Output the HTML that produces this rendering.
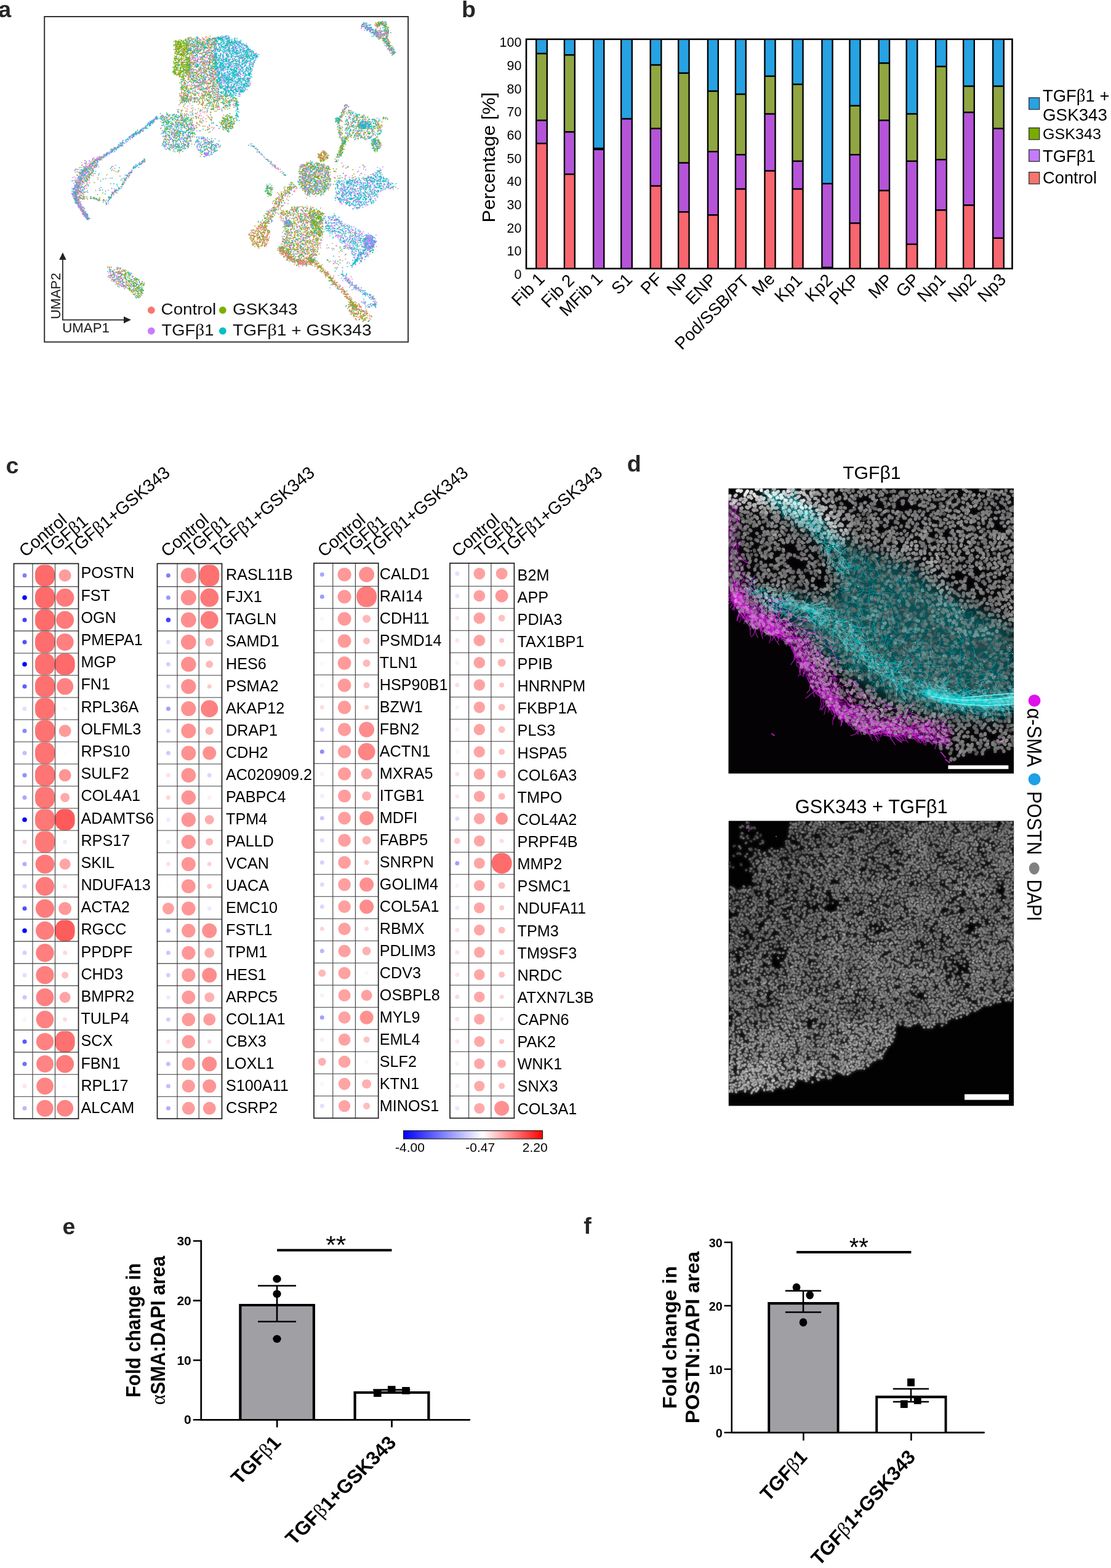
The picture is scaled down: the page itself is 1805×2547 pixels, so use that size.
<!DOCTYPE html>
<html lang="en"><head><meta charset="utf-8"><title>Figure</title>
<style>
html,body{margin:0;padding:0;background:#fff}
body{width:1805px;height:2547px}
svg{display:block;font-family:"Liberation Sans",sans-serif}
</style></head><body>
<svg width="1805" height="2547" viewBox="0 0 1805 2547">
<rect width="1805" height="2547" fill="#fff"/>
<g id="panel-b">
<rect x="871.17" y="63.75" width="17.65" height="23.25" fill="#27a2e2"/>
<rect x="871.17" y="87" width="17.65" height="108.5" fill="#90a642"/>
<rect x="871.17" y="195.5" width="17.65" height="37.5" fill="#b554d8"/>
<rect x="871.17" y="233" width="17.65" height="203.25" fill="#f8666f"/>
<path d="M871.17 63.75V436.25M888.82 63.75V436.25M870 87H890M870 195.5H890M870 233H890" stroke="#000" stroke-width="2.35" fill="none"/>
<rect x="916.92" y="63.75" width="16.9" height="25.5" fill="#27a2e2"/>
<rect x="916.92" y="89.25" width="16.9" height="125" fill="#90a642"/>
<rect x="916.92" y="214.25" width="16.9" height="68.75" fill="#b554d8"/>
<rect x="916.92" y="283" width="16.9" height="153.25" fill="#f8666f"/>
<path d="M916.92 63.75V436.25M933.82 63.75V436.25M915.75 89.25H935M915.75 214.25H935M915.75 283H935" stroke="#000" stroke-width="2.35" fill="none"/>
<rect x="964.17" y="63.75" width="17.15" height="177.15" fill="#27a2e2"/>
<rect x="964.17" y="240.9" width="17.15" height="1.8" fill="#90a642"/>
<rect x="964.17" y="242.7" width="17.15" height="193.55" fill="#b554d8"/>
<path d="M964.17 63.75V436.25M981.32 63.75V436.25M963 240.9H982.5M963 242.7H982.5" stroke="#000" stroke-width="2.35" fill="none"/>
<rect x="1009.17" y="63.75" width="17.65" height="129.25" fill="#27a2e2"/>
<rect x="1009.17" y="193" width="17.65" height="243.25" fill="#b554d8"/>
<path d="M1009.17 63.75V436.25M1026.83 63.75V436.25M1008 193H1028M1008 193H1028" stroke="#000" stroke-width="2.35" fill="none"/>
<rect x="1056.67" y="63.75" width="17.65" height="41.75" fill="#27a2e2"/>
<rect x="1056.67" y="105.5" width="17.65" height="103.25" fill="#90a642"/>
<rect x="1056.67" y="208.75" width="17.65" height="93.25" fill="#b554d8"/>
<rect x="1056.67" y="302" width="17.65" height="134.25" fill="#f8666f"/>
<path d="M1056.67 63.75V436.25M1074.33 63.75V436.25M1055.5 105.5H1075.5M1055.5 208.75H1075.5M1055.5 302H1075.5" stroke="#000" stroke-width="2.35" fill="none"/>
<rect x="1102.17" y="63.75" width="17.4" height="55" fill="#27a2e2"/>
<rect x="1102.17" y="118.75" width="17.4" height="145.75" fill="#90a642"/>
<rect x="1102.17" y="264.5" width="17.4" height="79.75" fill="#b554d8"/>
<rect x="1102.17" y="344.25" width="17.4" height="92" fill="#f8666f"/>
<path d="M1102.17 63.75V436.25M1119.58 63.75V436.25M1101 118.75H1120.75M1101 264.5H1120.75M1101 344.25H1120.75" stroke="#000" stroke-width="2.35" fill="none"/>
<rect x="1149.92" y="63.75" width="16.9" height="84.25" fill="#27a2e2"/>
<rect x="1149.92" y="148" width="16.9" height="98.25" fill="#90a642"/>
<rect x="1149.92" y="246.25" width="16.9" height="103" fill="#b554d8"/>
<rect x="1149.92" y="349.25" width="16.9" height="87" fill="#f8666f"/>
<path d="M1149.92 63.75V436.25M1166.83 63.75V436.25M1148.75 148H1168M1148.75 246.25H1168M1148.75 349.25H1168" stroke="#000" stroke-width="2.35" fill="none"/>
<rect x="1194.92" y="63.75" width="16.9" height="89.25" fill="#27a2e2"/>
<rect x="1194.92" y="153" width="16.9" height="98.25" fill="#90a642"/>
<rect x="1194.92" y="251.25" width="16.9" height="55.75" fill="#b554d8"/>
<rect x="1194.92" y="307" width="16.9" height="129.25" fill="#f8666f"/>
<path d="M1194.92 63.75V436.25M1211.83 63.75V436.25M1193.75 153H1213M1193.75 251.25H1213M1193.75 307H1213" stroke="#000" stroke-width="2.35" fill="none"/>
<rect x="1242.42" y="63.75" width="17.15" height="60" fill="#27a2e2"/>
<rect x="1242.42" y="123.75" width="17.15" height="61.25" fill="#90a642"/>
<rect x="1242.42" y="185" width="17.15" height="92.5" fill="#b554d8"/>
<rect x="1242.42" y="277.5" width="17.15" height="158.75" fill="#f8666f"/>
<path d="M1242.42 63.75V436.25M1259.58 63.75V436.25M1241.25 123.75H1260.75M1241.25 185H1260.75M1241.25 277.5H1260.75" stroke="#000" stroke-width="2.35" fill="none"/>
<rect x="1287.42" y="63.75" width="17.15" height="73.25" fill="#27a2e2"/>
<rect x="1287.42" y="137" width="17.15" height="124.75" fill="#90a642"/>
<rect x="1287.42" y="261.75" width="17.15" height="45.25" fill="#b554d8"/>
<rect x="1287.42" y="307" width="17.15" height="129.25" fill="#f8666f"/>
<path d="M1287.42 63.75V436.25M1304.58 63.75V436.25M1286.25 137H1305.75M1286.25 261.75H1305.75M1286.25 307H1305.75" stroke="#000" stroke-width="2.35" fill="none"/>
<rect x="1335.42" y="63.75" width="17.15" height="234.5" fill="#27a2e2"/>
<rect x="1335.42" y="298.25" width="17.15" height="136.25" fill="#b554d8"/>
<rect x="1335.42" y="434.5" width="17.15" height="1.75" fill="#f8666f"/>
<path d="M1335.42 63.75V436.25M1352.58 63.75V436.25M1334.25 298.25H1353.75M1334.25 298.25H1353.75M1334.25 434.5H1353.75" stroke="#000" stroke-width="2.35" fill="none"/>
<rect x="1380.42" y="63.75" width="17.15" height="108" fill="#27a2e2"/>
<rect x="1380.42" y="171.75" width="17.15" height="79.5" fill="#90a642"/>
<rect x="1380.42" y="251.25" width="17.15" height="111.25" fill="#b554d8"/>
<rect x="1380.42" y="362.5" width="17.15" height="73.75" fill="#f8666f"/>
<path d="M1380.42 63.75V436.25M1397.58 63.75V436.25M1379.25 171.75H1398.75M1379.25 251.25H1398.75M1379.25 362.5H1398.75" stroke="#000" stroke-width="2.35" fill="none"/>
<rect x="1427.67" y="63.75" width="17.4" height="38.75" fill="#27a2e2"/>
<rect x="1427.67" y="102.5" width="17.4" height="93" fill="#90a642"/>
<rect x="1427.67" y="195.5" width="17.4" height="114" fill="#b554d8"/>
<rect x="1427.67" y="309.5" width="17.4" height="126.75" fill="#f8666f"/>
<path d="M1427.67 63.75V436.25M1445.08 63.75V436.25M1426.5 102.5H1446.25M1426.5 195.5H1446.25M1426.5 309.5H1446.25" stroke="#000" stroke-width="2.35" fill="none"/>
<rect x="1472.67" y="63.75" width="17.65" height="121.25" fill="#27a2e2"/>
<rect x="1472.67" y="185" width="17.65" height="76.75" fill="#90a642"/>
<rect x="1472.67" y="261.75" width="17.65" height="135" fill="#b554d8"/>
<rect x="1472.67" y="396.75" width="17.65" height="39.5" fill="#f8666f"/>
<path d="M1472.67 63.75V436.25M1490.33 63.75V436.25M1471.5 185H1491.5M1471.5 261.75H1491.5M1471.5 396.75H1491.5" stroke="#000" stroke-width="2.35" fill="none"/>
<rect x="1520.17" y="63.75" width="17.65" height="44.25" fill="#27a2e2"/>
<rect x="1520.17" y="108" width="17.65" height="151.25" fill="#90a642"/>
<rect x="1520.17" y="259.25" width="17.65" height="82" fill="#b554d8"/>
<rect x="1520.17" y="341.25" width="17.65" height="95" fill="#f8666f"/>
<path d="M1520.17 63.75V436.25M1537.83 63.75V436.25M1519 108H1539M1519 259.25H1539M1519 341.25H1539" stroke="#000" stroke-width="2.35" fill="none"/>
<rect x="1565.17" y="63.75" width="17.65" height="76.25" fill="#27a2e2"/>
<rect x="1565.17" y="140" width="17.65" height="42.5" fill="#90a642"/>
<rect x="1565.17" y="182.5" width="17.65" height="150.75" fill="#b554d8"/>
<rect x="1565.17" y="333.25" width="17.65" height="103" fill="#f8666f"/>
<path d="M1565.17 63.75V436.25M1582.83 63.75V436.25M1564 140H1584M1564 182.5H1584M1564 333.25H1584" stroke="#000" stroke-width="2.35" fill="none"/>
<rect x="1613.17" y="63.75" width="17.65" height="76.25" fill="#27a2e2"/>
<rect x="1613.17" y="140" width="17.65" height="68.75" fill="#90a642"/>
<rect x="1613.17" y="208.75" width="17.65" height="178" fill="#b554d8"/>
<rect x="1613.17" y="386.75" width="17.65" height="49.5" fill="#f8666f"/>
<path d="M1613.17 63.75V436.25M1630.83 63.75V436.25M1612 140H1632M1612 208.75H1632M1612 386.75H1632" stroke="#000" stroke-width="2.35" fill="none"/>
<rect x="855" y="63.75" width="789.5" height="372.5" fill="none" stroke="#000" stroke-width="2.6"/>
<text x="0" y="0" font-size="22.3" text-anchor="end" transform="translate(847.3 76.4) scale(0.96 1)">100</text>
<text x="0" y="0" font-size="22.3" text-anchor="end" transform="translate(847.3 114.08) scale(0.96 1)">90</text>
<text x="0" y="0" font-size="22.3" text-anchor="end" transform="translate(847.3 151.75) scale(0.96 1)">80</text>
<text x="0" y="0" font-size="22.3" text-anchor="end" transform="translate(847.3 189.43) scale(0.96 1)">70</text>
<text x="0" y="0" font-size="22.3" text-anchor="end" transform="translate(847.3 227.1) scale(0.96 1)">60</text>
<text x="0" y="0" font-size="22.3" text-anchor="end" transform="translate(847.3 264.77) scale(0.96 1)">50</text>
<text x="0" y="0" font-size="22.3" text-anchor="end" transform="translate(847.3 302.45) scale(0.96 1)">40</text>
<text x="0" y="0" font-size="22.3" text-anchor="end" transform="translate(847.3 340.12) scale(0.96 1)">30</text>
<text x="0" y="0" font-size="22.3" text-anchor="end" transform="translate(847.3 377.8) scale(0.96 1)">20</text>
<text x="0" y="0" font-size="22.3" text-anchor="end" transform="translate(847.3 415.48) scale(0.96 1)">10</text>
<text x="0" y="0" font-size="22.3" text-anchor="end" transform="translate(847.3 453.15) scale(0.96 1)">0</text>
<text x="0" y="0" font-size="30.4" textLength="211.5" lengthAdjust="spacingAndGlyphs" transform="translate(804.3 361.5) rotate(-90)">Percentage [%]</text>
<text x="0" y="0" font-size="28" text-anchor="end" transform="translate(886.5 454.8) rotate(-45)">Fib 1</text>
<text x="0" y="0" font-size="28" text-anchor="end" transform="translate(934.88 457.3) rotate(-45)">Fib 2</text>
<text x="0" y="0" font-size="28" text-anchor="end" transform="translate(980.75 454.8) rotate(-45)">MFib 1</text>
<text x="0" y="0" font-size="28" text-anchor="end" transform="translate(1029 455.8) rotate(-45)">S1</text>
<text x="0" y="0" font-size="28" text-anchor="end" transform="translate(1077.5 454.8) rotate(-45)">PF</text>
<text x="0" y="0" font-size="28" text-anchor="end" transform="translate(1122.38 454.8) rotate(-45)">NP</text>
<text x="0" y="0" font-size="28" text-anchor="end" transform="translate(1165.88 455.8) rotate(-45)">ENP</text>
<text x="0" y="0" font-size="28" text-anchor="end" transform="translate(1218.88 458.3) rotate(-45)">Pod/SSB/PT</text>
<text x="0" y="0" font-size="28" text-anchor="end" transform="translate(1260.5 454.8) rotate(-45)">Me</text>
<text x="0" y="0" font-size="28" text-anchor="end" transform="translate(1305 457.3) rotate(-45)">Kp1</text>
<text x="0" y="0" font-size="28" text-anchor="end" transform="translate(1354.5 456.8) rotate(-45)">Kp2</text>
<text x="0" y="0" font-size="28" text-anchor="end" transform="translate(1398 456.8) rotate(-45)">PKP</text>
<text x="0" y="0" font-size="28" text-anchor="end" transform="translate(1451.88 456.8) rotate(-45)">MP</text>
<text x="0" y="0" font-size="28" text-anchor="end" transform="translate(1495.5 455.8) rotate(-45)">GP</text>
<text x="0" y="0" font-size="28" text-anchor="end" transform="translate(1538 455.8) rotate(-45)">Np1</text>
<text x="0" y="0" font-size="28" text-anchor="end" transform="translate(1587.5 455.8) rotate(-45)">Np2</text>
<text x="0" y="0" font-size="28" text-anchor="end" transform="translate(1636 455.8) rotate(-45)">Np3</text>
<rect x="1671.7" y="158.7" width="17" height="19" fill="#27a2e2" stroke="#3a3a3a" stroke-width="1.4"/>
<rect x="1671.7" y="207.7" width="17" height="19" fill="#7aab00" stroke="#3a3a3a" stroke-width="1.4"/>
<rect x="1671.7" y="243.2" width="17" height="19" fill="#c67bfd" stroke="#3a3a3a" stroke-width="1.4"/>
<rect x="1671.7" y="279.7" width="17" height="19" fill="#f7756c" stroke="#3a3a3a" stroke-width="1.4"/>
<text x="1694" y="165.3" font-size="27.4">TGF<tspan font-family='"Liberation Serif", serif' font-size="29">β</tspan>1 +</text>
<text x="1694" y="196" font-size="27.4" textLength="105" lengthAdjust="spacingAndGlyphs">GSK343</text>
<text x="1694" y="226" font-size="24.2" textLength="95" lengthAdjust="spacingAndGlyphs">GSK343</text>
<text x="1694" y="262.5" font-size="27.4">TGFβ1</text>
<text x="1694" y="297.5" font-size="27.4" textLength="88" lengthAdjust="spacingAndGlyphs">Control</text>
</g>
<g id="panel-c">
<text x="131.4" y="939.4" font-size="25.2">POSTN</text>
<text x="131.4" y="975.59" font-size="25.2">FST</text>
<text x="131.4" y="1011.78" font-size="25.2">OGN</text>
<text x="131.4" y="1047.97" font-size="25.2">PMEPA1</text>
<text x="131.4" y="1084.17" font-size="25.2">MGP</text>
<text x="131.4" y="1120.36" font-size="25.2">FN1</text>
<text x="131.4" y="1156.55" font-size="25.2">RPL36A</text>
<text x="131.4" y="1192.74" font-size="25.2">OLFML3</text>
<text x="131.4" y="1228.93" font-size="25.2">RPS10</text>
<text x="131.4" y="1265.12" font-size="25.2">SULF2</text>
<text x="131.4" y="1301.32" font-size="25.2">COL4A1</text>
<text x="131.4" y="1337.51" font-size="25.2">ADAMTS6</text>
<text x="131.4" y="1373.7" font-size="25.2">RPS17</text>
<text x="131.4" y="1409.89" font-size="25.2">SKIL</text>
<text x="131.4" y="1446.08" font-size="25.2">NDUFA13</text>
<text x="131.4" y="1482.28" font-size="25.2">ACTA2</text>
<text x="131.4" y="1518.47" font-size="25.2">RGCC</text>
<text x="131.4" y="1554.66" font-size="25.2">PPDPF</text>
<text x="131.4" y="1590.85" font-size="25.2">CHD3</text>
<text x="131.4" y="1627.04" font-size="25.2">BMPR2</text>
<text x="131.4" y="1663.23" font-size="25.2">TULP4</text>
<text x="131.4" y="1699.42" font-size="25.2">SCX</text>
<text x="131.4" y="1735.62" font-size="25.2">FBN1</text>
<text x="131.4" y="1771.81" font-size="25.2">RPL17</text>
<text x="131.4" y="1808" font-size="25.2">ALCAM</text>
<g style="filter:blur(0.5px)"><circle cx="40" cy="934.8" r="3.5" fill="#8080ff"/><rect x="57" y="917.55" width="32" height="34.5" rx="13" ry="14.5" fill="#ff6a6a"/><circle cx="105.6" cy="934.8" r="10" fill="#ff9c9c"/><circle cx="40" cy="970.86" r="3.75" fill="#0000ff"/><rect x="57" y="953.61" width="32" height="34.5" rx="13" ry="14.5" fill="#ff6b6b"/><circle cx="105.6" cy="970.86" r="14.75" fill="#ff7a7a"/><circle cx="40" cy="1006.92" r="3.5" fill="#4040ff"/><rect x="57" y="989.67" width="32" height="34.5" rx="13" ry="14.5" fill="#ff6c6c"/><circle cx="105.6" cy="1006.92" r="14.5" fill="#ff7a7a"/><circle cx="40" cy="1042.99" r="3.5" fill="#5050ff"/><rect x="57" y="1025.74" width="32" height="34.5" rx="13" ry="14.5" fill="#ff6e6e"/><circle cx="105.6" cy="1042.99" r="14" fill="#ff8080"/><circle cx="40" cy="1079.05" r="3.75" fill="#0000ff"/><rect x="57" y="1061.8" width="32" height="34.5" rx="13" ry="14.5" fill="#ff6f6f"/><rect x="89.6" y="1061.8" width="32" height="34.5" rx="13" ry="14.5" fill="#ff6a6a"/><circle cx="40" cy="1115.11" r="3.5" fill="#6060ff"/><rect x="57" y="1097.86" width="32" height="34.5" rx="13" ry="14.5" fill="#ff7070"/><circle cx="105.6" cy="1115.11" r="13.5" fill="#ff8282"/><circle cx="40" cy="1151.17" r="3.5" fill="#e0e0ff"/><rect x="57" y="1133.92" width="32" height="34.5" rx="13" ry="14.5" fill="#ff7171"/><circle cx="105.6" cy="1151.17" r="3.5" fill="#f6f6ff"/><circle cx="40" cy="1187.24" r="3.5" fill="#8888ff"/><rect x="57" y="1169.99" width="32" height="34.5" rx="13" ry="14.5" fill="#ff7272"/><circle cx="105.6" cy="1187.24" r="10" fill="#ff9a9a"/><circle cx="40" cy="1223.3" r="3.5" fill="#c0c0ff"/><rect x="57" y="1206.05" width="32" height="34.5" rx="13" ry="14.5" fill="#ff7373"/><circle cx="105.6" cy="1223.3" r="3" fill="#fafaff"/><circle cx="40" cy="1259.36" r="3.5" fill="#9090ff"/><rect x="57" y="1242.11" width="32" height="34.5" rx="13" ry="14.5" fill="#ff7474"/><circle cx="105.6" cy="1259.36" r="10" fill="#ff9494"/><circle cx="40" cy="1295.42" r="3.5" fill="#a8a8ff"/><rect x="57" y="1278.17" width="32" height="34.5" rx="13" ry="14.5" fill="#ff7676"/><circle cx="105.6" cy="1295.42" r="7.5" fill="#ffaaaa"/><circle cx="40" cy="1331.49" r="3.75" fill="#0000ff"/><rect x="57" y="1314.24" width="32" height="34.5" rx="13" ry="14.5" fill="#ff7777"/><rect x="89.6" y="1314.24" width="32" height="34.5" rx="13" ry="14.5" fill="#ff5a5a"/><circle cx="40" cy="1367.55" r="3.5" fill="#ffd8d8"/><rect x="57" y="1350.3" width="32" height="34.5" rx="13" ry="14.5" fill="#ff7878"/><circle cx="105.6" cy="1367.55" r="3.5" fill="#ececff"/><circle cx="40" cy="1403.61" r="3.5" fill="#b0b0ff"/><circle cx="73" cy="1403.61" r="15.4" fill="#ff7979"/><circle cx="105.6" cy="1403.61" r="9" fill="#ffa4a4"/><circle cx="40" cy="1439.67" r="3.5" fill="#d8d8ff"/><circle cx="73" cy="1439.67" r="15.24" fill="#ff7a7a"/><circle cx="105.6" cy="1439.67" r="3.5" fill="#ffe0e0"/><circle cx="40" cy="1475.74" r="3.5" fill="#5050ff"/><circle cx="73" cy="1475.74" r="15.08" fill="#ff7c7c"/><circle cx="105.6" cy="1475.74" r="10.5" fill="#ff9898"/><circle cx="40" cy="1511.8" r="3.75" fill="#0000ff"/><circle cx="73" cy="1511.8" r="14.93" fill="#ff7d7d"/><rect x="89.6" y="1494.55" width="32" height="34.5" rx="13" ry="14.5" fill="#ff5c5c"/><circle cx="40" cy="1547.86" r="3.5" fill="#d0d0ff"/><circle cx="73" cy="1547.86" r="14.77" fill="#ff7e7e"/><circle cx="105.6" cy="1547.86" r="3.5" fill="#ffd8d8"/><circle cx="40" cy="1583.92" r="3.5" fill="#e0e0ff"/><circle cx="73" cy="1583.92" r="14.61" fill="#ff7f7f"/><circle cx="105.6" cy="1583.92" r="5.5" fill="#ffc0c0"/><circle cx="40" cy="1619.99" r="3.5" fill="#c8c8ff"/><circle cx="73" cy="1619.99" r="14.45" fill="#ff8080"/><circle cx="105.6" cy="1619.99" r="9" fill="#ffa4a4"/><circle cx="40" cy="1656.05" r="3.5" fill="#f6f6ff"/><circle cx="73" cy="1656.05" r="14.29" fill="#ff8181"/><circle cx="105.6" cy="1656.05" r="3.5" fill="#ffdcdc"/><circle cx="40" cy="1692.11" r="3.5" fill="#5858ff"/><circle cx="73" cy="1692.11" r="14.13" fill="#ff8282"/><rect x="89.6" y="1674.86" width="32" height="34.5" rx="13" ry="14.5" fill="#ff7070"/><circle cx="40" cy="1728.17" r="3.5" fill="#7070ff"/><circle cx="73" cy="1728.17" r="13.98" fill="#ff8484"/><circle cx="105.6" cy="1728.17" r="14.5" fill="#ff7c7c"/><circle cx="40" cy="1764.24" r="3.5" fill="#ffe4e4"/><circle cx="73" cy="1764.24" r="13.82" fill="#ff8585"/><circle cx="105.6" cy="1764.24" r="3.5" fill="#f8f8ff"/><circle cx="40" cy="1800.3" r="3.5" fill="#b8b8ff"/><circle cx="73" cy="1800.3" r="13.66" fill="#ff8686"/><circle cx="105.6" cy="1800.3" r="13.5" fill="#ff8484"/></g>
<path d="M22.5 952.9H127.5M22.5 988.91H127.5M22.5 1024.92H127.5M22.5 1060.94H127.5M22.5 1096.95H127.5M22.5 1132.96H127.5M22.5 1168.97H127.5M22.5 1204.99H127.5M22.5 1241H127.5M22.5 1277.01H127.5M22.5 1313.03H127.5M22.5 1349.04H127.5M22.5 1385.05H127.5M22.5 1421.06H127.5M22.5 1457.08H127.5M22.5 1493.09H127.5M22.5 1529.1H127.5M22.5 1565.11H127.5M22.5 1601.12H127.5M22.5 1637.14H127.5M22.5 1673.15H127.5M22.5 1709.16H127.5M22.5 1745.18H127.5M22.5 1781.19H127.5M53 915.5V1817.2M89.5 915.5V1817.2" stroke="#3c3c3c" stroke-width="1.1" fill="none"/>
<rect x="22.5" y="915.5" width="105" height="901.7" fill="none" stroke="#1e1e1e" stroke-width="1.7"/>
<text font-size="28.2" transform="translate(41 906) rotate(-40)">Control</text>
<text font-size="28.2" transform="translate(78 906) rotate(-40)">TGF<tspan font-family='"Liberation Serif", serif' font-size="30">β</tspan>1</text>
<text font-size="28.2" transform="translate(117 906) rotate(-40)">TGF<tspan font-family='"Liberation Serif", serif' font-size="30">β</tspan>1+GSK343</text>
<text x="367" y="942.2" font-size="25.2">RASL11B</text>
<text x="367" y="978.28" font-size="25.2">FJX1</text>
<text x="367" y="1014.35" font-size="25.2">TAGLN</text>
<text x="367" y="1050.42" font-size="25.2">SAMD1</text>
<text x="367" y="1086.5" font-size="25.2">HES6</text>
<text x="367" y="1122.58" font-size="25.2">PSMA2</text>
<text x="367" y="1158.65" font-size="25.2">AKAP12</text>
<text x="367" y="1194.73" font-size="25.2">DRAP1</text>
<text x="367" y="1230.8" font-size="25.2">CDH2</text>
<text x="367" y="1266.88" font-size="25.2">AC020909.2</text>
<text x="367" y="1302.95" font-size="25.2">PABPC4</text>
<text x="367" y="1339.03" font-size="25.2">TPM4</text>
<text x="367" y="1375.1" font-size="25.2">PALLD</text>
<text x="367" y="1411.17" font-size="25.2">VCAN</text>
<text x="367" y="1447.25" font-size="25.2">UACA</text>
<text x="367" y="1483.33" font-size="25.2">EMC10</text>
<text x="367" y="1519.4" font-size="25.2">FSTL1</text>
<text x="367" y="1555.47" font-size="25.2">TPM1</text>
<text x="367" y="1591.55" font-size="25.2">HES1</text>
<text x="367" y="1627.62" font-size="25.2">ARPC5</text>
<text x="367" y="1663.7" font-size="25.2">COL1A1</text>
<text x="367" y="1699.78" font-size="25.2">CBX3</text>
<text x="367" y="1735.85" font-size="25.2">LOXL1</text>
<text x="367" y="1771.93" font-size="25.2">S100A11</text>
<text x="367" y="1808" font-size="25.2">CSRP2</text>
<g style="filter:blur(0.5px)"><circle cx="273.4" cy="934.8" r="3.5" fill="#8080ff"/><circle cx="306.3" cy="934.8" r="12.6" fill="#ff8c8c"/><rect x="324.2" y="917.55" width="32" height="34.5" rx="13" ry="14.5" fill="#ff7070"/><circle cx="273.4" cy="970.86" r="3.5" fill="#9898ff"/><circle cx="306.3" cy="970.86" r="12.51" fill="#ff8d8d"/><circle cx="340.2" cy="970.86" r="15" fill="#ff7878"/><circle cx="273.4" cy="1006.92" r="3.75" fill="#4040ff"/><circle cx="306.3" cy="1006.92" r="12.42" fill="#ff8d8d"/><circle cx="340.2" cy="1006.92" r="14.5" fill="#ff7c7c"/><circle cx="273.4" cy="1042.99" r="3.5" fill="#e0e0ff"/><circle cx="306.3" cy="1042.99" r="12.34" fill="#ff8e8e"/><circle cx="340.2" cy="1042.99" r="7" fill="#ffb4b4"/><circle cx="273.4" cy="1079.05" r="3.5" fill="#d0d0ff"/><circle cx="306.3" cy="1079.05" r="12.25" fill="#ff8f8f"/><circle cx="340.2" cy="1079.05" r="6" fill="#ffb8b8"/><circle cx="273.4" cy="1115.11" r="3.5" fill="#dcdcff"/><circle cx="306.3" cy="1115.11" r="12.16" fill="#ff8f8f"/><circle cx="340.2" cy="1115.11" r="3.5" fill="#ffc8c8"/><circle cx="273.4" cy="1151.17" r="3.5" fill="#a0a0ff"/><circle cx="306.3" cy="1151.17" r="12.07" fill="#ff9090"/><circle cx="340.2" cy="1151.17" r="14" fill="#ff8080"/><circle cx="273.4" cy="1187.24" r="3.5" fill="#d8d8ff"/><circle cx="306.3" cy="1187.24" r="11.99" fill="#ff9191"/><circle cx="340.2" cy="1187.24" r="6.5" fill="#ffb0b0"/><circle cx="273.4" cy="1223.3" r="3.5" fill="#ccccff"/><circle cx="306.3" cy="1223.3" r="11.9" fill="#ff9191"/><circle cx="340.2" cy="1223.3" r="11" fill="#ff9090"/><circle cx="273.4" cy="1259.36" r="3.5" fill="#ffe0e0"/><circle cx="306.3" cy="1259.36" r="11.81" fill="#ff9292"/><circle cx="340.2" cy="1259.36" r="3.5" fill="#d8d8ff"/><circle cx="273.4" cy="1295.42" r="3.5" fill="#ffd4d4"/><circle cx="306.3" cy="1295.42" r="11.72" fill="#ff9393"/><circle cx="340.2" cy="1295.42" r="3.5" fill="#fff0f0"/><circle cx="273.4" cy="1331.49" r="3.5" fill="#ececff"/><circle cx="306.3" cy="1331.49" r="11.64" fill="#ff9393"/><circle cx="340.2" cy="1331.49" r="7.5" fill="#ffacac"/><circle cx="273.4" cy="1367.55" r="3.5" fill="#f0f0ff"/><circle cx="306.3" cy="1367.55" r="11.55" fill="#ff9494"/><circle cx="340.2" cy="1367.55" r="6" fill="#ffb4b4"/><circle cx="273.4" cy="1403.61" r="3.5" fill="#ffe0e0"/><circle cx="306.3" cy="1403.61" r="11.46" fill="#ff9595"/><circle cx="340.2" cy="1403.61" r="3.5" fill="#ffd0d0"/><circle cx="273.4" cy="1439.67" r="3.5" fill="#fffcfc"/><circle cx="306.3" cy="1439.67" r="11.38" fill="#ff9595"/><circle cx="340.2" cy="1439.67" r="4" fill="#ffc8c8"/><circle cx="273.4" cy="1475.74" r="9.5" fill="#ffa0a0"/><circle cx="306.3" cy="1475.74" r="11.29" fill="#ff9696"/><circle cx="340.2" cy="1475.74" r="3.5" fill="#ececff"/><circle cx="273.4" cy="1511.8" r="3.5" fill="#c0c0ff"/><circle cx="306.3" cy="1511.8" r="11.2" fill="#ff9797"/><circle cx="340.2" cy="1511.8" r="12" fill="#ff9090"/><circle cx="273.4" cy="1547.86" r="3.5" fill="#c8c8ff"/><circle cx="306.3" cy="1547.86" r="11.11" fill="#ff9797"/><circle cx="340.2" cy="1547.86" r="8" fill="#ffacac"/><circle cx="273.4" cy="1583.92" r="3.5" fill="#d0d0ff"/><circle cx="306.3" cy="1583.92" r="11.03" fill="#ff9898"/><circle cx="340.2" cy="1583.92" r="12" fill="#ff8c8c"/><circle cx="273.4" cy="1619.99" r="3.5" fill="#ececff"/><circle cx="306.3" cy="1619.99" r="10.94" fill="#ff9999"/><circle cx="340.2" cy="1619.99" r="8" fill="#ffb0b0"/><circle cx="273.4" cy="1656.05" r="3.5" fill="#d0d0ff"/><circle cx="306.3" cy="1656.05" r="10.85" fill="#ff9999"/><circle cx="340.2" cy="1656.05" r="10" fill="#ff9c9c"/><circle cx="273.4" cy="1692.11" r="3.5" fill="#ffe4e4"/><circle cx="306.3" cy="1692.11" r="10.76" fill="#ff9a9a"/><circle cx="340.2" cy="1692.11" r="3.5" fill="#ffdcdc"/><circle cx="273.4" cy="1728.17" r="3.5" fill="#c0c0ff"/><circle cx="306.3" cy="1728.17" r="10.68" fill="#ff9b9b"/><circle cx="340.2" cy="1728.17" r="12" fill="#ff8c8c"/><circle cx="273.4" cy="1764.24" r="3.5" fill="#c0c0ff"/><circle cx="306.3" cy="1764.24" r="10.59" fill="#ff9b9b"/><circle cx="340.2" cy="1764.24" r="11" fill="#ff9494"/><circle cx="273.4" cy="1800.3" r="3.5" fill="#b0b0ff"/><circle cx="306.3" cy="1800.3" r="10.5" fill="#ff9c9c"/><circle cx="340.2" cy="1800.3" r="10.5" fill="#ff9898"/></g>
<path d="M255.5 952.9H360.5M255.5 988.91H360.5M255.5 1024.92H360.5M255.5 1060.94H360.5M255.5 1096.95H360.5M255.5 1132.96H360.5M255.5 1168.97H360.5M255.5 1204.99H360.5M255.5 1241H360.5M255.5 1277.01H360.5M255.5 1313.03H360.5M255.5 1349.04H360.5M255.5 1385.05H360.5M255.5 1421.06H360.5M255.5 1457.08H360.5M255.5 1493.09H360.5M255.5 1529.1H360.5M255.5 1565.11H360.5M255.5 1601.12H360.5M255.5 1637.14H360.5M255.5 1673.15H360.5M255.5 1709.16H360.5M255.5 1745.18H360.5M255.5 1781.19H360.5M288 915.5V1817.2M323.2 915.5V1817.2" stroke="#3c3c3c" stroke-width="1.1" fill="none"/>
<rect x="255.5" y="915.5" width="105" height="901.7" fill="none" stroke="#1e1e1e" stroke-width="1.7"/>
<text font-size="28.2" transform="translate(271.5 906) rotate(-40)">Control</text>
<text font-size="28.2" transform="translate(309 906) rotate(-40)">TGF<tspan font-family='"Liberation Serif", serif' font-size="30">β</tspan>1</text>
<text font-size="28.2" transform="translate(352 906) rotate(-40)">TGF<tspan font-family='"Liberation Serif", serif' font-size="30">β</tspan>1+GSK343</text>
<text x="616.8" y="941" font-size="25.2">CALD1</text>
<text x="616.8" y="977" font-size="25.2">RAI14</text>
<text x="616.8" y="1013" font-size="25.2">CDH11</text>
<text x="616.8" y="1049" font-size="25.2">PSMD14</text>
<text x="616.8" y="1085" font-size="25.2">TLN1</text>
<text x="616.8" y="1121" font-size="25.2">HSP90B1</text>
<text x="616.8" y="1157" font-size="25.2">BZW1</text>
<text x="616.8" y="1193" font-size="25.2">FBN2</text>
<text x="616.8" y="1229" font-size="25.2">ACTN1</text>
<text x="616.8" y="1265" font-size="25.2">MXRA5</text>
<text x="616.8" y="1301" font-size="25.2">ITGB1</text>
<text x="616.8" y="1337" font-size="25.2">MDFI</text>
<text x="616.8" y="1373" font-size="25.2">FABP5</text>
<text x="616.8" y="1409" font-size="25.2">SNRPN</text>
<text x="616.8" y="1445" font-size="25.2">GOLIM4</text>
<text x="616.8" y="1481" font-size="25.2">COL5A1</text>
<text x="616.8" y="1517" font-size="25.2">RBMX</text>
<text x="616.8" y="1553" font-size="25.2">PDLIM3</text>
<text x="616.8" y="1589" font-size="25.2">CDV3</text>
<text x="616.8" y="1625" font-size="25.2">OSBPL8</text>
<text x="616.8" y="1661" font-size="25.2">MYL9</text>
<text x="616.8" y="1697" font-size="25.2">EML4</text>
<text x="616.8" y="1733" font-size="25.2">SLF2</text>
<text x="616.8" y="1769" font-size="25.2">KTN1</text>
<text x="616.8" y="1805" font-size="25.2">MINOS1</text>
<g style="filter:blur(0.5px)"><circle cx="523.25" cy="933.25" r="3.5" fill="#a8a8ff"/><circle cx="559.6" cy="933.25" r="11.1" fill="#ff9898"/><circle cx="595.6" cy="933.25" r="12.5" fill="#ff9090"/><circle cx="523.25" cy="969.22" r="3.5" fill="#9c9cff"/><circle cx="559.6" cy="969.22" r="11.04" fill="#ff9898"/><rect x="579.1" y="952.47" width="33" height="33.5" rx="15" ry="16.5" fill="#ff7c7c"/><circle cx="523.25" cy="1005.2" r="3.5" fill="#f8f8ff"/><circle cx="559.6" cy="1005.2" r="10.98" fill="#ff9999"/><circle cx="595.6" cy="1005.2" r="6.5" fill="#ffb8b8"/><circle cx="523.25" cy="1041.17" r="3.5" fill="#f8f8ff"/><circle cx="559.6" cy="1041.17" r="10.92" fill="#ff9a9a"/><circle cx="595.6" cy="1041.17" r="5.5" fill="#ffbcbc"/><circle cx="523.25" cy="1077.14" r="3.5" fill="#fff8f8"/><circle cx="559.6" cy="1077.14" r="10.87" fill="#ff9a9a"/><circle cx="595.6" cy="1077.14" r="6" fill="#ffb8b8"/><circle cx="523.25" cy="1113.11" r="3.5" fill="#fff4f4"/><circle cx="559.6" cy="1113.11" r="10.81" fill="#ff9a9a"/><circle cx="595.6" cy="1113.11" r="5" fill="#ffc0c0"/><circle cx="523.25" cy="1149.09" r="3.5" fill="#ffdcdc"/><circle cx="559.6" cy="1149.09" r="10.75" fill="#ff9b9b"/><circle cx="595.6" cy="1149.09" r="3.5" fill="#ffc8c8"/><circle cx="523.25" cy="1185.06" r="3.5" fill="#d0d0ff"/><circle cx="559.6" cy="1185.06" r="10.69" fill="#ff9c9c"/><circle cx="595.6" cy="1185.06" r="12.5" fill="#ff8c8c"/><circle cx="523.25" cy="1221.03" r="3.5" fill="#8c8cff"/><circle cx="559.6" cy="1221.03" r="10.63" fill="#ff9c9c"/><circle cx="595.6" cy="1221.03" r="14" fill="#ff8484"/><circle cx="523.25" cy="1257.01" r="3.5" fill="#fff0f0"/><circle cx="559.6" cy="1257.01" r="10.57" fill="#ff9c9c"/><circle cx="595.6" cy="1257.01" r="9" fill="#ffa4a4"/><circle cx="523.25" cy="1292.98" r="3.5" fill="#f0f0ff"/><circle cx="559.6" cy="1292.98" r="10.52" fill="#ff9d9d"/><circle cx="595.6" cy="1292.98" r="7.5" fill="#ffb0b0"/><circle cx="523.25" cy="1328.95" r="3.5" fill="#c8c8ff"/><circle cx="559.6" cy="1328.95" r="10.46" fill="#ff9e9e"/><circle cx="595.6" cy="1328.95" r="11.5" fill="#ff9090"/><circle cx="523.25" cy="1364.92" r="3.5" fill="#e0e0ff"/><circle cx="559.6" cy="1364.92" r="10.4" fill="#ff9e9e"/><circle cx="595.6" cy="1364.92" r="7" fill="#ffb0b0"/><circle cx="523.25" cy="1400.9" r="3.5" fill="#d4d4ff"/><circle cx="559.6" cy="1400.9" r="10.34" fill="#ff9e9e"/><circle cx="595.6" cy="1400.9" r="4" fill="#ffc8c8"/><circle cx="523.25" cy="1436.87" r="3.5" fill="#dcdcff"/><circle cx="559.6" cy="1436.87" r="10.28" fill="#ff9f9f"/><circle cx="595.6" cy="1436.87" r="11.5" fill="#ff9090"/><circle cx="523.25" cy="1472.84" r="3.5" fill="#d8d8ff"/><circle cx="559.6" cy="1472.84" r="10.22" fill="#ffa0a0"/><circle cx="595.6" cy="1472.84" r="11.5" fill="#ff8c8c"/><circle cx="523.25" cy="1508.82" r="3.5" fill="#ffd4d4"/><circle cx="559.6" cy="1508.82" r="10.17" fill="#ffa0a0"/><circle cx="595.6" cy="1508.82" r="3.5" fill="#ffd8d8"/><circle cx="523.25" cy="1544.79" r="3.5" fill="#b8b8ff"/><circle cx="559.6" cy="1544.79" r="10.11" fill="#ffa0a0"/><circle cx="595.6" cy="1544.79" r="7" fill="#ffb0b0"/><circle cx="523.25" cy="1580.76" r="6" fill="#ffb8b8"/><circle cx="559.6" cy="1580.76" r="10.05" fill="#ffa1a1"/><circle cx="595.6" cy="1580.76" r="3.5" fill="#fff4f4"/><circle cx="523.25" cy="1616.74" r="3.5" fill="#f4f4ff"/><circle cx="559.6" cy="1616.74" r="9.99" fill="#ffa2a2"/><circle cx="595.6" cy="1616.74" r="9" fill="#ffa0a0"/><circle cx="523.25" cy="1652.71" r="3.5" fill="#a0a0ff"/><circle cx="559.6" cy="1652.71" r="9.93" fill="#ffa2a2"/><circle cx="595.6" cy="1652.71" r="11" fill="#ff9090"/><circle cx="523.25" cy="1688.68" r="3.5" fill="#ffecec"/><circle cx="559.6" cy="1688.68" r="9.88" fill="#ffa2a2"/><circle cx="595.6" cy="1688.68" r="5" fill="#ffc0c0"/><circle cx="523.25" cy="1724.65" r="6.5" fill="#ffb0b0"/><circle cx="559.6" cy="1724.65" r="9.82" fill="#ffa3a3"/><circle cx="595.6" cy="1724.65" r="3.5" fill="#f8f8ff"/><circle cx="523.25" cy="1760.63" r="3.5" fill="#f8f8ff"/><circle cx="559.6" cy="1760.63" r="9.76" fill="#ffa4a4"/><circle cx="595.6" cy="1760.63" r="7.5" fill="#ffb0b0"/><circle cx="523.25" cy="1796.6" r="3.5" fill="#e0e0ff"/><circle cx="559.6" cy="1796.6" r="9.7" fill="#ffa4a4"/><circle cx="595.6" cy="1796.6" r="5.5" fill="#ffbcbc"/></g>
<path d="M510 952.2H614.7M510 988.2H614.7M510 1024.21H614.7M510 1060.21H614.7M510 1096.22H614.7M510 1132.22H614.7M510 1168.22H614.7M510 1204.23H614.7M510 1240.23H614.7M510 1276.24H614.7M510 1312.24H614.7M510 1348.25H614.7M510 1384.25H614.7M510 1420.25H614.7M510 1456.26H614.7M510 1492.26H614.7M510 1528.27H614.7M510 1564.27H614.7M510 1600.28H614.7M510 1636.28H614.7M510 1672.28H614.7M510 1708.29H614.7M510 1744.29H614.7M510 1780.3H614.7M540.8 914.8V1816.3M577.4 914.8V1816.3" stroke="#3c3c3c" stroke-width="1.1" fill="none"/>
<rect x="510" y="914.8" width="104.7" height="901.5" fill="none" stroke="#1e1e1e" stroke-width="1.7"/>
<text font-size="28.2" transform="translate(526 906) rotate(-40)">Control</text>
<text font-size="28.2" transform="translate(563 906) rotate(-40)">TGF<tspan font-family='"Liberation Serif", serif' font-size="30">β</tspan>1</text>
<text font-size="28.2" transform="translate(601.5 906) rotate(-40)">TGF<tspan font-family='"Liberation Serif", serif' font-size="30">β</tspan>1+GSK343</text>
<text x="840.6" y="942.5" font-size="25.2">B2M</text>
<text x="840.6" y="978.62" font-size="25.2">APP</text>
<text x="840.6" y="1014.75" font-size="25.2">PDIA3</text>
<text x="840.6" y="1050.88" font-size="25.2">TAX1BP1</text>
<text x="840.6" y="1087" font-size="25.2">PPIB</text>
<text x="840.6" y="1123.12" font-size="25.2">HNRNPM</text>
<text x="840.6" y="1159.25" font-size="25.2">FKBP1A</text>
<text x="840.6" y="1195.38" font-size="25.2">PLS3</text>
<text x="840.6" y="1231.5" font-size="25.2">HSPA5</text>
<text x="840.6" y="1267.62" font-size="25.2">COL6A3</text>
<text x="840.6" y="1303.75" font-size="25.2">TMPO</text>
<text x="840.6" y="1339.88" font-size="25.2">COL4A2</text>
<text x="840.6" y="1376" font-size="25.2">PRPF4B</text>
<text x="840.6" y="1412.12" font-size="25.2">MMP2</text>
<text x="840.6" y="1448.25" font-size="25.2">PSMC1</text>
<text x="840.6" y="1484.38" font-size="25.2">NDUFA11</text>
<text x="840.6" y="1520.5" font-size="25.2">TPM3</text>
<text x="840.6" y="1556.62" font-size="25.2">TM9SF3</text>
<text x="840.6" y="1592.75" font-size="25.2">NRDC</text>
<text x="840.6" y="1628.88" font-size="25.2">ATXN7L3B</text>
<text x="840.6" y="1665" font-size="25.2">CAPN6</text>
<text x="840.6" y="1701.12" font-size="25.2">PAK2</text>
<text x="840.6" y="1737.25" font-size="25.2">WNK1</text>
<text x="840.6" y="1773.38" font-size="25.2">SNX3</text>
<text x="840.6" y="1809.5" font-size="25.2">COL3A1</text>
<g style="filter:blur(0.5px)"><circle cx="742.8" cy="931.7" r="3.5" fill="#e0e0ff"/><circle cx="778.8" cy="931.7" r="9.5" fill="#ffa0a0"/><circle cx="815.1" cy="931.7" r="9.5" fill="#ffa0a0"/><circle cx="742.8" cy="967.89" r="3.5" fill="#e4e4ff"/><circle cx="778.8" cy="967.89" r="9.46" fill="#ffa0a0"/><circle cx="815.1" cy="967.89" r="10.5" fill="#ff9898"/><circle cx="742.8" cy="1004.08" r="3.5" fill="#ffe8e8"/><circle cx="778.8" cy="1004.08" r="9.43" fill="#ffa1a1"/><circle cx="815.1" cy="1004.08" r="5.5" fill="#ffc0c0"/><circle cx="742.8" cy="1040.28" r="3.5" fill="#ffe4e4"/><circle cx="778.8" cy="1040.28" r="9.39" fill="#ffa1a1"/><circle cx="815.1" cy="1040.28" r="4" fill="#ffc8c8"/><circle cx="742.8" cy="1076.47" r="3.5" fill="#f4f4ff"/><circle cx="778.8" cy="1076.47" r="9.35" fill="#ffa1a1"/><circle cx="815.1" cy="1076.47" r="6.5" fill="#ffb4b4"/><circle cx="742.8" cy="1112.66" r="3.5" fill="#ffdcdc"/><circle cx="778.8" cy="1112.66" r="9.31" fill="#ffa2a2"/><circle cx="815.1" cy="1112.66" r="4" fill="#ffc4c4"/><circle cx="742.8" cy="1148.85" r="3.5" fill="#f4f4ff"/><circle cx="778.8" cy="1148.85" r="9.28" fill="#ffa2a2"/><circle cx="815.1" cy="1148.85" r="5.5" fill="#ffbcbc"/><circle cx="742.8" cy="1185.04" r="3.5" fill="#fff0f0"/><circle cx="778.8" cy="1185.04" r="9.24" fill="#ffa2a2"/><circle cx="815.1" cy="1185.04" r="5.5" fill="#ffc0c0"/><circle cx="742.8" cy="1221.23" r="3.5" fill="#fff4f4"/><circle cx="778.8" cy="1221.23" r="9.2" fill="#ffa3a3"/><circle cx="815.1" cy="1221.23" r="5" fill="#ffc0c0"/><circle cx="742.8" cy="1257.42" r="3.5" fill="#ffe0e0"/><circle cx="778.8" cy="1257.42" r="9.16" fill="#ffa3a3"/><circle cx="815.1" cy="1257.42" r="7" fill="#ffb0b0"/><circle cx="742.8" cy="1293.62" r="3.5" fill="#ffe8e8"/><circle cx="778.8" cy="1293.62" r="9.12" fill="#ffa3a3"/><circle cx="815.1" cy="1293.62" r="5.5" fill="#ffb8b8"/><circle cx="742.8" cy="1329.81" r="3.5" fill="#dcdcff"/><circle cx="778.8" cy="1329.81" r="9.09" fill="#ffa4a4"/><circle cx="815.1" cy="1329.81" r="10" fill="#ff9494"/><circle cx="742.8" cy="1366" r="5" fill="#ffc4c4"/><circle cx="778.8" cy="1366" r="9.05" fill="#ffa4a4"/><circle cx="815.1" cy="1366" r="3.5" fill="#ffdcdc"/><circle cx="742.8" cy="1402.19" r="3.5" fill="#a0a0ff"/><circle cx="778.8" cy="1402.19" r="9.01" fill="#ffa4a4"/><rect x="798.6" y="1385.44" width="33" height="33.5" rx="15" ry="16.5" fill="#ff6c6c"/><circle cx="742.8" cy="1438.38" r="3.5" fill="#fff0f0"/><circle cx="778.8" cy="1438.38" r="8.97" fill="#ffa5a5"/><circle cx="815.1" cy="1438.38" r="5.5" fill="#ffc0c0"/><circle cx="742.8" cy="1474.58" r="3.5" fill="#ececff"/><circle cx="778.8" cy="1474.58" r="8.94" fill="#ffa5a5"/><circle cx="815.1" cy="1474.58" r="4" fill="#ffc8c8"/><circle cx="742.8" cy="1510.77" r="3.5" fill="#ffe0e0"/><circle cx="778.8" cy="1510.77" r="8.9" fill="#ffa5a5"/><circle cx="815.1" cy="1510.77" r="5.5" fill="#ffbcbc"/><circle cx="742.8" cy="1546.96" r="3.5" fill="#ffe0e0"/><circle cx="778.8" cy="1546.96" r="8.86" fill="#ffa6a6"/><circle cx="815.1" cy="1546.96" r="4.5" fill="#ffc4c4"/><circle cx="742.8" cy="1583.15" r="3.5" fill="#ffe4e4"/><circle cx="778.8" cy="1583.15" r="8.82" fill="#ffa6a6"/><circle cx="815.1" cy="1583.15" r="5" fill="#ffc0c0"/><circle cx="742.8" cy="1619.34" r="3.5" fill="#ffd8d8"/><circle cx="778.8" cy="1619.34" r="8.79" fill="#ffa6a6"/><circle cx="815.1" cy="1619.34" r="3.5" fill="#ffd4d4"/><circle cx="742.8" cy="1655.53" r="3.5" fill="#ffe0e0"/><circle cx="778.8" cy="1655.53" r="8.75" fill="#ffa7a7"/><circle cx="815.1" cy="1655.53" r="3.5" fill="#ffecec"/><circle cx="742.8" cy="1691.72" r="3.5" fill="#ffe4e4"/><circle cx="778.8" cy="1691.72" r="8.71" fill="#ffa7a7"/><circle cx="815.1" cy="1691.72" r="4" fill="#ffc4c4"/><circle cx="742.8" cy="1727.92" r="3.5" fill="#fff0f0"/><circle cx="778.8" cy="1727.92" r="8.67" fill="#ffa7a7"/><circle cx="815.1" cy="1727.92" r="7" fill="#ffb0b0"/><circle cx="742.8" cy="1764.11" r="3.5" fill="#fff0f0"/><circle cx="778.8" cy="1764.11" r="8.64" fill="#ffa8a8"/><circle cx="815.1" cy="1764.11" r="5" fill="#ffbcbc"/><circle cx="742.8" cy="1800.3" r="3.5" fill="#e8e8ff"/><circle cx="778.8" cy="1800.3" r="8.6" fill="#ffa8a8"/><circle cx="815.1" cy="1800.3" r="12" fill="#ff9090"/></g>
<path d="M731 952.2H835.4M731 988.2H835.4M731 1024.21H835.4M731 1060.21H835.4M731 1096.22H835.4M731 1132.22H835.4M731 1168.22H835.4M731 1204.23H835.4M731 1240.23H835.4M731 1276.24H835.4M731 1312.24H835.4M731 1348.25H835.4M731 1384.25H835.4M731 1420.25H835.4M731 1456.26H835.4M731 1492.26H835.4M731 1528.27H835.4M731 1564.27H835.4M731 1600.28H835.4M731 1636.28H835.4M731 1672.28H835.4M731 1708.29H835.4M731 1744.29H835.4M731 1780.3H835.4M761.6 914.8V1816.3M797.9 914.8V1816.3" stroke="#3c3c3c" stroke-width="1.1" fill="none"/>
<rect x="731" y="914.8" width="104.4" height="901.5" fill="none" stroke="#1e1e1e" stroke-width="1.7"/>
<text font-size="28.2" transform="translate(744 906) rotate(-40)">Control</text>
<text font-size="28.2" transform="translate(781 906) rotate(-40)">TGF<tspan font-family='"Liberation Serif", serif' font-size="30">β</tspan>1</text>
<text font-size="28.2" transform="translate(819.5 906) rotate(-40)">TGF<tspan font-family='"Liberation Serif", serif' font-size="30">β</tspan>1+GSK343</text>
<defs><linearGradient id="cbg"><stop offset="0" stop-color="#00f"/><stop offset="0.57" stop-color="#fff"/><stop offset="1" stop-color="#f00"/></linearGradient></defs>
<rect x="655.5" y="1836.6" width="226" height="13.4" fill="url(#cbg)" stroke="#222" stroke-width="1.2"/>
<text x="642" y="1870.8" font-size="21">-4.00</text>
<text x="756.3" y="1870.8" font-size="21">-0.47</text>
<text x="848.8" y="1870.8" font-size="21">2.20</text>
</g>
<g id="panel-ef">
<g transform="translate(326.75 2306.25) scale(1 0.94)">
<path d="M0 -309V0H436" stroke="#000" stroke-width="2.7" fill="none" stroke-linecap="square"/>
<path d="M-13 0H0M-13 -103H0M-13 -206H0M-13 -309H0M123.38 0V13M309.75 0V13" stroke="#000" stroke-width="2.7" fill="none"/>
<text x="-16" y="7.7" font-size="21" text-anchor="end" font-weight="bold">0</text>
<text x="-16" y="-95.3" font-size="21" text-anchor="end" font-weight="bold">10</text>
<text x="-16" y="-198.3" font-size="21" text-anchor="end" font-weight="bold">20</text>
<text x="-16" y="-301.3" font-size="21" text-anchor="end" font-weight="bold">30</text>
<path d="M63.6 0V-198.14H183.15V0" fill="#a09fa4" stroke="#000" stroke-width="4.2"/>
<path d="M249.85 0V-46.97H369.65V0" fill="#fff" stroke="#000" stroke-width="4.2"/>
<path d="M0 0H436" stroke="#000" stroke-width="2.7" fill="none"/>
<path d="M92.25 -231.54H154.25M92.25 -169.74H154.25M123.25 -231.54V-169.74" stroke="#000" stroke-width="2.7" fill="none"/>
<path d="M279.5 -51.72H339.5M279.5 -46.94H339.5M309.5 -51.72V-46.94" stroke="#000" stroke-width="2.7" fill="none"/>
<circle cx="123.25" cy="-243.48" r="6.7"/>
<circle cx="123.25" cy="-217.48" r="6.7"/>
<circle cx="123.25" cy="-139.77" r="6.7"/>
<rect x="280.2" y="-52.18" width="12.6" height="12.6"/>
<rect x="303.2" y="-58.55" width="12.6" height="12.6"/>
<rect x="326.45" y="-56.69" width="12.6" height="12.6"/>
<path d="M123.38 -293H309.75" stroke="#000" stroke-width="4.2"/>
<text x="219.06" y="-287" font-size="42.5" text-anchor="middle">**</text>
<text font-size="32.9" font-weight="bold" text-anchor="middle" transform="translate(-98.5 -154.5) rotate(-90)">Fold change in</text>
<text font-size="32.9" font-weight="bold" text-anchor="middle" transform="translate(-58.5 -154.5) rotate(-90)"><tspan font-family='"Liberation Serif", serif' font-weight="normal" font-size="34">α</tspan>SMA:DAPI area</text>
<text font-size="32.6" font-weight="bold" text-anchor="end" transform="translate(131.38 41) rotate(-46.5)">TGF<tspan font-family='"Liberation Serif", serif' font-weight="normal" font-size="33">β</tspan>1</text>
<text font-size="32.6" font-weight="bold" text-anchor="end" transform="translate(318.75 41) rotate(-46.5)">TGF<tspan font-family='"Liberation Serif", serif' font-weight="normal" font-size="33">β</tspan>1+GSK343</text>
</g>
<g transform="translate(1188.75 2327) scale(0.94 1)">
<path d="M0 -309V0H436" stroke="#000" stroke-width="2.7" fill="none" stroke-linecap="square"/>
<path d="M-13 0H0M-13 -103H0M-13 -206H0M-13 -309H0M124.07 0V13M310.25 0V13" stroke="#000" stroke-width="2.7" fill="none"/>
<text x="-16" y="7.7" font-size="21" text-anchor="end" font-weight="bold">0</text>
<text x="-16" y="-95.3" font-size="21" text-anchor="end" font-weight="bold">10</text>
<text x="-16" y="-198.3" font-size="21" text-anchor="end" font-weight="bold">20</text>
<text x="-16" y="-301.3" font-size="21" text-anchor="end" font-weight="bold">30</text>
<path d="M64.34 0V-209.9H183.81V0" fill="#a09fa4" stroke="#000" stroke-width="4.2"/>
<path d="M250.51 0V-57.9H369.99V0" fill="#fff" stroke="#000" stroke-width="4.2"/>
<path d="M0 0H436" stroke="#000" stroke-width="2.7" fill="none"/>
<path d="M92.68 -230.25H154.68M92.68 -195.5H154.68M123.68 -230.25V-195.5" stroke="#000" stroke-width="2.7" fill="none"/>
<path d="M278.85 -71H340.85M278.85 -50H340.85M309.85 -71V-50" stroke="#000" stroke-width="2.7" fill="none"/>
<circle cx="112.02" cy="-235.75" r="6.7"/>
<circle cx="135.06" cy="-223.25" r="6.7"/>
<circle cx="123.68" cy="-179" r="6.7"/>
<rect x="303.55" y="-87.8" width="12.6" height="12.6"/>
<rect x="291.63" y="-52.55" width="12.6" height="12.6"/>
<rect x="314.94" y="-58.8" width="12.6" height="12.6"/>
<path d="M112.02 -293H310.25" stroke="#000" stroke-width="4.2"/>
<text x="219.66" y="-287" font-size="42.5" text-anchor="middle">**</text>
<text font-size="32.9" font-weight="bold" text-anchor="middle" transform="translate(-96 -154.5) rotate(-90)">Fold change in</text>
<text font-size="32.9" font-weight="bold" text-anchor="middle" transform="translate(-56 -154.5) rotate(-90)">POSTN:DAPI area</text>
<text font-size="32.6" font-weight="bold" text-anchor="end" transform="translate(132.07 41) rotate(-46.5)">TGF<tspan font-family='"Liberation Serif", serif' font-weight="normal" font-size="33">β</tspan>1</text>
<text font-size="32.6" font-weight="bold" text-anchor="end" transform="translate(319.25 41) rotate(-46.5)">TGF<tspan font-family='"Liberation Serif", serif' font-weight="normal" font-size="33">β</tspan>1+GSK343</text>
</g>
</g>
<g id="panel-a">
<g transform="scale(.5)" fill="none" stroke-width="3.3" stroke-linecap="square" style="filter:blur(.25px)">
<path stroke="#F8766D" d="M1244 69zm-8 3zm19 1zm-25 2zm4 0zm8 0zm8 1zm-66 1zm38 1zm9 0zm-52 1zm61 0zm1 1zm-52 1zm29 0zm4 1zm-37 1zm35 1zm-38 1zm71 0zm-28 1zm31 0zm-71 1zm66 0zm-62 2zm36 2zm-51 2zm78 0zm-44 5zm54 0zm1 1zm-34 1zm-28 1zm38 0zm-6 2zm23 0zm2 0zm3 0zm-34 1zm11 2zm-13 1zm5 1zm33 0zm-50 1zm33 0zm15 1zm-17 1zm-15 1zm8 1zm11 2zm-18 2zm7 1zm9 0zm10 2zm-30 1zm8 1zm-593 1zm56 1zm8 0zm537 0zm-601 1zm19 0zm33 0zm-81 1zm29 2zm61 0zm551 0zm-641 1zm87 0zm-83 1zm25 2zm603 0zm-554 1zm-51 1zm620 1zm-644 2zm23 0zm21 1zm19 0zm-29 1zm-33 1zm14 0zm36 0zm584 0zm5 0zm-497 1zm502 0zm-590 1zm594 0zm-642 1zm31 0zm36 0zm568 0zm6 0zm-691 1zm85 0zm23 0zm-54 1zm15 0zm14 0zm3 0zm16 0zm-44 1zm31 0zm37 0zm-45 1zm8 0zm-27 1zm623 0zm-649 2zm32 0zm164 0zm-185 1zm59 0zm-95 1zm83 0zm590 0zm-671 1zm693 0zm-609 2zm13 0zm592 0zm-656 1zm39 0zm-44 2zm54 0zm-85 1zm67 0zm49 0zm-55 1zm-1 1zm626 0zm12 0zm-667 1zm36 0zm12 0zm607 0zm-606 1zm17 0zm3 0zm11 0zm-79 1zm64 0zm589 0zm-662 1zm212 0zm-192 1zm15 1zm-45 2zm68 0zm615 0zm-660 1zm14 0zm48 0zm-85 1zm3 0zm25 0zm54 0zm6 0zm-41 1zm-53 2zm101 0zm-32 3zm27 0zm-97 1zm35 0zm40 2zm-89 1zm119 0zm-3 3zm64 0zm12 0zm-117 1zm45 0zm3 1zm-24 1zm-17 3zm38 0zm-83 1zm67 0zm12 0zm-75 1zm51 2zm16 0zm-46 1zm62 0zm-69 1zm72 2zm59 0zm-79 1zm-71 1zm64 0zm-50 1zm5 0zm75 0zm-21 1zm2 0zm-35 1zm6 0zm18 0zm8 0zm-59 1zm2 0zm90 0zm-119 1zm14 0zm48 0zm5 1zm-35 1zm31 0zm-31 1zm-16 1zm13 0zm55 0zm-80 1zm19 0zm60 0zm-67 1zm63 0zm3 1zm-76 1zm20 1zm81 0zm-90 1zm5 0zm152 0zm-133 1zm-3 1zm33 1zm50 0zm-79 1zm29 1zm-54 1zm42 0zm121 0zm-84 1zm-77 1zm2 0zm7 0zm64 0zm-112 2zm45 0zm41 0zm19 0zm12 1zm-78 1zm22 0zm43 0zm-79 1zm46 0zm53 0zm-72 1zm13 1zm56 0zm-73 2zm23 0zm-25 2zm21 0zm56 0zm-61 1zm-12 1zm13 1zm-35 1zm12 0zm39 0zm37 0zm67 0zm-152 1zm74 2zm25 0zm-130 1zm78 0zm37 0zm3 0zm25 0zm-91 1zm12 0zm47 1zm-65 1zm29 0zm-24 1zm66 0zm-78 1zm158 0zm-154 1zm1 1zm47 0zm-37 1zm65 0zm-84 1zm34 0zm58 0zm-26 1zm-49 1zm51 0zm16 0zm-37 1zm-35 1zm69 1zm4 0zm-100 1zm154 0zm-128 1zm17 0zm57 0zm-109 1zm23 0zm15 0zm73 0zm-38 1zm18 0zm10 0zm7 0zm20 0zm-82 1zm12 0zm161 0zm-175 1zm52 0zm-22 3zm38 1zm-101 1zm14 0zm71 0zm12 0zm-59 1zm20 0zm37 0zm77 0zm-131 1zm5 0zm19 0zm42 0zm108 1zm-129 1zm-53 3zm-36 2zm51 1zm-23 1zm13 0zm57 0zm-96 1zm3 1zm36 0zm6 0zm5 0zm28 0zm18 0zm-75 1zm29 0zm-38 1zm73 0zm15 0zm-26 2zm-41 1zm23 0zm40 1zm-64 1zm149 0zm-108 1zm-58 1zm9 0zm27 0zm-43 1zm37 0zm2 0zm55 0zm5 0zm-70 1zm55 0zm-35 1zm5 3zm36 0zm-85 2zm54 0zm1 0zm17 1zm-63 2zm-29 1zm11 0zm42 0zm59 0zm-22 2zm11 0zm-33 1zm43 2zm8 0zm-124 2zm18 0zm84 0zm-42 1zm-41 1zm27 0zm14 0zm-47 1zm4 0zm7 0zm-22 1zm20 0zm79 0zm-88 4zm93 0zm-97 1zm90 0zm23 0zm-112 1zm46 0zm72 0zm-123 1zm44 0zm-12 1zm93 0zm-85 1zm93 0zm1 0zm-126 3zm21 0zm4 0zm12 0zm113 0zm-135 2zm87 0zm37 1zm32 0zm-149 1zm14 0zm10 0zm118 0zm2 0zm-158 1zm74 2zm-74 1zm142 0zm-26 1zm-13 1zm-122 1zm93 0zm80 1zm-100 1zm108 1zm-111 2zm100 0zm368 0zm-456 2zm33 0zm58 0zm-95 1zm-55 2zm93 0zm417 0zm-427 1zm72 0zm367 1zm-423 1zm4 0zm-68 5zm-37 1zm112 0zm-12 1zm-50 2zm-70 1zm525 0zm22 0zm-527 3zm52 3zm475 0zm-508 5zm498 0zm-485 2zm44 2zm453 0zm-524 1zm114 0zm455 0zm-634 1zm100 0zm25 0zm-81 1zm516 0zm-523 2zm523 0zm-473 1zm519 1zm-493 1zm450 0zm-384 1zm25 0zm356 0zm66 0zm-633 1zm48 0zm161 0zm408 0zm-521 1zm90 0zm-58 2zm465 0zm-8 1zm75 0zm-614 1zm626 0zm3 0zm-67 1zm-499 2zm8 0zm444 0zm57 0zm62 0zm-112 2zm46 0zm12 0zm-497 2zm460 0zm99 1zm-64 1zm17 0zm-528 1zm508 0zm-438 1zm465 0zm-445 1zm483 0zm1 1zm-95 1zm7 1zm51 0zm-19 1zm-41 1zm-400 1zm-82 2zm516 1zm2 0zm12 0zm63 0zm-630 1zm144 0zm400 0zm53 0zm-632 1zm149 0zm8 0zm377 0zm82 0zm-518 1zm60 1zm499 0zm6 0zm-600 1zm49 0zm43 0zm435 0zm-437 2zm407 0zm40 0zm-483 1zm16 0zm492 0zm6 0zm-602 1zm-65 1zm634 0zm-498 1zm448 2zm-666 2zm642 0zm2 1zm-569 1zm649 0zm-727 1zm752 0zm-525 1zm425 1zm-554 1zm657 1zm-28 1zm-745 2zm729 0zm-580 1zm580 0zm32 0zm0 1zm-766 3zm676 0zm20 2zm-508 3zm586 0zm-21 1zm-45 1zm9 0zm-584 2zm565 0zm96 0zm-540 3zm505 0zm-83 1zm14 0zm-10 1zm-444 3zm452 1zm-507 1zm614 1zm-17 1zm-660 1zm569 1zm1 0zm109 0zm-119 3zm2 1zm8 1zm92 0zm-97 1zm-533 3zm17 2zm221 0zm290 1zm-537 2zm543 0zm111 0zm-565 2zm-101 2zm664 1zm-540 3zm534 1zm-105 1zm-5 2zm-59 1zm-2 1zm57 1zm-55 3zm-704 2zm236 0zm467 1zm5 0zm1 2zm2 0zm-6 1zm1 0zm6 0zm-22 1zm8 0zm14 0zm-383 1zm362 1zm70 0zm-72 1zm18 1zm49 0zm-63 2zm5 1zm18 1zm-23 1zm57 0zm-35 1zm1 0zm-18 2zm6 0zm13 0zm-3 1zm-748 1zm5 1zm6 0zm4 0zm722 0zm-582 1zm395 0zm-561 2zm751 0zm-741 1zm13 0zm775 0zm-59 1zm-766 1zm775 0zm-6 1zm-573 1zm404 0zm-558 1zm726 0zm-727 3zm566 0zm-575 1zm-10 2zm8 1zm148 0zm548 0zm19 0zm-564 1zm552 0zm44 0zm-169 1zm130 0zm-127 1zm154 0zm-149 2zm-598 1zm702 0zm40 0zm-54 1zm6 1zm64 0zm-753 1zm70 0zm626 1zm-708 1zm8 0zm12 0zm733 0zm22 0zm-783 1zm743 0zm-735 1zm718 0zm23 0zm-131 1zm171 1zm-12 1zm-773 1zm83 1zm672 0zm5 0zm-763 1zm794 0zm-78 1zm-727 2zm746 0zm24 0zm-753 1zm143 0zm614 0zm15 0zm-755 1zm686 0zm2 0zm16 2zm42 0zm-137 1zm87 0zm-699 2zm723 0zm-16 2zm-720 1zm690 1zm-700 1zm749 1zm39 0zm3 1zm-783 1zm699 0zm1 0zm80 1zm60 0zm-860 1zm792 0zm-773 1zm708 0zm39 1zm4 0zm3 0zm-57 1zm174 0zm-183 2zm115 0zm-103 1zm27 1zm61 0zm-818 1zm781 0zm30 0zm-45 1zm-761 1zm758 0zm-31 1zm2 0zm19 0zm-23 1zm-731 1zm811 0zm-774 2zm714 0zm11 0zm-18 1zm44 1zm21 1zm3 1zm-773 4zm685 0zm6 1zm87 2zm-785 1zm-27 1zm683 0zm59 1zm21 0zm10 0zm-157 3zm150 0zm36 0zm-49 1zm2 0zm191 0zm-956 1zm768 0zm-769 1zm29 0zm666 0zm118 0zm-803 1zm698 1zm52 0zm10 1zm-760 1zm-4 1zm18 0zm797 0zm-823 1zm38 0zm591 0zm75 0zm34 0zm-20 1zm37 0zm-115 1zm101 0zm12 1zm42 0zm-2 2zm-781 1zm772 0zm-70 1zm34 0zm11 1zm-13 2zm-616 1zm540 0zm43 0zm-700 1zm4 0zm114 0zm-125 1zm678 0zm-26 1zm-648 1zm15 0zm765 0zm-120 1zm297 0zm-271 1zm-680 1zm744 3zm-84 1zm6 2zm116 0zm-773 1zm-32 2zm697 0zm-687 2zm658 0zm-662 2zm-3 1zm3 0zm659 0zm-656 1zm29 0zm30 0zm-58 2zm4 0zm4 0zm17 0zm639 1zm-594 2zm592 0zm220 0zm-884 1zm11 0zm653 0zm-589 2zm585 0zm8 0zm-665 1zm12 1zm627 0zm16 0zm-649 1zm660 0zm210 1zm-200 1zm-670 1zm642 1zm-639 2zm-4 1zm641 1zm4 0zm-641 1zm652 0zm-2 2zm91 2zm-18 2zm-712 1zm2 1zm633 0zm64 0zm3 0zm-81 1zm59 0zm-50 1zm-9 1zm153 0zm-776 1zm624 0zm-628 1zm649 1zm42 0zm33 0zm-88 2zm66 0zm13 0zm21 0zm-53 1zm65 0zm-740 1zm3 0zm733 0zm-735 1zm1 0zm616 0zm121 0zm-124 2zm100 0zm36 0zm-147 1zm45 0zm43 0zm7 1zm-15 1zm71 0zm10 1zm-758 1zm729 0zm-130 1zm148 1zm7 1zm23 0zm-165 1zm82 0zm8 0zm21 0zm8 0zm13 0zm-741 1zm728 0zm33 0zm-759 1zm597 0zm41 0zm8 0zm-10 1zm110 0zm-38 1zm-712 2zm598 0zm93 0zm-34 1zm18 0zm54 0zm12 0zm19 0zm49 0zm-111 1zm28 0zm-119 1zm43 0zm52 0zm-9 1zm44 0zm-733 1zm598 0zm3 0zm134 0zm4 0zm22 0zm-39 1zm-723 2zm598 1zm0 1zm-4 1zm99 0zm-35 1zm29 0zm49 1zm-41 1zm67 0zm4 0zm-134 1zm53 1zm28 0zm-63 1zm46 0zm8 0zm-66 1zm12 1zm17 0zm73 0zm-25 1zm-137 1zm1 0zm108 0zm26 0zm46 0zm-18 1zm1 0zm-54 1zm40 0zm85 0zm-242 2zm161 0zm16 0zm3 1zm3 0zm8 0zm5 0zm62 0zm-174 1zm56 0zm-42 1zm65 0zm-7 1zm-161 1zm91 0zm2 2zm89 0zm-103 1zm69 1zm29 0zm22 0zm-204 2zm19 0zm77 0zm-91 1zm1 0zm187 0zm-202 1zm27 0zm92 0zm73 0zm-176 1zm163 0zm-171 1zm12 0zm140 0zm40 0zm-195 2zm7 0zm2 0zm146 2zm-170 1zm40 0zm127 0zm10 0zm-168 2zm2 0zm15 0zm189 0zm-222 1zm24 0zm22 0zm74 1zm59 1zm-125 1zm64 0zm-4 1zm30 0zm77 0zm1 0zm-185 1zm3 0zm153 0zm27 0zm-161 1zm135 0zm-196 1zm38 0zm5 0zm76 0zm32 0zm-143 1zm38 0zm274 0zm-305 1zm99 0zm-102 1zm154 1zm-127 1zm20 0zm122 0zm21 0zm-147 1zm117 0zm-171 1zm119 0zm13 0zm8 0zm-137 1zm6 0zm15 0zm12 0zm15 1zm124 0zm47 0zm5 0zm-3 1zm-221 1zm25 0zm153 0zm-64 1zm-104 1zm140 0zm10 0zm20 0zm1 0zm-154 1zm12 0zm120 0zm8 1zm34 0zm-175 1zm10 0zm13 0zm88 0zm-138 1zm-5 1zm181 1zm-137 1zm8 1zm5 0zm117 0zm48 0zm-70 1zm-109 1zm68 0zm1 0zm60 0zm-141 1zm30 0zm-53 1zm109 0zm233 0zm-303 1zm12 0zm-12 1zm68 0zm5 0zm66 0zm-172 1zm19 0zm13 0zm-14 1zm133 0zm29 0zm8 0zm-178 1zm7 0zm77 0zm100 0zm-176 1zm77 0zm44 0zm-134 1zm8 0zm88 0zm24 0zm-93 1zm11 0zm83 0zm19 0zm72 0zm-39 1zm-176 1zm156 0zm96 0zm-253 1zm39 0zm79 2zm-109 1zm128 0zm64 0zm-194 1zm180 0zm146 0zm-308 1zm8 0zm-22 2zm138 0zm48 0zm-84 1zm31 0zm-37 1zm21 0zm13 0zm11 0zm37 0zm-178 1zm178 0zm-101 1zm103 0zm-94 1zm16 0zm3 0zm21 0zm41 0zm-94 1zm67 0zm-60 1zm-3 1zm3 0zm2 0zm-7 1zm45 0zm9 0zm48 0zm-45 1zm64 0zm-123 1zm1 0zm58 0zm52 1zm1 0zm-102 2zm69 0zm-74 1zm12 1zm47 0zm-59 1zm5 0zm78 0zm25 1zm-113 1zm27 0zm-14 1zm14 0zm7 0zm45 0zm29 0zm-88 1zm-4 1zm9 1zm-27 1zm2 0zm8 0zm7 0zm-11 1zm108 0zm-105 1zm14 0zm47 0zm-50 1zm7 0zm27 0zm11 0zm8 0zm142 0zm-197 2zm2 0zm8 0zm74 0zm19 0zm-94 1zm84 0zm-83 1zm69 0zm-75 1zm39 1zm-25 1zm6 0zm2 0zm-27 1zm17 0zm8 0zm35 0zm116 0zm-160 1zm7 0zm56 0zm-73 1zm11 1zm2 0zm67 0zm-77 1zm6 0zm31 0zm32 0zm-70 1zm1 0zm2 0zm51 0zm15 0zm-62 1zm51 0zm4 0zm-47 1zm10 0zm164 0zm37 0zm-225 1zm32 0zm50 0zm159 0zm-154 1zm-56 1zm17 0zm20 0zm19 0zm1 0zm-92 1zm16 0zm6 0zm19 0zm41 0zm6 0zm-14 2zm4 0zm9 0zm1 0zm-48 1zm15 0zm5 0zm13 0zm7 0zm-31 1zm3 0zm33 0zm-62 1zm56 0zm4 0zm-44 1zm17 0zm2 0zm1 0zm-32 1zm11 0zm24 0zm5 0zm10 0zm-36 1zm4 0zm5 0zm13 0zm-35 1zm15 0zm8 0zm2 0zm12 0zm-21 1zm8 0zm5 0zm19 0zm-38 2zm23 0zm-19 1zm12 0zm5 0zm-5 1zm26 0zm-34 1zm5 0zm2 0zm21 0zm6 0zm-15 1zm34 1zm8 0zm-54 2zm38 1zm17 0zm-8 1zm9 0zm-689 1zm680 0zm11 0zm-686 1zm676 1zm12 0zm-688 1zm678 1zm-655 4zm11 0zm9 1zm-28 2zm-7 5zm13 0zm8 0zm6 0zm653 0zm9 0zm2 0zm10 0zm-5 2zm4 0zm-2 1zm-672 1zm-22 1zm696 1zm-681 2zm13 1zm9 0zm12 1zm640 0zm1 0zm1 1zm1 0zm14 2zm-682 4zm682 0zm-691 1zm-24 1zm36 0zm680 1zm-697 2zm17 0zm685 0zm-681 3zm-29 2zm4 1zm25 0zm681 1zm-713 1zm2 0zm700 0zm9 0zm-688 1zm71 0zm-49 1zm727 0zm-747 1zm-1 2zm46 0zm656 1zm-5 2zm-690 2zm683 0zm20 2zm-702 2zm6 1zm45 0zm-54 1zm45 1zm664 0zm-672 1zm657 0zm11 2zm2 0zm-696 1zm707 0zm-693 1zm32 0zm658 1zm-693 2zm693 3zm4 1zm-692 1zm18 0zm677 2zm-6 2zm4 1zm3 2zm-4 4zm1 0zm12 1zm2 1zm2 0zm-6 2zm-5 5zm13 2zm-8 3zm3 0zm13 0zm-12 1zm5 3zm-4 1zm4 0zm5 5zm-1 1zm47 4zm38 0zm-78 4zm9 0zm-14 2zm13 0zm-17 1zm6 0zm3 0zm1 0zm1 0zm-7 1zm5 0zm15 0zm-6 1zm-5 1zm4 0zm-14 1zm11 0zm-18 2zm2 1zm17 0zm22 0zm-15 1zm10 0zm4 0zm-15 1zm-10 1zm11 0zm-13 3zm5 0zm16 0zm-20 1zm3 0zm2 0zm11 2zm27 1zm-14 1zm-39 1zm21 0zm22 0zm-45 2zm6 1zm-1 2zm45 0zm-46 1zm52 0zm-32 2zm26 1zm-25 1zm30 2zm-28 2zm33 2zm-40 3zm15 0zm32 1zm6 0zm-58 1zm14 1zm23 3zm-32 1zm2 1zm-1 2zm3 2zm22 2zm16 2z"/>
<path stroke="#7CAE00" d="M1231 71zm16 2zm-26 1zm16 0zm9 1zm-23 2zm14 0zm-6 1zm12 1zm13 0zm-24 1zm-8 1zm30 0zm-1 2zm-5 1zm2 0zm1 2zm9 2zm-5 4zm5 0zm0 4zm-28 3zm15 1zm14 1zm-6 1zm6 3zm-6 4zm5 0zm-43 2zm-501 8zm514 0zm8 2zm19 0zm-646 2zm624 0zm12 0zm10 0zm-577 1zm81 1zm476 0zm6 0zm12 0zm-650 1zm94 0zm560 0zm-578 1zm-21 1zm591 0zm-668 1zm91 0zm587 0zm-636 1zm64 0zm557 0zm13 0zm-656 1zm73 0zm45 0zm541 0zm-690 1zm43 0zm-46 1zm11 0zm665 0zm5 0zm-677 1zm7 0zm9 0zm27 0zm640 0zm-691 1zm13 0zm28 0zm77 0zm-112 1zm24 0zm-15 1zm16 0zm-21 1zm1 0zm18 0zm97 0zm-112 1zm10 0zm24 0zm645 0zm2 0zm-690 1zm8 0zm16 0zm10 0zm2 0zm-20 1zm8 0zm48 0zm6 0zm12 0zm600 0zm-682 1zm7 0zm16 0zm115 0zm-143 1zm4 0zm11 0zm2 0zm7 0zm22 0zm71 0zm-101 1zm20 0zm2 0zm51 0zm-82 1zm3 0zm2 0zm1 0zm2 0zm95 0zm-107 1zm38 0zm70 0zm-114 1zm2 0zm27 0zm667 0zm-678 1zm17 0zm24 0zm-64 1zm30 0zm8 0zm31 0zm111 0zm522 0zm-683 1zm6 0zm15 0zm7 0zm91 1zm565 0zm-681 1zm3 0zm2 0zm99 0zm-110 1zm91 0zm-100 1zm19 0zm7 0zm5 0zm3 0zm7 0zm48 0zm16 0zm67 0zm520 0zm-681 1zm30 0zm57 0zm15 0zm-78 1zm35 0zm45 0zm-116 1zm7 0zm19 0zm20 0zm50 0zm-85 1zm22 0zm15 0zm-39 1zm17 0zm-20 1zm20 0zm5 0zm-31 1zm27 0zm1 0zm9 0zm-29 1zm9 0zm5 0zm8 0zm21 0zm8 0zm22 0zm44 0zm-124 1zm1 0zm36 0zm43 0zm622 0zm-700 1zm22 0zm3 0zm62 0zm27 0zm54 0zm-162 1zm4 0zm26 0zm62 0zm16 0zm-68 1zm23 0zm623 0zm-693 1zm20 0zm7 0zm4 0zm22 0zm6 0zm58 0zm-118 1zm38 0zm30 0zm6 0zm21 1zm-72 1zm11 0zm679 0zm-708 1zm31 0zm-28 1zm63 0zm636 0zm-683 1zm14 0zm8 0zm-47 1zm30 0zm48 0zm-60 1zm13 0zm6 0zm4 0zm9 0zm34 0zm13 0zm-95 1zm3 0zm17 0zm16 0zm-24 1zm12 0zm1 0zm677 0zm-690 1zm5 0zm78 0zm-30 1zm39 1zm114 0zm-195 1zm8 0zm17 0zm63 0zm-116 1zm35 0zm12 0zm13 0zm-12 1zm-46 1zm28 0zm-27 1zm11 0zm8 0zm15 0zm94 0zm-91 1zm22 0zm27 0zm32 0zm91 0zm-207 2zm33 0zm5 0zm44 0zm-81 1zm13 0zm10 0zm11 0zm4 0zm22 0zm23 0zm-87 1zm1 0zm18 0zm3 0zm59 0zm-78 1zm8 0zm35 0zm-10 1zm-19 1zm7 0zm10 0zm4 0zm91 0zm-116 1zm7 0zm12 0zm7 0zm-40 1zm51 0zm-40 1zm4 0zm18 0zm99 0zm-118 1zm15 0zm16 0zm-31 1zm50 0zm-16 1zm39 0zm43 0zm-119 1zm10 0zm22 0zm-31 1zm9 0zm18 0zm-37 1zm3 0zm1 0zm21 0zm3 0zm3 0zm3 0zm96 0zm-109 1zm17 0zm54 0zm-74 1zm5 0zm35 0zm-59 1zm79 0zm-58 1zm19 0zm6 0zm-27 1zm104 0zm-127 1zm48 0zm4 0zm-24 1zm10 0zm-33 1zm10 0zm17 0zm14 0zm5 0zm11 0zm-53 1zm14 0zm2 0zm17 0zm-38 1zm19 0zm26 0zm1 1zm-48 1zm9 0zm31 0zm5 0zm50 0zm31 0zm-122 1zm69 0zm-44 1zm20 0zm-49 1zm21 0zm12 0zm4 0zm-34 1zm1 0zm68 0zm-38 1zm8 0zm5 0zm36 0zm-77 1zm18 0zm6 0zm-25 1zm4 0zm7 0zm3 0zm9 0zm1 0zm95 1zm-126 1zm6 0zm1 0zm127 0zm-21 1zm-112 1zm28 0zm5 0zm-32 1zm31 0zm50 0zm-79 1zm9 0zm30 0zm1 0zm3 0zm73 0zm13 0zm-132 1zm5 0zm46 0zm3 0zm27 0zm13 1zm28 0zm-110 1zm5 0zm7 0zm16 0zm1 0zm3 0zm-42 1zm38 0zm58 0zm15 0zm10 0zm-99 1zm3 0zm-30 1zm1 0zm50 0zm1 0zm-52 1zm6 0zm19 0zm24 0zm-51 1zm25 0zm16 0zm8 0zm87 0zm-126 1zm31 0zm62 0zm-98 1zm20 0zm10 0zm2 0zm7 1zm9 0zm22 0zm-56 1zm27 0zm6 0zm32 0zm-76 1zm13 0zm27 0zm-34 1zm22 0zm76 0zm-105 1zm13 0zm90 0zm-91 1zm12 0zm22 0zm66 0zm-99 1zm-7 1zm75 0zm2 0zm-24 1zm45 0zm-89 2zm103 0zm-91 1zm8 0zm14 0zm9 0zm-44 1zm10 0zm54 0zm-57 2zm72 0zm-27 1zm-1 1zm-35 1zm40 0zm48 0zm-90 1zm-5 1zm5 0zm17 0zm52 0zm32 0zm-56 1zm6 0zm109 1zm-137 1zm48 0zm28 0zm-62 1zm-6 1zm33 0zm43 0zm-73 1zm1 0zm27 0zm43 0zm-87 1zm36 0zm-30 1zm49 0zm-29 1zm44 0zm-56 1zm66 0zm-95 1zm22 0zm24 0zm60 0zm-122 1zm67 0zm24 0zm28 0zm-102 1zm26 0zm22 0zm94 0zm-62 1zm-80 1zm61 0zm30 0zm103 2zm-149 2zm64 1zm-78 1zm-40 1zm12 0zm85 0zm17 1zm-107 2zm6 0zm107 0zm-30 1zm-22 1zm21 0zm105 1zm-198 1zm16 0zm4 0zm66 0zm32 0zm27 0zm-139 1zm112 0zm-115 1zm15 1zm44 0zm-33 1zm5 0zm69 0zm19 0zm-122 1zm66 0zm9 0zm-66 1zm15 0zm115 0zm-38 3zm78 0zm-160 1zm26 0zm26 0zm-69 2zm192 0zm-169 1zm58 0zm-74 3zm4 0zm93 0zm-69 1zm6 0zm6 0zm61 0zm-71 1zm40 0zm23 0zm-82 2zm131 0zm-103 1zm42 0zm-67 1zm-9 1zm19 0zm36 0zm10 0zm28 0zm5 0zm39 0zm-128 1zm49 0zm-1 2zm81 0zm-19 1zm-129 1zm110 0zm16 0zm-23 1zm38 0zm3 0zm-129 1zm13 0zm57 0zm-42 1zm17 0zm35 0zm-90 1zm10 1zm105 0zm-104 1zm7 1zm1 0zm55 0zm94 0zm-175 1zm42 0zm27 0zm6 0zm6 0zm-67 1zm9 0zm-19 2zm14 0zm12 0zm25 0zm85 0zm22 0zm3 0zm-170 1zm88 0zm23 0zm39 0zm-132 1zm15 0zm84 0zm45 0zm-115 1zm113 0zm1 0zm17 0zm-172 1zm68 0zm-61 1zm2 0zm93 0zm-14 1zm8 0zm56 0zm-156 1zm4 0zm15 0zm54 0zm68 0zm-10 1zm53 0zm-75 1zm40 0zm6 0zm-64 1zm-4 1zm54 0zm3 0zm-130 1zm103 1zm6 0zm-52 1zm-76 2zm110 0zm3 0zm39 2zm-67 6zm26 0zm7 0zm425 0zm-436 4zm5 0zm427 1zm-435 1zm-60 3zm-36 2zm524 1zm2 1zm5 0zm-437 2zm429 1zm-428 1zm-85 4zm-33 1zm-17 3zm14 0zm23 0zm596 0zm-635 1zm562 0zm3 0zm-524 2zm153 0zm4 0zm25 0zm-17 1zm352 0zm74 0zm-447 1zm17 0zm-228 1zm118 0zm46 0zm-120 1zm47 0zm110 0zm17 0zm431 0zm-616 1zm5 0zm18 0zm111 0zm498 0zm60 0zm8 0zm-646 1zm19 0zm523 0zm16 0zm-562 1zm133 0zm-129 1zm116 0zm15 0zm-203 1zm195 0zm415 0zm106 0zm-703 1zm3 0zm24 0zm26 0zm135 0zm409 0zm13 0zm30 0zm7 0zm-604 1zm500 0zm-497 1zm12 0zm127 0zm411 0zm-416 1zm19 0zm348 0zm5 0zm7 0zm-570 1zm42 0zm15 0zm143 0zm358 0zm6 0zm-528 1zm516 0zm73 0zm58 0zm-619 1zm128 0zm-131 1zm153 0zm7 0zm338 0zm48 0zm-574 1zm28 0zm129 0zm3 0zm-198 1zm90 0zm126 0zm414 0zm77 0zm-495 1zm-215 1zm39 0zm2 0zm52 0zm96 0zm-172 1zm657 0zm-664 1zm14 0zm19 0zm14 0zm100 0zm30 0zm40 0zm1 0zm338 0zm72 0zm-609 1zm57 0zm116 0zm15 0zm-154 1zm9 0zm143 0zm7 0zm6 0zm413 0zm-555 1zm26 0zm76 0zm7 0zm477 0zm18 0zm6 0zm-616 1zm12 0zm505 0zm41 0zm1 0zm2 0zm-600 1zm54 0zm130 0zm425 0zm50 0zm-637 1zm29 0zm108 0zm3 0zm1 0zm395 0zm42 0zm6 0zm62 0zm-707 1zm75 0zm-57 1zm39 0zm2 0zm18 0zm627 0zm-73 1zm66 0zm-624 1zm54 0zm82 0zm2 0zm11 0zm-282 1zm68 0zm60 0zm132 0zm14 0zm6 0zm411 0zm-622 1zm78 0zm577 0zm38 0zm-479 1zm446 0zm-97 1zm43 0zm-510 1zm94 0zm381 0zm14 0zm31 0zm10 0zm58 0zm8 0zm-633 1zm128 0zm27 0zm351 0zm121 0zm-692 1zm97 0zm115 0zm1 0zm384 0zm59 0zm24 0zm-694 1zm217 0zm367 0zm100 0zm-590 1zm108 0zm407 0zm97 0zm-552 1zm-55 1zm113 0zm-102 1zm42 0zm-227 1zm106 0zm54 0zm20 0zm41 0zm439 0zm-496 1zm127 0zm410 0zm63 0zm-37 1zm37 1zm-679 1zm667 0zm28 0zm-124 1zm61 1zm-627 1zm565 0zm21 0zm-563 1zm14 0zm529 0zm56 0zm-574 1zm17 0zm561 1zm-728 1zm192 0zm5 0zm499 0zm6 0zm58 1zm-637 1zm8 0zm601 0zm14 2zm-635 1zm66 0zm15 0zm534 0zm8 0zm4 0zm47 0zm-671 1zm27 2zm40 0zm536 0zm-612 1zm29 0zm11 0zm36 0zm-79 1zm79 0zm523 0zm84 1zm-655 1zm549 0zm8 0zm-575 1zm59 0zm55 0zm439 0zm46 0zm28 0zm1 0zm-586 1zm531 1zm76 0zm-589 1zm512 0zm-578 2zm582 0zm-580 1zm564 0zm-570 1zm43 0zm605 0zm-649 1zm8 0zm22 0zm97 1zm-91 1zm-14 1zm45 0zm9 0zm499 0zm-473 1zm482 0zm1 0zm97 0zm-689 1zm145 0zm536 1zm-93 1zm-533 1zm535 0zm94 0zm0 1zm-96 1zm118 0zm-122 1zm118 0zm-693 1zm30 0zm106 0zm556 0zm-691 1zm30 0zm25 0zm26 0zm40 0zm13 0zm440 0zm92 0zm6 0zm11 0zm7 0zm-678 1zm18 0zm138 0zm402 0zm11 1zm90 0zm-656 1zm554 0zm118 0zm-530 1zm-85 1zm38 0zm557 0zm-630 1zm535 0zm-8 1zm4 0zm1 0zm1 0zm115 0zm-841 1zm191 0zm644 0zm-657 1zm5 0zm125 0zm538 0zm-640 2zm7 0zm115 0zm392 1zm7 1zm111 0zm3 0zm-12 1zm-541 2zm547 0zm-672 1zm119 0zm446 0zm-525 1zm524 0zm112 0zm-661 1zm13 0zm536 0zm-2 1zm115 0zm-117 1zm-8 1zm116 1zm-641 1zm18 0zm102 0zm407 2zm-59 1zm11 0zm56 1zm-460 1zm402 2zm9 0zm39 0zm8 0zm-442 1zm429 0zm-757 1zm702 0zm69 0zm-763 1zm756 0zm3 0zm-63 2zm2 0zm-3 1zm26 0zm-32 1zm12 0zm-397 2zm11 1zm-332 1zm-5 1zm770 0zm-61 1zm6 0zm6 0zm19 0zm-4 1zm-20 1zm-722 1zm746 0zm-18 1zm8 0zm-737 1zm2 0zm729 0zm-734 1zm732 0zm5 0zm7 0zm-18 1zm53 1zm-43 1zm-585 1zm576 3zm-33 1zm-548 2zm-182 1zm724 0zm-543 1zm574 0zm-27 1zm19 1zm-16 1zm36 0zm-736 2zm679 0zm2 0zm40 0zm20 0zm128 1zm-913 1zm41 1zm731 0zm11 0zm-758 1zm18 0zm695 0zm-14 1zm24 0zm-722 2zm703 0zm52 0zm67 0zm-98 1zm34 0zm-787 1zm738 0zm42 0zm10 0zm-44 1zm14 0zm-26 1zm25 0zm19 0zm16 0zm-64 1zm-705 1zm611 0zm122 0zm22 0zm-70 1zm12 0zm6 0zm3 0zm-710 1zm15 0zm684 0zm1 0zm47 0zm16 0zm-795 1zm50 0zm696 0zm149 0zm-874 1zm761 0zm-40 1zm-691 1zm67 0zm614 0zm43 0zm21 0zm-66 1zm45 0zm39 0zm-80 1zm1 0zm5 0zm52 0zm-51 1zm-18 1zm48 0zm12 0zm1 0zm5 0zm50 0zm-801 1zm690 0zm57 0zm36 0zm-64 1zm11 0zm16 0zm-15 1zm218 0zm-249 2zm50 0zm-744 1zm697 0zm27 0zm37 0zm3 0zm-768 1zm756 0zm18 0zm84 0zm-174 1zm27 0zm4 0zm-10 1zm18 0zm9 0zm181 0zm-955 1zm44 0zm53 0zm659 1zm12 0zm34 0zm-637 1zm572 0zm16 0zm37 0zm-788 1zm161 0zm6 0zm614 0zm112 0zm71 0zm-826 1zm632 0zm3 0zm7 0zm65 0zm-101 1zm50 0zm10 0zm13 0zm-807 1zm781 0zm-757 1zm690 0zm49 0zm8 0zm35 0zm-789 1zm12 0zm-16 1zm43 0zm704 0zm7 0zm6 0zm15 0zm-784 1zm879 0zm21 0zm-882 1zm128 0zm603 0zm19 0zm20 0zm35 0zm-823 1zm771 0zm35 0zm31 0zm18 0zm-137 1zm23 0zm29 0zm2 0zm22 0zm-62 2zm-734 1zm21 0zm738 0zm17 0zm-38 1zm8 0zm62 0zm-818 1zm736 0zm22 0zm59 0zm29 0zm-68 1zm-768 1zm730 0zm4 0zm-729 1zm729 0zm66 0zm24 0zm164 0zm-984 1zm793 0zm9 0zm-814 1zm737 0zm8 0zm7 0zm15 0zm28 1zm-795 1zm718 0zm55 0zm25 0zm-650 1zm600 0zm21 0zm5 0zm11 0zm-778 1zm682 0zm36 0zm25 0zm49 0zm10 0zm-817 1zm763 0zm29 0zm13 0zm-12 1zm17 0zm70 0zm-847 1zm120 0zm576 0zm18 0zm27 0zm173 0zm-944 1zm722 0zm21 0zm-746 1zm740 0zm16 0zm17 0zm35 0zm-807 1zm733 0zm76 0zm-800 1zm768 0zm20 0zm-59 1zm79 0zm-72 1zm27 0zm-151 1zm122 0zm35 0zm-37 1zm-121 1zm122 0zm28 0zm-763 1zm625 0zm60 0zm15 0zm224 0zm106 0zm-349 1zm131 0zm-199 1zm17 0zm59 0zm62 0zm43 0zm-790 1zm608 0zm55 0zm11 0zm8 0zm43 0zm-121 1zm1 0zm4 0zm195 0zm-678 1zm480 0zm82 0zm64 0zm1 0zm9 0zm37 0zm-798 1zm789 0zm-169 1zm132 0zm16 0zm23 0zm-784 1zm601 0zm66 0zm70 0zm-767 1zm16 1zm966 0zm-963 1zm54 0zm729 0zm2 0zm12 0zm-123 1zm2 0zm7 1zm97 0zm11 0zm-806 1zm2 0zm13 0zm3 0zm676 0zm68 0zm38 0zm-29 1zm2 0zm12 0zm27 0zm-789 1zm109 0zm630 0zm14 0zm-147 1zm68 0zm105 0zm145 0zm-943 2zm88 0zm536 0zm62 0zm-681 1zm115 0zm548 0zm13 0zm99 0zm2 0zm-782 1zm627 0zm5 0zm123 0zm5 0zm-769 1zm8 0zm778 0zm-25 1zm-756 1zm672 1zm-39 1zm-634 1zm6 0zm673 0zm233 0zm47 0zm-939 1zm-15 1zm24 0zm646 0zm275 0zm-320 1zm136 0zm-759 1zm9 1zm50 1zm51 0zm-88 1zm1 1zm629 0zm-595 1zm52 0zm-115 1zm9 0zm46 0zm6 0zm17 1zm-6 1zm585 0zm-562 1zm568 0zm-660 1zm653 0zm-644 1zm3 1zm66 0zm597 0zm-666 2zm641 0zm1 3zm10 0zm3 0zm-1 2zm-652 1zm642 0zm-4 1zm4 0zm1 2zm9 0zm-561 2zm556 1zm2 0zm1 3zm14 0zm-5 3zm59 1zm9 0zm-34 1zm-686 1zm627 0zm2 0zm69 0zm-687 2zm675 0zm38 0zm-723 2zm700 0zm-4 1zm7 0zm-19 3zm-57 1zm100 0zm29 0zm-139 1zm52 0zm21 0zm82 0zm-75 1zm-694 1zm725 0zm25 0zm16 0zm-101 1zm1 0zm72 0zm-114 1zm42 0zm8 0zm69 0zm7 0zm14 0zm2 0zm7 0zm-767 1zm1 0zm758 0zm-99 1zm84 0zm-747 1zm672 0zm64 0zm4 0zm-98 1zm14 0zm62 0zm27 1zm17 0zm11 0zm-171 1zm15 0zm133 0zm11 0zm-53 1zm17 0zm24 0zm-104 1zm53 0zm11 0zm29 0zm36 0zm-38 1zm9 0zm14 0zm5 0zm3 0zm3 0zm1 0zm-120 1zm105 0zm-83 1zm35 0zm29 0zm10 0zm1 0zm28 0zm-762 1zm586 0zm125 0zm21 0zm10 0zm-95 1zm7 0zm14 0zm52 0zm6 0zm-130 1zm1 0zm87 0zm45 0zm-126 1zm91 0zm61 0zm3 0zm-760 1zm711 0zm27 0zm17 0zm-168 1zm41 0zm100 0zm1 0zm32 0zm-60 1zm47 0zm6 0zm4 0zm-177 1zm12 0zm133 0zm18 0zm19 0zm-172 1zm58 0zm32 0zm79 0zm-88 1zm77 0zm11 0zm-751 1zm569 0zm68 0zm52 0zm9 0zm-109 1zm153 0zm3 0zm9 0zm-12 1zm8 0zm-36 1zm-51 1zm23 0zm35 0zm31 0zm3 0zm-193 1zm142 0zm21 0zm29 0zm-86 1zm21 0zm67 0zm-174 1zm147 0zm8 0zm-90 1zm3 0zm39 0zm27 0zm-137 1zm12 0zm144 0zm14 0zm-53 1zm25 0zm4 0zm2 0zm7 0zm12 0zm-189 1zm23 0zm59 0zm66 0zm17 0zm6 0zm10 0zm-50 1zm28 0zm22 0zm3 0zm-169 1zm3 0zm143 0zm22 0zm-173 1zm12 0zm75 0zm13 0zm28 0zm31 0zm-88 1zm86 0zm-57 1zm4 0zm61 0zm38 0zm-34 1zm22 0zm-186 1zm63 0zm94 0zm20 0zm-26 1zm11 0zm3 0zm-182 1zm78 0zm40 0zm51 0zm-163 1zm9 0zm79 0zm88 0zm1 0zm-170 1zm120 0zm42 0zm5 0zm-175 1zm11 0zm162 0zm-196 1zm13 0zm92 0zm19 0zm65 0zm14 0zm6 0zm39 0zm-209 1zm63 0zm34 0zm-110 1zm158 0zm-157 1zm6 0zm164 0zm2 0zm1 1zm9 0zm-192 1zm13 0zm4 0zm180 0zm1 0zm-29 1zm23 0zm5 0zm-202 1zm147 0zm14 0zm17 0zm19 0zm-105 1zm25 0zm23 0zm39 0zm27 0zm-211 1zm142 0zm22 0zm24 0zm24 0zm19 0zm-118 1zm78 0zm2 0zm13 0zm-183 1zm89 0zm45 0zm43 0zm2 0zm-184 1zm132 0zm-49 1zm34 0zm10 0zm60 0zm-13 1zm16 0zm-81 1zm13 0zm-113 1zm1 0zm59 0zm44 0zm68 0zm2 0zm51 0zm-65 1zm-186 1zm6 0zm3 0zm168 0zm-137 1zm169 0zm7 0zm-213 1zm118 0zm79 0zm-165 1zm160 0zm13 0zm-220 1zm109 0zm110 0zm103 0zm-322 1zm118 0zm38 0zm15 0zm3 0zm43 0zm-13 1zm17 0zm64 0zm-172 1zm37 0zm58 1zm8 0zm-71 1zm43 2zm23 0zm-200 1zm122 0zm9 0zm55 0zm14 0zm-95 1zm71 0zm25 0zm-102 1zm60 0zm9 0zm-175 1zm2 0zm26 0zm145 0zm26 0zm-20 1zm12 0zm3 0zm-197 1zm19 0zm153 0zm22 0zm-167 1zm2 0zm14 0zm-27 1zm118 0zm-29 1zm6 0zm57 0zm-156 1zm122 0zm70 0zm6 0zm-197 1zm6 0zm10 1zm66 0zm23 0zm-120 1zm202 0zm7 0zm-100 1zm105 0zm-189 1zm16 0zm56 0zm-96 1zm21 0zm12 0zm104 0zm-95 1zm67 0zm91 0zm8 0zm-65 1zm16 0zm4 0zm3 0zm55 0zm-227 1zm120 0zm48 0zm11 0zm12 0zm-91 1zm51 0zm31 0zm-180 1zm15 0zm32 0zm73 0zm77 1zm-90 1zm-104 1zm102 0zm14 0zm39 0zm28 0zm-161 1zm86 0zm79 0zm-157 1zm3 0zm92 0zm82 0zm-195 1zm148 0zm52 0zm100 0zm-302 1zm328 0zm-308 1zm128 0zm-155 1zm7 0zm92 0zm30 0zm30 0zm5 0zm40 0zm146 0zm-344 1zm-11 1zm126 0zm39 0zm35 0zm-168 1zm89 0zm24 0zm56 0zm-200 1zm192 1zm108 0zm-167 1zm1 0zm11 0zm-130 1zm5 0zm84 0zm66 0zm18 2zm95 0zm-137 2zm30 0zm2 0zm20 0zm7 0zm-119 1zm16 0zm117 0zm-114 1zm26 0zm30 1zm-67 1zm84 0zm18 0zm-111 1zm6 0zm1 0zm22 0zm4 0zm14 0zm69 0zm165 0zm-269 1zm32 0zm12 0zm1 0zm146 0zm-178 1zm3 0zm63 0zm-59 1zm226 0zm-263 1zm33 0zm12 0zm-29 1zm41 0zm-22 1zm-24 1zm21 0zm34 0zm3 0zm-49 1zm43 0zm38 0zm-85 1zm20 0zm5 1zm-27 1zm11 0zm1 0zm62 0zm-19 1zm180 0zm44 1zm-254 1zm-14 1zm9 1zm43 0zm17 0zm17 0zm-13 1zm11 0zm-61 1zm33 0zm-8 1zm3 0zm1 1zm32 0zm7 0zm10 0zm-74 2zm1 0zm18 0zm-25 3zm5 0zm-5 1zm11 0zm-37 1zm16 0zm9 0zm66 1zm-65 1zm63 0zm11 0zm-19 1zm-49 1zm46 0zm9 0zm-8 2zm1 0zm12 0zm-82 1zm33 1zm39 0zm8 0zm51 0zm-88 1zm11 0zm30 0zm6 0zm-20 1zm15 0zm2 0zm3 0zm-9 1zm5 0zm-53 1zm30 0zm19 0zm12 0zm-44 1zm29 0zm20 0zm42 0zm-122 1zm63 0zm3 0zm2 1zm-66 1zm61 0zm3 0zm2 0zm4 0zm107 0zm-118 2zm-19 1zm3 0zm37 1zm-9 1zm-19 1zm19 0zm-14 1zm15 0zm75 1zm-136 1zm79 1zm-18 2zm19 1zm-10 1zm9 4zm46 0zm-40 1zm-3 3zm-688 2zm44 4zm-4 2zm8 0zm-40 1zm699 0zm-8 1zm-1 1zm-647 1zm7 0zm-26 1zm18 0zm645 0zm-669 1zm9 0zm-24 1zm38 0zm12 0zm9 0zm-32 2zm673 1zm-666 1zm20 1zm-28 2zm12 0zm656 0zm-659 1zm3 0zm660 2zm-679 1zm18 0zm-40 1zm704 0zm-714 1zm719 0zm-4 1zm-649 1zm-42 1zm693 0zm-637 1zm643 0zm-716 1zm11 0zm37 1zm30 0zm10 0zm-25 1zm15 0zm637 0zm-661 2zm-7 1zm667 0zm1 0zm2 0zm-661 1zm15 0zm648 0zm-657 1zm18 0zm-14 1zm658 0zm-688 1zm47 0zm7 0zm-34 1zm660 0zm-638 2zm28 0zm618 0zm-655 1zm5 0zm23 0zm622 0zm5 0zm-702 1zm78 0zm-44 1zm14 0zm-56 1zm69 0zm644 0zm-642 1zm8 0zm1 0zm8 1zm629 0zm-681 1zm44 0zm-14 1zm-36 1zm29 0zm-3 1zm-15 1zm5 0zm29 0zm8 0zm-35 1zm731 0zm-769 1zm62 0zm-30 3zm2 2zm19 1zm-21 1zm19 0zm669 1zm5 1zm-654 1zm6 0zm-21 1zm-2 1zm23 0zm2 0zm-39 1zm7 0zm27 1zm666 0zm-671 2zm663 0zm-661 1zm2 1zm649 0zm-658 2zm13 1zm-24 1zm8 0zm680 0zm-692 1zm-3 1zm25 0zm661 0zm4 1zm-685 1zm15 2zm669 3zm15 0zm-682 1zm671 0zm-677 1zm-5 2zm683 2zm1 0zm8 1zm6 10zm3 0zm-4 3zm7 1zm1 0zm17 3zm-30 1zm80 0zm-66 1zm-8 2zm12 0zm-8 1zm9 1zm-17 1zm5 0zm18 0zm1 0zm-6 1zm11 0zm35 0zm-48 2zm-21 1zm13 3zm-16 1zm26 0zm-4 2zm5 0zm17 0zm-13 1zm-8 1zm14 2zm2 0zm-34 1zm8 2zm28 0zm-31 1zm24 0zm18 0zm10 0zm-47 4zm20 0zm-12 1zm19 0zm-19 1zm0 1zm11 0zm29 0zm-30 1zm-8 1zm27 2zm-32 1zm51 0zm-52 2zm10 2zm17 0zm-6 1zm7 0zm-6 2zm6 2zm1 1zm7 1zm-9 1zm-7 1zm17 2zm-1 1zm14 2zm-2 2z"/>
<path stroke="#C77CFF" d="M1182 73zm10 2zm-13 5zm-1 1zm3 5zm12 0zm-12 1zm6 1zm13 1zm-4 1zm10 1zm-21 1zm9 0zm-6 1zm11 0zm9 2zm11 0zm17 0zm-44 1zm63 1zm-34 1zm-37 1zm39 0zm-3 2zm29 0zm-45 1zm17 0zm-20 1zm35 2zm-17 1zm17 1zm15 0zm-34 1zm1 1zm4 0zm25 0zm-17 1zm-7 2zm2 0zm21 0zm15 3zm-31 1zm-489 1zm498 0zm-495 1zm512 0zm-530 1zm531 1zm1 0zm-539 1zm3 2zm-108 1zm120 0zm-104 1zm106 0zm513 0zm-568 1zm14 0zm550 0zm-491 4zm-80 1zm48 0zm-13 2zm-106 1zm139 1zm31 0zm-163 2zm156 1zm4 1zm477 0zm-572 1zm30 0zm-11 1zm41 0zm-62 1zm85 0zm23 0zm480 1zm-622 1zm618 0zm-647 1zm77 0zm30 0zm29 0zm519 0zm-571 1zm43 0zm7 0zm-16 1zm536 0zm-471 1zm-59 1zm6 0zm56 0zm4 1zm-40 1zm-129 1zm13 0zm76 1zm7 0zm16 2zm14 1zm-56 1zm56 0zm-166 1zm189 0zm9 0zm479 0zm-523 3zm527 0zm5 0zm-659 1zm26 0zm103 0zm33 0zm486 0zm-525 1zm51 1zm9 0zm-30 1zm-137 1zm73 0zm-80 1zm65 0zm6 1zm92 0zm-151 1zm27 0zm15 0zm604 0zm-643 1zm97 4zm4 4zm-65 1zm31 0zm114 0zm-222 1zm72 0zm29 0zm22 0zm13 0zm-41 1zm119 0zm-99 1zm99 0zm-19 1zm-94 1zm133 0zm-187 1zm97 0zm-78 1zm20 0zm-15 1zm31 0zm83 0zm-117 1zm36 0zm88 0zm-108 1zm18 0zm31 0zm-53 1zm38 1zm37 0zm-112 1zm58 0zm8 0zm78 0zm-105 1zm-98 1zm36 0zm27 0zm107 0zm38 0zm-159 1zm75 0zm50 0zm-38 1zm14 0zm2 0zm41 0zm22 1zm26 0zm-105 1zm3 0zm12 0zm8 1zm25 0zm8 0zm23 0zm-180 1zm-26 1zm43 0zm16 0zm73 0zm3 0zm69 0zm-120 1zm-61 1zm34 0zm11 0zm86 0zm-85 1zm-48 1zm149 1zm31 0zm-215 1zm11 0zm106 0zm74 0zm-89 1zm-104 1zm181 0zm-147 1zm176 1zm-119 1zm54 0zm10 0zm46 0zm21 0zm-26 1zm-87 1zm-51 1zm143 0zm-21 2zm-37 1zm81 0zm10 2zm-88 1zm-73 1zm12 0zm44 0zm8 0zm73 0zm-17 1zm-47 1zm-13 1zm92 1zm-95 1zm73 0zm-166 1zm2 0zm135 1zm48 1zm12 0zm-183 1zm156 0zm-106 1zm116 0zm-171 1zm36 0zm31 0zm14 0zm15 0zm49 0zm-154 1zm67 0zm24 0zm36 0zm73 0zm-109 1zm1 0zm4 0zm-74 1zm103 1zm17 0zm17 0zm-113 1zm108 0zm40 0zm2 0zm3 0zm-231 1zm129 0zm66 0zm15 0zm18 0zm-67 1zm45 0zm-162 1zm-19 2zm133 0zm-129 1zm85 0zm-24 1zm52 0zm-83 1zm-16 1zm38 0zm25 0zm1 0zm18 0zm-14 1zm-74 2zm85 0zm22 0zm56 0zm-138 1zm94 0zm35 1zm-58 1zm36 0zm23 2zm34 0zm-158 1zm65 1zm36 0zm60 0zm-148 1zm33 0zm-47 3zm160 0zm-126 1zm31 0zm-65 2zm72 0zm18 0zm-75 1zm-37 1zm101 0zm-59 1zm-5 1zm121 0zm-117 2zm97 0zm20 0zm-93 1zm107 0zm14 0zm-117 1zm15 1zm26 0zm-60 1zm34 0zm51 0zm29 0zm-40 1zm61 0zm-180 1zm-24 1zm41 0zm81 0zm37 0zm5 0zm38 0zm-203 1zm2 0zm182 0zm-116 1zm50 0zm79 0zm-161 2zm8 0zm105 0zm-82 1zm57 0zm41 1zm-131 1zm154 0zm-63 1zm48 0zm-33 1zm40 0zm-21 1zm-102 1zm94 1zm12 0zm-82 1zm72 0zm35 0zm-33 1zm-128 4zm54 1zm2 0zm103 0zm-111 1zm89 0zm-53 1zm55 0zm7 0zm-137 6zm118 2zm-50 1zm-54 1zm47 0zm-26 1zm65 1zm2 1zm28 1zm-53 3zm-115 3zm25 0zm-43 1zm105 3zm-64 1zm46 2zm-57 2zm13 3zm66 1zm-39 2zm-72 4zm180 2zm5 1zm353 0zm-2 1zm3 0zm-360 1zm363 0zm-362 1zm361 1zm-413 10zm-1 2zm400 2zm27 1zm-474 3zm447 0zm30 1zm-564 2zm105 7zm426 0zm-568 1zm83 0zm535 3zm-591 1zm-30 1zm-8 1zm-24 1zm23 0zm115 0zm129 0zm-203 1zm-62 1zm18 0zm8 0zm6 1zm-33 3zm144 0zm-110 1zm644 0zm-685 1zm5 0zm41 0zm27 1zm17 0zm569 0zm-664 1zm91 0zm19 0zm118 1zm-179 2zm38 0zm606 1zm-666 1zm72 1zm591 0zm-699 1zm4 1zm57 0zm145 0zm477 0zm-15 1zm-669 1zm10 2zm690 0zm18 0zm-714 1zm68 0zm58 0zm135 0zm445 0zm-5 2zm11 0zm-715 1zm700 0zm-700 1zm129 0zm9 0zm597 0zm-696 1zm31 0zm644 0zm-460 1zm389 0zm37 0zm-621 1zm84 1zm529 0zm-582 1zm33 0zm11 0zm522 0zm39 0zm-560 2zm101 0zm451 0zm47 0zm-753 1zm6 0zm50 0zm32 0zm546 0zm78 0zm-717 1zm157 0zm547 0zm-606 1zm152 0zm22 0zm502 0zm-772 2zm101 0zm53 1zm7 0zm-170 1zm5 0zm127 0zm-128 1zm116 0zm-110 1zm647 0zm-547 1zm574 0zm-611 1zm40 0zm-3 1zm-111 1zm-5 1zm168 0zm542 0zm14 0zm-723 1zm116 0zm37 1zm541 0zm-705 1zm6 1zm126 1zm554 0zm-673 1zm132 0zm-24 1zm60 0zm610 0zm-67 1zm-6 1zm-601 1zm1 0zm-126 1zm119 0zm601 0zm-600 1zm16 0zm-140 1zm141 0zm572 0zm-595 1zm-111 2zm94 0zm103 0zm562 0zm-18 1zm-560 2zm22 0zm-217 1zm8 0zm2 0zm187 0zm-12 1zm54 0zm-70 1zm9 0zm55 0zm507 0zm-503 1zm-63 1zm59 0zm-48 1zm3 0zm31 1zm27 1zm-104 1zm12 0zm10 0zm528 0zm110 0zm-824 1zm1 0zm201 0zm-38 1zm655 0zm-804 1zm120 0zm60 0zm628 0zm-636 1zm102 1zm546 0zm-835 1zm239 0zm53 0zm-145 1zm-15 1zm147 0zm7 0zm-33 1zm-74 1zm643 2zm-624 1zm2 0zm4 1zm41 0zm567 0zm-819 1zm140 0zm5 0zm74 0zm58 0zm571 0zm-849 1zm7 0zm-6 1zm211 0zm-48 1zm10 0zm17 0zm10 0zm-42 1zm11 0zm260 0zm-179 1zm22 0zm37 1zm9 0zm-147 1zm86 0zm-275 1zm182 0zm2 0zm-184 2zm198 0zm39 0zm-236 1zm161 0zm36 1zm1 0zm23 0zm87 0zm-84 1zm-227 1zm272 0zm-278 1zm303 0zm-2 1zm-300 1zm297 1zm27 0zm7 0zm-325 1zm209 0zm105 0zm-327 2zm6 0zm314 0zm18 0zm-334 2zm292 0zm9 2zm7 0zm171 0zm217 0zm-392 2zm5 0zm2 0zm2 0zm-322 1zm315 0zm2 0zm4 0zm-11 1zm4 0zm6 0zm-320 1zm299 0zm20 0zm10 0zm-336 1zm325 0zm-336 1zm2 0zm317 0zm11 0zm1 0zm1 0zm5 0zm-7 1zm3 0zm3 0zm2 0zm-334 1zm328 0zm5 0zm-337 3zm520 0zm-541 2zm21 1zm-32 1zm736 1zm-717 2zm-22 1zm12 0zm6 0zm-11 2zm10 0zm6 0zm545 0zm-562 1zm9 0zm-17 1zm18 0zm7 0zm-48 2zm35 0zm2 0zm150 0zm407 0zm138 0zm-717 2zm13 0zm157 0zm-145 1zm-52 3zm765 0zm-730 1zm-11 1zm170 1zm-160 1zm158 0zm563 0zm-742 2zm15 0zm162 0zm1 0zm528 0zm-693 1zm3 0zm693 0zm24 0zm-722 1zm152 0zm574 0zm-639 1zm519 0zm91 0zm22 0zm-708 1zm881 0zm-883 1zm11 0zm698 0zm-723 1zm4 0zm76 0zm74 0zm588 0zm-133 1zm82 0zm91 0zm-760 1zm15 0zm690 0zm233 0zm-971 1zm25 0zm702 0zm-717 1zm1 0zm710 0zm37 0zm196 0zm-932 1zm683 0zm56 0zm9 0zm-57 1zm-704 1zm765 0zm11 0zm177 0zm-960 2zm715 0zm-79 1zm122 0zm-128 1zm92 0zm26 0zm6 0zm1 1zm25 0zm180 0zm-971 1zm24 0zm141 0zm619 0zm16 0zm-70 1zm243 0zm-194 1zm-765 1zm758 0zm51 0zm77 0zm-888 1zm640 0zm74 0zm54 0zm16 0zm24 0zm-18 1zm-798 1zm16 0zm757 0zm-795 1zm21 0zm3 0zm949 0zm-799 1zm3 0zm581 0zm-724 1zm145 0zm553 0zm78 0zm59 1zm60 0zm50 0zm-807 1zm559 0zm56 0zm-764 1zm152 0zm793 0zm-954 1zm751 0zm29 0zm-776 1zm4 0zm7 0zm910 0zm26 0zm1 0zm-290 1zm72 0zm65 0zm184 0zm-315 1zm144 0zm147 0zm-960 1zm148 0zm807 0zm-948 1zm855 0zm98 0zm-174 2zm-788 1zm158 0zm579 0zm36 0zm36 0zm133 0zm-222 1zm259 0zm-38 1zm6 0zm34 0zm2 0zm-241 1zm10 0zm43 0zm2 0zm178 0zm-821 1zm575 0zm45 0zm58 0zm119 0zm-64 1zm42 0zm54 0zm-980 1zm1 0zm810 0zm111 0zm31 0zm2 0zm-948 1zm-9 1zm813 0zm186 0zm-992 1zm745 0zm41 0zm158 0zm23 0zm-828 1zm814 0zm-961 1zm731 0zm151 0zm16 0zm44 0zm-937 1zm782 0zm51 0zm-857 1zm8 0zm730 0zm66 0zm93 0zm56 0zm5 0zm12 0zm-946 1zm20 0zm690 0zm13 0zm21 0zm183 0zm56 0zm-995 1zm960 0zm-960 1zm776 0zm183 0zm-140 1zm-813 1zm724 0zm10 0zm46 0zm91 0zm-722 1zm747 0zm11 0zm-895 1zm899 0zm17 0zm12 0zm41 0zm34 0zm-1031 1zm15 0zm1 0zm5 0zm763 0zm15 0zm65 0zm107 0zm-217 1zm31 0zm5 0zm101 0zm117 0zm-230 1zm23 0zm191 0zm-966 1zm756 0zm-16 1zm56 0zm101 0zm10 0zm-225 1zm124 0zm25 0zm52 0zm-96 1zm153 0zm42 0zm13 0zm-127 1zm85 0zm39 0zm-1015 1zm4 0zm5 0zm7 0zm23 0zm765 0zm101 0zm67 0zm-937 1zm817 0zm97 0zm71 0zm-1020 1zm31 0zm13 0zm956 0zm1 0zm21 0zm-1017 1zm7 0zm800 0zm78 0zm145 1zm-1036 1zm753 0zm60 0zm216 0zm-278 1zm37 0zm117 0zm72 0zm-221 1zm25 0zm46 0zm47 0zm78 0zm-931 1zm131 0zm655 0zm141 0zm62 0zm10 0zm-939 1zm712 0zm235 0zm-1029 1zm913 0zm8 0zm18 0zm113 0zm-1054 1zm4 0zm790 0zm139 0zm95 0zm-1025 1zm144 0zm606 0zm154 0zm44 0zm-948 1zm133 0zm4 0zm611 0zm19 0zm97 0zm82 0zm-163 1zm99 0zm-772 1zm24 0zm746 0zm1 0zm21 0zm-128 1zm37 0zm55 0zm130 0zm-992 1zm23 0zm725 0zm26 0zm15 0zm184 0zm18 0zm-984 1zm119 0zm786 0zm-901 1zm7 0zm735 0zm7 0zm231 0zm-994 1zm30 0zm104 1zm714 0zm-844 1zm880 0zm14 0zm27 0zm18 0zm23 0zm18 0zm-285 1zm160 0zm-99 1zm133 0zm-903 1zm2 0zm6 0zm4 0zm23 0zm100 0zm668 0zm102 0zm27 0zm2 0zm-934 1zm19 0zm17 0zm825 0zm59 0zm-911 1zm12 0zm-19 1zm978 0zm-977 1zm714 0zm164 0zm23 0zm-873 1zm98 0zm793 0zm43 0zm30 0zm-860 1zm-131 1zm11 0zm866 0zm4 0zm-755 1zm837 0zm-957 1zm887 0zm13 0zm-891 1zm44 0zm920 0zm-103 1zm-854 1zm905 0zm32 0zm31 0zm-978 1zm5 0zm106 0zm545 0zm191 0zm-851 1zm1 0zm16 0zm41 0zm-58 1zm1 0zm670 0zm179 0zm92 0zm-939 1zm17 0zm654 0zm181 0zm105 1zm-954 2zm59 0zm807 0zm26 0zm20 0zm42 0zm-961 1zm4 0zm853 0zm5 0zm23 0zm-9 1zm-875 1zm916 0zm-908 1zm99 0zm750 0zm17 0zm-780 1zm809 1zm-896 1zm910 1zm23 0zm-936 1zm2 0zm11 0zm853 0zm23 0zm18 0zm52 0zm-959 1zm-1 1zm668 1zm258 0zm-930 1zm8 0zm100 0zm-98 2zm8 1zm849 0zm25 0zm55 0zm-286 1zm279 0zm2 0zm-62 1zm52 0zm16 0zm-52 1zm29 0zm-905 1zm651 1zm-24 1zm297 0zm-930 1zm896 0zm-889 1zm2 0zm-11 1zm4 0zm3 0zm-4 1zm1 0zm2 0zm-6 2zm630 0zm266 0zm-887 1zm10 2zm608 0zm-620 1zm899 0zm-277 1zm-615 2zm709 1zm-96 2zm6 0zm-621 1zm1 0zm1 2zm767 1zm-762 1zm601 2zm56 1zm26 1zm33 0zm-717 1zm4 0zm-10 1zm11 0zm5 0zm635 2zm-645 1zm8 0zm708 0zm27 1zm-737 1zm579 0zm197 1zm27 0zm8 0zm-819 1zm701 0zm25 0zm45 0zm-766 3zm724 0zm67 0zm36 0zm-825 1zm600 0zm63 0zm21 0zm127 0zm-804 1zm797 0zm-797 2zm729 1zm78 0zm-221 4zm207 0zm17 0zm6 0zm-112 1zm19 1zm33 0zm-61 1zm31 0zm47 0zm-184 1zm55 0zm3 0zm171 0zm-101 1zm-147 2zm247 0zm-222 1zm48 0zm42 0zm7 0zm41 0zm27 0zm31 0zm-150 1zm67 0zm44 0zm-112 1zm17 0zm99 0zm40 0zm31 0zm-264 1zm77 1zm16 0zm11 1zm-27 1zm5 0zm9 0zm153 0zm-152 2zm8 0zm181 0zm-193 1zm181 0zm-177 1zm74 0zm52 0zm-214 1zm83 0zm145 0zm-66 1zm99 0zm-82 1zm42 0zm4 0zm-85 1zm140 0zm17 0zm-67 2zm-226 1zm223 0zm-115 1zm53 0zm65 0zm50 0zm-296 1zm247 0zm5 0zm-73 1zm47 0zm-73 2zm111 0zm2 0zm-235 1zm170 0zm70 0zm-153 1zm15 0zm168 0zm29 0zm-203 1zm150 0zm-118 1zm152 0zm-25 1zm12 0zm-35 2zm35 0zm-165 1zm129 0zm-26 1zm44 0zm-199 1zm29 0zm15 0zm-113 1zm89 0zm76 0zm15 0zm140 1zm7 0zm-337 1zm177 0zm74 0zm-78 1zm5 0zm158 0zm-56 1zm47 0zm-190 1zm202 0zm-242 1zm78 0zm34 0zm123 0zm-25 1zm27 0zm-81 1zm-70 1zm170 0zm-120 1zm33 0zm3 0zm56 0zm26 0zm-49 1zm14 0zm-10 1zm-106 1zm85 0zm19 0zm-35 1zm51 0zm35 1zm3 0zm-263 1zm176 0zm28 0zm13 0zm61 0zm-106 1zm103 0zm-63 1zm44 0zm4 0zm2 0zm11 1zm-343 1zm276 0zm58 0zm10 0zm11 0zm-211 1zm120 0zm28 0zm-230 1zm261 0zm9 0zm7 0zm4 0zm-10 1zm7 0zm-161 1zm128 0zm14 0zm1 0zm10 0zm3 0zm-242 1zm228 0zm-237 1zm185 0zm39 1zm30 0zm10 0zm3 0zm8 0zm-302 1zm193 0zm9 0zm21 0zm40 0zm8 0zm16 0zm10 0zm2 0zm-100 1zm65 0zm27 0zm-75 1zm17 0zm40 0zm3 0zm9 0zm-215 1zm34 0zm105 0zm71 0zm6 1zm3 0zm6 0zm3 0zm-277 1zm198 0zm51 0zm15 0zm6 0zm-268 1zm238 0zm11 0zm4 0zm18 0zm-263 1zm88 0zm145 0zm2 0zm17 0zm-238 1zm223 0zm9 0zm12 0zm3 0zm-295 1zm210 0zm81 0zm-274 1zm254 0zm4 0zm17 0zm-373 1zm95 0zm15 1zm42 0zm74 0zm67 0zm15 0zm63 0zm7 0zm-290 1zm262 0zm20 0zm-262 1zm246 0zm1 0zm15 0zm2 0zm-24 1zm13 0zm-285 1zm215 0zm33 0zm18 0zm9 0zm10 0zm-290 1zm69 0zm144 0zm64 0zm20 0zm2 0zm-59 1zm41 0zm10 0zm11 0zm4 0zm-91 1zm41 0zm29 0zm2 0zm7 0zm1 0zm-199 1zm-30 1zm159 0zm49 0zm9 0zm4 0zm-133 1zm60 0zm21 0zm63 0zm-89 1zm20 0zm61 0zm-58 1zm54 0zm-215 1zm36 0zm137 0zm15 0zm29 0zm-63 1zm67 0zm-256 1zm83 0zm54 1zm96 0zm6 0zm-254 1zm19 0zm239 0zm-199 2zm183 1zm9 0zm21 2zm-249 1zm16 0zm29 0zm-68 1zm88 2zm155 0zm16 0zm-252 1zm255 1zm-10 1zm13 0zm8 0zm-37 1zm-145 1zm152 0zm21 1zm-253 3zm214 0zm10 2zm28 0zm-204 1zm198 0zm-33 2zm-214 2zm86 0zm152 0zm0 1zm-23 2zm-200 1zm42 0zm-26 1zm-20 1zm55 0zm15 1zm-47 1zm8 0zm177 0zm-170 1zm125 0zm-166 1zm80 0zm56 0zm-102 5zm109 1zm-81 1zm127 0zm-8 1zm-89 12zm-683 2zm690 5zm-690 1zm15 0zm-13 2zm38 4zm20 0zm631 1zm-689 2zm68 2zm-66 1zm28 0zm-19 1zm24 1zm719 2zm-749 2zm47 0zm-49 2zm762 0zm-744 1zm736 1zm-737 1zm51 2zm699 1zm-763 1zm41 1zm670 0zm34 0zm11 1zm2 0zm-733 1zm740 1zm-741 1zm-9 1zm49 0zm701 1zm-694 1zm686 0zm-760 1zm28 0zm7 0zm732 0zm-738 1zm747 0zm-5 1zm-759 2zm36 0zm53 0zm669 0zm13 0zm-11 2zm4 1zm-729 1zm-10 2zm48 1zm691 0zm-745 1zm33 1zm666 0zm51 0zm1 0zm-751 2zm31 0zm42 0zm639 0zm42 0zm-742 2zm4 1zm-11 1zm703 0zm-699 1zm10 1zm25 0zm729 0zm-13 1zm-81 1zm88 0zm-4 1zm8 0zm-8 5zm-703 1zm711 2zm-736 1zm750 0zm6 4zm-63 2zm62 5zm2 0zm15 0zm2 2zm1 0zm-742 1zm726 0zm24 4zm-9 4zm7 0zm6 3zm-82 2zm4 3zm82 0zm-2 4zm-40 4zm40 0zm-31 2zm33 1zm1 1zm-22 2zm5 1zm-35 1zm45 0zm8 3zm-56 11zm3 2zm27 11zm-14 24z"/>
<path stroke="#00BFC4" d="M1251 70zm-10 1zm11 0zm-70 3zm6 1zm45 0zm-5 2zm-46 1zm9 0zm63 0zm-5 1zm-71 1zm3 0zm66 1zm-53 2zm40 0zm-42 1zm40 0zm-55 1zm4 1zm46 1zm28 0zm-65 1zm1 1zm1 0zm3 0zm2 0zm8 0zm43 0zm-54 1zm12 0zm54 1zm-53 1zm-18 2zm6 0zm-1 1zm4 0zm15 0zm35 0zm-54 1zm6 0zm5 0zm54 0zm-51 1zm12 0zm-27 2zm59 1zm-48 3zm16 0zm6 0zm-3 1zm-6 1zm-6 1zm18 0zm41 0zm-55 1zm3 1zm35 0zm-25 1zm-1 2zm7 0zm7 0zm-16 1zm14 0zm-23 1zm29 0zm5 0zm-26 3zm-491 1zm3 0zm485 0zm3 0zm-15 1zm22 0zm26 0zm-527 1zm493 0zm34 0zm-20 1zm1 0zm-530 1zm1 0zm-71 1zm65 0zm5 0zm5 0zm-72 1zm73 0zm6 0zm18 0zm4 0zm4 0zm509 0zm-612 1zm70 0zm3 0zm1 0zm-24 1zm17 0zm12 0zm528 0zm-550 1zm6 0zm29 0zm2 0zm7 0zm501 0zm4 0zm-607 1zm72 0zm7 0zm8 0zm522 0zm-627 1zm86 0zm2 0zm22 0zm19 0zm-72 1zm7 0zm35 0zm40 0zm-153 1zm128 0zm6 0zm-21 1zm41 0zm18 0zm466 0zm-627 1zm121 0zm-124 1zm25 0zm6 0zm26 0zm46 0zm7 0zm13 0zm508 0zm8 0zm-660 1zm97 0zm8 0zm5 0zm72 0zm-105 1zm27 0zm39 0zm1 0zm-91 1zm88 0zm5 0zm22 0zm4 0zm7 0zm2 0zm472 0zm-616 1zm5 0zm2 0zm81 0zm4 0zm23 0zm2 0zm-54 1zm32 0zm9 0zm14 0zm12 0zm-122 1zm53 0zm-81 1zm9 0zm120 0zm13 0zm20 0zm4 0zm481 0zm-605 1zm21 0zm22 0zm6 0zm24 0zm11 0zm14 0zm-127 1zm23 0zm23 0zm37 0zm60 0zm21 0zm-167 1zm17 0zm117 0zm11 0zm2 0zm-77 1zm5 0zm4 0zm59 0zm10 0zm1 0zm3 0zm483 0zm-642 1zm39 0zm42 0zm40 0zm-70 1zm20 0zm45 0zm7 0zm520 0zm-605 1zm9 0zm85 0zm15 0zm9 0zm-118 1zm123 0zm-99 1zm56 0zm52 0zm476 0zm-691 1zm53 0zm13 0zm94 0zm44 0zm-130 1zm41 0zm39 0zm-74 1zm46 0zm25 0zm77 0zm-225 1zm53 0zm42 0zm51 0zm4 0zm80 0zm461 0zm-599 1zm37 0zm22 0zm2 0zm7 0zm21 0zm45 0zm471 0zm-555 1zm69 0zm15 0zm-144 1zm46 0zm43 0zm-123 1zm62 0zm12 0zm20 0zm547 0zm10 0zm-599 1zm27 0zm572 0zm-572 1zm3 0zm4 0zm33 0zm3 0zm35 0zm26 0zm-231 1zm36 0zm26 0zm66 0zm24 0zm81 0zm5 0zm-97 1zm22 0zm44 0zm479 0zm18 0zm-637 1zm13 0zm88 0zm41 0zm24 0zm-114 1zm14 0zm63 0zm23 0zm-178 1zm77 0zm23 0zm17 0zm2 0zm13 0zm22 0zm-79 1zm10 0zm57 0zm3 0zm30 0zm-102 1zm17 0zm38 0zm1 0zm8 0zm40 0zm-166 1zm5 0zm67 0zm12 0zm21 0zm56 0zm-89 1zm44 0zm2 0zm11 0zm5 0zm5 0zm-105 1zm106 0zm48 0zm6 0zm2 0zm-161 1zm119 0zm11 0zm5 0zm1 0zm24 0zm454 0zm-631 1zm17 0zm85 0zm17 0zm8 0zm7 0zm24 0zm-115 1zm14 0zm24 0zm44 0zm6 0zm9 0zm12 0zm7 0zm13 0zm461 0zm-604 1zm31 0zm21 0zm43 0zm5 0zm-76 1zm6 0zm53 0zm60 0zm-196 1zm76 0zm4 0zm50 0zm4 0zm18 0zm28 0zm29 0zm-93 1zm1 0zm33 0zm30 0zm476 0zm-669 1zm95 0zm81 0zm16 0zm-117 1zm13 0zm20 0zm78 0zm16 0zm6 0zm12 0zm-191 1zm80 0zm19 0zm52 0zm18 0zm21 0zm9 0zm-200 1zm5 0zm75 0zm39 0zm23 0zm10 0zm11 0zm17 0zm11 0zm-145 1zm8 0zm21 0zm4 0zm8 0zm47 0zm53 0zm13 0zm-172 1zm77 0zm13 0zm5 0zm15 0zm1 0zm7 0zm26 0zm1 0zm-149 1zm110 0zm24 0zm15 0zm-235 1zm150 0zm2 0zm13 0zm24 0zm22 0zm14 0zm21 0zm-179 1zm20 0zm3 0zm51 0zm35 0zm15 0zm25 0zm44 0zm4 0zm-207 1zm67 0zm8 0zm8 0zm72 0zm18 0zm19 0zm-170 1zm85 0zm39 0zm7 0zm1 0zm26 0zm1 0zm-29 1zm26 0zm13 0zm-196 1zm52 0zm57 0zm41 0zm18 0zm37 0zm-129 1zm14 0zm46 0zm34 0zm8 0zm12 0zm-135 1zm143 0zm-197 1zm121 0zm29 0zm36 0zm6 0zm1 0zm2 0zm-102 1zm7 0zm1 0zm92 0zm11 0zm-118 1zm18 0zm11 0zm25 0zm28 0zm6 0zm-168 1zm3 0zm6 0zm84 0zm9 0zm29 0zm13 0zm15 0zm-224 1zm139 0zm16 0zm11 0zm55 0zm38 0zm-117 1zm1 0zm76 0zm-146 1zm96 0zm22 0zm18 0zm27 0zm6 0zm-167 1zm19 0zm75 0zm17 0zm12 0zm22 0zm4 0zm10 0zm6 0zm-151 1zm44 0zm12 0zm15 0zm5 0zm41 0zm3 0zm-88 1zm38 0zm11 0zm-57 2zm69 0zm27 0zm21 0zm-106 1zm99 0zm32 0zm-185 1zm60 0zm4 0zm18 0zm4 0zm33 0zm-127 1zm1 0zm93 0zm14 0zm28 0zm2 0zm26 0zm-113 1zm26 0zm71 0zm11 0zm27 0zm5 0zm-126 1zm4 0zm3 0zm35 0zm86 0zm-187 1zm13 0zm55 0zm2 0zm19 0zm2 0zm22 0zm24 0zm-153 1zm10 0zm15 0zm71 0zm2 0zm25 0zm33 0zm20 0zm16 0zm6 0zm-204 1zm68 0zm63 0zm39 0zm-169 1zm39 0zm45 0zm18 0zm7 0zm22 0zm8 0zm57 0zm-227 1zm33 0zm85 0zm2 0zm92 0zm2 0zm-154 1zm55 0zm15 0zm3 0zm-33 1zm16 0zm69 0zm-132 1zm14 0zm56 0zm16 0zm59 0zm11 0zm-89 1zm9 0zm71 0zm37 0zm-259 1zm136 0zm6 0zm2 0zm39 0zm56 0zm-74 1zm3 0zm4 0zm28 0zm14 0zm35 0zm-245 1zm47 0zm50 0zm41 0zm1 0zm4 0zm32 0zm28 0zm21 0zm16 0zm-230 1zm135 0zm33 0zm43 0zm-128 1zm33 0zm9 0zm3 0zm15 0zm43 0zm39 0zm4 0zm-155 1zm35 0zm42 0zm22 0zm20 0zm44 0zm-186 1zm23 0zm55 0zm19 0zm35 0zm23 0zm35 0zm-94 1zm24 0zm4 0zm10 0zm20 0zm27 0zm-194 1zm84 0zm40 0zm2 0zm50 0zm1 0zm17 0zm-91 1zm96 0zm-205 1zm148 0zm3 0zm21 0zm-20 1zm40 0zm19 0zm-149 1zm56 0zm36 0zm23 0zm-46 1zm7 0zm18 0zm4 0zm28 0zm6 0zm3 0zm-66 1zm7 0zm70 0zm-254 1zm32 0zm1 0zm23 0zm46 0zm30 0zm20 0zm41 0zm22 0zm-19 1zm11 0zm-145 1zm45 0zm68 0zm26 0zm34 0zm-140 1zm53 0zm1 0zm81 0zm21 0zm-216 1zm117 0zm77 0zm-165 1zm88 0zm78 0zm-175 1zm95 0zm44 0zm3 0zm8 0zm6 0zm8 0zm-159 1zm33 0zm30 0zm21 0zm7 0zm33 0zm2 0zm25 0zm-73 1zm22 0zm38 0zm1 0zm6 0zm-149 1zm26 0zm68 0zm60 0zm27 0zm9 0zm-70 1zm27 0zm4 0zm-182 1zm75 0zm65 0zm47 0zm29 0zm8 0zm-182 1zm3 0zm73 0zm25 0zm1 0zm25 0zm2 0zm50 0zm-154 1zm51 0zm16 0zm2 0zm21 0zm23 0zm28 0zm-63 1zm28 0zm5 0zm3 0zm43 0zm-72 1zm7 0zm50 0zm-158 1zm47 0zm37 0zm17 0zm19 0zm15 0zm7 0zm-25 1zm7 0zm-145 1zm55 0zm40 0zm11 0zm24 0zm16 0zm31 0zm-84 1zm7 0zm5 0zm7 0zm38 0zm-4 1zm26 0zm-194 1zm120 0zm17 0zm25 0zm33 0zm7 0zm10 0zm-153 1zm73 0zm27 0zm8 0zm19 0zm12 0zm-41 1zm24 0zm2 0zm4 0zm24 0zm-100 1zm21 0zm7 0zm13 0zm27 0zm-125 1zm63 0zm7 0zm85 0zm1 0zm-147 1zm70 0zm65 0zm2 0zm11 0zm-209 1zm38 0zm97 0zm11 0zm63 0zm-180 1zm20 0zm72 0zm18 0zm-141 1zm39 0zm57 0zm105 0zm3 0zm-197 1zm29 0zm4 0zm4 0zm76 0zm12 0zm18 0zm11 0zm32 0zm20 0zm-102 1zm37 0zm15 0zm7 0zm7 0zm12 0zm28 0zm-171 1zm91 0zm32 0zm-157 1zm102 0zm39 0zm20 0zm16 0zm16 0zm5 0zm-99 1zm35 0zm33 0zm-55 1zm15 0zm37 0zm9 0zm-139 1zm72 0zm4 0zm3 0zm22 0zm7 0zm48 0zm-151 1zm61 0zm102 0zm-151 1zm77 0zm-72 1zm20 0zm25 0zm6 0zm30 0zm16 0zm19 0zm-189 1zm149 0zm40 0zm-19 1zm30 0zm3 0zm-142 1zm66 0zm3 0zm42 0zm22 0zm-136 1zm145 0zm11 0zm-90 1zm58 0zm-31 1zm2 0zm66 0zm-94 1zm-25 1zm34 0zm19 0zm17 0zm38 0zm4 0zm-107 1zm23 0zm7 0zm15 0zm68 0zm-108 1zm56 0zm-159 1zm119 0zm24 0zm8 0zm11 0zm2 0zm4 0zm37 0zm-167 1zm116 0zm3 0zm36 0zm-203 1zm91 0zm40 0zm28 0zm1 0zm9 0zm22 0zm-144 1zm104 0zm3 0zm-73 1zm3 0zm45 0zm9 0zm5 0zm8 0zm58 0zm-170 1zm100 0zm13 0zm-84 1zm7 0zm6 0zm65 0zm17 0zm16 0zm11 0zm13 0zm-61 1zm2 0zm50 1zm-52 1zm9 0zm44 0zm-49 1zm8 0zm18 0zm7 0zm-67 1zm49 0zm35 0zm4 0zm8 0zm-182 1zm140 0zm4 0zm9 0zm29 0zm-195 1zm2 0zm90 0zm53 0zm25 0zm4 0zm6 0zm10 0zm-165 1zm11 0zm32 0zm42 0zm47 0zm-88 1zm14 0zm73 0zm13 0zm12 0zm7 0zm-77 1zm16 0zm7 0zm-37 1zm19 0zm29 0zm16 0zm-144 1zm66 0zm36 0zm15 0zm16 0zm11 0zm-156 1zm131 1zm12 0zm-69 2zm72 0zm26 0zm-144 1zm73 0zm22 0zm4 0zm15 0zm30 0zm-104 1zm10 0zm68 0zm5 0zm23 0zm-46 2zm18 0zm7 1zm-23 1zm9 0zm2 0zm10 1zm23 1zm-65 1zm-18 2zm62 0zm-118 1zm-15 1zm5 0zm33 0zm20 0zm72 0zm-36 1zm40 0zm-157 1zm139 0zm-142 1zm21 0zm12 0zm80 1zm-70 2zm61 1zm56 0zm-147 1zm114 0zm-131 1zm2 0zm110 0zm62 1zm-170 1zm6 0zm6 0zm87 0zm43 0zm-17 1zm-86 2zm130 0zm7 0zm-182 2zm111 0zm42 0zm22 0zm-3 2zm-82 1zm43 0zm40 0zm4 0zm-25 1zm3 1zm25 0zm-29 1zm-146 1zm178 0zm-95 1zm54 0zm3 1zm29 0zm7 0zm354 0zm-417 1zm-3 1zm425 2zm-373 1zm365 2zm-432 3zm79 0zm-86 1zm432 0zm-348 1zm-48 5zm412 0zm-556 3zm570 1zm-14 2zm-365 1zm-248 2zm66 0zm48 0zm112 0zm391 0zm8 0zm-603 2zm226 0zm398 0zm-602 2zm552 0zm44 0zm2 0zm-590 1zm47 0zm152 0zm396 0zm-577 1zm178 0zm341 1zm67 0zm-645 1zm37 0zm2 0zm577 0zm11 0zm-552 1zm166 0zm330 0zm31 0zm25 0zm-590 1zm68 0zm137 0zm384 0zm20 1zm17 0zm-620 1zm2 0zm528 0zm82 0zm59 0zm-741 1zm108 0zm524 0zm44 0zm-638 1zm12 0zm191 0zm11 0zm10 0zm-259 1zm584 0zm4 0zm-577 1zm3 0zm3 0zm7 0zm34 0zm39 0zm4 0zm488 0zm49 0zm-387 1zm331 0zm-531 1zm3 0zm38 0zm500 0zm40 0zm-629 1zm230 0zm360 0zm2 0zm115 0zm41 0zm-758 1zm33 0zm207 0zm388 0zm80 0zm-666 1zm18 0zm209 0zm327 0zm-569 1zm86 0zm6 0zm1 0zm100 0zm-228 1zm95 0zm99 0zm415 0zm-499 1zm613 0zm18 0zm-737 1zm600 0zm1 0zm4 0zm47 0zm39 0zm30 0zm-728 1zm3 0zm55 0zm2 0zm551 0zm51 0zm35 0zm16 0zm-702 1zm254 0zm336 0zm6 0zm43 0zm41 0zm-683 1zm46 0zm37 0zm590 0zm6 0zm-686 1zm2 0zm4 0zm34 0zm8 0zm39 0zm150 0zm20 0zm424 0zm4 0zm24 0zm-629 1zm178 0zm383 0zm1 0zm60 0zm1 0zm1 0zm-648 1zm59 0zm494 0zm91 0zm-47 1zm44 0zm25 0zm3 0zm-728 1zm1 0zm66 0zm25 0zm606 0zm2 0zm3 0zm-712 1zm5 0zm685 0zm3 0zm8 0zm6 0zm6 0zm8 0zm1 0zm-626 1zm46 0zm500 0zm3 0zm42 0zm12 0zm2 0zm22 0zm4 0zm-611 1zm52 0zm77 0zm440 0zm6 0zm4 0zm2 0zm24 0zm-714 1zm60 0zm31 0zm7 0zm96 0zm56 0zm433 0zm4 0zm4 0zm13 0zm6 0zm31 0zm-61 1zm23 0zm-714 1zm1 0zm79 0zm25 0zm18 0zm108 0zm44 0zm397 0zm20 0zm9 0zm2 0zm-699 1zm7 0zm659 0zm16 0zm28 0zm12 0zm-31 1zm4 0zm2 0zm12 0zm8 0zm-724 1zm244 0zm430 0zm35 0zm7 0zm13 0zm-666 1zm17 0zm19 0zm26 0zm3 0zm576 0zm1 0zm24 0zm3 0zm4 0zm-609 1zm576 0zm11 0zm-605 1zm147 0zm450 0zm7 0zm1 0zm10 0zm-584 1zm125 0zm439 0zm7 0zm14 0zm18 0zm-744 1zm71 0zm46 0zm545 0zm67 0zm-733 1zm7 0zm139 0zm10 0zm129 0zm432 0zm1 0zm-643 1zm10 0zm29 0zm162 0zm8 0zm425 0zm-441 1zm390 0zm58 0zm26 0zm-549 1zm-125 1zm54 0zm24 0zm526 0zm56 0zm-46 1zm60 0zm-749 1zm117 0zm2 0zm568 0zm92 0zm-782 1zm154 0zm565 0zm-641 1zm31 0zm16 0zm66 0zm488 0zm34 0zm58 0zm7 0zm-643 1zm147 0zm428 0zm25 0zm-747 1zm9 0zm2 0zm130 0zm3 0zm-52 1zm6 0zm57 0zm-146 1zm129 0zm159 0zm496 0zm-782 1zm126 0zm30 0zm-171 1zm90 0zm28 0zm37 0zm5 0zm14 0zm534 0zm53 0zm-675 1zm45 0zm12 0zm48 0zm568 0zm11 0zm23 0zm-794 1zm91 0zm6 0zm4 0zm36 0zm35 0zm489 0zm-658 1zm727 0zm29 0zm-759 1zm5 0zm113 0zm19 0zm3 0zm652 0zm4 0zm-133 1zm53 0zm-723 1zm172 0zm-177 1zm15 0zm136 1zm-144 1zm131 0zm30 0zm545 0zm1 0zm-707 1zm176 0zm519 0zm-516 1zm514 0zm30 0zm-723 1zm693 0zm35 0zm10 0zm-753 1zm2 0zm10 0zm101 0zm80 0zm588 0zm-648 1zm72 0zm15 0zm6 0zm8 0zm552 0zm-786 1zm9 0zm179 0zm595 0zm-611 1zm7 0zm61 0zm472 0zm-567 1zm7 0zm102 0zm434 0zm65 0zm27 0zm-778 1zm235 0zm524 0zm18 0zm4 0zm-631 1zm31 0zm5 0zm-53 1zm559 0zm41 0zm59 0zm5 0zm-640 1zm1 0zm605 0zm-601 1zm-167 1zm135 0zm601 0zm60 0zm3 0zm1 0zm-652 1zm77 0zm476 0zm104 0zm-624 1zm615 0zm-650 2zm56 0zm21 0zm6 0zm47 0zm-151 1zm35 0zm59 0zm583 0zm10 0zm-10 1zm9 0zm-829 1zm12 0zm192 0zm52 0zm11 0zm566 0zm-589 1zm-93 1zm13 0zm72 0zm35 0zm445 0zm6 0zm97 0zm-828 1zm277 0zm13 0zm-289 1zm9 0zm818 0zm5 0zm-632 1zm76 0zm444 0zm4 0zm-721 1zm189 0zm28 0zm507 0zm94 0zm12 0zm-2 1zm-824 1zm132 0zm48 0zm12 0zm-205 1zm164 0zm63 0zm76 0zm530 0zm1 0zm-619 1zm59 0zm32 0zm-301 1zm4 0zm169 0zm127 0zm7 0zm2 0zm109 0zm413 0zm-832 1zm180 1zm39 0zm31 0zm65 0zm11 0zm508 0zm-828 1zm186 0zm84 0zm37 0zm120 0zm390 0zm-677 1zm36 0zm41 0zm57 0zm3 0zm155 0zm397 0zm-568 1zm-92 1zm17 0zm83 0zm13 0zm-103 1zm110 1zm545 0zm-558 1zm15 0zm-83 1zm229 0zm276 0zm-540 1zm95 0zm32 0zm520 0zm-839 1zm2 0zm171 0zm35 0zm104 0zm-328 1zm11 0zm169 0zm153 0zm-114 1zm2 0zm87 0zm-304 1zm226 0zm60 0zm456 0zm110 0zm2 1zm-633 1zm631 0zm-852 1zm287 0zm7 1zm42 0zm408 0zm-448 1zm-298 1zm2 0zm1 0zm291 1zm188 1zm260 0zm2 0zm6 0zm-752 1zm305 0zm23 0zm-10 1zm-327 1zm-3 1zm7 0zm311 0zm-319 1zm316 0zm-319 1zm1 1zm762 1zm-763 1zm324 0zm184 0zm-513 2zm-8 3zm-1 1zm8 0zm761 0zm3 0zm-243 2zm-524 1zm-19 4zm153 0zm-157 3zm158 0zm-155 2zm778 0zm-787 1zm160 0zm-150 1zm147 0zm-159 1zm787 0zm3 0zm-214 2zm-569 1zm-5 1zm-6 1zm1 0zm153 0zm557 0zm-709 1zm706 0zm-694 1zm565 0zm118 0zm33 0zm-580 1zm-136 1zm731 0zm-603 1zm570 0zm-123 1zm-443 1zm1 1zm572 1zm-34 1zm-694 1zm144 0zm7 0zm584 0zm34 0zm5 0zm65 0zm-121 1zm6 0zm-581 1zm5 0zm592 0zm-597 1zm1 0zm633 0zm-680 1zm52 0zm611 0zm-44 2zm20 0zm40 0zm-795 1zm87 0zm636 0zm-748 1zm32 0zm11 0zm686 0zm90 0zm-772 1zm723 0zm5 0zm-4 1zm-753 1zm2 0zm7 0zm-4 1zm718 0zm50 0zm200 0zm-939 1zm710 0zm-766 1zm768 0zm25 0zm195 0zm-957 1zm708 0zm8 0zm242 0zm-928 1zm7 0zm724 0zm-768 1zm161 0zm584 0zm16 0zm206 0zm-971 1zm163 0zm635 0zm-637 1zm558 0zm76 0zm10 0zm-799 1zm653 0zm101 0zm-722 1zm922 0zm8 0zm4 0zm-974 1zm19 0zm138 0zm500 0zm-651 1zm42 0zm750 0zm8 0zm-794 1zm792 0zm147 0zm8 1zm6 1zm-931 1zm631 0zm-653 2zm653 0zm66 0zm-728 1zm150 0zm576 0zm115 0zm-817 1zm696 0zm1 0zm35 0zm49 0zm-813 1zm802 0zm162 0zm-962 1zm745 0zm217 0zm11 0zm-970 1zm733 0zm11 0zm25 0zm175 0zm32 0zm-244 1zm35 0zm167 0zm26 0zm1 0zm23 0zm-258 1zm68 0zm94 0zm-167 1zm230 0zm2 0zm-954 1zm14 0zm6 0zm765 0zm162 0zm31 0zm-948 1zm899 0zm22 0zm-804 1zm785 0zm45 0zm-975 1zm5 0zm936 0zm19 0zm23 0zm-986 1zm714 0zm44 0zm56 0zm49 0zm15 0zm99 0zm1 0zm-225 1zm137 0zm5 0zm76 0zm-987 1zm41 0zm109 0zm14 0zm649 0zm112 0zm32 0zm19 0zm-245 1zm171 0zm-148 1zm55 0zm5 0zm54 0zm31 0zm20 0zm10 0zm53 0zm2 0zm8 0zm15 0zm4 0zm-1020 1zm93 0zm775 0zm28 0zm32 0zm43 0zm5 0zm16 0zm18 0zm-977 1zm753 0zm54 0zm54 0zm35 0zm31 0zm15 0zm5 0zm28 0zm8 0zm-33 1zm18 0zm-982 1zm28 0zm722 0zm55 0zm41 0zm5 0zm29 0zm14 0zm47 0zm-248 1zm58 0zm47 0zm109 0zm34 0zm69 0zm-991 1zm128 0zm569 0zm39 0zm47 0zm87 0zm30 0zm-39 1zm6 0zm13 0zm-161 1zm34 0zm3 0zm74 0zm54 0zm17 0zm21 0zm69 0zm-1002 1zm771 0zm94 0zm-756 1zm27 0zm644 0zm182 0zm14 0zm23 0zm5 0zm10 0zm12 0zm-1029 1zm140 0zm479 0zm190 0zm44 0zm7 0zm93 0zm15 0zm35 0zm8 0zm-889 1zm20 0zm630 0zm-632 1zm669 0zm94 0zm33 0zm76 0zm-315 1zm78 0zm117 0zm66 0zm-968 1zm850 0zm91 0zm-174 1zm95 0zm7 0zm36 0zm82 0zm-981 1zm614 0zm113 0zm38 0zm12 0zm164 0zm2 0zm43 0zm1 0zm-984 1zm841 0zm17 0zm42 0zm16 0zm8 0zm-915 1zm882 0zm11 0zm36 0zm38 0zm24 0zm-988 1zm953 0zm33 0zm7 0zm-1014 1zm688 0zm115 0zm71 0zm52 0zm-926 1zm17 0zm615 0zm111 0zm142 0zm46 0zm26 0zm21 0zm-953 1zm818 0zm101 0zm32 0zm33 0zm7 0zm-396 1zm173 0zm77 0zm120 0zm-995 1zm998 0zm-182 1zm-70 1zm48 0zm53 0zm14 0zm9 0zm32 0zm30 0zm13 0zm14 0zm-956 1zm803 0zm78 0zm23 0zm4 0zm57 0zm28 0zm13 0zm-1014 1zm701 0zm3 0zm73 0zm22 0zm17 0zm74 0zm-802 1zm7 0zm665 0zm17 0zm99 0zm6 0zm79 0zm-173 1zm108 0zm19 0zm90 0zm-864 1zm486 0zm3 0zm249 0zm-849 1zm16 0zm944 0zm-367 1zm11 0zm291 0zm68 0zm-239 1zm14 0zm115 0zm25 0zm56 0zm-964 1zm626 0zm275 0zm48 0zm17 0zm12 0zm-974 1zm32 0zm647 0zm173 0zm29 0zm50 0zm22 0zm-826 1zm631 0zm25 0zm116 0zm32 0zm35 0zm-962 1zm2 0zm760 0zm37 0zm96 0zm-899 1zm124 0zm506 0zm131 0zm139 0zm40 0zm-57 1zm2 0zm9 0zm79 0zm-972 1zm757 0zm115 0zm27 0zm40 0zm-840 1zm28 0zm505 0zm154 0zm72 0zm85 0zm38 0zm-343 1zm124 0zm37 0zm93 0zm28 0zm-52 1zm8 0zm3 0zm85 0zm-970 1zm644 0zm259 0zm-778 1zm804 0zm7 0zm1 0zm49 0zm-36 1zm-939 1zm17 0zm846 0zm14 0zm15 0zm13 0zm12 0zm-925 1zm7 0zm115 0zm748 0zm21 0zm25 0zm-883 1zm839 0zm63 0zm-917 1zm924 0zm16 0zm13 0zm-7 1zm-956 1zm106 0zm742 0zm17 0zm2 0zm22 0zm-865 1zm80 0zm7 0zm730 0zm62 0zm10 0zm-911 1zm110 0zm738 0zm-859 1zm4 0zm54 0zm806 0zm4 0zm12 0zm24 0zm7 0zm14 0zm-902 1zm1 0zm51 0zm41 0zm735 0zm15 0zm25 0zm10 0zm5 0zm1 0zm18 0zm6 0zm21 0zm-940 1zm856 0zm30 0zm42 0zm8 0zm-85 1zm36 0zm1 0zm30 0zm35 0zm2 0zm-958 1zm2 0zm2 0zm63 0zm41 0zm746 0zm7 1zm15 0zm43 0zm22 0zm-941 1zm1 1zm864 0zm108 0zm-331 1zm218 0zm104 0zm-86 1zm-783 1zm872 0zm-971 1zm107 0zm810 0zm-27 1zm15 0zm9 0zm39 0zm-65 1zm15 0zm23 1zm3 0zm35 0zm-293 1zm207 0zm5 0zm61 0zm-938 1zm923 0zm-917 1zm888 0zm-16 1zm14 1zm23 0zm-6 3zm-26 1zm3 0zm-880 1zm895 0zm25 0zm-40 1zm-875 1zm644 1zm-648 1zm-1 1zm14 1zm687 0zm222 0zm-211 2zm190 0zm-150 1zm-742 1zm762 1zm118 0zm-880 1zm747 1zm-747 1zm714 0zm-92 2zm-20 2zm-601 1zm3 0zm714 2zm-20 1zm40 0zm-730 1zm2 0zm730 1zm-735 1zm751 0zm-109 1zm-641 1zm778 0zm36 0zm-141 1zm-673 2zm10 0zm738 0zm-98 2zm103 0zm63 0zm-809 1zm691 0zm6 0zm-700 1zm742 0zm18 0zm46 0zm-197 1zm147 0zm-71 1zm71 0zm11 0zm14 0zm10 0zm-787 1zm787 0zm-782 1zm643 0zm84 0zm-730 1zm577 0zm133 0zm82 0zm9 0zm-108 1zm27 0zm67 1zm-778 1zm571 0zm59 0zm10 0zm-649 1zm2 0zm596 0zm169 0zm3 0zm18 0zm25 0zm-5 2zm8 0zm-9 1zm10 0zm-161 1zm48 0zm9 0zm83 0zm10 0zm6 1zm-159 1zm-12 1zm-55 1zm6 0zm58 0zm170 0zm8 0zm-184 1zm94 1zm27 0zm-119 1zm14 0zm-8 1zm75 0zm78 0zm7 0zm-171 1zm17 0zm133 0zm-131 1zm-78 1zm78 0zm6 0zm130 0zm-146 2zm-1 2zm8 1zm78 0zm15 0zm32 0zm-130 1zm152 1zm41 0zm-193 1zm96 0zm31 0zm10 0zm-140 1zm127 0zm-123 1zm22 0zm53 0zm119 0zm-156 1zm147 0zm-16 1zm1 0zm13 0zm-136 1zm122 0zm-86 1zm51 0zm3 0zm-121 1zm110 0zm-32 1zm57 0zm-57 1zm57 0zm11 0zm17 0zm-74 1zm16 0zm12 0zm11 0zm16 0zm-21 1zm-36 1zm117 0zm-89 2zm22 0zm19 0zm5 0zm20 0zm31 0zm-232 1zm36 0zm105 0zm-62 1zm70 0zm7 0zm-62 1zm18 0zm50 0zm78 0zm-243 1zm155 0zm8 0zm11 0zm-283 1zm205 0zm133 0zm-58 1zm-20 1zm26 0zm51 2zm-84 1zm45 0zm7 0zm-1 1zm34 0zm-17 1zm-164 1zm177 1zm-184 1zm29 0zm195 0zm-97 1zm16 0zm43 0zm13 0zm-30 1zm47 0zm12 0zm7 0zm-164 2zm105 0zm22 0zm32 0zm10 0zm-10 1zm-75 1zm70 0zm6 0zm9 0zm-365 1zm162 0zm-12 2zm122 0zm41 0zm34 0zm2 0zm-1 1zm-194 1zm84 0zm88 0zm3 0zm-199 1zm171 0zm18 0zm23 0zm3 0zm-226 1zm144 0zm76 0zm15 0zm5 0zm6 0zm-63 1zm34 0zm7 0zm-80 1zm77 0zm-39 1zm8 0zm13 0zm36 0zm3 0zm7 0zm-94 2zm7 0zm54 0zm8 0zm15 0zm6 0zm2 0zm-41 1zm0 1zm15 0zm22 0zm-246 1zm48 0zm170 0zm17 0zm19 0zm3 0zm-266 1zm26 0zm139 0zm1 1zm55 1zm14 0zm23 0zm-272 1zm183 0zm36 0zm18 0zm42 0zm-63 1zm36 0zm4 0zm16 0zm-275 1zm-8 1zm276 0zm-15 1zm2 0zm-195 1zm156 0zm4 0zm32 0zm6 0zm2 0zm-210 1zm229 0zm-53 1zm2 0zm25 0zm7 0zm21 0zm-262 1zm233 0zm3 1zm-41 1zm38 0zm14 0zm-39 1zm27 0zm3 0zm15 0zm4 0zm-231 1zm140 0zm80 0zm-279 1zm256 0zm17 0zm9 0zm9 0zm-234 2zm182 0zm40 0zm16 0zm-294 1zm54 0zm169 0zm41 0zm20 0zm-221 1zm146 0zm71 0zm-285 1zm189 0zm35 0zm11 1zm53 0zm-273 1zm154 0zm-76 1zm137 0zm8 0zm38 0zm-224 1zm181 0zm23 0zm-161 1zm-80 1zm254 0zm-277 1zm4 0zm272 0zm1 1zm-31 1zm50 0zm-180 2zm120 0zm22 0zm35 0zm-255 1zm9 0zm58 0zm191 0zm-283 1zm1 1zm96 0zm156 0zm-3 1zm40 0zm-244 1zm202 0zm13 0zm-14 1zm-226 1zm83 1zm149 1zm2 0zm-195 1zm165 0zm19 0zm-138 1zm169 0zm-46 1zm-212 2zm234 0zm18 0zm-268 2zm265 2zm-25 1zm1 2zm13 1zm-199 1zm185 0zm-1 1zm2 0zm-6 2zm28 0zm-171 1zm147 0zm-227 1zm224 0zm-12 1zm11 0zm-140 1zm73 1zm68 0zm14 0zm-14 1zm17 0zm-20 1zm1 0zm-198 1zm14 1zm181 1zm-48 1zm50 0zm-7 1zm-154 3zm-26 1zm180 0zm1 0zm-155 1zm3 2zm143 0zm4 1zm-15 3zm15 2zm-31 2zm-732 3zm-22 7zm730 1zm-709 5zm39 0zm-50 2zm53 0zm-26 2zm14 0zm699 0zm5 0zm12 0zm-702 2zm687 0zm15 0zm-767 1zm5 0zm1 0zm56 0zm694 1zm-761 1zm38 2zm-20 3zm29 2zm721 0zm-706 1zm-31 1zm24 0zm26 2zm683 0zm-750 2zm43 0zm34 0zm-21 1zm-38 1zm65 1zm624 1zm55 0zm-760 1zm31 4zm-10 2zm48 1zm-43 1zm748 0zm-748 1zm46 0zm-32 2zm18 2zm6 0zm-20 1zm29 1zm-60 2zm20 2zm750 1zm5 0zm-714 1zm2 0zm5 0zm7 0zm692 0zm-687 1zm-13 4zm9 0zm699 0zm-701 3zm-36 1zm30 1zm15 0zm715 0zm5 0zm-6 1zm-736 1zm678 1zm-661 2zm720 4zm8 0zm4 1zm-9 2zm-6 1zm22 0zm5 1zm4 6zm-769 1zm764 1zm8 1zm-769 1zm695 1zm44 3zm32 0zm-1 7zm-27 1zm35 1zm-16 5zm12 1zm-3 2zm5 0zm3 0zm-10 1zm4 2zm-8 1zm-19 2zm7 3zm5 1zm-57 8zm6 3zm33 2zm-34 7zm34 6zm-16 14z"/>
<path stroke="#F8766D" d="M1241 72zm-2 2zm7 1zm-7 1zm-10 1zm17 0zm-17 1zm3 0zm5 0zm-60 1zm53 0zm2 1zm12 0zm-18 1zm-33 1zm41 0zm7 0zm-14 2zm-35 1zm37 1zm1 0zm-29 2zm-26 1zm88 0zm-27 2zm17 0zm1 1zm-32 4zm-16 1zm-1 1zm14 2zm3 0zm18 0zm-18 2zm34 2zm-30 1zm8 0zm25 1zm-28 1zm-12 1zm36 0zm-17 1zm8 1zm7 0zm-35 1zm-3 1zm1 0zm41 0zm-33 1zm19 2zm16 2zm-25 1zm1 0zm19 0zm-584 1zm39 1zm522 0zm-573 2zm11 0zm564 0zm20 0zm-609 1zm32 0zm14 2zm570 0zm-612 1zm15 0zm59 0zm524 0zm-567 1zm5 0zm571 0zm-633 1zm75 0zm-47 2zm4 0zm31 0zm-40 1zm24 0zm11 1zm18 0zm-63 1zm48 0zm-66 2zm40 0zm9 0zm35 0zm552 0zm12 0zm-637 1zm69 0zm-31 1zm30 0zm-81 1zm38 0zm615 0zm-582 1zm13 0zm1 1zm553 0zm-586 2zm589 0zm9 0zm-632 1zm19 0zm605 1zm2 0zm-639 2zm40 0zm14 0zm4 0zm583 0zm-652 1zm9 0zm70 0zm-115 1zm11 1zm40 0zm8 0zm3 0zm-58 1zm46 0zm39 0zm16 0zm18 0zm-70 1zm7 0zm5 1zm24 0zm-87 1zm77 0zm-82 1zm94 0zm-9 1zm-53 1zm36 0zm6 0zm50 0zm-13 1zm580 0zm-668 1zm44 0zm4 0zm618 0zm-680 1zm77 1zm55 0zm-12 1zm-2 1zm-76 1zm66 0zm13 0zm-91 2zm64 0zm-44 1zm645 0zm-595 2zm6 0zm-57 1zm40 0zm612 0zm-543 1zm544 0zm-623 1zm5 0zm605 1zm4 0zm6 0zm-649 1zm6 0zm82 0zm562 0zm-686 1zm60 0zm35 2zm-71 2zm48 1zm31 0zm-66 1zm110 0zm-58 2zm8 0zm-31 1zm14 0zm-83 2zm69 0zm39 1zm4 0zm-77 1zm67 0zm108 0zm-173 1zm16 0zm-23 1zm11 0zm23 0zm25 0zm18 1zm27 0zm-43 1zm-4 1zm-76 1zm41 0zm19 0zm29 0zm-67 1zm-51 1zm43 0zm18 1zm-16 1zm21 1zm1 0zm2 2zm42 0zm18 0zm-39 1zm4 0zm4 0zm6 0zm5 0zm16 0zm80 0zm23 0zm-137 1zm16 0zm-61 1zm70 0zm-18 1zm-38 1zm29 1zm18 0zm-37 1zm31 0zm104 1zm-187 1zm77 0zm-13 2zm-43 2zm23 0zm24 0zm-34 1zm36 1zm30 1zm-51 3zm10 0zm123 0zm-87 1zm4 0zm38 2zm-55 1zm19 0zm-73 1zm10 0zm28 0zm19 0zm-47 1zm-5 1zm30 0zm22 0zm11 0zm16 0zm-115 1zm63 0zm164 0zm-125 2zm13 0zm-118 1zm12 0zm43 0zm50 0zm-36 2zm13 0zm-64 1zm62 0zm8 0zm-4 1zm-14 1zm-35 1zm70 0zm-73 1zm68 0zm2 0zm14 0zm-130 2zm44 0zm86 0zm-91 1zm58 0zm25 0zm-107 1zm33 0zm28 0zm52 0zm-23 1zm-41 1zm167 0zm-159 1zm128 0zm-93 1zm-3 1zm-33 1zm50 1zm27 0zm-135 1zm109 2zm-78 1zm25 1zm44 1zm-24 1zm-59 1zm25 0zm34 0zm36 0zm113 0zm-109 1zm-72 1zm51 0zm10 1zm105 0zm-99 1zm-95 2zm75 1zm13 0zm-29 1zm-25 1zm20 0zm7 2zm1 0zm-60 1zm40 1zm8 1zm6 0zm18 0zm19 1zm-21 1zm7 0zm7 0zm17 2zm10 0zm-20 1zm-19 1zm-60 1zm41 0zm-15 2zm45 1zm-61 2zm47 1zm10 1zm-91 1zm16 0zm-3 1zm62 1zm44 0zm-63 1zm35 0zm14 0zm2 0zm-47 2zm49 0zm13 0zm-117 1zm170 1zm-85 1zm-9 3zm-39 1zm53 0zm4 1zm-12 1zm1 0zm29 0zm-23 1zm27 1zm-99 1zm13 0zm47 0zm-70 1zm-2 3zm135 0zm-74 2zm8 0zm-61 1zm48 0zm-65 1zm84 0zm-66 1zm2 0zm97 0zm14 0zm17 0zm-151 1zm19 0zm65 0zm38 0zm-98 1zm52 0zm20 0zm-73 1zm98 0zm-112 1zm22 0zm44 0zm-39 1zm60 0zm39 2zm-130 1zm2 0zm44 0zm61 0zm-103 1zm11 0zm4 0zm32 0zm61 0zm6 0zm11 0zm-84 1zm-30 1zm10 0zm108 0zm-129 1zm112 0zm-11 1zm-96 1zm-8 1zm65 0zm21 0zm2 0zm-85 2zm144 1zm12 0zm-45 1zm-93 1zm121 0zm-137 1zm34 0zm15 0zm14 1zm110 0zm-31 1zm-49 1zm-42 1zm11 0zm29 3zm18 3zm414 0zm-375 1zm382 0zm-441 2zm44 0zm-29 2zm6 1zm25 0zm3 1zm-135 1zm59 0zm-38 2zm67 3zm-113 1zm5 0zm54 0zm52 1zm433 0zm13 4zm-509 1zm50 0zm23 0zm420 0zm-4 1zm-524 1zm29 0zm24 1zm23 2zm445 0zm6 0zm-479 1zm509 1zm-553 1zm548 1zm-539 1zm548 2zm-546 1zm50 1zm457 0zm42 1zm-561 2zm156 3zm446 0zm-514 1zm454 0zm2 0zm-513 1zm101 0zm434 0zm22 0zm66 1zm-589 1zm-123 1zm150 1zm530 0zm-687 1zm202 0zm-132 1zm162 0zm347 1zm116 0zm-496 1zm378 2zm72 0zm18 0zm-592 1zm51 1zm445 0zm48 0zm2 0zm73 0zm-622 1zm624 0zm-583 1zm553 0zm14 0zm-659 1zm212 0zm382 0zm4 0zm-508 1zm2 0zm90 0zm372 0zm24 1zm-364 1zm469 0zm-48 1zm-606 1zm141 0zm448 0zm58 0zm-128 1zm72 0zm-67 1zm41 0zm41 0zm1 0zm-81 1zm-467 1zm101 0zm446 1zm50 0zm-567 1zm16 0zm460 0zm19 0zm-689 1zm272 2zm-12 1zm442 0zm-498 1zm20 0zm33 2zm397 0zm-581 1zm656 0zm4 1zm27 1zm-130 4zm-543 1zm93 0zm563 1zm-470 1zm449 1zm-599 1zm554 0zm-523 1zm592 0zm-656 1zm549 1zm60 0zm11 0zm23 0zm-758 1zm714 0zm51 2zm-71 4zm49 0zm23 0zm-628 2zm545 0zm30 1zm35 1zm-20 1zm-636 1zm633 0zm-569 1zm523 0zm71 1zm26 0zm-801 1zm798 1zm-532 1zm502 0zm-71 2zm-1 4zm109 0zm3 1zm-108 1zm-550 3zm36 3zm514 0zm109 1zm-117 1zm-407 2zm520 1zm-633 4zm-195 1zm181 2zm526 0zm5 1zm104 0zm22 0zm-129 1zm-420 2zm423 0zm-281 3zm5 4zm-140 1zm-19 1zm378 3zm-1 1zm53 0zm8 0zm-279 1zm216 0zm60 2zm-67 2zm67 0zm-59 1zm57 0zm-75 1zm9 0zm1 0zm11 1zm3 2zm-719 1zm726 0zm31 0zm6 0zm-763 1zm698 3zm15 0zm1 1zm10 0zm-29 1zm7 0zm17 0zm35 0zm-51 1zm1 0zm8 0zm7 1zm-732 1zm724 0zm-6 1zm8 0zm9 0zm-23 1zm14 0zm-729 1zm720 0zm7 0zm-184 1zm-551 1zm3 0zm724 1zm10 0zm-731 1zm-15 3zm575 1zm-582 1zm161 0zm629 0zm-92 2zm1 3zm-719 1zm29 1zm730 0zm-755 1zm751 0zm-738 2zm699 0zm-704 1zm-11 3zm1 0zm24 1zm580 0zm93 0zm89 0zm-61 1zm-736 1zm709 0zm2 0zm-674 1zm727 0zm-55 1zm-700 1zm711 1zm22 0zm111 0zm-220 1zm-627 1zm752 0zm-123 1zm145 1zm-806 2zm811 0zm133 0zm-914 1zm30 0zm-29 1zm2 0zm19 2zm686 0zm48 0zm-760 1zm7 0zm100 1zm638 0zm-737 1zm105 0zm670 0zm9 0zm-807 1zm10 1zm728 0zm1 0zm-695 1zm691 0zm-5 1zm-690 1zm686 0zm12 0zm-11 3zm10 0zm44 1zm-746 1zm692 0zm8 0zm36 0zm-728 1zm718 0zm-713 1zm-22 1zm773 0zm12 0zm-89 1zm18 0zm17 0zm16 2zm-740 1zm696 0zm217 0zm-936 1zm24 0zm717 0zm63 0zm-799 1zm21 0zm698 0zm32 1zm-741 1zm1 0zm708 0zm167 0zm-172 1zm25 0zm-729 1zm786 0zm-48 1zm-760 2zm736 0zm-732 1zm14 0zm-19 1zm13 0zm784 0zm-648 1zm574 0zm33 0zm-30 1zm59 0zm7 0zm-786 1zm764 0zm4 0zm-35 1zm-749 1zm25 1zm732 0zm-750 1zm779 0zm-773 1zm1 0zm721 1zm31 0zm31 1zm4 0zm-800 1zm752 0zm-46 2zm-701 2zm11 0zm732 0zm27 0zm-745 1zm774 1zm-47 1zm-47 1zm30 0zm24 0zm-766 1zm808 0zm-104 1zm45 0zm-119 1zm89 0zm82 0zm-109 1zm11 0zm-692 1zm17 0zm667 0zm61 0zm54 0zm-814 1zm825 0zm-71 2zm-71 1zm20 0zm53 0zm4 3zm25 0zm129 0zm-101 1zm-805 1zm740 0zm-618 1zm553 0zm10 0zm100 1zm-165 1zm-618 1zm682 0zm85 1zm-764 1zm617 0zm-609 1zm103 0zm559 0zm91 0zm19 1zm125 0zm-792 1zm-2 1zm626 0zm29 0zm-771 1zm22 1zm656 0zm90 0zm-776 1zm4 0zm663 1zm27 0zm62 0zm-738 1zm648 0zm-663 1zm680 1zm-569 2zm562 0zm-642 1zm633 1zm8 1zm-658 2zm646 1zm-635 1zm5 0zm-31 1zm69 0zm619 0zm-681 4zm899 0zm-816 1zm575 2zm-656 4zm6 0zm627 3zm50 1zm-674 1zm642 4zm-3 3zm3 2zm-10 1zm121 1zm-104 1zm107 0zm-20 1zm1 1zm-733 1zm691 0zm52 0zm-52 1zm54 1zm-134 1zm81 0zm38 1zm-733 1zm687 0zm-68 1zm81 0zm-74 1zm92 0zm-716 2zm674 2zm-22 1zm-41 2zm26 0zm19 0zm120 0zm-774 1zm604 0zm47 0zm128 0zm-176 1zm174 0zm-55 1zm5 0zm-127 1zm39 0zm93 0zm37 0zm-767 1zm600 0zm84 0zm39 0zm22 0zm-740 1zm718 0zm-47 1zm-33 1zm34 0zm83 0zm-60 1zm27 0zm19 0zm19 0zm-98 1zm36 0zm17 0zm15 0zm7 1zm-77 1zm65 0zm-87 1zm51 1zm-679 1zm687 1zm-14 1zm-666 1zm629 0zm27 0zm32 0zm39 1zm10 0zm-61 1zm-102 1zm7 0zm6 0zm111 0zm-59 1zm148 0zm-195 1zm156 0zm1 0zm45 0zm-166 1zm121 0zm-176 2zm78 1zm74 1zm29 0zm-105 1zm57 0zm32 0zm-89 1zm31 0zm42 0zm24 0zm-190 1zm9 0zm70 0zm72 1zm21 0zm-151 1zm6 0zm59 0zm65 0zm-133 1zm-12 2zm135 0zm-23 2zm17 0zm29 0zm-52 1zm-29 1zm80 0zm-148 1zm186 0zm-199 1zm164 0zm-174 1zm132 0zm-131 1zm84 0zm-61 1zm75 0zm104 0zm-192 1zm8 0zm118 0zm28 0zm-39 1zm-100 1zm133 0zm-137 1zm140 0zm25 0zm-39 1zm9 0zm-161 1zm11 1zm20 1zm-28 1zm-19 2zm41 0zm13 0zm-47 1zm1 0zm30 0zm74 0zm29 0zm79 0zm-167 2zm-43 2zm15 0zm13 0zm133 0zm55 0zm96 0zm-150 1zm-53 1zm30 0zm31 0zm22 0zm12 0zm-177 1zm20 0zm132 0zm8 0zm4 0zm-191 1zm183 0zm16 0zm-199 1zm39 0zm2 0zm-23 1zm-13 1zm153 0zm44 0zm-71 1zm80 0zm-205 1zm5 0zm11 0zm79 0zm13 0zm-134 1zm60 0zm167 0zm8 0zm-233 1zm225 0zm-91 1zm50 0zm-160 1zm145 0zm-166 1zm10 0zm43 0zm55 1zm46 0zm39 0zm-154 1zm3 0zm93 0zm30 0zm28 0zm-192 1zm12 0zm49 0zm171 0zm-188 1zm5 0zm123 0zm33 0zm-197 1zm12 0zm5 0zm23 0zm3 0zm65 0zm99 0zm-187 2zm30 0zm79 0zm27 1zm48 0zm-188 1zm180 0zm118 0zm-164 1zm-121 1zm-27 1zm24 0zm129 0zm27 0zm27 0zm-182 1zm10 0zm130 0zm28 0zm-198 1zm37 0zm1 0zm156 0zm-196 1zm11 1zm15 2zm17 2zm77 0zm55 0zm30 0zm-183 1zm110 0zm9 0zm229 0zm-354 1zm159 1zm45 0zm-216 1zm142 0zm5 0zm-5 1zm-144 1zm32 0zm152 0zm-142 1zm4 0zm104 0zm-131 1zm13 0zm83 0zm14 0zm83 0zm-172 2zm63 0zm10 0zm62 0zm24 0zm-169 1zm150 0zm92 0zm-244 1zm2 0zm14 0zm83 0zm28 0zm-115 1zm78 0zm-79 1zm364 0zm-304 1zm82 0zm-88 1zm50 0zm49 0zm-92 1zm114 0zm-90 1zm19 0zm20 1zm23 0zm-165 1zm77 0zm1 0zm67 0zm-74 2zm9 0zm21 0zm7 0zm-38 1zm32 0zm42 0zm-47 1zm80 0zm-63 1zm8 0zm1 0zm20 0zm-77 1zm1 0zm8 0zm6 0zm74 0zm4 0zm-74 1zm33 0zm48 0zm15 0zm-113 1zm1 0zm12 0zm108 0zm1 0zm-119 1zm106 0zm84 2zm-171 1zm51 0zm16 2zm-71 1zm17 0zm42 0zm-53 1zm-18 1zm15 0zm73 0zm21 0zm-97 1zm38 0zm35 0zm14 0zm-94 1zm20 0zm1 1zm36 0zm15 0zm-78 1zm6 0zm10 0zm84 0zm7 0zm-90 1zm15 0zm60 0zm17 0zm-92 1zm56 0zm39 0zm-100 1zm2 0zm7 0zm239 0zm-190 1zm2 0zm-54 1zm9 0zm6 0zm-12 1zm13 0zm19 0zm46 0zm-34 1zm21 0zm-64 1zm60 0zm-58 1zm65 0zm-64 1zm3 0zm1 0zm64 0zm1 0zm-60 1zm2 1zm-9 1zm1 0zm13 0zm16 0zm-24 1zm3 0zm5 0zm43 0zm-53 1zm19 0zm45 0zm-45 1zm7 0zm40 0zm6 0zm-61 1zm2 0zm4 0zm57 0zm4 0zm-74 1zm9 0zm7 0zm4 0zm8 0zm10 0zm22 0zm1 0zm2 0zm2 0zm-35 1zm37 0zm-77 1zm24 0zm13 0zm21 0zm15 0zm-24 1zm26 0zm-10 1zm-38 1zm2 0zm8 0zm41 0zm52 0zm-98 1zm3 0zm8 0zm17 0zm17 0zm7 0zm-49 1zm30 0zm4 0zm13 0zm-48 1zm12 0zm2 0zm21 0zm3 0zm23 0zm-53 1zm-10 1zm2 0zm6 0zm51 0zm55 0zm-109 1zm1 0zm3 0zm16 0zm5 0zm-4 1zm26 0zm-66 1zm11 0zm43 0zm19 0zm18 0zm-59 1zm24 0zm143 0zm-186 1zm45 2zm-20 2zm43 0zm-67 1zm67 0zm3 1zm-684 1zm678 1zm0 1zm8 2zm1 0zm-653 1zm640 1zm-670 1zm20 0zm669 3zm7 0zm-8 2zm-683 2zm680 0zm9 0zm-9 1zm-669 1zm5 0zm-6 1zm3 0zm4 0zm675 0zm-667 2zm666 0zm11 1zm-681 2zm11 0zm663 1zm5 0zm-705 4zm11 1zm-9 2zm20 0zm37 1zm721 0zm-790 1zm40 0zm667 0zm23 2zm-11 1zm13 1zm-691 1zm677 0zm65 0zm-759 2zm-9 1zm22 0zm53 2zm-66 1zm713 0zm-690 1zm682 1zm-700 1zm61 1zm643 0zm4 1zm-701 1zm709 0zm-694 1zm731 2zm-674 1zm630 0zm-661 1zm659 0zm1 0zm-705 1zm704 1zm3 2zm-688 1zm9 0zm682 0zm-677 1zm734 0zm-54 1zm42 0zm-730 4zm44 1zm-38 3zm30 1zm666 0zm5 1zm-3 4zm-679 5zm17 2zm670 2zm-4 2zm9 2zm4 0zm-694 1zm10 2zm682 1zm-7 4zm6 1zm-672 1zm674 0zm5 6zm0 1zm1 0zm9 0zm-5 1zm1 0zm1 0zm-1 3zm-1 4zm5 0zm6 0zm-9 1zm4 2zm9 6zm14 0zm-15 2zm1 0zm-28 1zm21 1zm24 0zm-34 1zm22 1zm-9 1zm22 0zm-19 1zm7 0zm-5 1zm4 0zm0 2zm-10 1zm12 0zm-16 1zm19 1zm-4 1zm-23 1zm22 0zm9 0zm-26 3zm35 0zm7 1zm0 1zm5 0zm-9 1zm-3 1zm-26 3zm5 2zm2 0zm7 0zm30 0zm-49 1zm11 0zm9 0zm-23 1zm20 0zm18 0zm-30 2zm29 1zm-8 1zm5 2zm30 0zm-23 1zm-14 2zm5 1zm1 1zm25 4zm-32 1zm36 1zm-20 1zm4 1zm-9 6z"/>
<path stroke="#7CAE00" d="M1227 73zm3 0zm10 0zm-4 1zm2 1zm4 1zm-13 1zm11 0zm-5 1zm18 1zm-19 2zm-5 1zm5 1zm13 0zm3 0zm-26 1zm29 1zm-1 1zm-25 1zm26 3zm7 1zm-9 5zm3 1zm-5 5zm-27 2zm40 0zm-37 1zm30 0zm2 0zm-7 3zm-25 2zm30 2zm-27 3zm22 0zm-567 3zm-63 3zm-5 1zm77 2zm537 0zm3 0zm-620 1zm85 0zm-85 1zm13 0zm10 0zm55 0zm557 0zm1 0zm-575 1zm-71 1zm28 0zm601 0zm-629 2zm6 0zm-20 1zm2 0zm13 0zm1 0zm32 0zm-45 1zm6 0zm658 0zm-674 1zm23 0zm57 0zm40 0zm2 0zm-121 1zm22 0zm70 0zm4 0zm586 0zm-670 1zm49 0zm610 0zm-679 1zm11 0zm74 0zm-88 1zm9 0zm63 0zm619 0zm-678 1zm4 0zm11 0zm7 0zm56 0zm-81 1zm64 0zm35 1zm63 0zm522 0zm-687 1zm18 0zm4 0zm58 0zm52 0zm-133 1zm28 0zm36 0zm17 0zm-82 1zm4 0zm27 0zm2 0zm39 0zm43 0zm573 0zm-694 1zm20 0zm20 0zm130 0zm-172 1zm14 0zm24 0zm26 0zm-53 1zm23 0zm9 0zm79 0zm10 0zm-92 1zm38 0zm-61 1zm11 0zm2 0zm8 0zm68 0zm592 0zm2 0zm-693 1zm8 0zm2 0zm4 0zm5 0zm15 0zm654 0zm-689 1zm47 0zm66 0zm-116 1zm2 0zm11 0zm15 0zm34 0zm66 0zm15 0zm550 0zm-684 1zm3 0zm4 0zm3 0zm9 0zm33 0zm22 0zm-68 1zm4 0zm18 0zm-18 1zm1 0zm14 0zm24 0zm22 0zm31 0zm2 0zm-107 1zm87 0zm-81 1zm-2 1zm6 0zm31 0zm652 0zm-697 1zm3 0zm8 0zm12 0zm1 0zm8 0zm7 0zm23 0zm643 0zm-707 1zm29 0zm10 0zm-4 1zm-41 1zm4 0zm13 0zm62 0zm35 0zm591 0zm-680 1zm1 0zm18 0zm53 0zm603 0zm-655 2zm9 0zm652 0zm-660 1zm2 0zm21 0zm-47 1zm17 0zm1 0zm1 0zm-34 1zm17 0zm5 0zm-18 1zm6 0zm10 0zm6 0zm74 0zm-104 1zm11 0zm45 0zm-52 1zm8 0zm27 0zm671 0zm-696 1zm47 0zm40 0zm18 0zm-105 1zm28 0zm2 0zm662 0zm-683 1zm6 0zm1 0zm3 0zm51 0zm628 0zm-712 1zm10 0zm9 0zm35 0zm32 0zm16 0zm19 0zm-111 1zm701 0zm-703 1zm10 0zm3 0zm51 0zm-63 1zm3 0zm3 0zm5 0zm8 0zm77 0zm-81 1zm14 0zm1 0zm-22 1zm15 0zm65 0zm142 0zm-220 1zm5 0zm3 0zm209 0zm-211 1zm40 0zm54 0zm-96 1zm34 2zm56 0zm13 0zm-97 1zm7 0zm12 1zm187 0zm-192 1zm3 0zm-48 1zm7 0zm30 0zm9 0zm-44 1zm2 0zm9 0zm12 0zm25 0zm80 0zm-85 1zm1 0zm46 0zm124 0zm-105 1zm-110 1zm9 0zm-9 1zm17 0zm68 0zm42 0zm-86 1zm8 0zm37 0zm30 0zm13 0zm-126 1zm88 0zm-88 1zm20 0zm8 0zm10 0zm73 0zm5 0zm-106 1zm1 0zm34 0zm75 0zm53 0zm70 1zm-172 1zm-77 1zm48 0zm68 0zm-107 1zm1 1zm23 0zm1 0zm13 0zm1 0zm39 0zm105 0zm-189 1zm9 0zm4 0zm37 0zm-40 1zm14 0zm15 0zm12 0zm4 0zm12 0zm71 0zm-140 1zm10 0zm107 0zm-112 1zm53 0zm70 0zm6 0zm-96 2zm4 0zm56 0zm-90 1zm16 0zm7 0zm62 0zm-81 1zm14 0zm20 0zm3 0zm28 0zm24 0zm25 0zm7 0zm-91 1zm-15 1zm43 0zm-54 1zm26 0zm-12 1zm4 0zm10 0zm-16 1zm31 0zm52 0zm12 0zm-94 1zm12 0zm2 0zm5 0zm5 0zm27 0zm-77 1zm21 0zm6 0zm6 0zm12 1zm17 0zm49 0zm61 0zm-176 1zm6 0zm16 0zm1 0zm26 0zm1 0zm2 0zm196 0zm-235 1zm30 0zm11 0zm58 0zm2 0zm-101 1zm2 0zm98 0zm15 0zm4 0zm-91 1zm4 0zm62 0zm-85 1zm1 0zm8 0zm1 0zm8 0zm13 0zm-30 1zm78 1zm-92 1zm24 0zm11 0zm-7 1zm22 0zm11 0zm36 0zm-95 1zm9 0zm22 0zm9 0zm46 0zm6 0zm-103 1zm23 0zm27 0zm40 0zm-62 1zm7 0zm5 0zm-17 1zm2 0zm174 0zm-199 1zm31 0zm1 0zm10 0zm-41 1zm4 0zm199 0zm-200 1zm14 0zm0 1zm2 0zm1 0zm19 0zm4 0zm25 0zm2 0zm-56 1zm11 0zm34 0zm13 0zm25 0zm-91 2zm34 0zm26 0zm-64 1zm1 0zm3 0zm14 0zm2 0zm53 0zm30 0zm20 0zm-124 1zm12 0zm1 0zm119 0zm4 0zm-122 1zm2 0zm12 0zm51 1zm-71 1zm32 0zm96 0zm-119 2zm28 0zm71 0zm25 0zm-123 1zm12 0zm5 0zm-8 1zm11 0zm32 0zm20 0zm-59 1zm16 0zm41 0zm-66 1zm56 0zm-53 1zm3 0zm66 0zm-30 1zm24 0zm35 0zm-27 1zm52 0zm-117 1zm103 0zm-1 1zm-87 1zm18 2zm62 0zm-100 1zm22 0zm50 0zm16 1zm27 2zm-104 1zm36 1zm-47 1zm117 1zm19 0zm-139 1zm98 0zm-96 1zm47 1zm15 1zm11 0zm4 1zm9 0zm19 1zm-92 1zm72 0zm5 0zm-92 1zm9 0zm103 2zm-38 1zm28 1zm-100 1zm1 0zm45 0zm77 1zm-123 1zm16 2zm25 0zm23 0zm45 0zm-111 1zm6 0zm44 0zm51 0zm-43 1zm-47 2zm5 0zm16 0zm56 0zm18 1zm-100 1zm24 0zm53 3zm79 0zm-154 2zm5 0zm48 1zm58 0zm-108 1zm9 0zm69 1zm-12 1zm-2 2zm-2 1zm31 0zm13 0zm-27 1zm-83 1zm71 0zm53 0zm-101 1zm24 0zm-59 1zm6 0zm84 0zm-76 2zm32 1zm36 0zm10 0zm-40 1zm59 0zm-92 1zm75 0zm-44 1zm84 0zm-116 1zm128 0zm-146 1zm80 0zm20 0zm2 0zm25 0zm-90 1zm35 0zm27 0zm4 0zm36 0zm3 0zm11 0zm-140 1zm139 0zm-144 1zm17 0zm49 2zm-56 1zm57 0zm100 0zm6 1zm-168 1zm52 0zm5 0zm38 0zm50 0zm16 0zm-151 1zm47 0zm17 0zm44 0zm52 0zm2 0zm-173 1zm9 0zm129 0zm-117 1zm109 0zm41 0zm-91 1zm26 1zm4 0zm8 0zm-122 1zm9 1zm65 0zm44 0zm-34 1zm23 0zm61 0zm10 0zm-138 1zm8 1zm-28 1zm20 0zm52 0zm63 1zm-98 1zm48 1zm-20 2zm-21 1zm-12 2zm83 0zm-73 1zm117 0zm-78 1zm8 0zm33 0zm31 1zm-141 1zm34 0zm12 0zm76 0zm-59 1zm432 0zm-371 1zm-152 1zm96 0zm13 3zm20 1zm3 0zm-62 1zm10 0zm70 1zm373 1zm-424 1zm36 0zm9 0zm-33 1zm63 0zm-76 1zm-42 1zm-59 1zm57 1zm465 1zm24 0zm-535 1zm98 0zm-30 3zm-91 1zm537 0zm15 1zm6 0zm-21 3zm-574 1zm63 0zm-19 1zm19 0zm505 0zm18 0zm-557 1zm166 1zm-152 1zm-59 1zm208 0zm-147 1zm10 0zm144 0zm414 1zm5 0zm-636 1zm109 0zm-112 1zm26 0zm24 0zm11 0zm93 0zm60 0zm-198 1zm138 0zm70 0zm428 0zm-575 1zm153 0zm385 0zm24 0zm-633 1zm222 1zm494 0zm-624 1zm25 0zm103 0zm14 0zm338 0zm-512 1zm6 0zm44 0zm464 0zm156 0zm-689 1zm112 0zm410 0zm153 0zm-513 1zm3 0zm477 0zm-650 1zm56 0zm4 0zm117 0zm20 0zm345 0zm76 0zm5 0zm-498 1zm415 0zm57 0zm18 0zm-574 1zm-57 1zm31 0zm15 0zm33 0zm101 0zm14 0zm6 0zm-179 1zm23 0zm28 0zm104 0zm19 0zm1 1zm370 1zm84 0zm-656 1zm68 0zm5 0zm36 0zm77 0zm25 0zm12 0zm334 0zm2 0zm102 0zm-670 1zm119 0zm451 0zm23 0zm59 0zm-643 1zm9 0zm165 0zm38 0zm476 0zm-732 1zm34 0zm29 0zm26 0zm135 0zm28 0zm432 0zm6 0zm-596 1zm67 0zm84 0zm-158 1zm518 0zm63 0zm56 0zm-688 1zm11 0zm51 0zm132 0zm6 0zm-144 1zm16 0zm18 0zm119 0zm3 0zm-199 1zm42 0zm134 0zm15 0zm18 0zm-196 1zm4 0zm599 0zm44 0zm-641 1zm185 0zm8 0zm429 0zm44 0zm-642 1zm12 0zm122 1zm14 0zm11 0zm435 1zm-589 1zm45 0zm498 0zm78 0zm-469 1zm3 0zm6 0zm382 0zm1 0zm24 0zm54 0zm4 0zm-495 1zm11 0zm406 0zm51 0zm36 0zm-669 1zm179 0zm413 0zm13 0zm-419 2zm359 0zm72 0zm56 0zm-659 1zm19 0zm1 0zm575 0zm-434 1zm393 0zm-582 1zm608 0zm-45 1zm63 0zm17 0zm31 0zm-663 1zm64 0zm-82 1zm12 0zm63 0zm484 0zm99 0zm-652 1zm25 0zm42 0zm555 0zm-15 1zm86 0zm-494 1zm-175 1zm41 0zm552 0zm74 0zm-614 1zm119 0zm1 0zm437 0zm50 0zm-691 1zm40 0zm-113 1zm120 0zm627 0zm-663 1zm32 0zm-6 1zm3 0zm49 0zm474 0zm7 0zm56 0zm24 0zm-602 1zm38 0zm56 0zm468 0zm-530 1zm579 0zm-645 1zm18 0zm61 0zm481 0zm25 0zm49 0zm2 0zm-599 1zm569 0zm-706 1zm175 0zm520 0zm51 0zm-624 1zm533 0zm6 0zm57 0zm63 0zm-674 1zm-13 1zm20 0zm5 1zm536 0zm-532 1zm18 0zm551 0zm-604 1zm602 0zm-603 1zm616 0zm54 1zm-625 1zm43 0zm495 0zm13 0zm26 0zm37 0zm-12 1zm-635 1zm26 0zm527 0zm10 0zm-522 1zm22 0zm562 0zm-52 1zm4 0zm37 1zm-566 1zm-63 1zm38 0zm46 0zm506 0zm93 0zm-611 1zm519 1zm2 0zm36 0zm-627 1zm-4 1zm27 0zm667 0zm-586 1zm1 0zm576 0zm5 0zm-658 1zm56 0zm490 0zm10 0zm95 0zm-85 1zm-524 1zm55 0zm25 0zm544 0zm-658 1zm547 1zm96 0zm-606 1zm69 0zm-141 1zm575 0zm6 0zm91 0zm9 0zm1 0zm12 0zm-550 1zm434 0zm7 0zm-6 1zm98 0zm-619 1zm-68 1zm35 0zm556 0zm-572 1zm662 0zm26 0zm-22 1zm-655 1zm43 0zm31 0zm61 0zm-122 1zm104 0zm437 0zm1 0zm-723 1zm290 0zm533 0zm23 0zm-654 1zm18 1zm71 0zm437 0zm-499 1zm92 0zm522 0zm-691 2zm51 0zm651 0zm-573 1zm450 0zm-499 1zm-58 1zm125 0zm-309 1zm219 0zm515 0zm6 0zm102 1zm-653 1zm555 0zm102 0zm-107 1zm111 0zm-856 1zm747 0zm1 0zm-460 1zm454 0zm13 0zm-533 1zm88 0zm24 1zm523 0zm-668 1zm111 1zm-85 1zm8 0zm518 0zm-424 1zm428 0zm117 0zm-384 2zm214 0zm49 0zm116 0zm-174 1zm9 0zm-4 1zm48 0zm-443 1zm-310 2zm759 0zm-51 1zm-21 2zm10 1zm11 0zm42 0zm-57 2zm17 0zm7 1zm40 1zm5 0zm-56 1zm-728 3zm7 0zm704 0zm20 0zm7 0zm-27 1zm26 0zm3 0zm-738 2zm720 0zm-5 1zm5 0zm-731 3zm773 0zm-780 1zm16 1zm6 0zm720 0zm-10 2zm5 0zm8 0zm-745 1zm734 0zm8 2zm-748 1zm5 0zm788 0zm-789 1zm1 0zm161 0zm0 1zm534 2zm-708 1zm731 0zm-24 1zm29 0zm-33 1zm-1 2zm16 0zm21 0zm-734 1zm711 1zm44 0zm-753 1zm682 0zm7 0zm41 0zm-33 1zm34 0zm-718 1zm751 0zm-775 1zm698 0zm27 0zm35 0zm14 0zm-768 1zm722 0zm2 0zm-9 1zm-38 1zm9 0zm27 0zm15 0zm25 0zm81 0zm-873 2zm32 0zm143 0zm569 0zm49 0zm-772 1zm733 0zm7 0zm15 0zm29 0zm-776 1zm8 0zm719 0zm23 0zm11 0zm11 0zm3 0zm7 0zm-793 1zm25 0zm686 0zm22 0zm54 0zm20 0zm-40 1zm50 0zm-30 1zm8 0zm-55 1zm26 0zm27 0zm-83 1zm-708 1zm-4 1zm89 0zm23 0zm617 0zm59 0zm-89 1zm15 0zm243 0zm-143 1zm-89 1zm28 0zm27 0zm-83 1zm6 0zm33 0zm17 0zm7 0zm-775 1zm14 0zm16 1zm734 0zm45 0zm-810 1zm38 0zm770 0zm-77 1zm39 0zm-55 1zm16 0zm35 0zm92 0zm-851 1zm908 0zm-189 1zm12 0zm45 0zm5 0zm3 0zm-789 1zm762 0zm10 0zm-745 1zm4 0zm698 0zm6 0zm19 1zm2 0zm50 0zm-800 1zm662 0zm127 0zm-641 1zm7 0zm575 1zm29 0zm-752 1zm735 0zm37 0zm-773 1zm701 0zm29 1zm5 0zm7 0zm8 0zm2 0zm20 0zm-9 1zm-33 1zm29 0zm20 0zm-789 1zm11 0zm754 0zm20 0zm15 0zm50 0zm-856 1zm147 0zm580 0zm80 0zm42 0zm-844 1zm740 0zm9 0zm22 0zm11 0zm-54 1zm5 0zm75 0zm114 0zm5 0zm-904 2zm51 0zm638 0zm27 0zm74 0zm-790 1zm693 0zm83 0zm-73 1zm205 0zm-201 1zm155 0zm1 0zm-738 1zm624 1zm-6 1zm15 0zm189 0zm-952 1zm745 0zm34 0zm-813 1zm754 0zm-730 1zm707 0zm49 0zm-768 1zm11 0zm740 0zm28 0zm6 0zm-736 1zm674 0zm12 0zm-743 1zm699 0zm45 0zm7 0zm46 0zm-95 1zm31 1zm-622 1zm40 0zm572 1zm102 0zm1 0zm65 0zm-888 1zm615 0zm114 0zm102 0zm12 0zm-834 1zm686 0zm7 0zm76 0zm1 0zm16 0zm-651 1zm590 0zm68 0zm-64 1zm6 0zm11 0zm38 0zm-60 1zm25 0zm14 0zm8 0zm30 0zm-808 1zm613 0zm116 0zm77 0zm1 0zm-117 1zm34 0zm82 0zm-667 1zm569 0zm75 0zm1 0zm24 0zm-136 1zm15 0zm6 0zm77 0zm21 0zm202 0zm-290 1zm99 0zm-179 1zm57 0zm47 0zm75 0zm217 0zm-273 1zm3 0zm24 0zm-151 1zm67 0zm-2 1zm1 0zm46 0zm23 0zm171 0zm-927 1zm625 0zm147 0zm1 0zm20 0zm8 0zm2 0zm-110 1zm60 0zm102 0zm-859 1zm633 0zm51 0zm7 0zm60 0zm29 0zm14 0zm7 0zm-172 1zm-631 1zm736 0zm27 0zm55 0zm-687 1zm484 0zm62 0zm58 0zm34 0zm3 0zm-150 1zm10 0zm112 0zm-748 1zm626 0zm55 0zm68 0zm10 0zm39 0zm-700 1zm714 0zm-808 1zm743 0zm8 0zm9 0zm9 0zm-13 1zm-122 1zm172 0zm-779 1zm651 0zm188 0zm-872 1zm695 0zm101 0zm12 0zm-804 1zm23 0zm110 0zm496 0zm1 0zm60 0zm99 0zm14 0zm-809 1zm637 0zm65 0zm57 0zm-132 1zm8 0zm41 0zm-671 1zm624 0zm36 0zm125 0zm-116 1zm105 0zm75 0zm-778 1zm560 1zm43 0zm-6 1zm85 0zm-119 2zm38 1zm-674 2zm109 0zm560 0zm28 0zm-682 1zm658 0zm-667 2zm74 0zm33 0zm3 0zm-97 1zm19 0zm-18 1zm31 0zm16 0zm609 0zm-673 1zm47 0zm-36 1zm638 0zm-612 1zm40 0zm590 0zm-646 1zm641 0zm-667 1zm81 0zm13 1zm577 0zm6 0zm-665 2zm877 0zm-210 1zm-24 1zm-649 1zm88 2zm-80 2zm636 2zm-631 1zm655 7zm-15 2zm55 1zm53 0zm-121 2zm278 0zm-905 1zm724 1zm11 0zm4 0zm12 1zm-746 2zm630 0zm52 1zm-59 1zm3 0zm12 0zm46 0zm70 0zm-125 1zm128 0zm-141 1zm149 0zm-762 1zm645 0zm6 0zm42 0zm1 0zm59 0zm-132 1zm110 0zm-727 1zm656 0zm24 0zm62 0zm1 0zm21 0zm-105 1zm30 0zm49 0zm27 0zm-116 1zm34 0zm-85 1zm151 0zm-149 1zm42 0zm92 0zm-729 1zm664 0zm98 0zm7 0zm-151 1zm41 0zm4 0zm27 0zm39 0zm19 0zm8 0zm-755 1zm636 0zm88 0zm43 0zm3 0zm-185 1zm62 0zm10 0zm40 0zm28 0zm14 0zm-91 1zm26 0zm2 0zm67 0zm-157 1zm119 0zm34 0zm10 0zm22 0zm-774 1zm608 0zm41 0zm59 0zm57 0zm-170 1zm62 0zm29 0zm-677 1zm607 0zm61 1zm73 0zm-168 1zm24 0zm133 0zm18 0zm5 0zm1 0zm-47 1zm14 0zm17 0zm14 0zm-159 1zm121 1zm42 0zm-759 1zm586 0zm19 0zm29 0zm64 0zm32 0zm2 0zm18 0zm-10 1zm17 0zm-17 1zm8 0zm-72 1zm15 0zm17 0zm9 0zm38 0zm-86 1zm14 0zm38 0zm7 0zm17 0zm8 0zm3 0zm-174 1zm50 0zm63 0zm33 1zm-142 1zm160 0zm8 1zm-45 1zm33 0zm20 0zm-47 1zm17 1zm-151 1zm137 0zm17 0zm3 0zm3 0zm27 0zm-39 1zm2 0zm4 0zm23 0zm-168 1zm63 0zm6 0zm31 0zm13 0zm38 0zm17 0zm-113 1zm27 0zm90 0zm-86 1zm19 0zm2 0zm45 0zm5 0zm12 0zm-201 1zm179 0zm3 0zm2 0zm7 0zm1 0zm8 0zm-94 1zm54 0zm19 0zm20 0zm-182 1zm87 0zm56 0zm22 0zm-71 1zm69 0zm16 0zm-175 1zm13 0zm82 0zm27 0zm47 0zm17 0zm-30 1zm17 0zm-87 1zm64 0zm11 0zm4 0zm-180 1zm97 0zm2 0zm76 0zm6 0zm14 0zm-16 1zm2 0zm-180 1zm93 0zm88 0zm3 0zm6 0zm-89 1zm41 0zm10 0zm117 0zm-249 1zm65 0zm4 0zm14 0zm74 0zm3 0zm-184 1zm10 0zm7 0zm73 0zm55 0zm-49 1zm10 0zm74 0zm-158 1zm63 0zm108 0zm-116 1zm30 0zm16 0zm71 0zm13 0zm-55 1zm38 0zm68 0zm-124 1zm-50 1zm72 0zm-12 1zm18 0zm28 0zm-176 1zm8 0zm61 0zm49 1zm41 0zm3 0zm-75 1zm11 0zm25 0zm35 0zm19 0zm15 0zm-13 1zm-183 1zm174 0zm-167 1zm85 0zm75 0zm-198 1zm19 0zm157 0zm32 0zm12 0zm-171 1zm138 0zm16 0zm56 0zm-212 1zm7 0zm122 0zm22 0zm-88 1zm4 0zm56 0zm22 0zm-183 1zm39 0zm-13 1zm99 0zm13 0zm41 0zm20 0zm1 0zm11 0zm5 0zm-107 1zm8 0zm37 0zm16 0zm3 0zm8 0zm5 0zm5 0zm7 1zm-183 1zm14 0zm1 0zm89 0zm66 0zm-197 1zm54 0zm69 0zm78 0zm16 0zm11 0zm-209 1zm12 0zm98 0zm10 0zm79 0zm-112 1zm73 0zm2 0zm-190 1zm39 0zm118 0zm37 1zm24 0zm5 0zm2 0zm-226 1zm198 0zm30 0zm3 0zm8 0zm-210 1zm202 0zm-217 1zm33 0zm85 0zm43 0zm9 0zm45 0zm-217 1zm34 0zm110 0zm52 0zm2 0zm24 0zm68 0zm38 0zm-300 1zm20 0zm89 0zm14 0zm-137 1zm17 1zm126 0zm59 0zm-175 1zm55 0zm85 0zm-160 1zm115 0zm-3 1zm51 1zm-192 1zm26 0zm151 0zm-165 1zm112 0zm-91 1zm13 0zm70 0zm7 0zm11 0zm168 0zm69 0zm-365 1zm40 0zm111 0zm-147 1zm47 0zm71 0zm12 0zm76 0zm14 0zm-228 1zm21 0zm127 0zm54 0zm-147 1zm160 1zm-2 1zm-80 1zm53 0zm7 0zm25 0zm-178 2zm103 0zm43 0zm27 0zm-110 1zm1 0zm-73 1zm6 0zm78 0zm66 0zm-168 1zm16 0zm131 0zm-29 1zm5 0zm48 0zm-53 2zm65 0zm14 0zm-19 1zm-145 1zm134 0zm20 0zm-190 1zm89 0zm81 0zm-155 1zm99 0zm15 0zm-89 1zm-26 1zm130 0zm-37 1zm24 0zm19 0zm238 0zm-354 1zm82 0zm16 0zm75 0zm-184 1zm160 0zm-81 1zm-99 1zm89 0zm13 1zm47 0zm54 0zm179 0zm-369 1zm66 0zm6 1zm28 0zm10 0zm117 1zm70 0zm-222 1zm212 0zm-225 1zm6 0zm4 0zm19 0zm147 0zm-156 1zm53 0zm16 0zm40 1zm171 0zm-207 1zm5 0zm2 0zm-60 1zm15 0zm7 0zm1 0zm18 0zm3 0zm-27 1zm20 0zm-62 1zm60 0zm1 0zm31 0zm9 0zm-84 3zm83 0zm14 0zm80 0zm-203 1zm22 0zm51 0zm15 0zm-86 1zm13 0zm62 0zm25 0zm12 0zm-103 1zm18 0zm92 0zm180 0zm-279 1zm46 0zm-42 1zm68 0zm-72 1zm74 0zm-84 1zm19 0zm52 1zm-37 1zm60 0zm10 0zm12 0zm-118 1zm10 0zm16 0zm0 2zm75 0zm-11 1zm-34 1zm32 2zm-69 1zm68 0zm-66 1zm5 0zm16 0zm47 0zm5 0zm-78 2zm45 0zm-35 1zm48 0zm-20 1zm39 0zm161 0zm-167 1zm-67 1zm19 0zm38 0zm2 1zm-43 1zm22 0zm-35 1zm13 0zm20 0zm13 0zm25 0zm-43 1zm13 1zm122 0zm-131 1zm42 0zm2 0zm3 0zm-78 1zm19 0zm54 0zm2 0zm-70 1zm63 0zm-54 1zm10 0zm3 0zm9 0zm19 0zm11 0zm89 0zm-87 1zm4 0zm-9 1zm14 0zm-4 1zm12 2zm-12 1zm20 0zm-61 1zm120 0zm-85 1zm13 1zm6 1zm-65 4zm71 1zm3 1zm5 2zm-693 1zm12 0zm675 0zm4 0zm1 0zm-662 1zm656 0zm7 4zm-661 1zm669 0zm-645 3zm636 1zm8 0zm1 0zm-650 1zm9 0zm640 0zm-655 1zm9 0zm-40 1zm21 0zm3 0zm652 0zm7 0zm-642 1zm8 4zm-23 2zm670 0zm-671 1zm17 0zm656 0zm2 0zm-695 2zm37 0zm1 1zm651 0zm-698 1zm6 0zm32 0zm4 0zm14 0zm1 0zm639 0zm9 0zm-694 2zm688 1zm-640 1zm665 0zm-697 2zm27 0zm18 0zm640 0zm-5 1zm-659 1zm663 1zm-631 1zm634 0zm-669 1zm1 0zm32 0zm-17 1zm22 0zm3 0zm628 0zm-666 1zm-24 1zm44 1zm14 0zm634 0zm49 0zm-687 1zm4 0zm-14 1zm650 0zm-680 1zm675 0zm-2 1zm-649 1zm-5 1zm-31 1zm67 0zm-33 1zm10 0zm654 0zm-679 1zm6 0zm675 1zm8 0zm-659 1zm-55 1zm34 0zm43 1zm5 0zm619 0zm-656 1zm19 0zm640 2zm-615 1zm624 0zm-673 1zm-19 1zm14 0zm17 1zm4 0zm29 0zm-63 1zm38 0zm-3 2zm668 0zm-9 1zm-650 1zm7 0zm-4 1zm648 0zm-674 3zm23 0zm650 0zm-655 1zm13 0zm6 0zm640 0zm4 1zm-681 1zm40 0zm-17 1zm-25 1zm9 0zm26 0zm662 1zm50 0zm-730 1zm18 0zm662 0zm-683 1zm15 0zm9 0zm-23 1zm683 0zm-672 1zm-21 1zm5 0zm17 0zm-17 2zm29 1zm-14 2zm11 1zm664 1zm0 1zm-668 3zm-8 2zm12 0zm757 1zm-764 1zm673 0zm6 2zm-679 2zm765 2zm-76 6zm2 1zm-8 5zm21 0zm-17 1zm4 1zm1 0zm7 0zm-2 2zm-9 1zm7 0zm0 1zm3 1zm-8 1zm16 0zm-14 1zm7 2zm12 0zm-16 2zm12 0zm4 0zm-6 1zm-7 2zm11 0zm-13 2zm5 0zm2 0zm-9 1zm15 5zm-11 1zm21 0zm-13 2zm-20 1zm44 1zm-9 1zm1 1zm-25 1zm16 0zm-21 1zm30 3zm-7 1zm25 0zm-6 1zm-26 1zm13 0zm21 0zm-52 1zm16 1zm-7 1zm0 1zm37 0zm-12 1zm10 0zm-33 1zm30 1zm-22 1zm21 0zm27 0zm-16 3zm-4 2zm6 0zm-19 1zm6 3zm7 2zm-6 3z"/>
<path stroke="#00BFC4" d="M1243 70zm-6 2zm1 0zm16 2zm-15 3zm-59 1zm6 0zm57 0zm-63 1zm52 0zm-53 1zm25 0zm21 0zm5 1zm-31 1zm3 0zm45 0zm-57 1zm59 0zm-73 1zm76 2zm-76 1zm10 0zm3 0zm15 2zm2 0zm38 1zm-45 1zm3 0zm-14 1zm14 2zm-7 2zm3 0zm12 0zm-7 1zm8 1zm37 1zm7 0zm6 0zm-58 1zm12 0zm20 0zm21 0zm-35 1zm22 0zm11 0zm-32 1zm19 0zm-30 1zm8 0zm-7 1zm50 0zm-40 1zm-13 1zm4 0zm10 0zm-17 1zm10 0zm7 0zm15 0zm-18 1zm2 0zm2 0zm4 1zm31 1zm-40 3zm16 1zm22 1zm-32 1zm-504 1zm15 0zm1 0zm477 0zm28 0zm-16 1zm-585 1zm68 2zm1 0zm15 0zm8 0zm10 1zm-46 1zm27 0zm5 0zm-28 1zm9 0zm29 0zm2 0zm2 0zm21 0zm-147 1zm63 0zm41 0zm49 0zm-61 1zm9 0zm2 0zm530 0zm-557 1zm550 0zm-564 1zm36 0zm3 0zm6 0zm-88 1zm14 0zm15 0zm51 0zm31 0zm16 0zm-85 1zm26 0zm58 0zm487 0zm-524 1zm45 0zm-137 1zm38 0zm28 0zm2 0zm45 0zm17 0zm-58 1zm12 0zm36 0zm11 0zm-139 1zm109 0zm5 0zm13 0zm503 0zm-644 1zm85 0zm49 0zm7 0zm-144 1zm19 0zm99 0zm18 0zm10 0zm3 0zm5 0zm1 0zm5 0zm5 0zm10 0zm471 0zm-674 1zm50 0zm42 0zm33 0zm53 0zm2 0zm18 0zm-132 1zm30 0zm16 0zm27 0zm26 0zm36 0zm-123 1zm30 0zm30 0zm28 0zm5 0zm506 0zm-656 1zm147 0zm14 0zm498 0zm2 0zm-652 1zm62 0zm63 0zm2 0zm2 0zm8 0zm8 0zm12 0zm1 0zm-131 1zm74 0zm4 0zm12 0zm41 0zm2 0zm14 0zm-132 1zm34 0zm25 0zm1 0zm10 0zm2 0zm11 0zm13 0zm39 0zm-130 1zm10 0zm29 0zm4 0zm11 0zm39 0zm36 0zm475 0zm-617 1zm96 0zm-175 1zm153 0zm19 0zm1 0zm17 0zm32 0zm7 0zm-184 1zm90 0zm11 0zm86 0zm4 0zm-81 1zm1 0zm11 0zm1 0zm19 0zm499 0zm5 0zm5 0zm12 0zm-648 1zm15 0zm19 0zm120 0zm-134 1zm13 0zm80 0zm18 0zm26 0zm18 0zm461 0zm-634 1zm16 0zm24 0zm31 0zm22 0zm27 0zm19 0zm3 0zm34 0zm-161 1zm89 0zm-98 1zm32 0zm32 0zm15 0zm30 0zm16 0zm7 0zm19 0zm-57 1zm29 0zm7 0zm3 0zm11 0zm1 0zm13 0zm-171 1zm146 0zm-103 1zm3 0zm6 0zm41 0zm18 0zm13 0zm10 0zm19 0zm33 0zm467 0zm-540 1zm62 0zm12 0zm-49 1zm10 0zm24 0zm-176 1zm13 0zm34 0zm37 0zm23 0zm31 0zm-137 1zm17 0zm16 0zm58 0zm20 0zm33 0zm43 0zm466 0zm-565 1zm2 0zm8 0zm44 0zm28 0zm25 0zm-196 1zm2 0zm149 0zm35 0zm6 0zm2 0zm-189 1zm18 0zm57 0zm43 0zm15 0zm1 0zm48 0zm4 0zm465 0zm-659 1zm19 0zm1 0zm18 0zm69 0zm9 0zm29 0zm10 0zm14 0zm17 0zm-185 1zm25 0zm7 0zm4 0zm25 0zm1 0zm38 0zm28 0zm59 0zm19 0zm460 0zm-556 1zm4 0zm20 0zm26 0zm16 0zm5 0zm17 0zm463 0zm-625 1zm119 0zm7 0zm24 0zm17 0zm464 0zm-672 1zm104 0zm11 0zm13 0zm24 0zm21 0zm21 0zm7 0zm13 0zm-240 1zm215 0zm6 0zm1 0zm9 0zm467 0zm-677 1zm22 0zm69 0zm61 0zm6 0zm4 0zm-136 1zm46 0zm52 0zm20 0zm2 0zm-124 1zm10 0zm44 0zm7 0zm81 0zm-71 1zm36 0zm26 0zm51 0zm13 0zm459 0zm-581 1zm1 0zm2 0zm42 0zm51 0zm6 0zm477 0zm-665 1zm122 0zm28 0zm27 0zm-124 1zm50 0zm52 0zm-131 1zm62 0zm22 0zm14 0zm15 0zm9 0zm43 0zm12 0zm3 0zm12 0zm10 0zm-145 1zm39 0zm15 0zm36 0zm42 0zm-129 1zm4 0zm23 0zm57 0zm41 0zm450 0zm-639 1zm66 0zm122 0zm-164 1zm51 0zm27 0zm63 0zm32 0zm-171 1zm42 0zm40 0zm8 0zm62 0zm3 0zm1 0zm10 0zm-127 1zm39 0zm64 0zm32 0zm-171 1zm18 0zm15 0zm30 0zm44 0zm3 0zm31 0zm2 0zm24 0zm-127 1zm49 0zm47 0zm33 0zm-167 1zm77 0zm22 0zm45 0zm11 0zm12 0zm-139 1zm7 0zm10 0zm79 0zm1 0zm11 0zm24 0zm-124 1zm1 0zm50 0zm27 0zm-97 1zm13 0zm30 0zm6 0zm5 0zm52 0zm22 0zm-132 1zm33 0zm73 0zm-28 1zm40 0zm-186 1zm48 0zm49 0zm29 0zm25 0zm44 0zm-117 1zm43 0zm16 0zm22 0zm-158 1zm114 0zm9 0zm-157 1zm116 0zm3 0zm2 0zm7 0zm84 0zm26 0zm-99 1zm16 0zm9 0zm4 0zm18 0zm-158 1zm68 0zm21 0zm7 0zm21 0zm49 0zm42 0zm-145 1zm23 0zm67 0zm38 0zm5 0zm-81 1zm13 0zm22 0zm49 0zm-190 1zm113 0zm38 0zm59 0zm-123 1zm25 0zm15 0zm10 0zm17 0zm18 0zm-155 1zm50 0zm132 0zm-115 1zm4 0zm7 0zm5 0zm2 0zm28 0zm5 0zm29 0zm16 0zm9 0zm23 0zm-105 1zm25 0zm4 0zm50 0zm-135 1zm51 0zm7 0zm-16 1zm35 0zm18 0zm25 0zm14 0zm-103 1zm22 0zm1 0zm10 0zm12 0zm24 0zm4 0zm-161 1zm52 0zm55 0zm36 0zm23 0zm37 0zm-228 1zm30 0zm27 0zm31 0zm34 0zm41 0zm40 0zm-53 1zm33 0zm-163 1zm36 0zm79 0zm29 0zm-167 1zm97 0zm44 0zm39 0zm5 0zm15 0zm31 0zm-168 1zm81 0zm42 0zm-127 1zm73 0zm10 0zm3 0zm4 0zm16 0zm15 0zm-182 1zm65 0zm45 0zm4 0zm47 0zm4 0zm6 0zm24 0zm33 0zm15 0zm-126 1zm7 0zm23 0zm2 0zm27 0zm57 0zm-171 1zm21 0zm31 0zm21 0zm19 0zm54 0zm-148 1zm60 0zm15 0zm2 0zm27 0zm22 0zm-143 1zm87 0zm30 0zm26 0zm23 0zm27 0zm-128 1zm1 0zm18 0zm15 0zm9 0zm54 0zm-131 1zm32 0zm33 0zm1 0zm21 0zm1 0zm60 0zm-101 1zm67 0zm-89 1zm25 0zm68 0zm44 0zm-202 1zm90 0zm30 0zm-88 1zm36 0zm45 0zm1 0zm22 0zm5 0zm44 0zm-195 1zm27 0zm68 0zm7 0zm14 0zm22 0zm10 0zm3 0zm1 0zm46 0zm13 0zm-97 1zm7 0zm45 0zm39 0zm-85 1zm41 0zm2 0zm-169 1zm88 0zm25 0zm10 0zm31 0zm38 0zm-142 1zm113 0zm4 0zm-93 1zm1 0zm34 0zm9 0zm54 1zm8 0zm1 0zm29 0zm-196 1zm30 0zm53 0zm14 0zm2 0zm55 0zm22 0zm-108 1zm67 0zm11 0zm2 0zm17 0zm15 0zm-224 1zm62 0zm74 0zm10 0zm-2 1zm40 0zm5 0zm23 0zm27 0zm-124 1zm39 0zm10 0zm9 0zm23 0zm48 0zm-92 1zm10 0zm28 0zm16 0zm-85 1zm39 0zm5 0zm12 0zm7 0zm46 0zm10 0zm-116 1zm119 0zm3 0zm-148 1zm107 0zm1 0zm25 0zm19 0zm-182 1zm66 0zm9 0zm12 0zm34 0zm18 0zm9 0zm-62 1zm9 0zm17 0zm16 0zm43 0zm5 0zm-102 1zm25 0zm28 0zm38 0zm-118 1zm71 0zm8 0zm-141 1zm65 0zm27 0zm61 0zm5 0zm21 0zm-172 1zm33 0zm41 0zm26 1zm-101 1zm189 0zm-107 1zm23 0zm5 0zm82 0zm-75 1zm-75 1zm33 0zm9 0zm8 0zm17 0zm12 0zm56 0zm-139 1zm59 0zm12 0zm3 0zm4 0zm71 0zm-192 1zm159 0zm28 0zm3 0zm-172 1zm71 0zm4 0zm22 0zm43 0zm25 0zm-136 1zm15 0zm61 0zm32 0zm6 0zm4 0zm4 0zm-166 1zm40 0zm46 0zm29 0zm2 0zm11 0zm51 0zm-136 1zm12 0zm25 0zm11 0zm20 0zm11 0zm24 0zm17 0zm21 0zm-219 1zm149 0zm2 0zm6 0zm3 0zm5 0zm26 0zm11 0zm-67 1zm30 0zm22 0zm-116 1zm36 0zm10 0zm7 0zm30 0zm9 0zm4 0zm7 0zm29 0zm-89 1zm16 0zm11 0zm13 0zm8 0zm4 0zm20 0zm6 0zm-68 1zm64 0zm3 0zm-92 1zm40 0zm76 0zm-187 1zm91 0zm6 0zm17 0zm10 0zm66 0zm-148 1zm116 0zm23 0zm-209 1zm103 0zm45 0zm13 0zm2 0zm54 0zm-162 1zm74 0zm19 0zm3 0zm-111 1zm126 0zm10 0zm-155 1zm107 0zm49 0zm19 0zm17 0zm-74 1zm1 0zm39 0zm4 0zm24 1zm5 0zm2 0zm-146 1zm129 0zm7 0zm7 0zm-177 1zm33 0zm65 0zm41 0zm-161 1zm95 0zm44 0zm1 0zm28 0zm-116 1zm49 0zm81 0zm-51 1zm29 0zm34 0zm-168 1zm124 0zm26 0zm10 0zm5 0zm5 0zm4 0zm-104 1zm24 0zm31 0zm6 0zm34 0zm6 0zm9 0zm-163 1zm95 0zm-54 1zm48 0zm34 0zm15 0zm9 0zm-76 1zm21 0zm3 0zm54 0zm-202 1zm69 0zm58 0zm5 0zm55 0zm-64 1zm23 0zm6 0zm10 0zm29 0zm2 0zm11 0zm-202 1zm122 0zm6 0zm54 0zm3 0zm-2 1zm11 0zm-98 1zm31 0zm34 0zm11 0zm-107 1zm30 0zm8 0zm57 0zm-131 1zm108 0zm41 0zm-164 1zm103 0zm40 0zm-99 1zm124 0zm11 0zm17 0zm-213 1zm67 0zm110 0zm-34 1zm10 0zm11 0zm38 0zm-41 1zm18 0zm14 0zm-52 1zm2 0zm20 0zm18 0zm16 0zm-171 1zm121 0zm5 0zm26 0zm1 0zm17 0zm-178 1zm95 0zm64 0zm16 0zm-64 1zm6 0zm9 0zm3 0zm7 0zm14 0zm1 1zm32 0zm-179 1zm28 0zm101 0zm44 0zm-66 1zm2 0zm13 0zm45 0zm-165 1zm144 0zm7 0zm-45 1zm4 0zm8 0zm2 0zm15 0zm-40 1zm59 0zm-34 3zm-18 1zm30 0zm-82 1zm18 0zm13 0zm33 0zm18 0zm18 0zm3 1zm-20 1zm5 0zm-144 1zm62 0zm69 0zm-24 1zm18 0zm19 1zm-144 1zm8 0zm-27 1zm90 0zm20 0zm63 0zm-159 1zm146 0zm-42 2zm-25 1zm32 0zm19 0zm-125 1zm-14 1zm54 1zm105 0zm-66 1zm8 0zm-104 1zm2 0zm159 1zm-154 1zm6 0zm69 0zm21 1zm50 0zm-95 1zm83 0zm34 0zm-60 1zm-80 1zm121 0zm24 0zm-85 3zm38 0zm43 0zm-85 1zm41 0zm45 1zm3 3zm-90 2zm-7 1zm96 0zm351 0zm-390 1zm3 0zm6 0zm-1 1zm-60 2zm91 0zm-76 1zm47 0zm-15 1zm46 1zm-145 2zm496 0zm-431 3zm81 0zm346 1zm-346 1zm-99 2zm458 1zm-479 1zm114 0zm-189 1zm194 1zm4 2zm351 1zm-18 1zm30 0zm-598 1zm83 0zm520 0zm1 0zm9 1zm-385 1zm377 0zm12 2zm-596 1zm207 0zm-216 1zm74 0zm535 0zm-617 1zm596 0zm16 0zm-578 1zm12 0zm174 0zm-166 1zm136 0zm-174 1zm206 0zm-257 1zm74 1zm539 0zm-615 1zm74 0zm581 0zm-657 1zm29 0zm10 0zm48 0zm513 0zm72 0zm-672 1zm71 0zm574 0zm-638 1zm14 0zm29 0zm1 0zm50 0zm121 0zm19 0zm22 0zm326 0zm1 0zm3 0zm152 0zm-741 1zm82 0zm-87 1zm645 0zm11 0zm-653 1zm1 0zm219 0zm371 1zm6 0zm127 0zm-708 1zm45 0zm9 0zm33 0zm141 0zm341 0zm107 0zm9 0zm-708 1zm601 0zm68 0zm44 0zm-714 1zm30 0zm1 0zm70 0zm18 0zm509 0zm-630 1zm2 0zm100 0zm131 0zm38 0zm335 0zm48 0zm6 0zm9 0zm-670 1zm97 0zm139 0zm44 0zm317 0zm29 0zm4 0zm53 0zm16 0zm22 0zm12 0zm-685 1zm116 0zm92 0zm340 0zm84 0zm1 0zm-640 1zm17 0zm620 0zm35 0zm-662 1zm49 0zm125 0zm30 0zm339 0zm97 0zm35 0zm-688 1zm63 0zm140 0zm440 0zm22 0zm-596 1zm131 0zm395 0zm23 0zm18 0zm7 0zm9 0zm1 0zm-639 1zm69 0zm7 0zm530 0zm37 0zm-703 1zm5 0zm33 0zm571 0zm2 0zm79 0zm12 0zm5 0zm17 0zm-666 1zm33 0zm109 0zm5 0zm479 0zm4 0zm-424 1zm8 0zm412 0zm15 0zm4 0zm3 0zm25 0zm-736 1zm4 0zm75 0zm32 0zm577 0zm-566 1zm580 0zm2 0zm15 0zm-662 1zm591 0zm41 0zm6 0zm18 0zm-712 1zm102 0zm21 0zm557 0zm11 0zm14 0zm8 0zm24 0zm-742 1zm51 0zm8 0zm37 0zm15 0zm557 0zm23 0zm11 0zm14 0zm1 0zm4 0zm-674 1zm63 0zm113 0zm446 0zm38 0zm-698 1zm67 0zm67 0zm553 0zm3 0zm2 0zm2 0zm-626 1zm12 0zm164 0zm371 0zm77 0zm17 0zm9 0zm17 0zm-649 1zm171 0zm423 0zm2 0zm11 0zm8 0zm7 0zm-638 1zm48 0zm492 0zm66 0zm11 0zm6 0zm2 0zm18 0zm1 0zm-654 1zm3 0zm36 0zm628 0zm-671 1zm9 0zm21 0zm175 0zm347 0zm79 0zm3 0zm3 0zm3 0zm28 0zm1 0zm-739 1zm124 0zm127 0zm408 0zm36 0zm19 0zm7 0zm-39 1zm13 0zm18 0zm-716 1zm5 0zm144 0zm560 0zm27 0zm-741 1zm5 0zm7 0zm136 0zm14 0zm494 0zm60 0zm13 0zm-656 1zm92 0zm49 0zm61 0zm438 0zm-719 1zm103 0zm9 0zm169 0zm360 0zm55 0zm-696 1zm714 0zm38 0zm-651 1zm57 0zm519 0zm-525 1zm114 0zm403 0zm64 0zm-654 1zm581 0zm20 0zm-684 1zm171 0zm542 0zm-711 1zm2 0zm145 0zm134 0zm469 0zm-753 1zm129 0zm542 0zm11 0zm26 0zm65 0zm-775 1zm94 0zm47 0zm-155 1zm110 0zm8 0zm47 0zm634 0zm-706 1zm602 0zm-693 2zm5 0zm2 0zm656 0zm-652 1zm111 0zm30 1zm3 0zm24 0zm4 0zm1 0zm599 0zm-782 1zm135 0zm45 0zm501 0zm76 0zm1 0zm-767 1zm6 0zm155 0zm606 0zm12 0zm17 0zm-798 1zm125 0zm37 0zm24 0zm518 0zm81 0zm-583 1zm496 0zm7 0zm90 0zm-791 1zm2 0zm146 0zm600 0zm-752 2zm108 0zm612 0zm15 0zm-617 1zm22 0zm10 0zm13 0zm16 0zm494 1zm61 0zm9 0zm-562 1zm614 0zm-803 1zm193 1zm-34 1zm601 0zm-29 1zm-604 1zm33 0zm529 0zm72 0zm-530 1zm7 0zm458 0zm-549 1zm626 0zm-781 1zm230 0zm22 0zm31 0zm423 0zm-709 1zm10 0zm796 0zm-803 1zm138 0zm43 0zm83 0zm-270 1zm800 0zm20 0zm-820 1zm169 0zm39 0zm589 0zm24 0zm-823 1zm811 0zm-532 1zm-124 1zm7 0zm34 0zm108 0zm399 0zm4 0zm1 0zm3 0zm4 0zm-537 1zm13 0zm-67 1zm29 0zm84 0zm40 0zm435 0zm89 0zm7 0zm3 0zm-810 1zm129 0zm142 0zm-283 1zm135 0zm159 0zm-154 1zm-139 1zm174 0zm40 0zm61 0zm442 0zm5 0zm106 0zm8 0zm-26 2zm-813 1zm143 0zm110 0zm38 0zm17 0zm504 0zm9 0zm1 0zm4 0zm-608 1zm-37 1zm21 0zm13 0zm40 0zm7 0zm53 0zm-162 1zm140 0zm4 0zm-125 1zm11 0zm65 0zm54 0zm-170 1zm7 0zm117 0zm466 0zm93 0zm-823 1zm301 0zm-295 1zm161 0zm5 0zm35 0zm61 0zm61 0zm100 0zm295 0zm-572 1zm59 0zm89 0zm139 0zm285 0zm-726 1zm190 0zm34 0zm213 0zm407 0zm-845 1zm205 0zm96 0zm4 0zm11 0zm-313 1zm190 0zm-196 1zm201 0zm4 0zm12 0zm43 0zm14 0zm560 0zm11 0zm-852 1zm205 0zm1 0zm117 0zm7 0zm410 0zm101 0zm-835 1zm4 0zm166 0zm1 0zm121 0zm11 0zm531 0zm20 0zm-689 1zm57 0zm230 0zm378 0zm21 0zm-637 1zm103 0zm2 0zm-329 1zm2 0zm854 0zm2 0zm-856 1zm180 0zm115 0zm-298 1zm318 0zm151 0zm266 0zm-726 1zm458 0zm-473 1zm4 0zm221 0zm58 0zm-279 1zm288 0zm51 0zm-3 1zm-120 1zm116 0zm-48 1zm-83 1zm110 1zm165 0zm-488 1zm757 0zm-425 1zm7 0zm419 0zm-765 1zm3 0zm323 0zm176 3zm253 0zm-416 1zm2 1zm-346 1zm5 0zm324 0zm425 0zm-752 1zm335 1zm417 1zm10 0zm-442 3zm-335 5zm139 3zm-146 1zm3 0zm542 1zm3 1zm-405 4zm4 0zm-189 1zm187 0zm406 0zm-556 1zm696 0zm-703 2zm153 0zm-161 1zm711 0zm-715 1zm580 1zm159 1zm-584 1zm-160 1zm165 0zm520 1zm-526 1zm545 0zm24 0zm22 0zm-743 1zm12 0zm717 0zm-720 1zm706 0zm27 0zm6 0zm-156 1zm-615 1zm165 1zm559 0zm-689 1zm-1 1zm871 0zm-908 1zm32 0zm55 0zm89 0zm582 0zm-594 1zm587 0zm7 0zm1 0zm15 0zm-616 1zm627 0zm-764 1zm77 0zm60 1zm1 0zm566 0zm20 1zm-741 1zm13 0zm691 0zm20 0zm-723 1zm728 0zm-732 1zm7 0zm-12 1zm761 0zm17 0zm-21 1zm17 0zm181 0zm-958 1zm3 0zm12 1zm102 0zm613 0zm234 0zm-946 1zm754 0zm189 0zm-940 1zm772 0zm-776 1zm15 0zm710 0zm216 0zm-963 1zm17 0zm145 0zm569 0zm-566 1zm-6 1zm567 0zm-699 1zm727 0zm29 0zm-785 1zm61 0zm651 0zm264 2zm-961 1zm647 0zm61 0zm-711 1zm18 0zm766 0zm-789 1zm9 0zm43 0zm93 0zm581 0zm13 0zm4 0zm214 0zm3 0zm-227 1zm36 1zm-770 1zm15 0zm130 0zm784 0zm39 0zm3 0zm-236 1zm55 0zm-767 1zm712 0zm205 0zm18 0zm7 0zm-814 1zm641 0zm161 0zm17 0zm-262 1zm205 0zm-192 1zm3 0zm-725 1zm143 0zm610 0zm176 0zm3 0zm6 0zm-840 1zm46 0zm580 0zm109 0zm91 0zm56 0zm-988 1zm3 0zm83 0zm637 0zm195 0zm72 0zm7 0zm-990 1zm132 0zm616 0zm145 0zm101 0zm-985 1zm132 0zm810 0zm18 0zm17 0zm-847 1zm592 0zm25 0zm29 0zm85 0zm32 0zm15 0zm-124 1zm9 0zm101 0zm22 0zm11 0zm-937 1zm761 0zm203 0zm-948 1zm732 0zm173 0zm60 0zm10 0zm-246 1zm12 0zm123 0zm50 0zm9 0zm-164 1zm99 0zm2 0zm97 0zm9 0zm-970 1zm718 0zm113 0zm28 0zm23 0zm50 0zm9 0zm-209 1zm138 0zm-176 1zm10 0zm9 0zm37 0zm73 0zm31 0zm40 0zm55 0zm22 0zm10 0zm-1012 1zm771 0zm79 0zm3 0zm21 0zm10 0zm24 0zm55 0zm7 0zm-955 1zm865 0zm9 0zm-150 1zm-731 1zm733 0zm144 0zm82 0zm15 0zm-977 1zm879 0zm15 0zm93 0zm2 0zm37 0zm-233 1zm67 0zm2 0zm63 0zm14 0zm11 0zm26 0zm2 0zm4 0zm-196 1zm28 0zm29 0zm43 0zm5 0zm40 0zm-912 1zm131 0zm697 0zm19 0zm135 0zm-307 1zm28 0zm52 0zm83 0zm61 0zm79 0zm-1004 1zm44 0zm841 0zm14 0zm5 0zm32 0zm25 0zm29 0zm-42 1zm-308 1zm275 0zm70 0zm6 0zm-978 1zm125 0zm578 0zm46 0zm43 0zm25 0zm61 0zm51 0zm3 0zm46 0zm-982 1zm619 0zm138 0zm28 0zm137 0zm13 0zm14 0zm1 0zm31 0zm3 0zm44 0zm-286 1zm48 0zm127 0zm49 0zm-964 1zm143 0zm582 0zm12 0zm62 0zm120 0zm32 0zm28 0zm42 0zm-1031 1zm7 0zm617 0zm2 0zm158 0zm3 0zm32 0zm34 0zm31 0zm50 0zm-850 1zm58 0zm603 0zm15 0zm50 0zm77 0zm54 0zm2 0zm6 0zm29 0zm9 0zm-350 1zm146 0zm70 0zm32 0zm52 0zm7 0zm42 0zm46 0zm-1025 1zm134 0zm487 0zm82 0zm59 0zm115 0zm14 0zm27 0zm66 0zm-997 1zm5 0zm9 0zm111 0zm24 0zm670 0zm2 0zm51 0zm37 0zm91 0zm31 0zm-879 1zm486 0zm114 0zm32 0zm41 0zm35 0zm-823 1zm750 0zm137 0zm11 0zm30 0zm-82 1zm17 0zm53 0zm-306 1zm301 0zm-934 1zm19 0zm788 0zm-682 1zm627 0zm6 0zm161 0zm33 0zm12 0zm11 0zm-980 1zm126 0zm11 0zm611 0zm235 0zm-856 1zm660 0zm74 0zm13 0zm44 0zm6 0zm15 0zm-952 1zm25 0zm794 0zm47 0zm33 0zm-871 1zm616 0zm147 0zm89 0zm20 0zm72 0zm17 0zm7 0zm-984 1zm904 0zm65 0zm9 0zm-961 1zm839 0zm2 0zm25 0zm-888 1zm44 0zm84 0zm501 0zm-631 1zm14 0zm687 0zm70 0zm170 0zm11 0zm27 0zm-106 1zm97 0zm-967 1zm4 0zm119 0zm505 0zm255 0zm38 0zm36 0zm18 0zm-285 1zm181 0zm41 0zm-120 1zm63 0zm5 0zm103 0zm-842 1zm510 0zm51 0zm120 0zm2 0zm79 0zm36 0zm12 0zm47 0zm-338 1zm161 0zm157 0zm-952 1zm934 0zm4 0zm25 0zm-966 1zm927 0zm-924 1zm969 0zm2 0zm-973 1zm846 0zm17 0zm43 0zm-35 1zm49 0zm22 1zm2 0zm35 0zm-981 1zm13 0zm900 0zm16 0zm25 0zm-904 1zm831 0zm59 0zm-29 1zm14 0zm4 0zm-869 1zm58 0zm736 0zm85 0zm2 0zm-825 1zm782 0zm18 0zm11 0zm-929 1zm908 0zm-902 1zm669 0zm217 0zm1 0zm11 0zm43 0zm-882 1zm829 0zm-23 1zm44 0zm8 0zm4 0zm22 0zm-937 1zm845 0zm4 0zm40 0zm18 0zm19 0zm20 0zm1 0zm-957 1zm895 0zm15 0zm27 0zm-935 1zm72 0zm19 0zm780 0zm70 0zm17 0zm-880 1zm28 0zm585 0zm215 1zm52 0zm8 1zm-965 1zm857 0zm69 0zm26 0zm-93 1zm62 0zm11 0zm7 0zm-79 1zm-858 1zm2 0zm922 0zm-927 1zm890 0zm56 0zm-847 1zm561 0zm219 0zm5 0zm27 0zm24 0zm27 0zm5 0zm1 0zm-966 2zm1 0zm934 0zm-838 1zm562 0zm219 0zm10 0zm7 0zm64 0zm-59 1zm19 0zm-12 1zm-902 1zm10 0zm884 0zm31 0zm-2 1zm19 0zm-28 1zm-907 1zm877 0zm17 0zm-900 1zm3 2zm913 0zm-178 2zm166 1zm3 0zm-197 2zm198 0zm5 0zm-274 1zm-633 2zm7 2zm632 0zm109 0zm-746 2zm703 0zm-693 1zm-2 1zm610 0zm15 0zm74 0zm26 1zm-716 1zm713 0zm-720 4zm614 0zm63 1zm-676 1zm7 1zm661 0zm83 0zm21 0zm-761 1zm693 0zm-703 3zm737 0zm18 1zm-752 2zm772 0zm-767 1zm-2 1zm698 0zm101 3zm21 0zm-67 1zm49 0zm-798 1zm2 0zm746 0zm-743 1zm-3 1zm769 0zm-13 1zm-759 1zm695 0zm6 0zm36 0zm59 0zm19 0zm-83 1zm78 0zm-807 1zm645 0zm-49 1zm83 0zm52 0zm-34 1zm59 0zm45 0zm-148 1zm4 0zm77 0zm47 0zm-182 1zm-46 1zm20 0zm84 1zm35 0zm24 0zm34 0zm-108 1zm2 0zm1 1zm91 0zm36 0zm-124 1zm5 0zm5 0zm84 0zm32 0zm8 0zm20 0zm-158 1zm127 0zm27 0zm17 0zm7 0zm-179 1zm8 0zm96 0zm25 0zm-122 1zm170 0zm-176 2zm175 0zm-166 2zm51 0zm21 0zm85 0zm-153 2zm176 0zm-137 1zm127 0zm26 0zm-196 1zm125 0zm4 0zm20 0zm23 0zm-40 1zm-147 1zm142 0zm-48 1zm30 0zm94 0zm1 0zm-153 1zm69 0zm-57 2zm133 0zm-116 1zm42 1zm38 0zm23 0zm2 0zm5 0zm27 0zm-119 1zm33 0zm26 0zm46 1zm-205 1zm-10 1zm180 0zm26 0zm-21 2zm-89 1zm63 0zm-24 1zm5 0zm-22 1zm24 0zm56 0zm-45 1zm34 0zm52 0zm-190 1zm121 0zm19 0zm-153 1zm174 0zm-32 1zm26 0zm8 1zm13 0zm-218 1zm91 0zm78 0zm-76 1zm-26 1zm21 0zm136 0zm-129 1zm50 0zm34 0zm40 0zm-173 1zm-53 1zm262 1zm-69 1zm83 0zm-110 1zm111 0zm-259 1zm97 0zm95 1zm20 0zm18 0zm-318 1zm323 0zm-249 1zm271 0zm-119 1zm54 1zm51 0zm23 0zm-7 1zm5 0zm2 0zm6 0zm-275 1zm43 0zm212 0zm14 0zm-81 1zm63 0zm3 0zm6 0zm8 0zm-94 1zm36 0zm18 0zm24 0zm-209 1zm203 0zm-223 1zm3 0zm204 0zm20 0zm-267 1zm202 0zm7 0zm53 0zm3 0zm18 0zm-6 1zm6 1zm-60 1zm21 0zm-217 1zm156 0zm34 0zm53 0zm20 0zm3 0zm-284 1zm47 0zm136 0zm2 0zm63 0zm7 0zm12 0zm-88 1zm18 0zm9 0zm13 0zm49 0zm-54 1zm1 0zm-44 1zm12 0zm94 0zm-211 1zm140 0zm8 0zm33 0zm8 0zm29 0zm-108 1zm56 0zm40 0zm15 0zm-296 1zm15 0zm9 0zm238 0zm4 0zm26 0zm-286 1zm213 0zm12 0zm-8 1zm58 0zm-192 1zm173 0zm-226 1zm230 0zm4 0zm-8 1zm4 0zm-206 1zm39 0zm12 0zm135 0zm-196 1zm221 0zm13 0zm-53 1zm58 0zm-80 1zm73 0zm3 0zm-267 1zm224 0zm9 0zm38 0zm-24 1zm12 0zm-222 1zm137 0zm20 0zm44 0zm6 0zm-270 1zm281 0zm1 0zm1 0zm13 0zm-271 1zm12 0zm199 0zm45 0zm2 0zm4 0zm-2 1zm-13 1zm21 0zm-24 1zm20 0zm-229 1zm142 0zm80 0zm-254 1zm197 0zm-1 1zm16 0zm4 0zm-1 1zm52 0zm-221 1zm197 0zm-44 1zm37 0zm16 1zm12 0zm3 0zm-105 1zm58 0zm16 0zm12 0zm14 0zm7 0zm-292 1zm263 0zm-242 1zm202 0zm13 0zm-173 2zm195 0zm0 1zm10 0zm-18 1zm-6 1zm9 0zm-185 1zm190 0zm-4 1zm-216 1zm32 0zm152 0zm13 0zm13 0zm8 0zm-238 1zm232 1zm3 0zm9 0zm0 1zm-228 1zm166 0zm28 0zm13 0zm6 0zm1 0zm-190 1zm183 2zm3 0zm-181 1zm99 0zm-111 1zm198 0zm-200 2zm217 0zm-179 2zm141 0zm15 0zm-229 1zm20 1zm49 0zm164 0zm0 1zm-158 1zm8 0zm141 2zm6 0zm-202 1zm58 0zm42 0zm90 0zm-146 1zm150 0zm-202 1zm110 0zm90 0zm15 0zm-162 1zm153 0zm-145 1zm135 0zm1 0zm9 1zm-162 1zm-34 1zm186 1zm-4 2zm3 1zm2 1zm-125 1zm119 0zm7 1zm-169 1zm161 2zm-3 2zm-759 6zm8 2zm-37 3zm738 0zm-727 6zm-10 1zm-6 1zm8 0zm10 1zm745 1zm-743 1zm47 2zm-32 2zm-12 2zm49 1zm691 1zm-718 1zm723 2zm-689 1zm-44 2zm-15 1zm18 1zm20 0zm717 3zm-744 2zm-7 2zm759 0zm-735 1zm47 0zm4 0zm683 0zm-761 1zm45 1zm5 1zm649 0zm57 0zm-732 1zm33 2zm5 1zm-33 1zm734 1zm2 0zm-683 1zm690 0zm-8 1zm-691 3zm23 0zm-31 1zm23 0zm631 0zm-701 1zm55 0zm632 0zm68 0zm-742 1zm33 0zm17 0zm689 1zm14 0zm3 0zm-730 5zm7 0zm719 3zm20 0zm-77 2zm67 0zm-759 1zm28 0zm17 0zm699 1zm-716 1zm29 1zm-29 1zm-6 1zm748 0zm-4 3zm-726 1zm726 1zm14 4zm-723 1zm-10 1zm733 1zm9 1zm-6 1zm-738 1zm743 0zm8 0zm-755 5zm3 2zm760 1zm-9 2zm8 3zm-20 12zm-7 1zm30 4zm10 0zm-17 1zm-72 1zm86 0zm-23 2zm24 0zm-11 2zm-84 1zm23 1zm72 0zm-72 1zm5 1zm69 1zm-22 43z"/>
<path stroke="#C77CFF" d="M1182 80zm-6 1zm22 0zm-24 4zm4 1zm9 1zm13 3zm-12 2zm8 0zm7 0zm-3 2zm0 1zm2 0zm-1 1zm2 0zm9 3zm-20 1zm13 3zm32 0zm12 0zm6 0zm-35 1zm33 1zm-29 1zm6 0zm-8 1zm1 0zm-7 1zm39 0zm2 0zm-39 1zm4 0zm2 0zm2 0zm29 0zm-33 2zm11 0zm16 0zm-7 1zm-15 1zm7 0zm5 3zm21 2zm-526 1zm498 0zm22 1zm-531 2zm521 1zm-622 1zm62 1zm55 1zm494 0zm26 0zm-575 1zm55 2zm1 0zm24 1zm-150 1zm115 0zm48 5zm-10 4zm-74 1zm43 0zm13 0zm507 0zm-606 1zm19 0zm131 0zm-23 1zm-90 1zm54 0zm-102 1zm111 0zm10 0zm33 0zm-142 1zm50 0zm91 0zm-108 1zm25 0zm53 0zm17 1zm-16 1zm-149 1zm101 0zm55 1zm1 0zm-5 1zm15 0zm10 1zm473 0zm-655 2zm89 0zm40 0zm23 0zm-86 1zm125 0zm-180 1zm135 0zm514 0zm-697 1zm41 0zm36 0zm81 0zm4 0zm17 0zm14 0zm5 0zm494 0zm4 0zm1 0zm4 0zm-703 1zm133 0zm60 0zm-111 1zm139 0zm18 0zm-171 1zm45 0zm0 1zm30 0zm561 0zm-609 1zm32 0zm94 0zm-115 1zm86 0zm17 0zm36 0zm-204 1zm89 0zm57 0zm50 1zm467 2zm-543 1zm-134 1zm43 0zm26 0zm5 0zm114 1zm-152 2zm100 0zm74 0zm19 0zm8 0zm439 0zm-616 1zm59 0zm51 0zm11 0zm45 0zm6 0zm-231 1zm29 0zm21 0zm24 0zm46 0zm113 0zm-133 1zm98 0zm-213 1zm108 1zm5 0zm46 0zm25 0zm67 0zm-208 1zm88 1zm68 0zm32 1zm-239 1zm67 0zm127 1zm8 0zm15 0zm-167 1zm28 0zm122 0zm-138 1zm18 0zm98 0zm-145 1zm56 0zm60 0zm14 0zm52 0zm40 0zm-209 2zm15 2zm68 0zm58 0zm21 0zm11 0zm25 0zm-193 1zm19 0zm33 0zm64 1zm4 0zm-104 1zm1 1zm120 0zm14 0zm-112 1zm56 0zm56 0zm-145 1zm3 0zm7 0zm80 0zm-58 1zm148 0zm17 1zm-176 2zm-68 1zm88 0zm17 0zm-46 1zm104 0zm47 0zm-13 1zm30 0zm6 0zm-185 1zm190 0zm-173 1zm160 0zm-77 1zm11 0zm66 0zm-66 2zm5 0zm41 0zm-78 2zm30 0zm82 0zm-3 1zm-187 1zm137 0zm-150 1zm47 1zm60 1zm9 0zm13 0zm68 0zm-23 1zm-77 1zm33 0zm-46 1zm49 0zm-85 3zm82 0zm-105 2zm162 0zm-188 1zm53 0zm61 0zm52 0zm34 0zm-42 1zm3 0zm-79 1zm-81 1zm154 0zm-44 1zm-86 1zm65 0zm-16 2zm33 0zm54 0zm-129 3zm58 0zm21 2zm29 0zm-102 1zm82 0zm37 0zm3 0zm1 0zm-131 1zm58 2zm-24 2zm42 1zm18 0zm49 0zm-195 1zm141 0zm31 0zm10 1zm9 0zm-146 1zm97 0zm35 0zm-101 1zm16 2zm-21 1zm49 0zm4 0zm-111 1zm16 1zm21 1zm80 0zm-45 1zm68 0zm39 0zm-68 1zm87 0zm-117 1zm70 0zm-27 2zm55 0zm10 0zm-42 1zm45 0zm-85 1zm-34 1zm42 0zm-62 1zm-48 1zm51 0zm106 0zm2 0zm-46 1zm5 0zm-2 1zm-81 1zm109 0zm-38 1zm-124 1zm38 0zm3 0zm6 0zm24 0zm41 0zm40 0zm-5 1zm-19 1zm-9 1zm-119 1zm110 0zm67 0zm17 0zm-56 1zm16 1zm52 0zm3 0zm-190 2zm25 0zm70 2zm-74 2zm18 0zm36 1zm13 0zm26 0zm16 0zm1 2zm3 0zm22 1zm9 0zm-80 3zm52 0zm29 1zm-109 2zm54 0zm35 0zm36 0zm-126 1zm116 0zm-54 1zm-26 1zm-82 1zm75 0zm75 0zm-42 2zm-74 1zm-69 3zm151 1zm-51 1zm-44 1zm7 0zm13 0zm92 1zm16 0zm-165 2zm-15 1zm185 0zm-76 1zm-109 2zm38 1zm110 0zm3 0zm-158 1zm61 2zm54 0zm45 3zm-22 1zm-108 4zm88 4zm47 3zm-137 8zm54 1zm77 2zm12 1zm367 5zm-6 2zm-350 3zm352 2zm-451 1zm449 0zm-7 3zm-393 1zm395 1zm-466 4zm1 7zm-39 3zm-85 1zm1 0zm32 1zm-36 1zm124 0zm535 1zm-633 1zm29 0zm532 1zm-583 1zm606 0zm-545 1zm-9 1zm17 0zm-87 1zm715 1zm-719 1zm7 0zm-10 1zm59 0zm-61 1zm61 0zm126 0zm81 1zm378 2zm39 0zm-442 1zm-209 1zm39 0zm164 0zm-237 1zm-14 1zm614 0zm82 0zm-685 1zm121 2zm560 0zm7 0zm-704 1zm113 1zm-13 1zm586 0zm-686 1zm99 0zm612 0zm-622 1zm167 0zm440 0zm1 0zm-698 1zm10 0zm103 0zm23 0zm556 0zm-560 1zm568 0zm8 0zm-628 1zm180 0zm-173 1zm61 0zm513 0zm-611 1zm669 0zm-623 1zm5 0zm44 0zm528 1zm-555 1zm-1 1zm30 0zm566 0zm-627 2zm561 0zm-589 1zm75 0zm143 0zm422 0zm-547 1zm-6 1zm539 1zm8 0zm61 0zm-630 1zm-57 1zm42 2zm34 1zm68 0zm539 1zm-775 1zm11 0zm105 0zm585 0zm9 0zm-702 1zm64 0zm113 1zm514 0zm38 0zm18 0zm-636 1zm42 1zm-34 1zm2 0zm-134 1zm656 1zm23 0zm-683 1zm112 1zm10 1zm-123 1zm79 0zm629 0zm28 0zm-741 1zm105 0zm67 0zm496 0zm57 0zm-619 1zm25 0zm-32 1zm68 0zm497 0zm-507 1zm537 0zm-575 1zm51 0zm599 0zm-785 1zm6 0zm102 0zm86 0zm-52 1zm31 0zm11 0zm554 0zm-601 2zm99 0zm-239 1zm6 0zm1 0zm3 0zm133 0zm632 0zm-774 1zm225 0zm-229 1zm121 0zm1 0zm569 0zm-553 1zm19 0zm597 0zm-524 2zm-112 1zm22 0zm29 0zm-49 1zm128 0zm-105 1zm30 0zm-39 1zm110 0zm11 0zm-273 2zm149 0zm71 0zm54 1zm538 0zm-650 2zm36 0zm616 0zm-650 1zm57 0zm-222 1zm152 0zm123 0zm-26 1zm-51 1zm8 0zm617 0zm-559 1zm25 0zm-292 1zm8 0zm211 0zm-219 1zm9 0zm209 0zm67 0zm-289 1zm145 0zm35 0zm72 0zm27 0zm147 0zm-139 1zm135 0zm-250 1zm40 0zm60 0zm-279 1zm158 0zm147 0zm11 0zm-162 1zm30 0zm126 0zm538 0zm-845 1zm262 0zm2 0zm57 0zm-154 1zm27 0zm119 0zm535 0zm-22 1zm-654 1zm-179 1zm226 0zm41 0zm-111 1zm53 0zm236 1zm401 0zm-844 1zm162 0zm138 0zm-300 1zm257 0zm-263 1zm276 0zm26 0zm7 1zm-314 1zm-2 2zm294 0zm-77 1zm56 0zm24 0zm-304 2zm282 0zm-286 1zm318 1zm-114 1zm-191 2zm466 0zm-484 1zm332 0zm-327 1zm2 0zm0 1zm311 1zm-4 1zm5 0zm2 0zm-325 1zm320 0zm3 0zm-5 1zm1 0zm1 0zm3 0zm3 0zm170 0zm-171 1zm10 0zm165 0zm-184 1zm1 0zm2 0zm8 0zm-10 1zm-325 1zm328 0zm1 0zm2 0zm2 0zm-338 1zm723 0zm-722 2zm9 0zm323 0zm-347 1zm11 0zm-11 1zm19 0zm714 0zm-734 1zm9 1zm-13 2zm14 0zm-10 1zm-19 1zm14 0zm-16 1zm13 1zm11 0zm-23 1zm12 1zm157 1zm-181 2zm20 1zm158 2zm-175 1zm160 1zm-146 2zm-32 1zm4 0zm832 0zm-649 1zm-146 1zm140 0zm-164 1zm10 1zm-34 1zm41 1zm9 0zm732 0zm-757 1zm685 0zm44 1zm95 0zm-137 1zm66 0zm-765 1zm774 0zm-782 1zm31 0zm9 0zm132 0zm741 0zm-895 1zm5 0zm595 0zm5 0zm-610 1zm152 0zm538 0zm-667 1zm585 0zm1 0zm153 0zm22 0zm99 0zm-266 1zm224 0zm-844 1zm-8 1zm25 0zm3 0zm695 0zm183 2zm-933 1zm740 0zm-734 1zm774 0zm-768 1zm14 0zm726 0zm6 0zm52 0zm-41 1zm219 0zm-955 1zm12 0zm134 2zm1 0zm562 0zm39 0zm-29 1zm43 0zm-792 1zm14 0zm21 0zm774 0zm-795 1zm159 0zm583 0zm155 0zm-889 1zm748 0zm42 0zm-780 1zm753 0zm26 0zm-804 1zm13 0zm2 0zm5 0zm141 0zm-123 1zm730 1zm-747 1zm25 0zm113 0zm587 0zm21 0zm-752 1zm733 0zm36 0zm5 0zm17 0zm-655 1zm611 0zm-599 1zm-157 1zm6 0zm780 0zm75 0zm44 0zm-185 1zm20 0zm23 0zm-761 1zm14 0zm9 0zm728 0zm19 0zm179 0zm-943 1zm5 0zm721 0zm-728 1zm706 0zm17 0zm-752 2zm41 0zm699 0zm141 0zm124 0zm-991 1zm163 0zm590 0zm127 0zm-899 1zm27 0zm3 0zm723 0zm65 0zm-808 1zm6 0zm4 0zm154 0zm634 0zm-686 1zm629 0zm15 0zm165 0zm59 0zm-972 1zm14 0zm734 0zm8 0zm59 0zm126 0zm44 0zm-254 1zm198 0zm-1 1zm-923 1zm59 0zm91 0zm-161 1zm25 0zm4 0zm-21 1zm778 0zm15 0zm156 0zm10 0zm48 0zm-267 1zm32 0zm5 0zm18 0zm66 0zm81 0zm-936 1zm891 0zm62 0zm8 0zm-964 1zm6 0zm134 0zm568 0zm20 0zm3 0zm49 0zm86 0zm26 0zm110 0zm-1011 1zm762 0zm25 0zm96 0zm28 0zm68 0zm-969 1zm143 0zm641 0zm161 0zm-958 1zm851 0zm16 0zm38 0zm53 0zm-222 1zm176 0zm42 0zm-917 1zm752 0zm2 0zm137 0zm86 0zm-1009 1zm904 0zm24 0zm3 0zm5 0zm-914 1zm714 0zm148 0zm26 0zm73 0zm-84 1zm49 0zm-177 1zm72 0zm-848 1zm12 0zm732 0zm17 0zm37 0zm70 0zm125 0zm18 0zm-1010 1zm842 0zm-834 1zm747 0zm57 0zm165 0zm-977 1zm150 0zm590 0zm11 0zm268 0zm-1022 1zm8 0zm884 0zm-105 1zm16 0zm25 0zm107 0zm18 0zm29 0zm36 0zm-226 1zm82 0zm55 0zm-929 1zm696 0zm115 0zm59 0zm6 0zm37 0zm-205 1zm187 0zm-882 1zm5 0zm1016 0zm-1019 1zm763 0zm96 0zm60 0zm20 0zm-951 1zm759 0zm25 0zm78 0zm76 0zm14 0zm1 0zm58 0zm-260 1zm69 0zm54 0zm17 0zm31 0zm29 0zm15 0zm4 0zm-965 1zm722 0zm18 0zm136 0zm116 0zm2 0zm-1013 1zm729 0zm31 0zm6 0zm14 0zm92 0zm24 0zm8 0zm29 0zm-917 1zm629 0zm105 0zm128 0zm-741 1zm740 0zm57 0zm-927 1zm10 0zm781 0zm11 0zm98 0zm40 0zm34 0zm63 0zm-1023 1zm7 0zm735 0zm122 0zm31 0zm97 0zm-1000 1zm4 0zm17 0zm677 0zm58 0zm28 0zm22 0zm70 0zm86 0zm-946 1zm118 0zm737 0zm-795 1zm603 0zm21 0zm82 0zm80 0zm1 1zm100 0zm-834 1zm578 0zm46 0zm24 0zm20 0zm160 0zm-964 1zm6 0zm4 0zm1 0zm757 0zm24 0zm124 0zm69 0zm-972 1zm9 0zm18 0zm849 0zm-764 1zm7 0zm742 0zm39 0zm77 0zm-988 1zm122 0zm771 0zm10 0zm-153 1zm-725 1zm736 0zm93 0zm21 0zm14 0zm18 0zm-134 1zm83 0zm71 0zm9 0zm15 0zm-956 1zm691 0zm13 0zm173 0zm56 0zm-156 1zm105 0zm19 0zm23 0zm45 0zm-967 1zm17 0zm866 0zm73 0zm-943 1zm800 0zm116 0zm-18 1zm-908 1zm2 0zm889 0zm-891 1zm120 0zm566 0zm72 0zm150 0zm29 0zm-934 1zm1 0zm953 0zm4 0zm-960 2zm13 0zm26 0zm744 0zm-784 1zm663 0zm-551 1zm873 0zm-983 1zm851 0zm101 0zm-953 1zm853 0zm101 0zm9 0zm-961 1zm11 0zm848 0zm-108 1zm150 0zm-880 1zm854 0zm98 0zm-310 1zm199 0zm19 0zm93 0zm-971 1zm3 0zm893 0zm15 0zm-845 1zm-63 1zm906 0zm-905 1zm94 0zm8 0zm749 0zm52 0zm-65 1zm-836 1zm870 0zm-871 1zm1 0zm901 0zm9 0zm3 0zm-915 1zm877 0zm69 0zm-950 1zm943 0zm-935 1zm860 0zm89 0zm-956 1zm859 0zm21 0zm36 0zm-265 1zm204 0zm-758 1zm580 1zm183 0zm56 0zm16 0zm-927 1zm8 0zm-10 3zm910 0zm-816 1zm822 0zm15 0zm-929 1zm9 1zm884 0zm24 0zm-252 1zm-661 1zm-3 1zm915 0zm-915 2zm2 0zm6 0zm703 0zm-707 1zm1 0zm727 1zm177 0zm5 0zm-903 1zm639 2zm243 0zm-876 2zm-4 2zm684 0zm-8 1zm16 0zm21 0zm-718 1zm1 0zm3 1zm6 0zm710 0zm-110 1zm86 0zm-19 1zm-670 1zm609 1zm-611 1zm627 0zm-625 1zm3 0zm5 0zm749 0zm-7 1zm-747 1zm1 0zm4 0zm710 1zm-99 1zm100 0zm-33 1zm-68 1zm128 0zm-737 1zm642 0zm114 0zm-758 1zm-1 1zm3 0zm594 0zm60 1zm-650 1zm2 0zm711 0zm2 1zm15 0zm-728 1zm699 0zm88 0zm-791 1zm5 1zm726 0zm-729 1zm735 0zm34 0zm-769 1zm719 1zm-131 1zm104 0zm39 0zm-20 1zm27 0zm29 0zm20 0zm-782 1zm626 0zm25 1zm137 1zm11 0zm-75 1zm77 0zm-157 1zm117 0zm24 0zm-137 1zm121 0zm31 0zm-158 1zm161 0zm10 0zm-169 1zm48 0zm-107 1zm234 1zm-181 1zm3 0zm4 0zm112 0zm17 0zm37 0zm-144 1zm-11 2zm142 0zm9 0zm-63 1zm27 0zm-203 1zm129 0zm14 0zm69 0zm-138 1zm103 0zm33 0zm-135 1zm158 0zm1 0zm21 0zm11 0zm-179 1zm84 0zm66 0zm-157 1zm141 1zm33 0zm-169 1zm124 0zm-137 1zm62 0zm-46 1zm30 0zm114 0zm13 0zm-158 1zm22 0zm6 0zm152 0zm-179 1zm115 1zm77 0zm1 0zm-153 1zm-129 1zm233 3zm1 0zm-232 1zm262 1zm-113 1zm124 0zm16 0zm-16 1zm-186 1zm98 0zm105 1zm-3 1zm-21 1zm-178 1zm131 0zm1 0zm77 0zm17 0zm-35 1zm-164 1zm67 0zm48 0zm93 0zm-233 1zm101 0zm53 0zm21 0zm48 0zm-181 1zm165 0zm-213 1zm148 1zm62 0zm3 1zm43 0zm-191 1zm-147 1zm304 0zm-179 2zm49 0zm67 1zm99 0zm-215 1zm8 0zm230 0zm-131 1zm4 0zm6 0zm106 0zm-180 1zm166 0zm-31 1zm28 0zm-88 1zm18 0zm33 0zm41 0zm17 0zm-287 1zm52 0zm114 0zm8 0zm65 0zm32 0zm5 0zm6 0zm-229 1zm26 0zm93 0zm16 0zm91 0zm-366 1zm164 0zm135 0zm31 0zm25 0zm23 0zm-27 1zm-244 1zm83 0zm73 0zm29 0zm38 0zm32 0zm-23 1zm12 0zm4 0zm1 0zm8 0zm4 0zm-5 1zm7 0zm-289 1zm253 0zm27 0zm10 0zm-285 1zm280 0zm-263 1zm47 1zm115 0zm20 0zm14 0zm69 0zm-242 1zm32 0zm109 0zm54 0zm35 0zm7 0zm-274 1zm116 0zm123 0zm18 0zm9 0zm5 0zm1 0zm1 0zm1 0zm4 0zm-355 1zm328 0zm8 0zm19 0zm-284 1zm55 0zm180 0zm40 0zm-204 1zm155 0zm53 0zm-178 1zm185 0zm7 0zm9 0zm-189 1zm128 0zm26 0zm22 0zm2 0zm5 0zm-99 1zm2 0zm82 0zm-226 1zm178 0zm33 0zm10 0zm20 0zm-355 1zm356 0zm-30 1zm13 0zm8 0zm3 0zm-193 1zm94 0zm11 1zm62 0zm2 0zm13 0zm-222 1zm158 0zm51 0zm5 0zm12 0zm-22 1zm25 0zm10 0zm-8 1zm2 0zm-15 1zm1 0zm8 0zm4 0zm-168 1zm98 0zm70 0zm2 0zm-86 1zm63 0zm1 0zm-95 1zm95 0zm13 1zm-171 1zm160 0zm11 0zm12 0zm-270 2zm44 0zm16 1zm130 0zm4 0zm3 0zm36 0zm5 0zm16 0zm11 0zm-4 1zm-55 1zm59 0zm-8 1zm-265 1zm204 0zm52 0zm4 0zm4 0zm7 0zm-299 1zm106 2zm184 0zm-203 1zm200 0zm2 1zm5 0zm-187 1zm149 0zm-8 1zm-190 1zm-37 3zm62 0zm153 0zm6 0zm-229 1zm263 0zm-255 2zm42 0zm173 0zm28 0zm-191 1zm-29 1zm217 0zm8 0zm-161 1zm140 0zm32 0zm-35 1zm21 2zm21 1zm-22 1zm-157 1zm156 0zm-5 1zm-214 1zm64 0zm180 0zm-21 2zm-27 1zm12 0zm-1 2zm1 0zm17 0zm-234 3zm7 0zm226 0zm-170 1zm98 2zm-133 2zm202 1zm1 0zm-3 4zm-84 1zm-102 1zm-18 2zm200 0zm-85 2zm62 6zm-51 6zm3 0zm-709 2zm-3 2zm16 4zm712 2zm-710 1zm-34 5zm17 0zm3 0zm4 0zm-40 2zm21 0zm681 0zm11 4zm-1 1zm-694 1zm22 0zm-19 1zm5 1zm722 0zm23 0zm-768 1zm3 0zm-5 1zm79 1zm691 1zm-764 1zm20 1zm-12 1zm37 1zm-12 1zm683 0zm47 0zm-755 3zm28 0zm4 0zm725 0zm19 0zm-777 1zm61 0zm705 0zm-695 1zm-40 1zm683 1zm54 0zm-21 1zm17 0zm-747 1zm10 1zm-16 2zm750 0zm16 2zm-721 1zm669 0zm-693 1zm746 2zm-758 2zm41 0zm-46 1zm699 1zm78 0zm-770 1zm55 0zm708 0zm-730 1zm733 0zm-4 1zm-757 2zm764 1zm-22 2zm27 1zm-9 2zm6 0zm-726 1zm734 1zm-68 1zm64 0zm8 1zm-740 1zm8 0zm704 0zm27 0zm-711 1zm-5 1zm655 4zm-670 2zm681 0zm56 0zm11 0zm-6 6zm-741 5zm761 0zm1 0zm-15 1zm9 1zm6 3zm8 3zm7 1zm-13 2zm6 0zm-30 7zm-7 1zm-16 3zm26 3zm32 1zm-30 3zm31 1zm-2 1zm4 3zm-20 1zm-2 1zm2 0zm-11 3zm-29 6zm-16 5zm32 0zm12 5zm2 9z"/>
</g>
<rect x="72.2" y="27" width="590.9" height="528.5" fill="none" stroke="#333" stroke-width="2"/>
<path d="M101.9 421V519.6H202" stroke="#222" stroke-width="1.7" fill="none"/>
<path d="M101.9 410L107.6 422H96.2zM213 519.6L201 525.3V513.9z" fill="#222"/>
<text x="0" y="0" font-size="22.6" fill="#1a1a1a" textLength="75.5" lengthAdjust="spacingAndGlyphs" transform="translate(98.2 518.6) rotate(-90)">UMAP2</text>
<text x="101.3" y="539.6" font-size="22.6" fill="#1a1a1a" textLength="76.5" lengthAdjust="spacingAndGlyphs">UMAP1</text>
<circle cx="245.8" cy="503.8" r="5.9" fill="#F8766D"/>
<circle cx="245.8" cy="537.6" r="5.9" fill="#C77CFF"/>
<circle cx="361.8" cy="503.8" r="5.9" fill="#7CAE00"/>
<circle cx="361.8" cy="537.6" r="5.9" fill="#00BFC4"/>
<text x="261.6" y="510.6" font-size="25.6" fill="#111" textLength="89.6" lengthAdjust="spacingAndGlyphs">Control</text>
<text x="378" y="510.6" font-size="25.6" fill="#111" textLength="105.6" lengthAdjust="spacingAndGlyphs">GSK343</text>
<text x="262.5" y="544.6" font-size="25.6" fill="#111" textLength="85" lengthAdjust="spacingAndGlyphs">TGF<tspan font-family='"Liberation Serif", serif' font-size="28">β</tspan>1</text>
<text x="378" y="544.6" font-size="25.6" fill="#111" textLength="225.6" lengthAdjust="spacingAndGlyphs">TGF<tspan font-family='"Liberation Serif", serif' font-size="28">β</tspan>1 + GSK343</text>
</g>
<g id="panel-d">
<defs><clipPath id="clipd"><rect width="463.8" height="463.4"/></clipPath></defs>
<text x="1416.4" y="778" font-size="30.2" text-anchor="middle">TGFβ1</text>
<text x="1415.8" y="1320.8" font-size="30.6" text-anchor="middle" textLength="248" lengthAdjust="spacingAndGlyphs">GSK343 + TGFβ1</text>
<g transform="translate(1183.4 793.2)" clip-path="url(#clipd)">
<rect width="463.8" height="463.4" fill="#040205"/>
<defs>
<g id="nuc1" transform="scale(.5)" fill="none" stroke-linecap="round" stroke-width="10.6">
<path stroke="#464646" d="M444 99l-4 2m-40 91l-3 0m-33 18l0 2m-22 13l1 1m79 16l0 3m-31 18l4 3m-305 52l4 1m464 79l-1 5m-308 9l4 2m-3 17l3 2m280 18l5 1m-162 17l4 3m286-6l1 3m-407 3l-1 3m445-3l2 6m-216 13l3 1m323 10l-2 3m-260 7l3 4m276-3l-1 2m-15-1l5 3m73-3l0 4m-414 32l-4 3m249 12l3 0m-6 11l-2 4m29 15l-1 1m40 47l1 3m-74-1l-5 1m79 18l-2 2m16 23l2 0m9 0l-2 1m41 20l1 1m-8 5l-2 3m71 67l1 2"/>
<path stroke="#545454" d="M855 39l3 2m-390 18l-1 3m-13 20l-2 5m250-4l-1 1m114-1l-2 0m-400 35l2 3m-370 12l1 1m10-2l-4 3m388-1l-1 6m-202 13l3 2m-207 2l0 2m636 8l-3 0m-660 14l-3 4m114-4l0 5m-47 2l-3 2m254-1l2 2m132-2l1 4m-91-2l1 2m48 8l-2 4m-328-4l1 3m376-3l-1 1m-265 11l-2 4m182-8l0 2m23-3l-1 5m-322 2l-1 2m57-1l-4 3m285-5l-3 3m-49 7l3 2m-313 0l1 2m340 0l2 1m68-3l-4 2m-167 8l-2 2m189-3l3 2m-104 4l-2 3m89-4l-1 1m38-1l-3 1m322-2l1 2m-726 8l-4 4m331-5l-4 0m-265 9l-3 3m203-1l-1 2m31-1l-3 2m55-2l3 4m-187 2l1 2m11-4l-1 2m146 7l-2 4m66-6l1 2m-24 0l-1 5m54 1l1 4m57-6l3 3m-137 4l1 3m-219 1l2 4m87-3l0 2m104-1l-6 0m58 0l1 2m15-4l2 2m-89 3l6 2m-355 4l0 3m394-2l4 1m19 1l2 0m91 6l3 3m-342 0l-4 0m464 1l-5 3m-185 3l-3 2m-274 5l-4 3m259-3l-1 2m35-1l4 4m-286 4l-1 4m209-4l-6 1m15 8l-1 2m-46 3l1 4m7-7l3 4m-149 3l2 2m14-1l4 1m251-2l-1 2m-125 5l1 6m218-4l-2 5m-243-3l-2 5m-23 7l2 1m176-1l3 5m96-8l2 2m-239 3l-4 1m83-2l-1 1m25-1l-3 2m163 1l1 2m-418 7l-2 1m19 4l3 1m113-5l1 3m52-4l-3 3m56-3l-3 4m118 0l-2 2m292-5l-2 5m-794 2l1 6m462-8l-2 0m130 2l-3 4m-439 4l-4 3m120-3l0 2m-76 0l-1 2m273 5l4 0m160 0l-4 1m-440 8l-1 3m149-7l-1 4m413-3l-2 1m-503 3l-3 1m115 4l2 1m31-4l5 2m37-3l-2 3m355-3l0 2m-705 8l-3 2m328-1l-2 3m-124 2l0 2m66-6l1 5m21-4l1 4m135 0l0 6m-338-6l2 1m379 0l-2 4m-356 1l3 4m25 0l-4 1m159-3l1 5m-117 5l1 6m20-12l3 4m578 1l1 1m10-1l-1 6m-13 0l0 5m-625-1l-2 3m280 6l-2 2m-292 0l-1 3m80-2l-1 4m299 5l-3 1m45-1l-2 2m-247 1l-5 1m370 0l1 3m16-2l-3 4m78-9l-2 1m13-1l5 3m9-1l5 1m-250 4l-3 0m-443 6l-1 3m201-1l5 2m22-2l1 3m30 0l3 3m14-4l0 2m34-6l2 0m22 0l-1 4m31-4l1 3m10-2l1 2m315 1l-2 3m-148-2l5 2m-506 5l-2 2m194 1l-4 0m117-1l3 0m10-3l4 1m106 4l2 0m224-3l-3 1m-616 8l-1 1m110-5l-3 1m508 1l-3 5m-423-1l-2 1m58 0l3 1m29-2l3 2m276 0l-3 0m-622 3l-3 1m219 0l4 3m49-3l-2 1m-173 7l-2 1m257-3l2 4m87 0l4 4m123-3l5 2m18-6l-4 3m70-2l0 2m-289 4l3 1m211 1l0 3m-469 0l2 6m112-6l1 2m117 0l-1 1m30-3l-2 3m139-5l-4 2m90 4l-6 2m-326 3l1 4m64-8l0 2m275-1l5 1m-216 5l2 1m174 0l3 0m52-1l4 4m-58 10l-1 1m6-3l3 4m37-5l-5 1m73 4l-2 1m-217-1l-3 2m133 2l-3 4m-292 3l2 2m223-6l1 2m125 0l-4 5m-420 1l-1 5m367-3l-2 1m12-4l-1 1m80-2l-3 1m-436 6l2 3m-62 1l5 4m157 1l4 3m22-5l5 2m163-2l2 3m29-4l-4 3m-78 3l-2 4m91-1l0 5m68-6l0 3m-354 1l1 2m100-4l4 0m108 2l2 1m186 1l4 1m-533 1l0 2m175 0l-3 5m200-5l0 4m-218 1l4 4m116-3l-3 4m-156 2l3 0m40 3l0 2m162-6l1 1m15 7l0 2m13-3l0 3m65 0l-2 2m28-6l1 2m10 0l-3 1m36 1l5 1m28-3l2 5m-447 0l-2 1m383 2l-1 2m-501 1l-1 4m248-1l0 4m308-6l1 5m-207-1l3 1m-172 9l2 3m33-8l0 2m294 0l-2 3m36-3l3 3m14-1l4 1m-24 4l-3 1m-465 3l3 1m116 7l0 4m12-4l0 4m220-6l-1 4m-37 3l3 0m-201 12l1 1m235 0l-1 2m48 1l-4 4m34 0l3 0m78-3l-2 1m-264 15l-4 1m-259 2l5 3m322 0l1 2m70 0l-4 1m72-1l5 2m50 7l1 2m-184 14l6 0m-71 8l5 1m-76 30l-6 2m273 27l-2 3m61 4l0 5m-115 23l-3 5"/>
<path stroke="#626262" d="M697 1l-3 3m8 5l-2 2m-172 0l3 0m57-1l2 3m128 7l0 3m-143 0l5 0m-69 10l-4 2m163 2l4 0m13-2l-4 2m-80 6l3 4m105-3l-1 2m-344 3l3 2m61 0l2 1m259-2l-2 0m133 0l0 2m-283-1l-5 1m178 4l-1 3m157-8l-4 3m-351 4l-2 2m178-1l1 6m145-2l4 3m65-4l2 5m-498-3l2 4m64-2l5 1m-475 5l3 4m508-3l5 1m-80 6l-2 4m122-5l3 1m104-2l-1 1m-626 6l3 3m378-2l3 1m76-5l-2 3m409-4l2 5m-905 11l1 6m41-4l3 5m23-2l-5 1m49 5l-3 1m20 2l-5 1m364-2l5 1m46-4l-1 4m-108 3l3 2m78 5l-3 0m-338 6l-3 4m37-7l3 5m704-4l-3 5m-112 4l-3 2m33-3l-4 1m-639 1l1 1m506 2l4 0m-664 7l-1 2m27-2l4 1m659-2l5 3m-702 4l-5 2m118-5l-4 2m45-2l2 2m414 2l1 5m236-9l3 0m-736 9l2 0m-39 4l1 2m8 0l1 1m-69 4l-1 6m86-7l4 1m338 3l5 0m-389 3l2 0m253-2l-2 1m-282 6l4 1m26 3l-2 1m766-6l0 3m-681 2l2 3m90 1l2 2m21-1l0 3m394-3l-1 3m-531-1l-4 1m48 2l0 6m85-4l2 2m188-2l2 0m55 1l0 5m356 0l-1 3m31-8l-4 1m-853 6l-2 4m342-2l3 1m547 1l2 4m-878-1l-3 1m214-1l-1 3m57-6l0 2m56 3l3 2m510-3l2 1m27 0l2 0m-832 3l2 5m25-4l2 1m222-1l-5 0m29-1l-2 5m114-6l2 1m20 2l-3 2m-244 5l5 1m68-4l3 5m117-3l4 2m-50 2l0 5m31-6l-2 2m218-2l2 0m106 3l-3 3m-414 2l-1 2m22 0l5 2m204-2l0 2m59-4l-4 1m164-2l-2 1m-739 7l2 5m308-5l-3 2m72-5l-2 2m47 1l-3 2m72-6l-1 1m225 4l-2 1m43-4l5 1m53-3l3 1m-819 11l2 2m166-5l-2 4m114-2l-2 0m66-2l0 4m211-2l1 5m-509-1l3 4m215-3l-4 3m94-5l3 3m26-4l3 0m42 5l-2 2m-338 0l1 5m508-1l-5 2m218-5l2 1m-495 3l-5 1m96 4l3 4m350-6l-3 1m99 0l4 2m-668 2l-1 4m177-3l2 2m39-3l-4 2m-376 5l2 1m188-4l-2 2m46 2l3 4m179-4l1 2m51-3l-1 2m12-1l2 5m59-8l-2 3m242-1l-1 1m-674 2l-2 1m179 3l3 2m161-2l-3 2m91-7l-2 1m212 3l3 5m-632 3l-2 3m186-9l4 0m187 2l4 3m82-4l-2 1m150 3l-3 5m151-8l-1 3m-599 6l-4 4m171-3l1 4m102-7l-1 5m20-7l0 2m27 1l-3 4m182-5l-2 5m-789-2l-2 1m121 2l-2 1m65-3l4 3m27-1l4 2m134 0l1 4m29-6l1 2m6-4l-2 2m119 2l5 0m295 0l-3 2m-795 4l1 2m55-7l-3 3m250 1l-1 5m-280 1l1 2m16-6l2 1m161 1l3 2m132 0l0 2m52-1l4 3m165-5l-1 3m125-6l3 4m-507 7l0 4m11-9l-3 1m168 1l-5 0m56 0l-3 4m139-1l1 5m-464-2l-1 2m499 2l2 1m295-4l-3 1m-860 2l-2 5m128-4l0 3m60 0l-5 0m13 2l1 5m168-11l-2 1m8 3l4 1m131-3l0 2m70-2l1 1m-602 3l3 4m29-3l3 1m13 0l-3 4m30-4l3 3m65-3l-2 4m133-1l2 1m63-4l-2 3m477 1l0 3m-754 0l2 2m22-2l0 4m72-4l0 2m106-4l-1 5m115-5l0 4m118-2l-4 1m67-3l-2 1m54 1l1 3m-568 6l-1 4m346-8l2 5m42-3l-4 4m94-5l-2 3m-492 1l-2 2m165 1l5 2m64-4l3 4m360-5l2 2m-466 6l3 3m247-1l2 0m10-2l0 4m33-2l2 0m13 0l2 4m-440-2l3 3m26-3l5 3m162 2l6 2m158-6l0 3m104 0l1 4m29-8l0 5m252-3l4 0m15 0l-4 1m-692 7l-1 6m72-6l3 1m110-2l2 2m45-1l-2 4m194-5l-3 1m-328 3l5 1m13-2l-1 5m50-6l5 3m11-3l-1 4m71 0l-3 2m79-6l-4 3m34-1l-3 2m336 0l4 3m-696 3l3 1m210-5l-5 1m71 3l-6 0m101 1l-1 3m80-7l-2 0m228-1l2 2m-421 10l2 4m299-5l2 3m167-5l1 3m8-3l-2 3m-720 2l-2 1m122 3l-2 1m172-2l-3 0m168 1l3 1m1-6l0 2m-489 6l-3 2m30 1l2 1m30-6l5 1m13 0l3 3m51-4l-1 3m130 1l3 3m45-7l-1 2m66 0l-1 2m25-1l-1 2m17-1l-5 0m46-1l2 0m57 1l3 3m27-7l-3 4m-529 7l4 1m87-4l-4 4m102-4l2 6m132-8l-1 3m148-1l0 4m-344 3l3 5m324-4l2 5m39-4l-2 3m235-8l1 2m-740 8l-1 3m104-3l-1 3m142-6l2 2m30-3l-2 1m21 4l2 0m14-1l0 4m36-8l2 4m65 1l0 2m252-8l-2 1m69 0l-2 2m-741 9l-4 2m79-4l0 2m16 0l-3 1m100-3l-4 3m74-4l-2 2m93-4l3 3m48-1l-5 2m296 1l-2 1m98-1l1 5m-810-3l3 3m67-3l0 2m168 1l1 3m31-8l2 4m-237 4l-3 3m8 0l1 2m282-6l5 1m100 4l-1 4m39-8l3 3m11-4l-5 1m307 4l4 2m69-3l2 2m-755-1l-4 2m103 0l5 1m91-2l-3 3m276-3l3 2m36-2l-2 1m230 1l-2 2m-728 4l-2 0m59 2l1 1m33-2l-4 0m41-1l1 1m14-2l6 1m141 0l2 2m239-3l3 5m10-1l2 2m52-4l-2 1m33-5l0 2m-515 4l4 1m89 2l-1 2m71-3l-3 4m-260 1l-3 3m173 0l-2 1m145 1l3 1m64-2l-5 1m98-4l1 2m-505 4l-1 2m57-1l-2 5m95-5l-3 1m39 0l-5 3m277-6l4 0m-418 6l4 3m107 1l0 2m380-5l-1 5m-501-1l0 2m152 4l0 2m69-4l-2 2m36-4l-2 5m103-5l-3 1m62 2l1 2m9-4l1 1m51-2l3 3m64-2l-2 0m13 2l-5 2m148-6l5 2m-520 6l1 3m12-4l3 3m45-2l-2 3m45-1l-2 5m132-5l4 1m125-5l1 5m-453 3l4 1m112-4l4 2m57-1l2 1m101-2l2 4m59-1l2 0m40 0l0 2m118-4l-2 3m92-1l-1 5m-678 2l0 3m22-2l2 0m366 1l-4 2m88-2l-1 1m170-4l-2 2m72-2l-4 4m-607 1l-1 1m22-2l-1 2m49-1l-1 1m28 0l-1 3m27 0l1 3m228-7l-4 1m201 2l2 0m18-3l1 1m-469 5l1 4m54-5l-3 1m204 4l-4 5m5-11l1 2m24 3l0 5m59-5l-3 4m18-4l0 5m16-4l2 3m43-4l-2 3m61-4l1 5m-614 0l-5 1m49 0l-5 1m130-2l6 2m43-3l-1 1m69-1l4 1m72-2l-1 3m46-4l-5 2m28-1l0 2m31 3l-4 4m139-7l-2 3m30-3l2 3m30-1l1 6m-399-3l-3 1m-164 5l4 0m14-1l0 3m22-1l1 2m36-4l0 3m55-1l2 2m59-2l-2 0m28-1l4 2m36-4l-1 1m91 1l5 1m71-2l-2 1m74 4l-3 1m-525 0l1 3m156 1l-4 2m53-7l2 1m36 4l2 0m221-4l3 4m82 0l-5 2m-610 2l0 2m147-4l5 0m78 1l1 2m18 1l2 4m272-5l4 3m126-4l3 2m-668 6l3 5m38-9l-3 2m141-3l6 1m260 2l4 2m-195 3l3 3m25 0l1 4m27-8l4 3m117-3l-4 1m41 1l2 0m14 2l-2 1m30-2l-2 5m18-4l-1 3m15-8l-2 1m93-1l-2 4m20 1l1 1m-515 3l6 2m60-4l0 2m454-2l1 2m13-2l-2 1m-558 4l1 5m47-4l1 1m6 3l4 1m35 0l-4 2m235-7l-3 1m28 1l3 2m21-1l-3 2m24-4l-1 2m92-3l-2 0m46 4l4 2m-645 3l3 2m218-2l-1 2m116-6l3 5m35-5l-2 5m175-2l-1 1m36 0l4 1m99-1l-1 2m-393 2l-1 2m21-3l3 3m54 1l2 1m60-4l0 2m258-1l-3 3m-581 4l-2 0m20-3l3 2m59 1l-5 0m54-3l1 3m105-3l-4 4m109-1l-1 4m32-6l-4 3m143-4l-3 0m-588 9l-4 1m78-4l4 2m230 2l0 2m94-4l-3 3m76-2l-2 4m67-7l2 2m-506 4l-3 0m203 2l0 3m66-1l-6 1m129-3l4 3m26-5l-5 2m67-2l5 1m7 1l4 4m-479 4l3 2m62-2l-4 4m13-7l1 2m98 1l3 4m11-3l-1 3m393-7l4 1m10 0l3 2m-582 2l-2 1m110 0l0 2m12-2l-2 1m116 0l-2 4m63-2l5 1m15-3l2 1m25-2l-3 5m15-6l-3 3m41-2l5 3m5-3l5 2m153 0l-2 1m-409 6l1 2m93-4l4 2m22 0l-2 0m303-2l-4 2m-561 5l-1 4m50-7l-4 3m56-4l1 6m27-3l1 2m197-5l-1 3m81 0l-1 4m-210 4l-2 0m231-5l2 2m33-2l-2 2m-152 5l-2 1m15 1l-1 1m88-2l-2 2m58 0l-2 1m34-1l-2 2m29-4l0 2m22-2l-4 3m19 0l5 2m13-4l-2 1m-495 6l0 5m90-3l-3 1m43-2l-2 5m226-6l-5 2m59-1l-3 3m73-7l-4 1m-466 4l-3 5m156-3l-1 3m13 1l-3 0m12-5l4 0m174 3l-2 1m98-2l-4 2m-504 6l-3 3m559-6l3 0m-446 5l-1 4m276-2l3 2m49-4l1 4m65-3l2 1m-574 4l1 2m304 3l-1 2m25-6l5 1m1-2l2 1m96 0l-5 2m104-3l-1 4m30-2l-1 1m-517 7l-3 4m43-6l1 5m43-5l5 1m31 0l-2 0m89 2l-1 5m320-7l3 0m-298 3l-3 0m19 1l2 2m90-4l-3 2m28 0l-2 0m16-2l-1 1m86 3l3 0m-452 3l6 0m67 1l3 1m97-2l-1 5m88-2l0 2m210-4l1 3m17-2l1 2m11-4l2 1m45 2l2 1m25 0l-5 2m-125-1l-4 3m19 0l-3 3m-400 0l4 2m85 3l1 3m91-7l1 1m51 1l-2 0m16 0l5 0m83-2l1 2m18-1l2 1m12-1l-3 2m94 1l-3 1m13-1l-3 0m18 0l2 3m-464-1l0 2m58-3l-1 3m80-1l3 3m35-3l-4 2m27-2l-2 1m223 0l2 0m74-2l-2 2m-318 3l-2 4m191-1l3 0m74 2l-1 4m12-6l-3 4m17-3l3 1m-522 5l1 3m52-1l-3 0m206-2l-2 2m70-5l-5 4m89-4l-3 4m-171 6l1 4m28-4l2 1m40-4l4 2m27 0l0 2m121-4l-3 3m78-1l-1 1m-395 3l-1 3m354-5l-4 3m32-2l0 3m-186 7l4 1m-226 5l0 3m47-8l-1 3m119-2l-3 1m92 3l6 1m34-4l-3 3m32-5l2 1m40 2l-1 3m30-1l-3 1m24-1l5 1m-395 1l1 6m318-3l1 4m-87 0l-2 3m17-3l2 2m98 2l1 2m-18 3l2 3m27-4l4 2m37-6l-2 1m-408 11l2 2m77-5l2 0m182-2l2 0m120 3l-4 0m18-2l-1 2m-300 7l-4 0m22-4l-1 2m102-3l2 1m101-1l-2 2m-1 5l1 3m-200 5l-2 1m64-2l2 2m115 2l4 4m1-9l-3 2m108-3l0 4m-370 4l-4 2m390 2l4 2m-352 0l1 1m145-1l-3 0m86-2l3 3m97 0l-3 1m-98 6l4 0m83 2l-1 4m-208-1l2 2m136 4l5 0m99 3l-3 2m-273 7l-1 4m85-6l2 2m66-1l3 3m119-1l2 3m-102 8l-3 3m62-5l-2 2m-166 7l0 2m106 1l-3 4m30-1l-3 1m-118 5l0 3m74-2l2 2m66 3l0 2m-145 5l-2 2m66-6l-3 0"/>
<path stroke="#707070" d="M392 1l0 2m444-2l3 0m-434 4l0 4m68-3l-2 1m65 1l4 2m283-4l-4 0m83 0l0 2m-586 1l1 2m74 2l3 1m47-2l2 2m52-3l-1 4m17-6l4 4m45 0l-3 4m172-7l-2 1m132-1l1 4m-366 7l-4 3m206-7l1 3m182-1l0 3m-466 1l3 0m121 2l0 3m29-6l-5 1m45 3l-4 4m53-3l-2 1m175-3l-1 1m30 0l-4 1m75-4l-2 0m-520 9l5 2m218-4l0 4m11-4l5 2m83-2l-4 4m147-3l2 1m-521 2l-1 4m146-2l5 3m25-5l2 5m84-5l-5 3m112 2l-3 2m30-5l1 2m44-4l-1 1m53-1l3 2m43-1l2 2m-323 4l-5 1m24-3l1 2m160 2l-3 2m87-5l3 1m-423 8l0 5m51-4l1 1m9-4l1 4m33-4l0 2m60-1l-2 3m80-4l2 1m150-3l-2 1m12 0l-3 0m33 1l-2 4m49-6l5 3m-261 8l4 2m27-5l4 1m65 0l1 6m169-8l-1 2m-359 4l-1 3m281 1l-5 3m33-3l2 2m25-2l1 2m49-3l-1 2m-490 5l-3 4m218-6l0 6m12-9l-3 1m119-1l0 2m-375 8l-5 1m195-2l0 3m31-2l-2 2m78-3l-4 1m45-1l-3 1m156 1l4 2m31-4l-5 0m-909 9l4 2m561-6l4 1m25-2l-1 4m29-3l-2 3m58 1l-3 4m162-10l3 2m15 1l2 1m-796 4l-2 2m33-4l2 4m372-2l-3 2m184 1l-2 2m233-2l1 3m23-6l2 2m-855 5l1 4m492-6l0 2m114 3l-1 3m-636-1l2 3m43-1l-3 3m354-3l-1 2m31-4l-3 3m67-4l0 3m8-3l2 2m17 1l1 2m21-2l4 0m44-3l1 4m177-5l-1 5m99-2l1 3m16-5l-6 0m-891 6l4 4m104-4l1 3m292-3l-1 4m237-4l1 3m35-1l1 2m164-3l-2 1m-792 4l1 2m14 1l-4 4m13-4l1 3m92-2l-5 3m15-3l-1 5m270-6l4 3m12-6l2 2m255 1l1 2m99-2l1 5m62-3l-5 2m-882 3l-5 1m30-1l4 2m514-7l4 2m35-1l-5 2m32 1l2 1m75-3l2 5m8-5l-5 1m118-1l1 2m42-1l3 4m-836 3l0 5m37-3l3 1m19-4l0 3m48-4l-2 3m67-2l-4 0m264 3l3 3m49-5l2 3m53-2l-1 3m47-2l-1 6m238-8l-1 5m-831 0l-3 3m29-5l-1 3m495 1l-1 4m12-5l2 2m40-5l1 2m51 2l2 4m67-6l-2 3m81-4l-4 3m11-2l4 4m-727 5l3 3m544-7l3 3m-402 3l-2 5m195-6l-3 4m45-3l0 2m120-1l-1 1m86-2l-3 0m29 1l0 2m76 0l0 2m84-2l3 1m-838 4l-1 6m84-5l2 1m321 0l0 3m100-9l-3 2m395 1l3 3m-793 5l-4 0m83 0l2 5m13-6l-1 2m16-4l-4 4m223-4l3 2m21-3l2 0m19 3l-4 1m22-4l-5 1m46-2l-3 2m34 0l-2 4m112-5l2 1m101 0l-2 0m135-2l3 1m-882 10l1 2m108-2l-1 2m100-7l-4 0m181 0l4 1m209 5l3 5m28-11l0 3m176 2l-2 0m73-1l-1 2m-808 5l-1 3m20-5l1 6m67-7l-3 1m82 1l4 0m269 0l5 1m10-3l0 3m131-1l-1 5m28-5l-2 5m-629 1l0 2m134-5l1 1m293 3l-4 2m16-2l2 5m125-6l-1 1m18 0l1 4m152-8l4 3m-696 7l-3 1m71-5l1 3m18-1l0 2m178-4l1 4m68-3l3 5m146-3l4 4m94-6l-2 0m111-2l-5 2m-788 6l1 1m23 1l-3 4m17-7l2 2m48-3l1 5m246 0l5 4m65-8l2 2m189-2l1 2m199-1l3 0m87-1l2 4m-911 1l2 1m146-1l-2 3m71-1l-2 0m73 2l-2 2m199-3l2 1m6-1l4 0m121-1l-3 3m25-2l1 4m43-5l2 1m34 1l-2 1m57-4l-4 4m75-4l-1 3m-593 4l2 3m14-4l1 5m15-4l-5 2m226-3l4 1m117 4l-2 4m200-9l-5 1m60 0l-6 0m-833 6l3 1m109-2l-1 2m13 0l1 6m55-9l-6 2m50 1l6 1m18-3l-3 3m90-2l1 4m5-5l3 2m76-2l1 3m24-2l0 2m213-2l3 2m50-1l4 2m6 0l3 2m43-3l-2 3m70-6l-5 2m-862 6l-3 2m41-5l4 2m60 2l-4 1m135-4l-3 2m65-1l1 6m124-7l0 2m-426 7l-2 1m90-3l2 1m15-1l-2 4m20 0l3 0m294-5l0 6m66-5l-2 3m16 1l-1 3m170-4l1 1m158 0l1 5m-797-2l-2 0m133 0l-6 2m25-4l4 2m13 1l0 2m32-4l-5 1m24 2l-2 1m59-2l3 0m239-2l-1 3m226-1l-3 3m-777 2l-2 6m9-5l2 3m174-4l-1 3m79-1l2 3m425-6l2 1m-662 6l-2 0m33-1l-2 0m103-1l-5 1m15 1l2 5m60-5l-4 3m89-4l0 4m107-2l-2 2m41-3l-2 1m30-2l2 1m58 2l0 2m204-5l-3 0m22-1l3 2m6-1l1 3m59-1l3 3m43-6l1 4m-829 6l-2 5m21-9l-1 3m70 1l3 1m405-5l0 2m119 1l-1 3m16-3l0 5m83-6l5 2m96-1l2 0m23 2l1 4m-805-1l0 4m71-3l-6 2m91-3l1 3m19-4l-1 2m79-2l1 2m162-3l1 2m189-2l4 1m90 2l1 2m-798 2l5 2m24-1l-2 1m84 2l0 3m222-5l-4 3m144-5l3 5m13-2l4 2m99-5l-2 3m97-1l-5 2m197-5l-2 3m25-1l-5 2m-794 4l2 1m26-4l-4 0m121 3l2 2m260-1l4 1m104-5l-4 0m96 3l-3 5m36-5l-3 4m35-3l-1 1m-755 4l0 2m15-2l1 5m113-3l2 2m41-1l0 3m128-8l-3 0m156 4l0 3m7-6l4 2m12 1l1 3m33-5l5 1m54 0l0 6m141-8l2 5m103-4l-1 3m-757 1l0 3m32 1l-5 0m66 0l-2 1m52-1l1 6m63-5l-1 2m279-3l-3 0m152-3l-3 2m15 1l0 5m175-6l0 2m-724 6l-1 4m20-7l0 3m28-1l-4 1m43-1l0 3m14-7l-2 0m39 0l6 1m1 2l-4 3m265-7l-1 2m130 3l3 1m67-6l4 0m-786 11l-1 2m93-4l-2 5m25-7l4 3m13 1l3 2m208-2l-2 2m22-6l2 4m420-1l4 2m57-2l4 2m-837 6l2 4m112-5l-2 5m20-5l-3 1m40-3l-3 5m49-2l4 5m267-5l4 1m118-7l-2 1m88 5l-1 1m119-2l-4 2m-788 3l4 2m58-3l1 2m11-4l2 2m100 0l-1 1m31-3l0 4m73-2l0 2m213-4l1 2m43-1l-2 0m88 1l-2 0m71 1l3 1m74 0l0 4m103-3l-3 2m-897 4l1 5m188-7l4 4m132-2l0 3m164-6l2 5m48-4l-5 2m300-5l3 2m-786 6l2 1m30-3l-5 3m20-4l2 5m645 0l5 3m92-4l-2 1m30 0l1 1m-652 1l2 0m28 4l-1 3m127-8l0 5m126 1l3 2m215-2l-1 5m107-5l-1 2m71-5l1 6m8-9l-2 1m-862 10l-2 1m53-2l-3 1m17 0l1 4m13-8l-2 4m19-1l0 2m110-4l-3 3m141-3l2 1m155 2l1 5m63-8l2 4m187-5l3 4m56-1l2 5m-672-3l3 5m159-2l3 2m132-3l-6 1m85 0l3 0m29-3l2 2m167-1l0 4m81-3l-3 2m20 2l-5 3m30-5l3 0m27-4l-2 0m-851 10l2 2m184-5l2 4m125 0l3 3m369-5l-4 4m15-4l4 2m-676 5l2 2m88-3l-4 4m122-5l4 2m29-4l-4 4m170-3l4 1m337 1l3 5m-657-1l3 1m296 0l1 3m4-3l0 2m60-4l0 5m61 1l-4 1m127-4l-1 3m124-1l-2 2m-830 0l-4 2m123 0l-1 3m76-6l-3 3m46 0l-2 1m325-1l1 2m58-2l-1 2m32-2l-3 3m70-2l2 1m19 1l-1 6m1-11l0 4m23-4l-2 0m12 0l3 3m-740 5l3 4m43-6l-2 6m88-7l4 3m320 0l2 5m51-3l6 1m76-3l-1 2m10 0l1 2m87-4l2 1m30-2l3 3m-689 3l5 0m182 0l2 1m15 0l-1 2m13-2l4 4m17-3l-1 2m134-4l1 5m13-3l-1 5m13-4l0 2m102-4l-2 3m19-6l-4 2m77 2l1 4m37-5l-1 2m133-2l-3 0m23 2l-5 3m-579 3l2 2m236-3l0 3m143-5l-4 2m167-2l-1 4m25 0l4 4m19-7l0 5m-652 3l5 0m105-3l-2 1m221 0l-3 0m27 0l3 5m34-6l-5 0m34 0l2 4m6 0l-3 2m62-3l5 0m131-4l5 0m-820 8l4 3m25-5l-3 4m32-1l-1 4m-17 0l3 1m67 0l0 2m27-1l-1 4m68-3l1 3m424-3l2 1m71-3l5 1m12-3l0 2m62 0l-4 0m42-2l4 4m13-5l0 3m-613 9l3 2m80-5l-1 5m278-3l-2 0m146-2l-1 3m44-3l3 2m-758 3l-3 0m13-2l1 6m142-4l-2 2m72-2l2 4m18-1l3 1m26-2l6 0m77 1l4 1m17-1l-1 4m42-6l-1 3m75-4l2 4m113-6l-3 4m34 0l-3 2m90-6l-1 1m-732 10l-4 1m41-1l1 2m34-2l1 2m22-3l-1 4m240-3l-3 4m392-3l1 1m140-7l-2 3m-857 3l2 0m256 3l-5 1m92-2l-1 5m129-4l-4 5m15-7l1 4m208-3l1 2m72 1l5 0m49-5l2 1m32 3l1 3m-699 5l1 6m292-6l-1 4m97-7l3 0m34 1l0 4m53-8l-2 0m49 2l-6 1m100-2l2 2m36 3l-3 0m53-5l2 2m-838 8l3 2m4-5l5 2m48 0l4 4m171-2l2 0m198 0l3 2m148-5l-3 3m220-5l2 3m-646 8l-2 0m97-6l-6 1m59 1l1 2m81-1l0 6m69-5l2 5m-217-1l0 3m209-3l-5 0m60 3l-5 2m13-7l0 3m18-2l2 3m44-4l4 3m5 2l2 2m17-3l0 5m16-8l-3 1m-589 6l3 0m533 0l-2 1m24 2l-2 4m-546 2l1 5m26-4l4 2m161-6l-6 2m263 1l5 1m125-5l-3 3m-497 4l-3 5m89-5l-1 2m48 0l-2 1m71 1l2 3m210-7l2 2m208 0l4 2m-726 4l-4 3m37-3l1 2m218-4l0 2m139 0l-2 2m89-1l-3 4m68-8l-4 1m45-1l3 0m42 4l-2 2m102-6l1 2m56 1l-4 1m-489 4l4 2m133-3l-4 2m71-2l-2 3m79-3l-3 1m151 0l-4 0m88-1l-5 1m-777 6l-1 2m112 0l1 2m16-2l-1 4m159-8l-1 3m34 2l1 2m24-4l-1 1m256-2l2 2m-529 3l2 3m72 1l2 0m242-5l-1 6m16-6l-5 1m64-1l-2 1m167 0l2 1m-613 5l4 1m97 0l-1 2m123 1l0 2m30-6l-5 2m93 2l2 2m15-7l-4 3m159 0l6 1m-338 6l-3 2m57-2l2 1m47-5l-6 1m210-1l-2 1m74 1l0 2m53 0l-2 0m122-1l3 5m-565 2l-6 1m-83 6l0 2m32-6l-1 3m8-4l3 4m65-4l1 2m7 2l2 4m16-5l2 3m191-4l0 3m20-4l1 5m136-4l3 0m7 3l1 1m122-6l0 3m14-3l-2 0m-497 11l-5 2m33-5l-1 5m23-2l0 3m336-5l2 3m58-2l3 5m-557-2l-2 2m379-1l5 0m80 0l3 1m164 1l3 1m10-3l-3 4m-513 3l-3 2m-134 0l-2 0m104 1l2 1m14 4l-3 1m90-5l1 5m163-4l5 2m29-2l-2 2m-351 7l0 3m99-9l4 3m18 1l-2 5m30-5l3 4m156-4l2 4m285-3l-5 1m-617 5l-2 0m21-2l-1 3m187-6l6 0m197 6l-5 3m19-8l2 1m209 4l-1 1m-652 1l3 2m25 0l4 3m304-3l0 5m63-7l2 1m10-2l0 4m-356 2l1 2m89-3l4 1m29 2l-2 0m112-1l2 3m117 1l-4 1m216-1l-2 2m-484 0l5 1m62-1l4 1m195 2l5 3m9-3l0 4m15-9l-4 2m71 0l2 4m14-4l-2 3m-482 3l-3 4m70-2l-2 5m106-6l5 2m189-2l-1 3m71 0l0 3m-423-1l-5 1m125-2l-3 4m11-5l4 4m64 1l0 5m114-4l1 4m15-4l-2 3m-294-2l2 1m14 3l-3 2m48-5l1 2m13 1l-2 1m49-5l-3 2m60-1l0 2m75-1l-1 2m99-1l-4 1m37-4l-2 1m88-1l-3 5m-520 2l-2 1m264-2l0 2m128 0l0 3m209-5l1 4m38 0l-3 0m-631 3l-2 5m35-5l2 2m196 0l1 4m151-4l3 2m-313 2l-2 3m132-4l2 2m46 1l-4 4m15-6l-4 3m78 0l4 2m55-5l-2 5m103-4l-2 2m13-3l0 2m123-1l3 1m-567 6l1 2m29-4l-3 3m48 0l4 4m21-5l-3 4m-139-1l6 1m200-1l-2 1m99-2l0 5m19-4l-2 2m23-2l2 0m23 2l-5 2m34 0l0 3m167-2l-3 1m-551 3l1 1m242-2l3 4m274-1l1 3m118-6l-2 2m-525 3l-5 3m61-1l0 6m138-7l-1 3m251-5l-4 3m-287 8l-5 2m94-3l-4 2m-344 1l3 5m210-5l1 3m30 1l-1 2m45-7l2 3m104 1l0 4m148-8l-2 3m-521 5l-2 2m54-4l1 2m31 1l-2 1m199-3l-1 5m129-2l5 1m-427 3l-2 2m31-2l-1 3m45-4l5 2m14 2l-3 4m21-6l2 2m72-2l0 2m36-2l3 3m80-2l4 3m87-6l2 5m113-7l-2 3m-520 8l1 4m56-6l3 5m43-3l4 0m248-1l1 6m-261-4l2 2m69 1l-3 3m75-6l0 2m135 2l1 2m23 0l5 1m10-1l2 2m181-4l5 1m-274 1l-3 1m54 4l1 2m-356-1l4 1m8 0l3 4m41 1l2 5m18-6l1 4m34-8l-6 0m11 3l3 1m117-4l-3 2m140 1l-5 2m26-6l2 6m172 0l2 5m45-7l4 2m-415 1l0 2m16-1l-2 0m75-2l-1 2m7 2l-1 5m46-8l-2 1m82 4l2 2m78-7l0 2m-489 4l-1 2m41 2l-2 0m101 1l2 6m13-7l-1 2m173-5l2 3m111-1l0 4m69-4l1 1m87 1l-1 2m-551 8l-2 1m204-3l2 5m88-4l2 2m30 0l0 3m20-7l-4 2m-319 5l3 2m72-2l-1 5m188-5l0 2m230-1l0 3m-486 2l1 2m54 1l-1 5m59-9l-3 2m38 0l-1 1m11-2l5 3m58-3l-3 2m56-4l-2 5m16-4l-2 3m29-2l2 1m125-2l-3 2m71 2l3 1m-576 2l5 1m13-2l3 3m81-3l1 2m14 7l-3 2m145 0l-1 4m57-9l-1 2m33 2l3 3m38-4l-1 5m28-4l5 3m156-5l1 1m-583 2l-1 1m23 0l-3 1m9 1l4 2m44-3l3 2m99-3l-1 2m111-3l4 1m205 3l3 1m-155 4l4 1m56-2l4 3m24-1l1 4m111-5l2 4m-495 2l-4 0m25-1l-3 5m22-5l-2 3m41-1l-4 1m12-5l-4 0m14 4l4 3m76-5l-3 0m25 1l2 1m48 0l-5 1m165-3l2 2m-432 5l1 2m82-3l2 5m58-1l0 3m73-8l3 4m64-3l-2 4m272 0l2 5m-543-4l-2 3m20 0l-5 1m37-1l0 2m38-4l3 4m224-1l-1 5m153-9l-2 4m-368 3l-2 5m146-1l2 4m44-5l-1 3m70-3l2 3m52-2l-4 3m-412 0l-3 2m49 1l-1 3m19-9l-3 5m14-1l-2 3m93-2l-5 1m14-2l-4 3m65-5l3 2m22 1l-1 2m64-6l1 4m24-4l1 2m94-1l0 4m-247 5l3 5m28-5l-2 3m43-4l0 4m66-7l2 1m44 4l5 4m47-7l2 4m51-2l-2 1m-461 1l-3 2m21-1l-2 3m41 1l0 5m42-6l1 5m166-9l-2 4m29-1l-1 4m20-8l-2 0m8 1l-1 5m73-5l3 0m33 3l-5 3m-373 0l-2 0m41 0l2 0m110 3l0 3m61-2l-4 2m104-1l3 3m32-3l2 4m-357 2l1 2m14-4l-4 2m71 0l-3 2m31-4l-3 2m36-2l4 4m55-5l2 5m32-5l-2 1m37-1l0 2m30 1l3 1m27-5l0 6m15-3l5 0m144 0l-4 1m-477 4l3 4m15-4l0 3m368-3l-3 4m48-2l0 2m2-7l-3 1m14-1l4 2m-473 3l0 3m89-1l-1 3m51-3l5 1m66-1l-3 3m8-1l1 6m19-7l2 3m15 0l-1 2m81-7l-1 2m98-2l-1 2m-408 5l-5 1m160 1l2 1m17 0l1 4m49-3l-2 2m39-6l1 2m150-2l3 2m-408 5l-1 4m80-5l4 2m42 0l0 2m18-5l4 3m50-3l4 4m26 0l-1 2m56-4l5 4m29-6l-4 1m24 1l-2 1m44 6l-1 1m-193 6l-4 3m24-2l-3 0m47-1l3 4m13-8l2 0m40 4l-3 3m33-3l-2 1m-118 2l1 1m81 1l-5 1m56-5l0 4m1 2l0 4m90-10l-3 1m-181 9l-3 4m124-3l0 3m-151 3l4 1m20-4l-5 2m155-2l-1 2m-119 7l-5 2m35-5l1 2m9 4l-1 4m105-5l-3 3m-175 8l2 3m177-4l-2 5m13-5l-4 3m12-3l2 2m-143 0l-3 3m17-1l-1 5m73-3l-4 3m80-7l4 2m-17 7l0 2m-70 2l1 6m-63 3l1 1m-16 0l-1 2m-23 9l-1 5m13-4l-2 2"/>
<path stroke="#7e7e7e" d="M304 1l-1 2m135-2l6 0m61 0l0 4m259-5l0 3m-383 4l3 0m72 2l2 4m155-5l2 5m13-8l1 2m58-3l2 5m139-2l2 1m21 0l-5 1m-423 3l2 1m52-3l4 2m86 0l0 4m91-4l-4 3m19-6l-1 3m48 2l0 2m21-6l-2 1m45 1l3 1m82-1l6 2m-596 5l5 0m54 1l3 1m35-3l2 2m54 0l-3 5m18-8l-1 3m55-2l-1 4m399-3l-5 0m-512 7l0 4m81-4l-2 1m11-5l-1 2m77 2l3 3m45-5l0 4m29-2l-4 1m16-5l3 0m26 3l0 3m17-6l-2 1m27-1l-4 1m34 0l2 4m27-6l2 1m14 1l-1 3m32-2l3 2m90 0l5 2m-576 1l1 5m25-5l-1 5m231-3l3 1m166 0l2 1m11-1l-2 3m137-3l-4 4m-512 0l2 3m148-3l-3 3m112-2l2 1m46-5l-4 2m120 1l-1 2m-413 6l3 3m71-8l3 1m153 5l3 0m167-4l5 1m-362 4l-2 1m78 3l1 2m240-7l2 1m13 4l2 3m80-5l-3 1m58-4l-3 1m-895 10l1 5m327-4l3 5m278-9l-4 2m20 2l-5 1m105-6l-6 2m-358 9l3 1m52-5l1 2m20-4l3 3m214-1l-4 3m30-4l2 1m63 3l-3 3m-392-2l-3 0m554 3l1 5m-878 2l4 2m93-3l0 3m207-5l2 4m102-4l-5 3m17-3l0 4m29-4l5 0m40 4l1 3m147-3l-1 1m40-3l-4 2m47-3l6 0m70 4l-2 5m-784-4l-1 2m11 0l-3 0m768-1l-4 1m55-2l-1 1m-760 7l3 2m343 1l-2 6m81-11l2 0m37-1l3 4m46 2l-3 0m50-5l-5 1m60 4l-3 5m26-5l-1 1m16-7l4 1m52 3l-3 3m21-3l-1 2m-821 3l0 2m62-2l0 2m63 0l2 0m9-5l-6 2m369 0l-1 3m46-2l1 3m31-6l-2 1m14-1l-1 2m112 3l1 4m63-8l4 2m14 0l-2 1m-686 3l-5 0m33 1l-3 0m344 3l2 1m120-4l0 5m32-3l-1 2m41-2l-5 1m72-5l1 5m20-5l-1 2m11 3l2 1m31-2l2 0m23-2l0 2m30 0l4 1m16-2l2 1m35 1l-2 5m-770-1l3 0m245 0l2 2m108-4l-1 2m84 0l-4 3m115-4l6 1m-662 6l2 1m51 0l1 5m59-7l-4 1m266 0l0 6m94-8l1 4m115-1l2 3m137-5l3 2m27-3l-5 2m125 1l3 0m-514 3l1 2m187-3l1 3m57-1l-1 3m63-5l-5 3m136-3l2 1m-760 7l1 2m48 2l1 1m15-2l-4 2m250-5l-2 3m30-4l2 5m16-1l-2 1m25-2l4 3m9-6l1 3m94 2l2 1m92-3l2 0m17-1l-4 1m42 0l5 1m121 0l1 1m-802 3l-1 3m56-1l0 3m538-4l3 2m70-5l0 2m43 1l5 2m127-6l2 0m29 2l-2 3m-909 4l2 4m228-3l-2 5m151-5l-4 3m35-4l-5 1m50 0l2 1m204 0l-3 0m102-2l1 3m12-4l-5 3m-656 6l1 2m16-3l-3 2m31-1l3 3m361-3l-1 5m68-9l-4 2m34 1l-5 0m99-2l-1 6m92-3l4 1m40-2l0 5m53-6l2 2m-800 1l-2 1m42-1l-4 2m119 4l-2 6m600-12l0 2m10 4l0 6m-829-6l2 4m74-3l-2 0m40 4l2 2m134-5l0 4m226-3l0 2m33-5l1 1m50-1l-2 3m36-2l-2 2m90-1l-1 5m21-3l-1 3m12-2l-2 3m20-4l1 3m19-2l4 4m46-7l3 2m-641 6l0 5m207-5l-3 3m32-1l3 1m48-4l-2 2m20-4l5 1m12 4l4 4m264-9l-2 6m28-6l-2 0m-814 7l1 3m125-4l3 5m47-1l0 4m54-6l3 1m16 1l2 5m142-9l3 3m62-1l-6 0m58-1l-3 4m63-1l-2 2m69-2l5 1m32-6l2 2m26 1l2 3m20-2l1 2m55-2l-3 5m72-8l0 3m36-4l3 2m-732 6l5 2m154 2l0 4m158-5l-2 2m27-7l-2 4m52 1l1 2m190-2l4 2m-648 0l-3 4m44 0l2 3m25-3l2 1m15-6l-3 4m46-1l3 3m21-5l-5 2m31-3l3 4m45 2l5 3m115-3l-1 1m196-6l2 2m79 1l5 1m63-1l-3 1m54 0l3 4m13-8l-2 5m18-1l-3 4m20-6l5 2m8-4l0 4m-558 6l-1 2m48-2l3 1m58-1l-1 2m134-2l-1 3m-170 4l3 2m10-4l0 2m102-1l-5 1m148-5l-1 2m36 2l0 3m21-3l2 5m161-5l-3 0m-763 7l-4 5m354-9l-3 4m210 0l2 4m110-6l5 1m36-4l-2 1m-743 8l-2 1m176-1l0 3m72-4l-1 3m187-1l-1 3m16-6l-4 3m137-4l0 3m36 1l2 5m18-5l-2 1m60 0l-3 1m22-4l-4 3m119-3l-3 2m-302 4l3 0m93 2l0 5m31-7l1 2m160-3l-5 3m-320 6l-5 2m30-1l-4 2m47-3l1 2m43-1l-2 0m51-1l-1 3m71-7l5 0m-345 8l4 3m437-2l2 2m-812 0l1 2m9 1l2 5m16-7l3 4m372-1l3 3m20-4l2 3m12-5l-1 5m162-2l1 1m24 1l-1 4m19-4l-1 2m58-6l-2 2m20 1l-5 3m94-3l-2 0m-756 5l-2 1m97-1l-3 0m321-2l3 5m166-1l1 5m98-8l-1 5m27-6l2 3m-842 2l1 5m528-2l-5 2m329 4l3 1m-718 5l-2 2m109-4l4 3m273 1l1 2m42-2l-3 5m145-9l-1 5m74-5l1 4m11-5l4 3m21 1l2 4m3-8l4 5m-695 2l-6 2m43 0l-3 1m460 0l0 2m56-4l-3 2m65-2l-3 2m27 0l-3 1m82-3l2 1m49-3l1 4m-911 6l4 4m626-6l2 4m37-4l1 1m176 0l6 0m26-1l-4 3m-363 6l-2 4m107-9l3 2m29 2l-1 5m95-9l-2 2m169-1l3 2m-731 2l-4 2m456 3l3 2m115-2l3 1m-733 2l-5 2m36-1l2 1m49 2l-2 1m53-5l2 1m183 2l3 0m433-1l-4 1m85-3l-2 0m15 1l-1 4m37-2l-4 3m-854 3l5 2m109-2l-1 3m498-3l1 3m171-6l2 1m-775 9l1 1m299-3l0 2m184-6l3 2m29 3l3 4m234-9l-2 1m43 2l3 0m-717 8l-1 2m125-5l3 1m70 1l-1 6m327-5l2 3m-512 4l0 3m90-7l2 4m19-5l-1 2m81 0l4 1m162 0l-4 1m59-2l2 1m84 0l6 1m102-2l-2 2m126 0l2 5m-157-3l4 2m127-2l-3 4m-864 3l2 2m7 1l-2 5m756-5l-3 4m-489-2l3 0m47 1l3 4m202-5l1 3m116-3l3 2m208 3l-2 3m24-6l2 2m-853 6l-1 3m28-3l5 1m67-6l1 2m24 4l-3 2m137-6l-3 3m277 1l-2 2m97-4l-2 3m155-6l4 2m97-2l4 4m10-5l2 2m-293 7l0 2m91-3l5 1m65 0l4 0m24-1l-1 6m-688-1l2 0m118 0l-5 1m62-2l3 2m513 4l-3 1m73-4l2 5m29-3l-3 5m-802-1l3 4m213-3l5 3m435-4l3 3m99-5l3 4m-728 2l-5 2m19 1l2 4m20-5l-4 2m699 0l1 5m14-6l3 2m-820 1l4 1m58-1l-1 2m267 0l3 3m208-5l2 2m68-2l0 2m-629 8l-2 5m97-5l0 5m40-6l-5 1m126 1l-1 5m410-9l-3 5m165-4l4 1m8-1l2 2m-816 2l4 2m12-1l2 1m9 0l-4 0m23-2l2 0m13-1l5 2m67 2l-1 5m59-8l3 1m24 3l2 1m194-2l-3 1m130-3l2 1m125-2l4 1m19 1l1 1m139-2l4 3m-721 4l-2 2m382 1l0 2m141-2l4 4m98-8l-4 3m20 0l2 1m37-1l3 2m28-1l2 2m-793 0l3 5m135-3l-4 3m334-4l-2 3m185-4l0 2m130 1l0 2m-408 2l2 1m298-2l-4 3m103 0l-1 2m-858 0l-2 0m56 1l-2 2m49-4l2 1m113 3l-5 2m62 0l1 3m205-4l1 1m187 0l3 4m30-5l3 5m-260 1l4 0m229-2l4 4m161-6l4 2m3 0l-1 3m-596 6l4 0m408-4l4 3m53-4l-1 3m178-1l-5 0m-781 8l1 2m705-3l-1 4m-737-1l2 4m238-2l-2 2m105 0l-1 4m32-6l-2 1m99-1l-1 2m323-4l3 3m-650 3l2 2m25-1l-3 0m613-2l2 3m-758 4l3 0m41 0l2 0m574-1l-2 2m38-2l0 6m-436 3l-3 2m504-3l0 2m-786 7l1 2m161-2l-4 1m408-1l4 1m54-3l2 3m34-6l-3 1m12 3l-1 5m19-9l4 2m3-1l4 4m17-3l-1 4m114-2l1 2m-822 5l2 5m284-8l-1 3m414 0l1 5m78-9l4 4m18-5l-5 1m-520 8l0 3m145-4l1 3m353-3l-3 1m-669 5l-1 4m428-3l4 2m5-1l-1 3m122-3l5 0m-586 6l1 4m201-3l2 4m35-5l-4 4m93-4l-3 1m149-1l-2 1m130 0l2 1m62-5l-4 2m-696 7l6 1m91-1l-1 2m231-3l0 3m279-1l-3 2m58-6l1 2m41 9l3 0m29-4l-1 1m-570 7l2 5m-94 7l-4 0m10 0l2 2m31-3l-3 0m253 0l-2 1m-184 7l3 0m30-1l-3 4m213-3l1 2m-270 3l0 2m502-4l4 1m-563 15l3 4m63-8l0 6m19-6l4 4m194-6l-4 2m-268 26l4 0m387 0l-5 0m22-2l-3 1m-328 6l-2 1m399-3l5 1m-427 9l6 1m8-2l2 3m-3 11l1 4m-34-2l2 2m-24 5l1 5m61-7l4 4m10 0l2 3m-42 2l2 4m29 3l0 2m61-2l-1 5m332-7l4 2m-317 4l3 5m126-2l-2 1m-164 0l3 5m-81 2l-3 0m31 0l3 2m552-2l5 1m-575 7l-3 0m40 0l0 6m110-9l-3 5m438 0l-2 0m40-3l3 4m-592 2l-3 5m395-5l-4 4m-427 5l-2 1m305-2l4 0m266 1l-5 4m-556 0l4 1m389-4l0 3m-369 7l-1 3m15-4l-6 1m31-3l-2 1m-75 6l3 4m211-6l-1 1m145 0l3 3m44-4l-3 3m-269 13l3 2m48-2l3 1m-8 2l1 3m-145 5l1 1m48-3l-2 0m45-1l2 2m34 0l1 5m-126 6l3 0m164 2l-3 2m120-4l-1 2m319-2l1 3m-581 5l2 1m158-3l-2 2m142-3l4 3m-316 9l3 2m162 4l3 1m70 3l4 3m-90-1l1 2m77 0l5 3m27-5l-4 3m-50 6l-3 1m43-2l-1 3m38-1l-3 0m-248 3l-2 2m63 0l-3 1m23-1l2 0m265-1l3 0m-143 8l-5 0m62 1l1 2m-186-1l-2 4m45-3l-3 1m79-2l-2 2m-168 8l1 4m69-5l2 3m68-6l-2 0m31 3l-2 2m26-2l-3 4m-182 2l3 0m193 1l0 5m58-6l-2 3m148-6l-1 4m-325 6l0 4m74-1l-2 0m5 3l4 0m124-3l-2 1m245-2l0 4m-429 5l-2 3m34-5l3 2m-69 6l1 3m78-6l1 1m189 3l-1 3m117-7l-3 3m35-2l-2 3m-322 11l3 0m221-3l2 2m-289 6l-3 2m44-5l-2 0m188 2l-1 1m36-2l-1 2m145-1l-1 3m-415 1l-4 3m232 0l4 3m165-5l-5 3m38 1l2 3m-150 1l-3 1m86-2l0 3m-151 2l0 4m85-1l-3 2m148-2l-2 3m-18 2l2 3m-185 6l6 1m26-4l5 2m88-4l-3 3m-73 6l2 0m114-3l0 2m14 2l2 0m-81 3l1 2m48-2l0 5m38-2l2 2m14-1l2 4m-227-3l2 5m54-2l-2 1m36-3l4 3m10-4l-1 5m50-5l-4 2m-126 8l2 1m66 4l-2 3m11-5l1 5m-21 5l-3 3"/>
<path stroke="#8c8c8c" d="M316 0l-5 2m120-1l-1 1m253-1l-1 2m-331 1l-1 3m17-1l3 1m228 0l3 1m171 0l2 2m-440 3l4 1m308-5l2 3m240-2l-3 2m34-2l3 1m-629 6l4 3m32-1l0 2m517-5l-2 5m-531 0l3 4m84 0l2 1m396-5l-3 2m-413 8l-3 2m92-1l-2 2m-142 3l-2 4m269 4l2 5m119-2l5 0m84 7l-4 3m-371 5l-3 1m360-5l2 1m-78 7l-2 4m-620 0l5 0m17 4l0 3m259-4l4 1m138-1l-5 3m273-6l1 3m-618 3l4 1m385-2l-2 1m196-2l4 1m-365 10l1 4m6-5l1 6m-60-4l5 2m70 1l-4 3m312-5l-1 2m-621 4l1 4m69-4l0 4m24-4l-1 2m24-2l2 1m177 2l3 4m82-3l-5 1m268-3l-2 1m92 2l0 4m-605 0l-1 3m157-7l-4 2m415 4l-1 6m-582-1l2 5m38-6l-5 3m239-1l-4 3m281-6l-1 2m154-1l-3 4m-764 0l-1 2m259-2l-4 3m245 0l-2 0m108-5l-2 2m-490 10l-1 3m13-5l1 3m397-4l1 1m91-2l-2 1m-580 5l4 3m109 0l-3 0m529-1l-3 1m-604 4l-2 3m275 6l0 3m43-5l1 3m220-2l6 1m161-2l-6 1m-500 6l-1 2m221 2l-4 2m16 1l-1 5m228-7l0 3m26-4l6 0m-573 9l-1 2m132-8l2 2m136 2l2 1m181-2l-1 3m-469 1l-2 0m43 0l5 1m38 1l-1 1m86-3l3 3m151-4l3 5m186-3l5 0m-407 9l0 5m345-10l-2 3m-385 7l-5 3m139-2l1 4m34-6l3 4m32-2l3 0m26-3l2 0m84-1l-3 1m14 0l1 3m-349 1l2 0m238 0l-1 4m162 2l-1 4m165-6l-4 4m-344 0l-3 4m92 5l0 5m9-8l-3 2m107-2l-4 3m107-4l-2 0m-357 8l0 2m56-1l2 3m15-4l-2 1m19-2l3 1m249-2l-3 3m-220 7l0 5m-100-2l2 3m15 0l0 2m48-4l-4 1m25-3l2 6m154-4l-5 1m53 1l1 4m51-3l-2 4m-348-3l2 4m143-4l2 0m52 0l0 2m150 6l0 4m48-2l-5 0m-333 2l-4 1m27 2l-5 0m31-1l-2 2m25-3l0 2m259 6l0 3m-55 4l2 3m-559 1l2 3m322-4l2 4m262-2l-5 3m-210 4l-3 0m22 5l0 3m-570 3l1 2m165 2l1 4m410-4l2 6m-685-1l-1 4m611-2l-3 1m64 1l1 2m201-6l-1 1m-866 9l-4 1m661 0l-3 3m18-4l2 1m-61 3l4 3m-465 12l-5 2m475-6l4 1m39 1l3 3m-2 2l2 5m-537 3l-2 2m510-2l-2 0m23 0l-4 1m-507 2l2 4m-170 5l-1 4m125-6l4 4m541-7l2 2m-369 5l6 0m370 6l2 5m28-1l-2 2m189-6l-3 2m-883 10l2 4m687-1l-2 5m205-5l-2 4m-788 2l2 1m674-3l-3 1m-591 6l5 2m481-1l-2 3m-664 0l0 3m667 4l-1 4m-9 2l-2 1m-537 16l-2 1m524 4l-1 2m253 9l4 2m-449 0l-2 0m199 3l-2 1m50-5l-2 5m27-2l3 5m-24 10l-3 0m200-4l-3 2m9-2l2 4m-312 1l5 1m116 0l-1 3m148-4l2 1m-374 6l-3 2m-304 3l-3 0m549 15l5 1m83-4l2 4m-264 3l-6 2m201 0l0 2m59-4l3 1m41 1l1 3m-68-1l-1 4m39 1l4 1m-78 1l3 5m29-1l-2 4m10-6l1 3m-491 77l-2 2m-35 10l-1 1m58 3l-3 1m339 47l-4 2m-228 53l0 5m87 19l0 3m-70 2l1 1m61-2l2 0m-27 17l2 3m165 12l6 0m27 2l-5 2m-193 2l-2 1m171-2l1 4m-187 4l3 3m-64 4l-3 4m191-1l-2 2m-47 6l-2 2m-145 1l-6 1m63-1l-2 0m28 1l4 1m181 6l2 4m-192 3l-2 1m53 10l2 4m13-8l-3 1m36 15l-1 3m316 10l-3 3m-147 32l-2 5"/>
<path stroke="#9a9a9a" d="M256 0l4 0m16 1l-5 2m37 5l4 2m-23 3l2 4m17 17l2 4m-18 1l1 3m23 1l2 2m20-2l2 2m-61 11l5 1m12-1l0 4m-271 0l-1 2m60-4l3 2m245-2l5 2m-293 4l-3 1m77 0l0 2m-37 3l2 2m101 2l-2 1m177 0l1 4m-212 0l3 0m33 1l2 5m169 1l0 3m9-7l-3 5m-165 8l0 4m74-5l1 4m14 3l-2 5m75-7l-4 4m-132 3l-2 2m15 2l-5 2m50-2l-3 3m12-6l3 4m-33 1l-2 0m-24 8l-3 0m9-2l1 2m55 2l4 3m90-3l5 0m-80 5l3 1m-79 7l2 1m30-4l-4 2m29-2l-2 5m348 3l-2 1m-327 4l2 0m73 0l-1 2m-238 4l4 0m190 2l2 3m547 3l-1 6m-554-6l-2 5m101-5l3 2m441-2l-2 4m-97 11l5 3m-172 10l-4 0m-27 3l-2 4m-13 4l-2 6m114 20l1 4m-34 12l2 1m24-3l3 1m-13 10l-2 3m157 5l3 4m-149 3l-5 2m44 55l1 4m-16 6l-2 1m11 44l1 4m212 7l2 1"/>
<path stroke="#a8a8a8" d="M146 2l4 1m129 10l-1 1m-8 10l1 2m-255 12l-1 1m27-5l-4 3m243-4l3 0m-258 7l-3 1m234 4l4 3m-229 3l5 0m29-2l4 0m197-1l-3 2m22-2l-2 2m-213 6l-2 3m-10 2l4 3m46-4l-5 3m24-4l2 5m172 5l-4 2m20-8l-1 3m-196 11l3 3m112-4l2 3m-28 5l-6 1m33-4l-3 3m43 0l-4 2m48 2l4 4m22 1l-4 2m-101 7l3 0m55 7l4 3m44-3l-1 4m17 2l5 3m-6 3l-4 0m8-1l3 1m-93 14l3 2m44 1l1 2m12-5l-2 5m14 0l-5 1m-17 6l1 2m47-4l-2 5m-18 1l0 2m9 8l1 2m10 2l-1 2m287 72l-5 2"/>
<path stroke="#b6b6b6" d="M199 -1l-4 3m15 1l-1 1m32-2l5 1m-38 4l-4 2m15 5l6 0m20 0l0 2m23-2l0 3m-13 8l2 3m-254 1l1 6m49-1l4 4m36-5l-1 4m43-3l-3 5m128-5l4 3m-216 7l3 1m-40 5l-3 0m93-2l-4 0m18-2l-5 1m14 0l-4 2m46-3l1 1m-80 6l-5 1m102 3l3 4m-44 1l-2 4m164-6l4 2m-151 2l-6 0m158 5l-1 3m-112-2l2 4m70 0l-2 2m69 2l-4 2m-38 2l0 3m10-2l-2 1m-80 6l2 0m26 0l1 3m2 1l0 5m73 12l-2 4m11 8l-3 1m34 12l1 1m14-2l1 2"/>
<path stroke="#c4c4c4" d="M236 13l-2 1m-107 4l3 2m55-2l2 3m18-1l3 0m37-1l3 1m-223 2l-3 3m49 1l-6 2m130-5l1 4m34-1l-4 3m-153 1l2 2m30-4l2 0m116 3l-4 1m-114 5l-5 1m45 0l-2 1m-122 3l-3 5m219-7l3 2m-98 9l2 4m8-9l-3 2m89 2l-1 3m-31 1l1 6m12-2l0 5m-39 1l-2 0m51 9l1 3m60-6l-3 1m-74 7l5 2m35-4l0 5m45 14l0 6m22-1l-3 1m19 12l-5 1m12 10l5 1"/>
<path stroke="#d2d2d2" d="M127 8l1 3m-53 0l-2 4m89-5l-5 3m23-2l-1 5m-174 8l-1 1m90 3l-2 0m24 4l-2 3m90 3l-1 4m-22 4l0 3m11 0l4 0m35 0l-2 1m22 8l1 3m16-3l-3 5m57 34l3 2"/>
<path stroke="#e0e0e0" d="M96 1l-5 2m-49 5l-2 2m81 2l1 2m25 0l1 2m45-6l2 0m-140 9l-1 4m29-4l3 5m67-6l-5 2m22 2l2 0m73 17l-2 2m-29 6l2 3"/>
<path stroke="#eeeeee" d="M34 7l-5 1m78-3l0 2m-45 2l-3 4m74 11l5 3m22 3l-2 1m17-1l-4 2m13 6l4 1m48 22l5 3"/>
</g>
</defs>
<path d="M60 6L120 30L175 80L230 110L290 125L350 170L464 230L464 372L350 368L255 340L168 280L120 232L66 190L105 172L158 188L186 150L166 100L122 58L72 26Z" fill="#0a5155" style="filter:blur(14px)"/>
<path d="M12 172C30 205 60 225 100 250C125 300 160 345 215 384C260 396 300 398 340 402" fill="none" stroke="#4a0850" stroke-width="34" stroke-linecap="round" style="filter:blur(9px)"/>
<path d="M3 20C5 70 6 120 12 172" fill="none" stroke="#5a0a62" stroke-width="16" style="filter:blur(6px)"/>
<path d="M0 175L15 200L35 225L74 239L99 254L109 279L124 304L139 329L164 358L193 383L223 398L263 403L302 408L332 413L352 428L362 443L387 435L411 433L440 430L464 426L464 470L0 470Z" fill="#040205"/>
<use href="#nuc1" opacity=".3" style="filter:blur(2.5px)"/>
<use href="#nuc1" style="filter:blur(.65px)"/>
<path transform="scale(.5)" fill="none" stroke="#e4e4e4" stroke-linecap="round" stroke-width="3.6" d="M646 10l0 0m-43 8l0 0m212 0l0 0m42 1l0 0m-549 15l0 0m176 3l0 0m-384 2l0 0m16 7l0 0m78 3l0 0m213 12l0 0m-302 16l0 0m-90 4l0 0m140 12l0 0m763 6l0 0m-478 12l0 0m144 33l0 0m-420 26l0 0m84 8l0 0m78 7l0 0m268 2l0 0m174-2l0 0m-608 10l0 0m116-4l0 0m64-1l0 0m-159 9l0 0m-107 4l0 0m770 0l0 0m-167 15l0 0m155 7l0 0m-111 6l0 0m-712 14l0 0m776 0l0 0m-520 15l0 0m605-2l0 0m-209 17l0 0m242 7l0 0m-819 23l0 0m162 4l0 0m74 2l0 0m102 8l0 0m-78 6l0 0m335 1l0 0m-378 18l0 0m-176 12l0 0m157-4l0 0m635 5l0 0m-674 9l0 0m-177 17l0 0m691 3l0 0m-73 8l0 0m78 2l0 0m150 3l0 0m-564 36l0 0m46 8l0 0m273 12l0 0m79 11l0 0m-218 13l0 0m-251 4l0 0m148 2l0 0m183 16l0 0m306 16l0 0m-386 17l0 0m395 3l0 0m-633 15l0 0m477-3l0 0m-541 16l0 0m605-2l0 0m-344 8l0 0m-78 22l0 0m47 0l0 0m410 18l0 0m-211 26l0 0m-360 11l0 0m551 2l0 0m-129 2l0 0m-386 31l0 0m159 29l0 0m273 0l0 0m-131 7l0 0m-34 6l0 0m262 30l0 0m-15 75l0 0" style="filter:blur(.4px)"/>
<g style="mix-blend-mode:multiply">
<path d="M60 6L120 30L175 80L230 110L290 125L350 170L464 230L464 372L350 368L255 340L168 280L120 232L66 190L105 172L158 188L186 150L166 100L122 58L72 26Z" fill="#c4ffff" style="filter:blur(12px)"/>
<path d="M12 172C30 205 60 225 100 250C125 300 160 345 215 384C260 396 300 398 340 402" fill="none" stroke="#ffccff" stroke-width="40" stroke-linecap="round" style="filter:blur(8px)"/>
</g>
<g style="mix-blend-mode:screen">
<path transform="scale(.5)" d="M437 513l0 5l0 5l2 4M714 648l1 5l2 5l3 4M390 302l0 11l-1 11l2 10M606 521l9-5l10-4l11 0M757 423l-3 4l-4 3l-4 3M512 596l10 1l11 1l10 1M423 219l0 4l1 4l2 4M488 521l2 8l6 6l6 7M722 702l4-2l4-3l4-3M428 237l0 10l-5 8l-5 8M414 306l-1 10l-3 10l-5 9M903 660l7 5l7 4l7 4M792 730l5 1l6 0l4 4M741 634l7 0l7-1l7 1M765 696l0 7l2 7l2 7M674 671l4-5l5-4l5-4M823 465l7 2l6 3l7 2M537 245l-8 6l-9 4l-10 1M373 212l6-7l7-6l7-6M657 342l9 3l10 2l10 2M677 630l8 0l8 0l8 2M592 598l-4 3l-5 1l-5-1M813 588l4 4l1 5l-1 5M455 230l-3 5l-2 6l0 6M740 548l3 6l3 7l5 5M695 474l7 4l8 1l7-4M455 407l-6 6l-6 5l-5 6M544 417l8 6l7 6l9 3M271 373l6-2l6-2l6-1M917 642l5 0l5 1l4 2M352 211l3 5l4 5l3 5M693 568l4 2l3 4l2 5M190 66l4-2l5-2l3-4M500 515l6-6l8-2l3-8M439 269l-5 8l-5 8l-8 6M408 441l2 8l4 7l3 8M822 533l7 0l7-1l6 2M763 661l0-4l0-4l1-4M476 424l2 6l-2 6l-1 6M438 525l-4 5l-4 6l-1 7M709 628l3-6l4-5l5-4M638 578l8-1l7-3l5-6M712 380l1 6l-4 5l-5 4M797 570l6 3l5 4l4 5M381 270l1 6l0 6l2 6M304 452l4 6l-1 7l-2 7M425 357l6 7l4 8l7 6M921 510l7-6l4-9l3-9M624 553l2 6l-3 6l-3 6M773 711l3 10l1 10l2 10M793 561l4 6l5 5l7 3M341 162l0 8l6 5l6 5M781 679l5-1l5 1l5-2M711 529l9 0l8 3l8 3M477 448l0 9l-2 9l-1 9M597 513l9-4l9-4l10 2M908 635l1 6l2 6l0 6M427 523l10 0l9 6l6 8M884 614l4-1l4-2l3-3M618 337l-1 5l-3 4l-5 3M519 373l-4 7l-7 4l-7-4M814 497l9-2l7-5l9-3M729 385l5-7l0-9l0-9M523 313l3 6l5 4l4 6M281 385l3 10l6 8l7 7M370 174l-6 8l-4 9l-1 10M866 731l8-4l7-5l4-8M390 251l-8 6l-4 9l-7 8M808 613l-7-8l-6-8l-8-7M797 738l4 4l5 4l5 3M752 599l2-8l1-9l-2-9M139 35l9 2l8 5l7 6M445 241l7 6l8 5l8 6M389 325l-9 1l-9-1l-8-4M426 504l4 4l4 3l4 3M427 469l-9 3l-9 1l-9-3M426 364l0 5l1 5l0 5M602 513l-2 7l-5 6l-7 4M352 545l-7 5l-8 2l-8 1M736 652l4-6l4-6l5-4M398 252l0 6l1 6l1 6M378 414l-3 3l-3 3l-2 3M611 664l7-1l7-3l5-5M554 682l10 2l10-3l9-5M711 655l-2 9l3 9l-2 9M518 424l5 9l6 8l2 10M630 678l5 5l5 5l5 5M846 577l10 0l9-3l5-8M389 267l3-9l2-9l-3-9M528 351l3 3l2 4l2 4M380 411l8 3l8-3l9-1M910 556l1 6l1 6l1 6M731 563l4-3l3-4l2-4M699 575l6-6l8-3l8-1M463 352l-1 8l-5 6l-5 7M901 733l1-10l1-10l2-10M765 708l7-4l8-3l8-3M794 459l9-2l9 0l9-2M885 672l-2 9l5 8l6 7M203 371l-7 6l-5 7l-7 6M514 673l0-4l-1-4l2-4M435 245l1-6l0-6l0-6M546 301l0 6l4 4l3 5M494 345l7 1l7 0l7 3M589 683l4 2l4 2l4 2M827 668l7 0l7 1l7 1M854 725l8 0l8-1l7-2M635 567l-2-7l0-7l-1-7M369 256l10 0l9-4l9-4M703 582l2 4l2 4l3 3M527 367l7 6l9 1l9 3M767 619l-1 5l-1 5l0 5M811 566l8 5l2 9l-4 8M374 284l5 5l6 2l6 3M624 458l9 0l9-2l9 1M660 596l3 5l2 6l1 6M587 428l4-2l2-3l2-3M770 646l1-8l5-6l7-3M177 58l1 4l0 4l-1 4M801 633l9 1l8 5l9 0M765 613l6 6l8 3l7-4M456 281l1 5l2 4l4 3M396 367l-7 3l-7 3l-7 3M701 461l3 4l5 2l5 2M380 194l-1 6l1 6l-1 6M486 509l8 1l8 1l7 2M206 83l5 0l5-2l5 2M483 395l4 3l4 3l4 3M603 477l3-7l1-8l2-7M438 370l3 3l4 3l4 2M302 451l5 3l6 0l5 3M588 590l1 10l2 10l2 10M430 429l2 5l4 4l1 6M386 544l-1-6l-1-6l-1-6M544 579l4 1l4 2l3 3M626 620l2 6l-1 6l5 3M717 639l3 3l3 3l3 3M507 546l5 4l4 5l4 4M488 509l5-2l5-2l5 0M913 577l8-5l6-7l4-8M338 201l4 9l1 10l2 10M514 675l0 7l0 7l-2 7M766 695l-2-5l-4-4l-4-4M659 551l7 5l4 8l2 9M657 568l4 1l5 0l5 0M500 592l-8 5l-7 6l-6 7M855 582l8-4l3-9l2-9M849 654l5 2l4-3l5-2M509 508l2 4l1 5l1 5M740 660l8-4l9-1l9 2M524 436l-1 7l2 7l-4 6M448 503l8 4l8 6l9 0M520 599l7 3l6 5l1 8M408 588l7 5l7 5l8 1M659 578l9 4l9 5l10 0M381 485l7-5l8-3l7-3M281 403l0 9l1 9l1 9M542 502l7 2l7-2l7-1M789 649l3 9l1 9l7 6M630 658l0 5l0 5l-1 5M392 309l-10 1l-10 0l-10 2M755 698l6 6l-1 8l2 8M343 523l10 0l8-6l2-10M717 433l0 5l0 5l1 5M499 334l3 9l8 5l6 7M321 154l-2 5l-3 4l-4 3M396 286l3 7l4 6l4 6M693 698l6 3l6 3l4 5M430 471l1 8l-2 8l-1 8M365 327l6 4l6 3l7 0M685 429l4-5l5-4l3-6M568 604l4 2l4 1l3 3M661 634l7 1l6 3l7 1M319 516l-10 3l-9 6l-3 10M505 599l9-1l9-2l9-3M427 592l-7-1l-7 0l-6-3M629 529l-3 6l-4 5l-1 7M399 519l3 5l6 2l5 3M897 484l8-3l7-5l7-5M253 79l6-3l5-5l4-6M560 478l-4 3l-3 4l-3 5M901 686l4-6l0-7l1-7M454 290l2 3l1 4l0 4M501 529l4 5l0 6l0 6M800 540l6 7l6 6l9 2M561 343l-2 8l-3 7l-4 7M495 576l0 6l-4 4l-4 4M855 556l7-5l8-2l9-1M624 651l3 9l4 8l8 4M354 351l0 9l7 5l8-3M496 548l3 7l3 7l6 5M380 587l1-5l3-4l1-5M526 490l1-5l1-5l2-4M434 328l-4 4l-5 2l-6 0M304 414l-1 6l-1 6l-4 5M471 226l-6 3l-4 6l-7 1M783 670l-1-5l0-5l-1-5M497 608l9 1l9 2l8 5M501 380l4 2l5 0l5-1M369 523l10 2l10 0l10 3M785 715l5 9l5 9l2 10M534 491l2 7l2 7l0 7M417 484l3 5l4 5l3 5M851 656l1 4l1 4l1 4M375 393l6-3l6-4l3-6M403 460l8-2l8 2l8-2M477 329l0 6l4 5l3 6M915 608l6-2l6-1l6 0M830 653l4 6l1 7l3 7M202 89l4 10l-3 10l-6 9M387 302l3 3l4 1l3 2M574 452l4 6l2 7l6 3M782 496l0-5l-1-5l0-5M549 259l5-8l7-5l5-7M704 618l7-8l7-8l6-9M699 624l9-5l7-7l6-8M785 425l4-6l3-7l1-7M838 678l0 8l-3 7l-7 4M613 633l9 4l9 4l5 8M492 269l3 6l5 5l5 4M641 536l-4 2l-4 2l-2 4M877 662l7-1l7 0l7 1M469 400l-5 0l-5 1l-5-1M863 722l5 8l-1 9l2 9M865 660l9 4l9 4l9 4M386 573l-8 6l-9 3l-8 5M423 604l1 8l-1 8l2 8M318 396l2 8l3 7l1 8M318 380l4 9l7 7l6 8M576 309l-2 4l-3 4l-1 4M919 663l8-5l8-5l6-7M324 541l4-5l5-3l6-1M812 646l8-3l8-4l8-5M740 491l1 7l1 7l4 6M755 587l-7 4l-4 7l-7 4M766 504l-6-8l-8-6l-6-7M573 686l6-8l4-10l7-8M599 584l2 6l5 4l5 3M761 489l4 9l9 4l8 6M612 357l-2 9l-3 9l-1 9M559 625l5-6l5-6l7-2M419 401l4 7l1 8l3 8M860 732l6 6l3 8l5 7M459 512l3 9l6 8l7 7M208 88l5 8l2 9l2 9M741 670l2 6l2 6l4 5M748 500l-9 5l-9 5l-8 6M627 491l2 4l2 4l0 4M689 514l6 2l6 1l6 2M427 612l3 4l3 4l5 3M264 124l5 3l4 4l5 3M327 465l-4 4l-3 4l-3 4M507 506l3-10l3-10l1-10M392 226l10-1l10-4l9-5M562 629l3-4l1-5l-2-5M694 359l5 3l2 5l3 4M767 688l5-3l5-3l3-5M456 586l3 9l0 10l-1 10M842 422l9 3l10 1l10 2M375 490l7-4l6-6l8-4M486 512l9 3l9 2l9 3M357 567l7 0l7 1l7-1M527 632l6-1l6 3l5 4M575 641l-4 6l-4 6l-1 7M551 435l1 7l-1 7l-5 5M812 403l-6-3l-3-6l-2-6M697 622l3-4l3-4l3-4M658 629l2 7l-1 7l-2 7M432 207l5 0l5 2l5 1M670 545l-4-9l-4-10l-5-9M758 720l7-2l7-1l7 1M532 414l5 8l5 8l7 6M341 444l7 7l5 8l10 2M275 406l6 0l6-1l6-1M742 507l8-6l8-5l8-5M881 540l3-5l3-4l4-4M748 469l4 10l6 9l7 8M433 440l-1 6l2 5l2 5M577 611l5 5l6 4l5 5M426 207l2 4l1 5l1 5M889 539l9-2l10-1l9 2M799 697l1-10l-5-9l-2-10M659 600l-7 7l1 10l-4 9M263 111l0 6l-3 5l-3 6M364 279l10-2l10-1l10 2M705 530l-4 8l-3 9l-4 8M481 403l4 8l2 8l6 6M512 434l-1 10l-9 5l-6 8M403 371l10 0l8 7l6 8M529 589l4 9l4 9l6 8M159 61l8 6l9 5l10 2M793 574l4-1l4-2l4-1M414 358l-4 1l-4-1l-4 1M396 453l9 1l9-1l8-3M379 456l1 7l0 7l4 6M429 348l0 10l-4 9l-4 9M517 413l4 6l5 5l3 6M460 330l5 2l6 0l6 0M213 359l0 6l2 5l4 4M554 573l-1 9l4 9l-2 9M805 634l8-7l10-4l10-2M573 521l7 5l7 5l7 5M583 288l-8 5l-5 7l-5 8M419 258l-6-3l-6-3l-7 0M452 579l0 4l1 4l3 3M592 288l3 2l4 2l1 4M420 371l1 6l-1 6l-2 6M835 457l2-5l0-5l0-5M448 506l6 6l7 5l8 3M388 500l-3 9l-3 9l-3 9M561 547l1 4l3 4l-1 4M666 667l5 4l5 3l5 3M631 525l8-1l8-1l8-4M540 558l7 3l8 1l8-1M778 658l-6 6l-6 6l-7 5M476 360l7 3l7 3l6 5M926 657l8 0l8 1l8 1M346 473l3-4l-1-5l-1-5M592 536l8 5l9 3l4 9M848 690l8-5l8-5l8-4M202 80l5 7l7 5l5 7M639 408l-2 4l-1 4l0 4M400 350l6 3l7 2l6 4M458 359l4-1l4 0l4 0M522 295l-3 7l-5 6l-2 7M308 129l-2 9l1 9l-3 9M416 405l3 7l4 6l6 4M452 451l7 2l7 2l7 3M581 532l6-1l6 0l5-4M650 652l8 3l8 4l4 7M307 521l-7 8l-10 3l-10 0M760 554l10-1l11 0l10-2M531 422l2 6l2 6l2 6M809 654l4 6l6 4l7 2M623 520l7 7l7 7l3 9M484 568l6 5l3 7l1 7M483 558l-6 8l-8 5l-6 8M793 691l3 6l0 7l3 6M907 701l5-6l3-7l4-7M309 392l9-5l9 3l5 8M354 394l3 4l1 5l-1 5M449 323l-4-1l-4 1l-4 2M417 347l-1 4l-2 4l0 4M594 591l7 3l8 0l8 0M644 504l4-3l2-4l1-5M906 733l5-1l4-2l4-3M760 480l5 4l5 3l6 2M405 355l7 2l7 1l7-1M596 459l3 6l7 2l6 2M567 512l2 3l0 4l1 4M335 191l-3 10l-9 5l-9 5M813 558l5 0l5-1l5-1M403 220l4 4l3 5l3 4M457 335l-8 0l-7-2l-8-1M253 83l1 10l4 9l8 6M603 564l6-5l6-5l6-5M297 146l6 2l6 1l5 3M451 511l3-3l4-2l4-2M837 561l5-6l6-5l7-3M190 393l-6 4l-7 3l-6 5M786 722l9 3l9 1l9 3M766 444l3 10l0 10l1 10M518 495l2 9l6 7l6 7M657 628l6 6l6 6l5 7M444 421l9 4l9 3l9-3M650 546l10 1l9 2l10 1M524 485l9 5l7 8l5 9M563 585l-4-8l2-9l6-7M434 399l2 4l2 4l3 3M534 583l5 5l7 2l7-1M923 684l9-5l10 0l10 0M525 303l6 4l5 5l6 3M693 708l0 7l2 7l5 6M420 348l5 7l8 4l3 8M604 480l-8 3l-8 3l-7 5M559 688l9 6l11-1l10 4M712 399l8-6l7-7l4-9M295 496l4 1l4 2l3 3M246 75l1 5l1 5l0 5M215 91l5 7l2 8l7 5M646 689l4 5l3 5l-1 6M568 571l-3 6l-5 4l-6 3M524 571l-4 7l-6 5l-6 5M321 370l-6-3l-6 1l-6 2M799 540l4 7l6 6l3 8M642 658l3 5l5 3l5 3M414 414l4 10l7 8l7 8M417 250l8 2l7 4l4 7M801 579l9-4l7-7l7-6M420 463l7 4l7 4l7 5M399 298l-4 5l-6 4l-2 7M459 295l-7 2l-7 0l-7 1M716 586l4-2l4-3l4-2M389 243l4-1l4 1l4 2M315 147l3-4l3-4l4-3M646 608l-2-5l-4-4l-2-5M769 692l8-3l9-2l8-3M778 405l5-2l5-1l5-1M470 307l-1 9l-2 9l-1 9M481 571l0 4l2 4l1 4M451 367l3-8l3-8l-2-8M348 453l-8 3l-7 4l-5 7M709 727l2-7l-3-7l0-8M469 403l7 8l9 5l9 6M923 563l5 4l5 4l4 5M473 287l3 3l4 2l4 1M491 255l-5-9l-5-9l-2-10M773 569l7-4l7-4l8-2M325 417l4 3l2 5l1 5M646 576l7 3l6 4l6 4M408 262l9-1l7-5l8-2M355 170l5 7l-1 9l0 9M852 649l5 0l5-2l5 1M474 438l0 9l0 9l1 9M414 474l-9 3l-8 5l-9-2M152 36l4-5l6-3l5-3M423 258l-1 5l1 5l2 5M485 485l-6 1l-5 3l-6 3M655 597l5-5l6-3l4-5M351 184l6 1l7 1l4 5M917 601l0 7l5 5l4 6M615 662l3 5l5 4l4 5M240 391l-4 7l0 8l-2 8M662 652l2 7l4 6l2 7M339 444l6-5l6-5l8-2M405 581l-1 4l-1 4l-3 3M655 673l7-4l6-4l6-5M733 714l5 2l5 2l6 0M468 406l4 9l6 7l2 9M610 681l1 5l1 5l3 4M786 678l5 0l5 2l5 0M550 556l3-4l4-3l1-5M672 678l6 0l5-2l6-1M427 246l-6 7l-5 8l-4 9M541 360l9 3l6 7l4 8M392 348l4 2l4 1l5 0M350 443l-7 6l-4 8l4 8M427 396l3 9l4 9l8 5M690 663l6 2l6 1l6 0M411 213l-2 5l-3 5l-4 4M859 537l6 0l6 1l5 3M837 633l0-4l-3-3l-3-3M916 561l5-8l5-7l2-9M794 516l4 9l2 9l1 10M278 473l5 3l5 4l6 2M911 729l10-1l10 0l9-3M567 517l4 1l4 2l4 2M844 591l5 0l5 1l5 1M585 648l5 7l6 6l4 7M459 487l4 6l5 5l3 6M476 627l-6 6l-6 7l-4 8M907 670l4 1l4 1l4 1M419 425l1 5l2 5l0 5M469 374l4 4l4 4l5 1M224 100l9 3l9 4l9 3M712 702l3 5l5 4l4 5M418 450l5 0l4 3l5 1M403 445l4 4l3 4l5 0M462 539l-3 10l-6 8l-7 7M704 616l-1-7l-2-7l-4-6M791 671l7-2l7-1l7-2M329 427l11 0l11 1l9 6M491 626l10-3l8 5l10 3M705 658l9 0l9-1l8-3M448 527l9 0l9-1l9 2M447 279l6 8l7 7l4 9M413 327l-1-5l-2-4l-2-4M719 718l9 2l9 3l10 1M889 652l10-2l9-3l7-7M514 339l10 1l9 3l10 0M650 548l0 7l0 7l2 7M887 644l6 7l6 7l8 5M292 108l-4 1l-4-1l-4 1M881 739l10-4l10 1l7 7M545 501l-4 5l-6 1l-5 3M266 126l6 8l9 4l9 5M410 241l2 6l5 4l3 6M225 96l-2 10l-3 9l-1 10M806 675l4 3l3 4l2 4M395 428l10 0l9-5l10-3M526 564l3 9l6 8l4 9M527 536l1 7l2 7l3 6M703 688l0 5l0 5l-3 4M736 601l6-3l5-5l-1-7M812 657l-3 3l-4-2l-5 0M727 454l-1-5l0-5l-1-5M713 583l8 7l6 8l3 10M672 418l4 6l4 5l1 7M489 540l10-2l10 1l8 5M800 641l5 0l5-1l5 0M633 641l8 4l7 5l8 5M551 491l9 5l10 4l10 4M860 660l6-8l4-9l4-9M562 549l7-5l9 0l8 4M316 154l1 8l-3 7l-1 8M322 171l1 7l3 7l2 7M200 76l1-10l-7-8l-5-9M886 617l6 0l6 1l6 2M371 371l3 5l4 4l5 2M410 325l-2 7l1 7l-6 5M468 544l-6-1l-6-2l-4-5M512 642l5 4l4 5l6 3M352 330l-1 7l-1 7l-2 7M418 282l-1 11l-9 6l-9 5M525 452l8 5l7 7l4 9M564 331l2-5l3-5l1-6M813 728l8 2l6 6l6 5M136 22l3 4l4 3l4 3M532 573l4-2l5 0l4 3M363 461l1 7l-2 7l0 7M801 687l5-1l5 2l5-1M723 427l6 7l7 6l8 4M570 557l5-1l4-3l5-2M751 719l8 0l6-5l7 2M220 77l-5-1l-5-1l-5 0M646 566l4-6l1-7l-5-5M514 368l-3 10l-2 10l1 10M353 482l2 6l-1 6l0 6M828 476l4 0l4 0l4 0M376 317l-3 7l-6 6l-8-2M530 378l3 4l-1 5l-1 5M481 416l-1 6l0 6l-1 6M453 480l7 8l9 5l10 3M463 392l8 6l10 2l10-3M497 323l5 0l5 1l5-2M415 248l8 2l5 7l5 7M545 652l8 5l6 8l4 9M284 117l7 5l8 3l9 0M876 611l4-6l3-6l3-6M690 633l9 3l9 3l9 3M913 673l6 6l8 3l5 7M874 602l10 2l10 3l9 5M354 393l-5 8l1 9l-2 9M600 580l9 0l7-5l6-6M614 655l-3 3l-2 4l-2 3M619 630l2 4l-1 4l0 4M488 339l1 5l2 5l2 4M729 728l3-5l3-5l5-3M832 722l7 3l8 1l8 2M389 595l8 2l8 0l8-1M783 604l7-4l5-6l1-8M284 449l5 8l7 6l7 6M343 462l6 4l6 3l4 5M406 429l6 4l6 4l2 7M738 408l4-9l7-6l9-3M769 672l8-3l9-3l6-7M398 436l5 9l7 8l5 9M234 59l1 8l-2 8l-4 7M290 384l5-9l5-8l2-10M405 457l3 4l0 5l3 4M443 344l10 1l10-3l10-4M269 369l-8 2l-7 4l-8 2M452 264l4-2l4-1l4-2M628 527l1-6l4-4l4-5M593 273l2 4l3 4l4 3M566 501l-9 3l-8 5l-9-3M535 244l4 7l4 7l6 6M323 143l1 6l-1 5l1 6M612 442l-3 7l-7 4l-4 6M832 609l6 2l5 4l1 6M760 539l5 1l5 2l4 3M719 558l5-7l0-9l-2-8M451 473l-5 7l-2 8l3 8M835 735l5-3l4-5l5-4M493 385l5 0l5 1l5-1M446 539l0 5l2 5l3 5M368 409l3 5l1 5l1 5M870 669l6-2l5-4l2-6M795 557l-7 3l-6-4l-7-2M823 622l6-1l6-2l6-2M750 736l5 5l5 6l6 4M370 577l-4 6l-6 3l-7 1M477 571l6 0l6 1l5 3M283 146l-5-6l-6-6l-7-4M663 673l1-8l6-6l7-4M724 630l7-3l7-3l6-5M297 149l-1 7l2 6l3 6M460 260l5 2l5 2l5 0M535 408l-1 10l2 10l0 10M382 485l4 8l-2 9l-2 9M540 663l6 4l1 8l-2 7M621 665l5-2l6-2l5-4M896 554l6-4l7-2l6-3M267 128l-8 4l-5 8l-2 9M307 443l6 4l6 3l6 3M658 500l-1 9l-6 7l-7 6M715 375l3 3l3 2l3 3M392 390l-5 7l-5 7l-3 8M423 616l4 1l4 2l3 3M391 451l-6-2l-7 0l-4-5M571 675l-2-9l-4-9l-4-9M826 629l10-3l10 2l11 1M452 242l3 8l3 8l5 7M696 627l8 4l9 1l9-4M470 351l3 5l3 4l1 5M714 605l1 9l-1 9l-7 6M445 398l4-2l4-1l4-1M856 663l4 1l3 3l3 3M413 502l4 8l7 6l6 7M220 71l-3 6l-4 6l-5 5M740 619l7-1l7 1l6 3M407 450l5 0l4 1l5 0M895 729l-7 7l-8 7l-10 0M876 611l8 4l7 6l9 2M690 585l2 4l2 4l1 4M368 232l2 4l3 4l2 4M379 353l1 5l-1 5l2 5M639 706l6 3l3 6l5 5M734 698l-6-5l-6-4l-2-7M388 585l5 1l4 3l4 4M529 651l7 5l6 7l9 3M530 483l-2 7l-4 7l-5 6M518 633l6 6l6 5l6 6M497 509l6 3l6 4l1 7M241 113l5 4l6 2l5 4M413 293l4 1l4 2l5 0M602 504l5 1l5 1l4 2M569 641l-3 9l-6 7l-7 6M777 722l4 1l4 0l4-1M679 627l11-1l10 2l10 4M741 664l4 4l4 4l4 4M744 366l0 9l0 9l4 8M401 351l5 2l5 0l5 0M561 292l-4 5l-3 5l-2 6M424 504l4 2l4 3l3 4M746 555l7-5l8-4l8-3M408 461l7-8l10 0l10-1M632 305l-5 8l-6 8l-6 8M408 445l-6 0l-6 0l-5-2M648 669l5 2l5 1l4 3M288 155l5-3l6-1l6 1M481 380l-7 4l-6 4l-7 3M407 457l9 4l9 1l9 2M427 456l3 6l0 7l0 7M699 637l0 11l-3 10l-4 10M585 620l-9 3l-10 0l-9-3M724 692l6-2l5-3l6-2M921 684l0 10l-6 8l-4 9M588 664l5 2l5 0l5-1M328 538l10 2l10-3l10-4M658 420l6 6l7 4l8 1M729 557l7-7l8-5l10-1M331 178l3 6l2 6l5 4M721 523l6 3l6 3l6 2M426 488l2 6l-2 6l-5 4M553 671l4 2l4 0l4-2M514 596l11 0l10-2l11 1M490 555l9 2l8-6l8-5M482 538l1 5l2 5l4 3M463 409l0 7l0 7l-2 7M613 690l6-1l5-3l6 1M364 268l10 2l9 3l9 4M550 588l4-3l5-1l4-2M465 238l-3 4l-3 4l-4 3M583 285l1 8l2 8l4 8M510 534l6 4l5 5l6 4M732 437l-1 5l-2 5l0 5M864 659l9 4l9 4l8 5M468 480l5 2l5 2l4 4M580 545l-3 8l-4 8l-3 8M686 550l7-7l10 0l9 5M505 555l-1 7l-5 5l-3 7M358 465l4 3l4 4l5 3M723 464l3 5l4 3l4 3M802 669l5 9l6 9l6 8M551 445l2 4l1 4l-1 4M743 635l0-8l-3-7l0-8M423 306l5 4l2 6l4 4M857 708l4 3l5 3l5 2M749 470l2 5l3 4l2 4M455 414l10-1l10-1l9-4M290 392l-1 9l2 9l1 9M731 405l3 6l4 5l4 5M790 428l6-6l5-7l6-6M353 511l7-1l6 5l5 5M764 647l2 7l-2 7l2 7M354 400l-4 6l-7 3l-7 2M243 86l2 5l3 4l2 5M424 303l-1 4l-1 4l-2 4M728 707l9-3l8-3l9-2M371 232l2 5l1 5l-2 5M662 657l6 8l0 10l-6 8M804 617l9 2l8 5l8 5M905 457l10 5l10 3l11 0M902 736l-7 3l-7-2l-8 0M359 263l1 7l0 7l2 7M191 47l3-2l3-3l4-2M858 696l10-2l10-1l9-4M574 326l4 8l3 8l7 6M793 714l5 1l5 0l5 1M491 574l3 6l2 6l6 3M747 676l7 4l7 3l7 3M619 594l10 2l10 3l9 4M890 718l0 5l-1 4l1 5M606 672l8-5l7-7l6-7M765 524l3 4l1 5l1 5M815 590l7 1l6 2l6 3M592 454l4 2l4 2l4 2M895 460l3-3l2-4l4-3M460 317l0 9l-1 9l-1 9M795 600l5 1l5-1l3-5M503 372l8 4l9 1l6 6M574 342l1-10l7-8l3-10M333 184l2 5l2 5l0 5M363 513l-3 6l0 7l-1 7M482 395l-1 5l0 5l2 5M215 60l2-6l2-6l0-6M763 578l4-2l2-4l3-4M536 635l-4 8l-5 7l-6 6M601 525l6 1l6 2l4 4M916 577l8 3l7 4l2 8M557 616l9-2l10 1l10-1M591 276l5 1l5 2l4 4M743 553l5 2l5 2l6 1M716 387l-2-8l-5-7l-5-7M527 587l-2 6l-1 6l2 6M468 587l6 3l5 5l7 1M687 484l0 9l1 9l-4 9M819 685l-4 8l-6 6l-9 2M312 415l-3 5l-5 3l-5 3M538 561l9 2l9 1l9-2M370 467l0-9l-2-9l2-9M867 705l6-1l6-1l6 1M903 578l8-1l7-4l7-3M499 253l-5 0l-4-2l-4-2M471 430l4 1l4 2l4 1M507 573l0 9l-4 8l-4 8M599 530l9-3l4-8l3-9M764 726l-1 8l3 7l2 8M488 596l10 2l10-2l5-9M408 468l-6-8l-5-9l-3-10M665 682l4 4l2 6l2 5M403 235l-6 4l-4 6l-6 4M375 405l6-7l7-5l8-4M473 549l6 4l7 3l4 6M461 434l-2 5l0 6l-1 6M461 272l3 4l4 3l5 2M607 552l-8 3l-8-2l-5-7M477 522l0 4l0 4l-1 4M315 511l0 5l-1 5l-1 5M604 457l-1 5l-3 4l-3 3M456 411l-6 7l-7 6l-9 2M873 671l-1 10l-2 10l2 10M761 579l0 10l-4 9l-4 9M159 59l1-4l2-4l3-3M507 360l0-5l-4-4l-3-4M806 726l5 2l6 0l6-1M874 617l7 2l7 2l5 5M494 500l-3 8l-6 6l-7 5M485 436l5-1l5 2l5-2M424 495l-8-2l-6-5l-7-4M688 441l4-4l5-3l4-5M449 638l7 6l6 7l3 9M420 218l-2 4l-2 5l-2 5M548 449l3 5l4 5l4 5M402 358l4 8l7 5l8-3M682 689l8 0l7 2l7 2M603 341l6 2l5 3l4 4M369 391l-1 8l-4 7l-2 8M369 260l-4-1l-5 0l-5 0M238 437l-5 7l-5 7l-8 3M342 383l3 7l4 6l5 5M917 700l4 5l2 6l-1 6M369 345l6-3l7-2l7-1M743 391l2 10l8 5l7 7M577 561l5-3l6-3l6 0M568 687l-4 5l-5 4l-4 5M734 676l5-1l5-2l5-1M302 162l-5-3l-4-4l-4-5M856 663l10-1l7-8l4-9M332 544l-2 6l-5 4l-6 1M495 490l6 0l6-1l5-3M457 601l4 0l4 0l4 2M849 594l7-8l3-10l7-8M312 452l4 0l4 1l4 2M364 402l2 4l2 4l1 4M465 456l4 1l4 1l4 0M900 548l9-5l8-7l8-6M536 302l0 4l2 4l3 4M712 696l-8 3l-7 4l-4 7M850 712l7 1l5-5l4-6M395 386l-2 10l-1 10l-3 10M778 464l4 5l4 5l4 5M751 689l2 10l2 10l4 9M452 476l1 8l2 7l6 5M480 542l-5 5l-5 4l-3 6M874 595l3-3l3-4l4-3M555 247l-4 4l-4 5l-4 5M501 352l0 4l0 4l-1 4M507 464l-4 3l-4 3l-4 3M853 718l-7 2l-7-1l-7-2M469 529l-4 3l-1 5l-2 4M351 364l-1 5l-1 5l2 5M509 404l4 1l4-1l3-2M832 425l7 0l6 1l7 1M877 446l5-1l5 2l5 3M524 379l-1 8l-2 8l-3 7M376 190l-1-5l0-5l0-5M629 651l6-4l7 2l8 0M838 493l6-3l6 0l6 0M896 551l5 2l5 2l6-1M773 694l8 4l7 5l0 8M620 538l2 8l-3 8l-2 8M696 709l1 6l1 6l2 5M454 464l-3 2l-2 3l-1 4M746 685l4 2l4 2l4 2M796 493l-2 3l-2 3l-3 2M521 581l-5 6l-4 7l-7 4M739 550l-3 4l-2 4l2 4M609 501l7-5l6-6l4-7M717 730l8-3l7-6l8-4M570 520l5 2l4 4l5 3M490 619l5 9l5 9l7 8M416 218l-2 6l-5 4l-5 4M577 251l9 1l9 0l9 1M581 653l9-4l9-4l9-3M500 478l-3 10l-2 10l0 10M306 381l9 0l9 0l8-4M500 631l3 4l3 4l2 5M636 293l-1 5l-1 5l0 5M401 360l6 4l4 6l5 5M228 79l6 2l5 4l5 3M282 377l10-1l10-1l10 1M649 595l0 8l-1 8l-3 8M410 480l6-2l6-2l5-4M448 446l-3 4l-4 2l-5 2M340 435l4 5l5 4l5 4M628 691l8-5l8-6l7-7M483 318l-5 4l-4 4l-4 4M405 471l3 2l4-1l3 3M451 614l8 5l7 7l9 5M571 633l2 5l0 5l1 5M643 709l-3 10l0 10l0 10M391 585l10-3l9-4l8-6M611 608l9 0l8 3l8 3M428 217l1 5l0 5l0 5M719 382l3 5l4 4l5 3M377 550l1 5l2 5l3 4M440 277l5 3l4 4l0 5M819 661l1-7l2-7l1-7M769 689l6-5l7-5l8-3M292 386l6-3l5-5l3-6M541 580l8-3l7-4l8-2M737 659l5 1l5 1l5 2M438 546l6 8l9 5l7 7M484 285l-5 7l-7 4l-4 7M891 695l-4-7l0-8l3-7M276 444l2 5l0 6l3 5M485 358l1 6l1 6l-2 6M408 201l-1 8l-1 8l-3 7M430 563l-5 5l-4 6l-3 7M381 227l-4 6l-4 6l-2 7M582 548l2 9l3 8l7 6M224 89l5 8l0 10l-1 10M578 405l3 8l3 8l5 7M668 419l4-7l9-2l5-7M535 424l7-2l5-6l6-5M593 671l4-3l5-1l5 1M757 639l-3-9l-3-9l-5-7M643 658l1 4l2 4l3 3M491 453l7 3l8 1l8 1M419 431l6 6l3 8l2 8M569 556l6 8l6 9l6 8M407 267l2 4l0 5l-2 5M601 412l4 3l4 3l2 5M498 431l2 4l3 3l4 1M232 106l-1 7l0 7l-3 7M817 608l6-3l6-3l6 0M360 386l9-3l9-2l9 1M562 677l3 3l4 0l4 1M563 495l9 3l6 8l6 8M360 397l-4 3l-5-1l-5-1M754 544l-1 7l0 7l0 7M587 624l4-1l4 0l4 0M473 339l-4 8l-1 9l-2 8M458 265l4-1l4-1l4-1M249 98l6 8l9 4l10 3M165 47l10 3l8 7l10 3M524 581l-2 4l-4 3l-5 1M559 284l-1 7l3 7l4 6M618 706l3 3l3 3l1 4M395 292l5 0l5 0l5-1M391 569l2 9l5 8l4 9M691 678l2 4l4 2l4 1M756 677l0 4l0 4l0 4M511 581l6 6l8 2l8 2M145 52l10 2l10 3l10 1M656 664l4-4l0-5l3-4M670 572l8 3l9 2l9 0M681 516l8 5l4 8l6 7M904 684l6 1l4 4l5 4M864 653l-2-5l-3-4l-3-4M732 677l5-1l3-3l5-2M480 657l4-7l6-5l6-6M328 173l8-5l9-3l9-3M437 353l5-2l3-5l4-4M577 454l0 6l-2 6l-5 4M386 286l0 5l-1 5l-2 4M741 615l9-4l9-5l9-3M554 624l-3 10l-3 10l1 10M768 417l-4-8l3-8l4-7M578 633l6-5l5-7l5-7M449 447l1 6l4 4l5 3M831 694l-2-6l1-7l0-7M629 668l7 2l8 1l7 2M278 111l10 3l10-1l10 1M909 588l1-9l-3-9l2-9M768 710l4-7l2-8l4-8M202 66l5 4l4 4l4 5M878 606l-5-9l4-9l5-8M385 320l4-5l4-5l4-5M529 610l4 5l4 5l1 6M232 67l5 7l4 7l8 2M597 598l2 7l3 6l1 7M533 634l4-7l4-7l4-7M525 635l1 7l4 6l5 5M862 601l-4 6l-7 4l-3 7M512 638l8-4l7-5l7-5M690 568l1 7l2 7l-1 7M398 461l9 3l10 1l10 1M661 633l8 4l9 2l7 5M338 401l6 3l3 7l6 4M577 670l5-4l4-6l4-6M366 338l6-4l7-1l7 0M598 522l0-9l3-8l5-7M486 355l4 4l1 5l2 5M548 421l2-9l-1-9l-3-9M754 668l5-8l7-7l7-7M875 599l3-4l3-4l2-4M732 377l-1 5l-1 5l-2 5M559 301l3 4l3 4l3 4M429 589l4 3l3 4l3 4M452 537l0 5l3 4l4 4M538 542l2 5l3 4l3 5M376 201l4 7l5 6l6 4M666 662l2 7l4 5l5 5M438 446l8 6l6 9l7 8M557 352l6 2l2 6l3 5M531 610l2 5l4 3l4 4M461 397l4-1l4 0l4-1M837 616l5 6l6 4l6 5M439 541l8 5l10-1l9-4M739 370l1 9l-5 8l-4 8M585 424l7 3l7 2l6 4M411 571l6 1l6 0l3 5M713 556l0 6l2 6l0 6M513 438l-4 9l-8 6l-4 9M762 696l9 5l10 0l10 2M570 495l1-6l3-5l3-5M814 627l9-6l10-2l10-1M429 390l7 2l7-1l6 4M736 655l3-3l4-3l4-2M163 62l6 5l5 6l5 6M862 500l-4-3l-3-4l-3-4M367 580l1 4l1 4l1 4M565 528l3 2l4 2l3 2M705 610l3 5l3 5l5 3M263 110l-4 5l-4 5l-4 5M572 341l-5-1l-5-1l-4-3M840 702l5 7l8 4l8 4M424 363l8 4l5 7l6 6M248 82l-9-1l-9-1l-8 4M824 558l8 0l7 2l6 4M322 461l0-9l4-9l-1-9M651 630l1 5l-1 5l1 5M825 683l-1 10l-4 10l-5 9M893 586l5-2l6 0l6-1M919 657l4-4l4-3l4-4M208 438l2 6l3 6l6 2M651 694l3 7l2 7l3 6M375 489l4 1l4 1l4-1M482 641l-1 6l-2 6l-4 5M631 317l-2 7l-2 7l0 7M715 627l5 4l5 3l6 2M827 656l-1 7l-2 7l-2 7M384 353l-2 8l5 7l7 3M824 732l9 1l8 5l9-1M475 297l-6-4l-5-6l-4-7M750 488l6 7l4 8l2 9M449 398l4-1l4-2l4-1M459 367l-1 5l-2 5l-1 5M420 544l10 0l10-2l10-3M778 472l7 6l9 3l10 1M486 545l6 5l4 7l3 8M343 179l-9 4l-10 1l-10-1M426 205l-2 4l-3 3l-3 3M343 470l4 2l4 0l4 1M612 648l1 6l4 5l5 4M344 220l4 0l4 1l4-1M337 181l2 8l5 7l7 4M433 316l5 4l2 6l-1 7M434 393l1 10l-1 10l-3 9M456 578l6 3l7 3l6 4M495 494l-7 7l-9 4l-9 5M381 296l9-4l10 1l9 2M139 41l6-2l5-3l5-3M670 602l8-3l8-5l7-5M459 458l0 9l-5 8l-4 8M816 732l-2 5l-1 6l0 6M679 664l5 3l6 2l5 4M565 617l5 2l5 2l5 2M697 710l10 2l10 2l10 2M854 738l4 1l2 3l4 2M542 610l-3 4l-4 1l-4 1M438 263l0 10l-5 9l-3 10M510 366l5 1l4 3l5 2M429 479l6 7l5 7l6 6M434 422l-2-7l-6-5l-6-5M507 376l4-4l4-4l4-4M422 347l5-3l5-2l2-5M803 718l8-5l10-2l9-3M900 497l7 6l5 8l4 9M676 344l3 3l4 2l3 3M542 462l3 3l2 4l1 4M577 638l-1 5l0 5l1 5M865 693l-6-5l-5-6l-6-4M544 616l4-4l4-3l5-1M546 671l7 7l8 6l8 5M391 463l1 9l1 9l2 9M457 428l4 1l4-1l4 1M243 93l-4 7l-3 8l-1 8M794 639l2 5l3 5l2 5M865 655l9-5l10 2l10-2M658 702l4 8l-1 9l0 9M600 448l8 6l8 5l10 0M749 645l-2-10l-1-10l-6-9M853 609l4-6l3-6l3-6M857 694l4-4l5 0l5 2M374 448l9 3l6 7l5 8M366 549l3 4l4 2l5 1M568 343l2 9l4 8l5 8M807 698l7 1l7-1l7-2M278 101l5-2l5-3l5-3M891 663l4 1l4 0l4 0M197 47l7 3l6 4l4 6M398 416l4 8l-1 9l-2 9M696 658l3 8l2 9l4 8M742 702l-9-3l-9-2l-10 0M552 682l8-5l6-7l6-8M915 659l9 0l9-2l9 1M691 430l2 8l4 8l4 8M454 377l1-8l0-8l-1-8M913 641l1 7l3 6l2 7M442 273l3 8l1 9l-2 9M720 396l3 7l3 7l1 7M815 738l5 3l4 3l2 5M660 696l-5 7l-8 4l-7 5M610 578l3 6l6 3l6 2M833 740l10 4l10 4l8 7M646 692l-1 8l1 8l-1 8M208 81l7 0l6 4l3 6M563 355l-4 6l-1 7l-4 6M167 58l3-3l1-4l3-3M537 445l-1 6l-1 6l-1 6M661 551l-5-7l1-9l-1-9M600 590l5 2l5 1l5 3M667 637l4-3l3-4l1-5M470 610l4-5l3-6l2-6M619 606l6-3l5-5l6-3M420 298l7 2l7 2l7 3M916 530l-5-7l-6-7l-2-9M568 442l0 5l3 4l1 5M576 508l0 6l1 6l-1 6M392 262l6 1l5 2l6 1M569 257l1 4l1 4l1 4M908 718l2 7l6 4l6 4M667 337l-3 6l-5 4l-6-1M472 435l2 10l2 10l0 11M794 710l7 7l10 2l10 0M500 344l-9-1l-9 0l-9-2M691 641l7-1l7 1l7 3M868 737l9-4l10 1l8 6M470 438l0 4l-1 4l-1 4M837 670l2-6l4-5l0-6M304 126l4-5l4-5l5-4M757 630l3-5l1-5l4-4M363 466l8 0l7 5l8 0M594 580l-3-9l-2-9l-1-9M499 619l2-9l3-8l2-9M366 258l-5 0l-5-1l-5-1M670 648l5 2l5 2l5 0M589 523l6 2l6-1l6 1M427 371l2 8l2 8l1 8M662 579l9 0l8-1l9 0M465 420l-9 0l-8 4l-9 1M299 385l6 5l5 6l3 7M535 641l3 3l2 3l2 4M836 531l1 4l2 3l2 3M481 552l4 6l5 5l5 5M367 320l7 3l8 2l7 4M561 672l5 7l7 6l4 8M384 495l1 5l-1 5l0 5M419 433l-9-4l-9-3l-9 2M382 267l7 0l7 0l7-2M748 454l6 3l2 7l0 7M592 481l10 0l8 7l4 9M525 676l7-1l7-2l7-3M577 592l-5-1l-4-2l-4-3M894 661l4-1l4-1l4 0M308 374l0 5l-2 4l-4 2M150 33l4 6l6 4l7 2M712 506l9 4l9 4l9 2M416 309l-3 6l-1 7l1 7M327 143l8 0l7-2l8-1M388 412l2 6l4 5l2 6M257 86l8 3l8 3l9 2M721 544l4 5l6 2l6 0M232 93l8 0l7-4l8-3M648 696l10-4l8-6l7-8M863 626l5 7l2 9l1 9M527 492l3-4l2-5l0-5M698 718l0 5l-1 5l-2 5M512 532l-4 5l-4 6l-4 5M618 603l5 3l5 3l6-1M847 506l7 5l6 6l7 5M758 645l4-1l3-3l4-1M834 697l7 2l7 0l7 0M521 327l3 5l5 1l4 4M739 644l7 7l9 5l9 6M505 317l-3 7l-2 7l-2 7M886 724l5-9l9-4l10 2M284 425l7 7l10-1l10 0M525 592l9-4l8 5l4 9M717 582l9 2l9 2l9 2M775 703l6-1l5-4l5-3M762 426l8 0l8 2l8-1M788 528l3 3l2 3l1 4M258 438l-8 6l-9 4l-10 3M663 626l4 4l3 4l4 4M529 612l5-2l6 1l6-1M640 682l1 10l0 11l-2 10M602 636l3 3l1 4l-1 4M252 438l6-6l4-8l0-8M920 609l1 10l3 10l0 10M728 475l4-2l4-3l5 0M743 562l8-7l4-10l-4-10M313 162l0 8l-4 7l-4 7M316 424l6 1l6 2l6 3M400 446l2 7l4 6l4 6M353 239l-3 6l-2 6l-1 6M278 462l-2 3l-2 3l-3 3M470 471l5-3l5 0l5 1M719 534l6 1l6 0l5 4M592 506l8-4l8-3l8-1M459 449l-5 2l-5-1l-5-1M866 627l8 2l8-1l7-5M458 469l4 3l5 1l5 2M698 730l5-2l5-1l6 0M384 561l6-3l4-5l1-6M816 603l10 2l10-1l10-2M410 310l-5 0l-5 1l-5 1M837 665l5-2l5-1l5-1M688 403l-3 5l-1 6l-4 5M680 424l9 2l8 5l7 6M638 661l3 3l3 3l3 3M330 191l-5 8l-2 9l-3 9M445 216l7-3l7-2l8-2M604 459l-9-1l-9-1l-9 0M394 414l0 4l2 3l3 3M924 662l7 8l8 6l2 10M492 587l-5 2l-2 5l1 5M826 645l6-7l6-7l8-5M322 154l6 3l7 0l6-3M873 504l1-6l-1-7l-2-6M445 220l0 7l-2 7l0 7M382 185l-6-5l-4-8l0-8M668 533l2 3l2 4l3 2M699 610l-6 5l-5 5l-5 6M334 394l7 7l8 5l9 4M512 576l3 6l1 6l5 5M289 376l-1-4l-1-4l0-4M615 574l-1 7l-3 6l-2 7M700 620l1 4l2 4l1 5M621 658l0 9l3 9l2 9M492 616l6 0l5 4l4 4M633 628l4-3l2-5l5-2M538 427l1 6l2 5l-2 5M538 523l6 3l6 2l5 4M353 394l-3 7l-5 6l-3 7M542 564l0 8l-3 8l-5 7M915 644l7-6l8-5l8-6M552 497l8-1l8 2l7 4M889 624l8 2l6 6l8 2M421 458l5 4l4 5l4 5M297 415l3 10l0 10l0 10M687 334l2 5l1 5l2 5M610 579l7 1l7-1l7-1M546 622l-1 10l0 10l0 10M310 475l7 7l4 9l4 9M819 568l6 5l3 8l0 8M549 290l6 6l7 5l6 5M507 641l1 6l-2 6l0 6M498 629l9-5l8-6l10-4M397 200l1 8l0 9l2 8M629 501l6 0l5 2l5 2M773 641l3 3l4 2l4 2M548 638l9-3l7-6l7-6M408 246l2 9l1 9l-1 9M649 642l6-2l6-2l6-2M629 426l1 4l0 4l-2 4M570 407l8 1l7 4l7 4M639 302l-2 4l-4 3l-4 2M855 607l4 6l2 7l3 7M459 543l4 8l4 8l2 9M747 411l7 0l7 1l7-3M518 601l-2 7l-3 6l2 6M518 502l-2 9l1 9l2 9M892 718l5-7l7-4l7-4M906 646l9 5l10 2l10 2M613 511l4 5l5 4l5 3M716 698l3 6l5 4l3 6M298 443l-8 5l-10 1l-10 1M324 188l6-7l4-8l1-9M519 349l3 4l5 3l5 2M427 514l-6 0l-5-3l-6-1M280 102l-3 4l-3 4l-1 4M279 385l4 2l4 3l3 4M539 291l4 5l5 4l6 3M273 99l-3 8l-4 7l3 8M749 394l1 5l2 4l2 5M390 504l-8 0l-8 1l-8 2M473 524l4-5l1-6l0-6M402 223l-1 7l-1 7l-1 7M453 239l2 5l3 4l3 4M394 580l7-2l6-3l5-5M396 491l-4 4l-4 5l-4 5M867 648l5 4l4 5l6 2M795 567l6 7l6 7l9 2M323 153l0 6l-2 6l-2 6M432 575l-4-4l-4-4l-5-3M603 625l5-3l5-4l5-3M230 96l4 8l5 7l3 8M177 59l-1 8l1 8l-2 8M405 517l5 1l5-2l4-3M842 642l1 4l-1 4l-1 4M694 704l10-4l10-2l10 1M578 447l3 9l5 8l5 8M800 589l8 2l8-2l8-1M173 35l8 5l9 3l7 7M276 408l-1 9l1 9l-6 7M350 199l7 6l8 5l9 2M869 655l4 6l2 6l3 6M469 503l8 7l7 7l8 6M158 383l-2 10l-2 10l5 9M512 484l4 2l4 2l3 3M483 543l-1 7l0 7l-3 6M674 663l7 6l6 7l4 9M853 522l6 0l5-1l5-3M574 684l2 5l-2 5l-2 5M733 714l-2-6l1-6l3-5M622 499l5-1l4-2l4-3M333 385l0 8l-1 8l3 8M577 625l1 4l-1 4l0 4M660 667l-5-3l-4-5l-1-6M491 599l7 0l6 4l6 3M843 660l-5 5l-5 5l-7 2M487 623l-5 8l-6 7l-5 8M385 318l4 6l1 7l6 4M595 519l5 6l4 7l6 5M575 553l5-4l4-5l-2-6M369 455l4-3l2-4l0-5M399 509l3 7l5 6l3 7M816 623l6-1l6-3l6-2M540 403l10-4l10-5l11 1M539 490l6 2l6 2l6 2M548 483l10 0l9-3l8-5M736 632l9 0l9-3l8-4M487 462l3 7l2 7l4 6M656 656l-1-9l0-9l1-9M763 676l3-4l4-4l-1-5M226 97l3 7l5 5l3 7M201 368l2 5l2 5l1 6M499 478l1 7l2 7l-1 7M522 466l-6 4l-3 6l-5 5M560 585l0 6l-1 6l5 4M734 409l8-2l7-3l6-5M482 631l-3 9l-4 8l-1 9M382 346l3 6l1 6l-1 6M411 357l6-2l4-5l1-6M543 282l2 6l3 5l4 4M432 214l1 4l0 4l-1 4M397 484l1 4l1 5l1 5M368 395l-7 0l-7-1l-7 0M730 647l5-3l6-2l6 0M181 39l4 3l3 4l5 0M752 644l3 6l1 7l3 6M477 392l7 6l7 6l8 4M864 660l0-8l3-7l5-6M335 510l7 2l7-1l6 3M398 199l5 1l4-2l4-4M311 382l-3 5l-5 3l-5 3M402 439l-7 2l-7 1l-5 5M411 416l3 4l5 2l5 1M264 90l2 4l2 4l3 4M392 244l5-2l6 0l5-3M521 409l-2 9l3 9l-1 9M791 611l7-5l3-8l2-8M374 474l3-6l0-6l-5-5M920 462l10-1l10-1l9-4M397 287l1 4l2 4l2 4M755 528l0 10l0 10l0 10M731 634l5 5l2 7l3 6M456 599l-2 10l3 10l4 9M902 737l-10 1l-9-3l-9-2M661 619l5 2l5 3l5 3M278 424l6 9l9 5l10 4M558 685l-2 5l-1 5l-3 5M861 700l4 8l6 8l9 3M474 460l1 7l3 7l-2 7M863 709l-4 2l-5 0l-5-1M170 50l2 6l4 5l4 4M511 398l-7-3l-7-3l-7-3M682 356l0 9l1 9l2 9M437 541l1 6l1 6l0 6M541 577l3 3l3 3l2 4M624 525l4 6l7 4l7 3M882 702l4 6l5 6l6 4M725 507l4 2l4 2l4 2M376 376l10 1l7-7l9-4M906 511l5 0l5-1l5 1M517 599l7-4l8-3l8-1M828 608l4 5l3 5l4 5M479 509l-1 7l-6 5l-5 5M336 156l-3 9l-1 10l0 10M744 402l-2 9l-1 10l1 10M597 452l6 4l5 5l2 7M501 481l-1 5l3 4l2 5M367 281l-2 8l-2 8l3 8M461 441l8 7l5 9l10 1M770 641l2-6l6-3l6-2M824 657l4 9l2 10l4 9M562 501l-3 7l-5 6l-6 6M357 546l10 1l9-4l10-1M909 680l5 1l5 2l5 0M874 648l4-8l3-9l-3-9M396 338l-11 1l-10-2l-10 3M455 521l-5 0l-5 0l-4 2M216 98l2 8l0 9l-1 9M913 719l5-3l5-3l2-5M534 450l5 1l5 0l5 0M372 293l-1 7l-2 7l-3 7M323 417l1 4l0 4l-2 4M593 640l-5-8l-5-8l-2-9M579 540l2 3l4 1l4-1M671 595l6 2l5 4l6 3M777 695l4-6l3-6l5-4M486 236l4-3l4-4l4-3M505 543l6-2l6-2l6-3M708 399l2 10l-4 9l-8 6M724 677l5-8l7-7l9-3M257 78l9-3l9-3l10-2M633 532l-7 1l-6-1l-5-4M422 557l1 9l5 7l4 8M799 474l9 3l9 4l10-1M837 713l5-2l6-1l5-2M458 363l0 10l1 10l2 10M432 282l3 4l4 3l3 4M399 306l-3 7l-2 8l-2 8M682 494l6-5l5-6l3-7M626 641l6-9l9-6l9-6M836 719l2-9l3-9l7-6M464 464l3 3l4 2l4 1M322 153l4 6l6 5l7 4M323 170l-2 5l-2 5l-2 5M463 222l9 1l9-1l10 0M454 322l7-3l8-1l6-5M573 621l-3 6l-5 4l-2 6M845 703l6-4l6-3l7-2M634 662l8 0l8 2l8 0M515 477l3-5l3-5l1-5M675 633l-3 7l0 8l0 8M384 249l3 5l2 5l1 6M454 486l0 6l-2 5l2 5M333 405l-3 3l-4 2l-4 1M548 603l4-6l1-7l-3-6M571 619l4 9l6 9l3 10M610 547l8 4l8 5l7 7M578 469l5 1l6 0l5-2M271 422l2 9l-1 9l-1 9M722 723l5-5l6-4l7-2M794 555l7-7l1-10l-5-8M373 488l3 9l0 9l-1 9M456 627l8 0l7 1l6 5M629 366l3 3l3 3l3 3M651 570l0 5l0 5l1 5M664 374l6 8l3 10l2 10M674 556l8-7l10-3l10 0M726 522l8-5l10-1l9-3M613 557l3 8l5 8l-1 9M622 356l5 7l6 6l5 7M771 687l-4 2l-4 2l-3 3M205 85l8 4l8 3l8-2M879 636l5 3l5 3l5 2M280 108l-3 7l-2 8l-3 7M865 676l4 7l-3 8l-5 7M514 559l-1 6l0 6l-1 6M478 409l6 0l6-1l6-2M855 675l9-1l9-2l9-2M425 267l-7-3l-4-7l-3-7M804 702l9 3l9 4l9 4M372 239l9 2l7 6l7 6M886 539l8-1l7-4l8 1M800 574l2 6l5 4l4 5M597 313l-6 5l-5 6l-1 8M670 524l4-5l4-5l6-4M737 559l5 9l6 8l7 7M616 623l-4-8l-7-6l-7-5M844 687l4 3l2 5l3 4M498 608l5 3l6 0l6 0M446 255l-10 4l-8 6l-7-7M510 587l5 3l4 3l5 2M557 564l7 5l8 1l7 5M578 664l2 4l3 3l2 4M170 57l9 0l9 0l9 2M581 681l4 1l4 1l4 1M796 668l8 0l8 1l8 2M424 261l5 2l5 0l5 1M173 34l-6 0l-6-2l-5 3M912 735l0 4l0 4l0 4M143 38l1-5l-1-5l-2-5M477 395l0 5l-2 4l-3 4M510 477l2 5l-2 5l0 5M595 471l2 3l2 4l3 3M343 339l3 7l3 7l0 7M419 530l5 5l7 3l5 6M379 334l-1-10l4-9l5-8M851 730l6 4l7 1l7 2M655 637l4 9l0 9l-2 9M855 606l5 1l5 1l5 1M282 131l7 2l5 5l7 3M598 695l-1 10l-3 10l-2 10M621 570l9 0l9-1l9 1M473 308l3 4l1 5l0 5M732 553l8 3l7 4l7 5M753 725l5 0l3 3l4 3M609 371l3-4l0-5l-1-5M647 337l-9-2l-9-1l-8-4M520 379l3 4l3 4l1 5M722 584l1 9l3 9l4 9M709 683l8 1l7-4l8-3M655 676l6 0l6-1l6-1M134 25l4 4l3 5l4 4M302 152l6-4l6-4l6-4M886 609l5-4l4-4l1-6M843 721l-1-5l0-5l3-5M871 713l6-2l5-3l5-4M503 414l-1 9l0 9l0 9M405 582l-6 4l-6 4l-6 4M344 203l4 4l5 3l5 3M695 701l4 0l3-3l4-1M841 719l3-2l4 0l4-1M396 451l-1 6l-1 6l-2 5M408 419l3 7l7 3l6 4M276 405l0 5l0 5l0 5M654 655l5-3l6 1l5 2M827 427l1 8l1 8l6 4M469 571l4-1l3-3l2-4M470 412l-9 5l-9 5l-9 6M444 253l0 8l1 8l0 8M475 528l3 9l2 9l-3 8M485 269l1 6l3 6l1 6M660 632l8-3l4-8l1-9M351 195l5-3l5-3l5-3M407 540l3 6l5 4l5 5M798 668l6-1l5 2l5 3M535 577l-1 4l0 4l0 4M371 455l4 7l3 7l2 8M435 454l2 6l3 5l4 4M497 589l-9 3l-9 3l-9 2M660 570l4 5l4 5l6 4M806 449l1-6l2-6l3-5M719 603l-1-11l-4-10l0-11M752 667l3 8l6 6l4 7M753 518l5 0l5 0l5-1M782 606l9 2l7 7l9 4M916 647l3 6l4 6l5 4M382 262l5 5l3 7l1 7M430 437l-6-4l-7-1l-7-1M742 638l4 2l4 3l5 1M721 673l4-3l3-3l4-3M427 542l5 4l5 3l2 6M540 504l4 7l5 6l1 8M191 382l-1 10l-2 10l-8 7M755 610l4 4l1 6l2 5M760 594l6-1l6 0l6-3M642 360l5 7l3 8l0 8M653 307l1 5l1 5l0 5M406 545l-2 10l4 9l6 8M799 723l4-3l4-3l4-3M428 563l1 6l2 6l4 5M670 481l2-10l3-9l6-7M584 579l7-1l7 2l7 2M448 375l6 0l5 2l6 0M397 442l1 8l-2 8l-1 8M440 326l-3 10l-9 6l-10 4M381 303l2 6l1 6l4 4M886 537l10 0l10-3l8-6M653 385l5-1l3-5l4-4M846 695l-2-5l-3-5l-5-3M716 661l5-3l5-2l5-1" fill="none" stroke="#0c8d94" stroke-width="2" stroke-linecap="round" opacity=".6" style="filter:blur(.5px)"/>
<path transform="scale(.5)" d="M118 375l5 11l1 12l-2 12M879 672l6-1l6 3l6 3M122 334l14 0l14-3l13-4M632 654l4 4l3 4l2 5M920 663l6 2l5 4l4 5M367 493l6 9l6 9l2 10M777 705l6 7l9 2l8-4M67 287l4 8l4 7l5 7M668 666l11 7l8 11l7 11M621 654l4 4l5 2l4 4M545 639l10 10l8 11l4 13M296 382l5 2l5 3l4 4M700 675l7-11l1-13l-2-13M211 407l3 5l3 5l4 4M457 578l12 3l13 1l12 4M729 658l9 7l10 5l10 5M523 606l4 5l2 5l-1 6M181 386l12 5l13 3l9 10M563 585l13-4l12-6l8-10M745 714l9 5l9 5l9 3M639 675l13-5l11-8l11-7M267 399l12 2l12-3l10-7M101 355l1 14l5 13l5 13M596 650l7-6l9-3l9-3M240 378l8 6l10 2l10-1M119 360l-4 10l-6 8l-7 7M300 392l14-1l14 2l14 1M359 482l7 6l5 8l4 8M399 527l11 6l12-5l11-8M255 387l2 7l3 7l5 6M882 662l6 2l6 2l3 5M397 488l7 0l7-3l6-5M384 513l6 8l6 7l9 2M244 396l11 4l9 8l11 5M924 695l11 1l11 3l11 3M632 620l5 6l5 6l3 8M54 317l6 8l7 6l8 5M305 435l13-3l13-1l13-2M190 361l9 2l9 3l9 0M136 383l10-6l10-5l10-5M785 689l12 2l12 2l11 4M601 630l5 8l6 6l9 2M771 664l9-6l10-2l10 1M417 540l-1 10l-4 9l-4 9M687 673l3 14l3 14l11 9M545 621l9 11l9 12l12 9M861 717l10-1l10 2l9 5M852 713l5-3l6 1l6 0M184 349l13-3l13-4l13-6M685 657l14 2l14 2l13 5M175 353l2 11l2 11l-4 10M529 583l0 8l1 7l1 7M880 698l12 6l11 8l8 11M813 717l12 7l8 11l12 5M108 315l-1 11l-1 11l1 11M462 556l9 11l9 11l12 7M321 451l0-7l2-7l2-7M404 513l6 12l1 13l-10 9M689 690l10-4l10-3l9-6M310 389l3 7l1 7l2 7M331 452l-1 6l-1 6l-2 6M575 610l4 6l2 7l2 7M93 334l12-1l12-1l11-5M768 705l6 0l6 1l6 2M358 476l3 7l5 6l6 5M623 663l-4 7l-2 7l1 8M664 674l8 2l7-4l8 1M498 550l1 10l7 7l9 3M690 677l9 4l8 6l9 5M384 485l7 7l3 10l5 9M495 557l12 2l10 6l9 8M114 312l11 1l11 1l10-2M410 500l3 10l-2 10l5 9M733 664l7 0l5 5l5 5M300 432l5-3l3-5l3-5M139 386l4 7l7 2l7 2M156 382l10 1l10 3l10 1M394 510l3 5l4 5l4 5M495 604l10 1l10 2l10 1M291 442l13-4l11-7l11-7M712 679l7 2l7 1l7 0M430 483l2 6l3 6l5 5M768 711l10-6l11-3l12-1M424 490l-2 7l-4 6l2 7M171 384l4 7l5 6l4 7M673 693l4 12l4 12l4 12M924 681l5 0l5 2l5 0M831 706l7 9l6 10l7 10M911 686l12 3l12 3l12 1M738 690l12 4l12 6l10 9M440 537l6-1l6 1l6-2M337 454l3 11l0 11l0 11M302 396l12 4l11 6l12 2M217 415l13 4l13-2l13-4M144 331l4 13l7 12l0 14M126 337l10-3l10-2l10 2M344 464l-4 7l-3 7l-7 4M423 499l7 9l6 10l3 11M359 467l12 0l9-8l9-8M405 470l5 3l5 3l4 4M394 441l1 7l0 7l0 7M88 336l4-4l3-5l0-6M830 710l7 9l8 9l8 9M351 427l-1 12l3 12l-1 12M922 715l8-3l5-7l1-9M741 662l6-2l6-2l4-5M295 387l7-3l7-4l7-4M273 403l10 7l11 5l7 10M375 495l9 7l10 6l11 3M556 598l3 5l3 6l4 5M518 562l3 6l2 6l4 6M834 663l0-5l1-5l-3-5M74 293l6-1l4-5l3-6M454 581l3 5l2 5l4 4M533 615l3 8l5 7l0 9M639 674l10 3l11 1l10 5M899 710l7 2l6 4l1 8M627 626l5 4l6 2l6 2M847 698l5-1l5 1l5 2M290 428l13 1l12-3l10-7M303 413l6-1l6-2l5-4M347 443l5 4l1 6l0 6M703 670l3 4l1 5l-1 5M558 617l10 4l10 4l11 0M315 395l12 4l12 4l11 5M383 509l2 6l1 7l1 7M687 645l12 4l12 2l12-1M436 530l10-1l5-9l1-10M168 384l8 2l7 4l8 2M717 668l8 4l8 3l4 8M690 640l9-2l8-5l7-6M245 376l13 2l13 3l12 7M402 449l-2 12l0 12l-7 10M480 574l12-2l12-2l12 0M757 704l10 0l9-6l8-7M146 371l2 5l0 6l3 5M683 690l10 6l11 2l11-3M350 421l10 1l8 7l9 5M615 661l10 5l10 5l11-1M518 566l8 2l8 2l8 0M881 712l10 10l5 13l6 13M429 501l-4 5l-6 4l-6 3M613 630l9 4l9 2l10-1M453 539l2 14l5 13l5 13M366 497l5 1l5 1l5 1M137 360l-6 11l-6 11l-9 9M403 490l6 7l8 5l5 8M407 503l-6 10l-8 9l-6 10M352 415l3 6l4 6l6 4M255 424l10 3l9 5l8 7M431 526l0 5l-1 5l0 5M441 500l1 14l4 13l-7 12M425 472l7 1l6 5l6 4M100 330l6 3l7 1l6-1M646 658l6 9l5 9l4 10M826 695l10 1l10 2l10-1M812 715l14 4l9 11l4 14M800 721l10 2l9 2l9-2M253 395l14 4l11 9l14-3M509 578l6 6l4 7l1 8M186 410l9 3l10-1l9-3M899 690l9 0l7 6l3 9M684 657l10 1l10-2l10 0M868 661l-5 6l-6 6l-7 4M518 605l7 12l1 14l-2 14M276 384l12 1l12-2l11-5M652 631l-1 7l-2 7l-1 7M555 636l10 10l12 8l13 3M468 579l9 11l12 8l14 1M808 675l7 2l5 6l4 6M423 534l4 14l11 10l13 6M865 720l7-3l7-2l7-2M75 294l5 6l7 2l8 0M449 561l10 8l12 3l12-3M198 403l13-4l13-3l12-6M468 574l7 2l7 2l6 3M582 633l3 6l4 6l2 7M905 669l11 7l12-7l13 1M708 676l7 0l7 0l7 2M277 387l-2 12l1 13l-4 12M437 504l-2 13l3 13l-4 13M827 716l10-2l10-2l10-2M527 621l10 3l10 3l10 2M146 397l14 3l14 0l14 0M197 354l6 5l7 3l6 4M587 636l11-4l10-6l10-6M336 412l6 4l4 5l2 7M772 696l10 8l5 11l3 12M920 670l11-3l11-5l12-2M121 376l12 7l12 7l13 4M289 434l3 5l5 3l3 5M171 363l-8 5l-8 4l-7 6M311 408l9 10l9 10l-2 13M873 717l6 1l5-2l5-3M201 411l10-11l6-13l4-14M533 591l7 5l8 2l8 1M361 452l12 6l12 7l13-1M826 688l6 10l9 8l10 7M444 529l7-3l5-6l6-5M135 353l9 5l8 5l10 2M414 546l4 5l5 3l6 1M340 460l7 4l5 6l6 5M523 616l7 2l4 5l5 4M583 656l8 5l7 6l9-2M159 371l12-1l11-4l9-8M674 637l9 9l10 7l8 10M858 717l14 0l13 5l14 2M690 639l4 4l5 2l5 3M95 352l8 2l8-1l7-4M404 463l0 6l-2 6l-2 6M432 516l1 9l3 8l5 7M926 685l6 10l3 11l-8 8M261 430l10 0l6 8l9 4M407 457l-4 8l-3 8l-1 9M456 558l5 7l5 7l6 7M78 328l12 7l10 9l8 11M170 394l7 5l5 7l2 9M162 365l-3 11l-1 11l1 11M393 493l12 1l11 4l11 4M536 586l10-5l11-3l10-4M83 347l3 13l-1 14l-1 14M304 438l11 3l12 1l12-1M830 710l5 3l6 2l6 2M346 447l12-1l12 0l11 3M265 412l11 5l12-2l12-2M132 365l12 8l12 8l12 8M247 374l6-13l6-13l10-10M539 633l8 12l1 14l-3 14M245 419l14 3l14-2l13-5M190 361l1-6l-3-5l-5-4M66 313l9 9l6 11l9 8M275 421l8 3l8-1l8-3M762 663l6-5l6-6l7-5M433 487l6 3l5 5l4 5M66 332l11 4l10 5l10 5M807 688l6-6l3-8l3-9M559 613l7-1l7-1l7 0M557 629l6 0l6 1l6-1M700 667l9-2l9 2l9 2M188 355l8 1l8-2l8-2M858 724l-1 11l1 11l-1 11M529 620l8 11l8 12l8 12M356 423l14 3l13 6l13 4M359 436l14-3l14-3l14-1M327 456l8 1l8 2l8 3M188 364l8-12l10-10l10-11M520 571l3 6l6 2l6 4M702 673l-2-10l-6-8l-3-10M400 480l9 9l10 7l11 5M177 387l7-3l6-5l5-6M507 558l8 8l2 12l6 10M238 387l9-1l9 0l9 3M791 684l11 1l11-1l11 2M156 378l-1 14l1 14l5 13M858 678l14 2l14 5l8 12M253 427l6 1l6 0l6 0M552 595l6 3l7 1l7 0M913 714l-2 5l1 6l-1 6M846 679l6 3l4 6l1 7M645 641l5 14l13 6l15 2M101 319l7 10l1 13l1 13M869 684l8 11l6 13l9 11M614 640l12 7l12 7l12 7M293 407l6 2l6 3l5 4M275 378l12-1l11-5l11-6M114 326l6 11l3 13l2 13M59 325l9 7l10 6l5 10M478 545l0 10l0 10l3 10M676 690l8 4l7 4l6 6M239 369l10 4l11 2l10 6M574 618l6 1l6 2l6 1M702 667l8 7l10 3l10 1M776 679l5-6l5-6l4-7M871 709l13-2l13 1l12 5M131 377l2 7l0 7l1 7M567 647l-1 14l6 13l11 10M702 697l3 9l4 9l7 6M409 500l13-3l6-11l4-12M381 434l7-2l7-3l7-3M437 565l10 10l13 6l14 2M533 604l7 9l9 6l10 4M83 336l15 0l13-6l15-1M706 658l12 8l14 1l13 6M809 684l12-2l12-2l11-5M467 546l3 14l6 13l1 14M788 682l9 0l9 0l9 1M463 580l3 9l-2 9l1 9M356 439l11 1l10-4l7-8M412 491l7 9l10 5l12-1M300 404l2 14l-1 14l1 14M364 434l7-3l4-6l6-3M600 659l5 2l6 1l6 0M555 632l6 10l4 10l0 11M246 389l6 6l7 5l4 8M826 675l5 13l-2 13l8 11M68 326l2 9l1 9l2 9M570 623l8 4l8-4l9-3M531 588l2 12l2 13l-10 8M511 608l10 9l14 2l10 10M780 699l5-2l5 0l5-1M413 464l10 2l10 2l6 8M86 316l0 6l2 6l1 6M110 353l7-3l1-7l-4-6M746 679l6 1l5 2l5 1M264 380l12 0l11-3l12-1M811 702l6-1l5 3l3 6M565 633l-4 6l-4 6l-5 6M858 684l6 4l6 4l4 6M680 644l13 5l13 6l11 9M125 369l-9 9l-10 8l-8 10M915 669l0-13l0-13l2-13M923 674l1-8l-1-8l2-8M431 522l6 8l6 8l6 8M694 644l9 11l10 9l10 10M136 376l9 11l9 11l11 10M321 461l5 7l6 6l8 3M888 669l9-2l9-2l9-2M346 424l3 5l3 5l1 6M424 530l5 8l7 7l6 7M390 438l5 3l6 1l6 3M736 665l8 8l10 4l11 4M855 678l9 2l8 5l4 8M911 676l15 1l14-4l15 2M273 425l14 1l13 2l13 4M810 660l6-9l5-10l2-11M228 391l10-1l9-3l9-5M758 688l4 7l4 7l4 7M208 393l5-1l5-2l5-2M606 638l6 1l6 1l6-1M452 522l7 9l8 8l7 10M397 466l2 9l6 8l6 8M56 319l9 7l2 11l-3 11M114 332l10 10l9 11l3 14M275 389l4 7l5 7l3 8M739 688l6-7l6-6l5-7M648 678l5 4l6 2l6 0M285 425l8 8l9 8l10 6M128 346l6 1l7-1l6-1M396 515l12 6l11 7l12 5M133 346l9-1l9 2l9 1M616 620l5 9l5 9l10 2M219 415l12-6l11-7l13-3M563 626l2 12l-3 12l0 12M87 347l6 3l6-1l6-1M313 430l0 11l4 11l1 11M747 706l7 8l7 8l9 6M478 561l7 10l12 2l12 2M237 364l7 4l5 6l2 8M530 619l8 9l10 6l9 8M866 705l9-6l10-4l9-4M759 696l9 3l7 6l9-1M564 613l4 4l2 5l4 4M511 571l2 7l3 7l4 6M94 334l9 4l7 6l8 6M311 427l-5 12l-4 12l-7 11M355 424l5 4l5 4l5 4M308 438l5-12l4-12l5-12M607 641l8-5l7-6l1-9M376 465l9 10l0 13l2 13M611 647l3 5l6 1l4 4M873 711l11 2l10 3l11 1M778 662l9 5l8 6l9 4M419 487l9 5l6 7l3 9M488 564l9 9l10 9l6 12M517 615l7-5l7-6l3-8M455 571l12 8l13 5l14 4M463 541l7 2l7 3l7 3M923 711l6 0l6-1l6-2M181 403l-7 9l-7 9l-8 8M70 328l1 7l-1 7l-2 7M769 665l7 7l5 9l4 9M367 494l9 9l7 11l1 13M743 683l9 8l9 8l12 2M564 646l8 7l10 4l10 5M115 376l8-7l8-7l11 1M265 381l8 2l8 1l7 5M703 651l-1 7l0 7l3 6M533 567l10 2l10 3l10 3M727 675l13 7l11 9l10 11M700 644l4-8l7-5l6-6M293 420l11 1l10-4l11-2M136 380l3 6l5 5l4 5M179 385l5-5l3-6l5-4M163 350l8-8l7-9l6-10M363 465l12 7l8 11l6 12M501 545l3 12l-3 12l-2 13M472 582l4 6l3 6l2 6M64 327l10 9l11 7l11 7M422 488l5 13l6 13l6 13M246 394l11-4l11 1l11 3M462 570l5-8l0-10l-2-10M418 489l-2 12l3 12l-5 11M435 496l12 0l11-4l12-3M197 397l11-2l11 2l10 5M145 384l12 2l10-7l12-1M442 554l6 6l7 4l9 0M424 494l8 10l8 10l0 13M96 321l5 5l4 5l2 6M403 448l14 1l13 4l14 1M438 553l5 6l6 5l7 4M666 688l12-2l12 4l11 5M882 707l7-12l2-13l-1-14M224 385l13 5l14 2l14-1M540 633l6 7l2 9l-2 9M713 684l11-2l11 1l9 6M429 515l5 4l6 3l6 1M345 480l13 7l13 7l14 2M132 382l4 8l3 8l1 9M501 600l7 7l9 1l9-3M257 410l8-8l12-2l11-3M267 414l7 4l5 7l6 6M922 719l6 0l4-4l4-4M241 380l13 0l12-4l12-5M425 545l1 6l-2 6l-3 6M148 336l-2 9l0 9l3 9M481 529l3 8l7 6l6 7M915 669l8-5l9-1l9-2M607 662l5 6l4 6l4 6M913 684l4-7l3-7l-3-7M661 670l6-3l6 0l6 0M147 339l-2 9l-1 10l1 10M783 665l11-3l10-5l9-7M353 476l6 2l5 3l6 2M809 680l-7 5l-7 5l-8 5M445 539l8 6l7 6l10-1M688 668l5 4l4 5l3 6M777 720l13 5l12 8l14 1M150 345l6-1l6 1l6 1M814 685l8-10l9-9l10-8M757 700l12 2l12 1l12-1M76 312l6 6l4 8l4 8M197 397l-4 12l3 13l0 13M879 704l6 7l6 7l7 5M927 695l10-7l8-9l4-12M120 355l14-1l14 3l14 1M471 596l5 3l5 3l5 2M125 344l4 10l6 9l7 8M427 522l4 6l6 4l6 3M95 352l5 4l5 3l4 5M859 695l5 5l1 7l3 6M835 672l8 4l9 3l8 5M328 444l6-2l6-2l6 0M180 366l12 2l12 0l12-1M164 348l13-3l12-6l14 0M884 715l7 2l8 0l8 0M688 693l13-6l14-2l11-8M809 662l11-2l9-6l11 0M283 433l-1 10l-1 10l-3 10M837 710l11 1l10 5l8 8M663 650l13 2l13 2l13 3M560 622l0 13l0 13l2 13M601 658l8 11l8 11l11 8M757 667l7-2l7-3l4-6M179 353l9 6l8 8l7 9M682 659l11-6l8-10l11-6M313 418l2 9l2 9l-1 9M760 677l11-8l11-8l12-7M378 506l10 0l10 0l10 2M448 577l10-1l10 2l8 5M406 493l9 3l9 1l9 0M243 399l9 0l9-2l7-7M410 525l2 14l-3 14l-5 13M326 405l5 10l2 11l7 9M865 671l8 1l7-4l7-4M371 492l7-2l6-4l5-5M401 506l5 5l5 5l5 4M919 676l7 4l6 5l7 3M374 492l14 0l14 1l13-6M439 555l13 2l13-1l13 0M488 595l8 12l5 14l5 14M840 688l-2 9l-4 8l-6 7M278 383l6 7l-5 8l-2 9M543 597l6-12l4-12l10-8M697 683l13 6l14 2l12 8M854 705l12-3l12-3l9-8M212 380l7-1l6-3l5-5M891 674l4-5l6-2l6-2M394 448l9 0l9-1l8-3M829 711l13-4l14-1l14 0M485 575l8-8l9-5l8-7M153 390l13 3l12 6l10 9M398 472l8 4l8 2l8 3M297 430l-1 8l0 8l0 8M498 610l8-1l7 5l6 5M838 706l6 5l7 2l7 0M558 613l2 8l1 8l0 8M737 713l6 0l5-3l6 0M749 680l3 5l4 5l4 4M342 473l-3 12l2 12l0 12M898 716l10 2l10 1l10 1M757 703l4 10l7 8l0 11M332 468l4-3l5-2l3-4M603 645l2 8l1 8l5 7M96 348l9 3l10 2l10-2M214 405l11-10l13-7l13-6M900 718l9-10l8-11l11-9M923 677l-2 14l1 14l8 12M154 342l10 3l9 5l9 4M354 440l11 2l11 0l10 4M266 413l0 6l2 6l-2 6M124 321l5 7l0 8l-3 8M308 389l11 0l11 2l11-1M67 289l7 6l8 5l8 5M746 700l9 1l9-2l9 1M432 538l13 5l13 4l14-3M135 381l8 2l7 4l8 3M662 660l8-7l8-7l11 1M125 366l5 6l4 7l5 7M832 712l6 10l0 12l-5 10M810 702l10 5l9 6l6 8M647 643l8 4l9 2l8 4M511 565l12 2l12-2l12 0M280 397l8 3l4 7l3 7M474 543l6-1l5-2l6 0M356 430l-3 13l-7 12l-6 12M848 681l5 2l5 2l6 0M426 527l8 11l7 11l9 9M800 694l10-2l10 0l10-2M233 416l10 1l10 1l10 1M116 331l4 13l0 14l-8 11" fill="none" stroke="#11b2b8" stroke-width="2.2" stroke-linecap="round" opacity=".7" style="filter:blur(.5px)"/>
<path transform="scale(.5)" d="M292 173l9-1l8 3l9 2M178 60l-1 9l0 9l-3 9M294 155l6 6l7 4l8 1M300 109l9 0l9 2l9 0M352 242l3 10l-4 10l2 11M387 256l1 7l1 7l3 6M337 237l2 7l2 7l3 6M138 6l2 11l4 11l5 10M194 25l5 3l6 1l5-3M234 91l8-2l8-2l8 1M229 107l8 2l8 4l8 4M354 188l2 10l2 10l8 7M361 229l4 7l5 7l3 8M213 26l3-13l-2-13l-2-13M259 79l5 4l6-2l7-1M250 58l8 6l8 5l7 6M349 186l6 8l9 5l9 4M229 85l6 6l4 7l2 8M312 131l6 5l6 5l6 5M274 120l3 6l5 4l6 2M125 19l0 6l1 6l1 6M263 121l-12 5l-12-1l-12 3M244 81l6-3l6-3l3-6M154 39l4 6l3 6l4 6M325 138l8 5l7 6l7 6M212 72l8-2l8 1l7 4M186 73l9-1l9-1l8-4M223 43l5 4l6 2l6 2M274 111l8 6l7 6l9 2M248 78l11 5l9 7l11-3M193 71l-9 6l-3 10l-6 9M199 18l5 4l4 5l4 5M317 194l6 8l7 8l4 10M333 157l6 10l2 11l-2 11M121 43l11 2l11 2l11 4M203 53l7 4l4 7l1 8M273 146l5 12l7 11l7 11M218 40l9 6l9 6l4 10M255 63l11 4l6 10l2 11M366 209l6-5l5-6l7-3M111 18l13 3l13-3l9-9M328 204l3-6l1-7l-1-7M212 38l6 4l4 6l1 7M321 210l7 10l7 11l10 8M220 59l-1 10l-2 9l-1 10M184 73l8 4l4 8l7 5M289 113l0 13l-1 13l-6 11M292 140l7 2l5 5l6 4M194 70l9-3l10 1l8 5M338 188l8 9l9 8l11 5M231 43l-1 6l-2 6l-2 5M301 100l-2 13l-3 12l-1 13M234 96l3 5l5 2l5-1M128 21l7 10l7 11l2 13M263 104l5 8l6 7l0 10M307 163l6 9l10 3l11 1M251 122l7 8l10 4l1 10M345 176l-1 5l-2 5l0 5M127 28l10 1l10 0l9-4M156 59l9 2l8 3l9 1M305 184l6 11l2 13l0 13M307 122l3 5l2 5l2 5M337 174l4 7l7 4l7 4M309 179l9 7l10 7l11 4M275 117l3 10l8 7l5 9M233 107l12 4l12 4l13 1M287 139l-1 9l2 9l5 7M158 23l6-2l5-2l5-2M324 186l-1 10l3 9l2 10M285 93l12 4l10 7l8 9M217 81l7 1l7 0l6-3M186 68l4 6l7 2l7 3M304 103l-4 10l-4 10l-4 10M290 173l8 3l8 2l8 2M330 194l0 7l-1 7l-5 5M243 112l10 2l11-1l11 1M198 61l-4 11l-4 11l-4 11M325 220l-2 8l-1 8l-4 7M206 32l6 2l6 3l6 4M201 33l5 4l6 2l5 4M287 140l10 2l8 5l3 9M216 57l3 7l3 6l5 6M147 33l7-1l7 1l7-2M124 22l12 3l12 2l12 4M255 112l6 4l4 6l-2 7M111 14l9 0l8 4l8 5M330 196l-4 6l-2 6l-3 6M366 226l-1 8l-2 8l-5 6M172 68l4 6l6 3l6 3M149 40l5-3l6-2l6 2M264 77l4 3l4 3l5 2M347 228l10-7l8-8l6-10M178 34l8 2l8 1l8 1M206 93l8 0l8-3l3-8M209 19l7 1l6 3l6 4M388 258l0 8l3 7l4 7M248 48l4 7l6 6l4 7M293 103l7 6l8 5l5 7M369 260l-4 8l-5 8l-7 7M227 38l4 4l2 6l-2 5M269 73l12 2l12 2l11 5M151 24l12-1l11 5l11 4M175 56l6 3l6 4l4 6M239 75l5 9l5 9l10 3M332 233l-4 8l-5 8l-4 9M349 252l5 6l8 2l7-3M327 177l8 4l9 2l8-4M267 118l5 4l7-1l6 3M345 257l7 4l5 5l4 6M280 118l2 9l-3 8l-5 8M257 100l11 0l10-4l10-3M283 81l5 4l7 0l7 0M289 99l-6 12l-6 12l-10 8M349 273l-8 0l-8-1l-8 0M289 165l5 4l5 4l4 5M364 222l2 7l4 6l1 7M357 263l5 4l4 5l6 2M159 41l4 3l4 4l5 3M248 52l2 11l2 11l-3 11M291 100l-4 4l-2 5l-2 5M296 128l6 8l7 7l6 8M361 242l5 8l8 5l6 7M242 68l6 9l7 8l4 10M147 45l3 7l-1 7l-1 7M172 48l2 13l3 13l4 12M341 192l13-3l11-7l11-6M343 190l6 1l6 1l6-1M356 197l8 8l-1 12l7 9M382 241l6 4l4 7l2 7M259 68l6-4l7-2l7-1M365 219l6 6l7 6l5 7M357 228l6 11l4 12l5 12M374 253l1 12l0 12l2 12M344 220l-4 5l-3 5l0 6M375 227l-1 12l6 10l6 10M325 148l12 2l9 8l10 7M331 230l0 13l-5 12l0 13M303 160l-6 1l-5 3l-5 4M168 27l5-4l5-4l4-5M290 132l-2 6l-3 5l-3 5M340 239l12 2l12 2l8 8M344 189l6-1l5-3l6 0M312 146l9 4l7 6l9 3M215 76l11 5l12-1l12 3M313 194l5 6l5 7l4 7M259 91l-7 5l-8 4l-8 3M269 138l7 7l4 9l9 5M347 166l5 3l6 0l5 2M284 111l8 7l10 0l10 1M214 30l2 6l2 6l5 4M312 191l7 4l7 3l7 4M250 105l7-1l7-2l5 5M104 7l6 2l7 1l6-2M302 154l6 6l9 0l9 0M215 29l4 9l4 9l5 8M145 51l11-6l12-3l10-7M372 231l6 1l6 0l6 1M244 91l8 3l8 0l8 0M279 98l6 1l5 3l6-2M314 146l5 4l4 5l1 7M155 39l7 3l7 4l7 3M311 178l4 7l3 7l1 8M240 67l-3 8l-1 9l1 9M301 188l1 11l3 10l-3 10M380 261l6-4l6-4l6-4M355 259l4 3l4 4l5 2M104 3l3 5l4 5l4 4M182 78l7 0l5 5l6 3M202 22l5-7l7-6l6-6M365 253l13 4l13-1l13 1" fill="none" stroke="#10a8ae" stroke-width="2.2" stroke-linecap="round" opacity=".8" style="filter:blur(.5px)"/>
<path d="M78 183C95 190 118 190 150 203" stroke="#1ee6ea" stroke-width="6" fill="none" opacity=".55" stroke-linecap="round" style="filter:blur(2.5px)"/>
<path d="M318 330C365 348 420 352 466 343" stroke="#12dade" stroke-width="13" fill="none" opacity=".8" style="filter:blur(3.2px)"/>
<path d="M330 338C372 346 425 346 466 338M350 346C390 354 430 354 466 350M380 340C410 338 440 334 466 333" stroke="#3cffff" stroke-width="1.6" fill="none" opacity=".9" style="filter:blur(.5px)"/>
<path d="M70 8C95 14 118 28 140 52" stroke="#7feef0" stroke-width="5" fill="none" opacity=".45" style="filter:blur(2.5px)"/>
<path transform="scale(.5)" d="M70 424l5 11l4 12l3 12M592 773l7-3l5-5l4-6M51 248l-7 12l-6 13l-2 14M36 339l-2 11l-7 9l-7 9M613 806l11 2l11 1l11-1M311 560l6 3l5 4l6 3M484 774l7 5l7 6l7 6M586 726l13 5l12 5l13 5M579 778l10 3l9 5l7 7M52 332l-5 7l-4 7l-3 8M630 815l4 7l1 8l7 5M455 721l7 8l3 10l2 10M464 760l8 2l8 3l8-1M571 731l9 4l6 8l6 8M673 802l8 2l8 4l7 5M431 766l9 4l6 8l7 6M516 752l3 6l1 7l-2 6M238 532l-4 8l-9-2l-8 3M236 577l-1 12l-2 12l-6 10M425 707l5 5l6 2l7 2M57 379l5 13l11 9l12 8M63 332l-2 9l0 9l-1 9M306 655l6 7l0 9l-4 8M368 738l2 7l1 7l-1 7M348 640l3 4l3 4l4 4M31 334l8 11l5 13l5 13M53 421l7 3l7 3l7 1M50 292l-1 5l-3 4l-3 5M69 360l10-3l10-3l7-8M132 464l13 4l13 2l14-1M242 433l9-4l9 2l8 5M258 564l-9 5l-4 9l-5 8M86 448l0 13l-3 13l-9 9M105 379l2 11l0 11l4 10M37 396l0 12l-7 10l-3 12M32 399l6 6l6 7l3 8M375 723l12-4l12-3l12-4M471 795l12 4l12-3l12-5M537 758l12 6l12 5l9 10M240 562l8-3l8-4l6-6M25 168l-1 7l-2 7l-2 7M295 593l6 8l5 8l9 5M351 585l8 4l9 3l9-1M178 467l6 7l7 6l2 9M476 706l8 6l8 6l9 4M541 802l6 1l4 4l4 4M533 803l10 6l9 7l8 9M28 301l-5 13l-7 12l-3 14M72 430l7 10l6 11l10 7M254 604l8 7l4 10l6 9M235 443l9-10l6-12l8-11M165 444l9 1l6 6l1 9M111 419l13 7l14-2l14-4M270 552l12 8l14 4l14 3M642 784l12-1l11-3l6-10M232 542l7 10l1 12l2 11M123 428l9 8l9 8l11 5M162 456l4 6l4 6l7 1M3 85l0 10l-5 9l-5 9M232 452l11 6l10 8l12 2M107 456l5-5l4-6l4-6M132 427l2 11l8 8l5 10M334 684l5-1l6 0l5 2M84 295l0 13l0 13l4 12M31 84l0 8l3 7l2 8M248 593l-1 6l-3 5l-3 5M62 413l13 5l14 3l14 3M33 347l-5 6l-7 4l-8 3M18 372l0 8l-1 8l-1 8M84 419l12 3l10-7l12-4M34 399l0 6l1 6l2 6M78 419l0 10l0 10l-2 10M578 797l5-2l5-3l5 0M335 715l9 1l9-1l9-2M21 365l1 6l1 6l1 6M222 489l9 5l8 6l6 8M6 332l4 6l3 7l4 7M309 634l2 8l0 9l-4 8M243 521l5 11l8 9l10 8M585 776l10 6l10 5l10 5M619 751l-9-7l-11-3l-11-5M388 744l8 2l6 5l6 5M141 470l9 3l8 6l6 8M376 749l7 2l6 3l5 4M470 717l7 5l4 8l7 5M633 793l2 11l3 11l4 11M655 768l0 12l-2 12l-4 11M192 481l3 9l3 9l6 7M315 637l2 14l4 14l-2 14M58 398l-3 8l-3 8l-6 6M230 424l7 3l7-1l7 1M357 667l8 9l10 8l10 8M336 656l-3 9l0 10l-2 9M304 651l9-1l9-1l9 1M235 509l6 6l7 5l5 7M410 714l13 5l14 0l12-5M214 529l13 7l12 8l7 13M428 751l9 0l9-1l9 0M123 440l8-1l8 2l8 0M586 786l8-8l6-10l12-2M320 705l9 3l10-1l10 0M321 589l2 5l1 5l3 4M690 821l7 1l6 3l5 5M381 717l-5 7l1 8l0 8M132 421l11 0l10-5l9-6M464 723l2 6l4 5l2 6M606 763l6 1l4 5l4 5M167 481l12 7l13 3l13 5M240 471l9 7l7 8l5 10M99 447l6-1l6-1l6 0M292 605l12-4l12-5l12-2M278 519l7 7l5 9l4 9M502 776l12 4l13 1l13 1M196 498l6 5l4 7l5 6M82 400l10-5l8-8l7-9M64 390l-7 11l-5 12l-6 12M390 699l6 6l7 4l8 3M340 685l3 7l4 6l5 6M120 420l10 7l12 3l12-1M141 410l14 2l11 9l7 12M184 425l6 1l6-2l6-2M230 566l7 9l11 5l11 3M596 751l8 1l8 0l5 6M631 813l12-4l13 0l12-2M54 378l4 5l3 6l2 6M244 500l13-3l13-2l12-6M210 466l6-2l4-5l6-2M577 787l8-6l9-5l10-2M152 427l4 9l4 9l5 8M220 538l-2 13l-8 11l-7 11M194 406l6 3l3 6l2 6M456 675l12 5l8 10l6 12M443 772l11 6l12 3l11 6M375 710l6-1l5 3l1 6M55 227l0 7l4 5l5 4M222 519l8 3l8 2l5 6M170 455l14 5l13 5l14 4M166 465l9-2l9-2l8-3M261 605l1 7l2 7l4 6M193 487l5 12l8 10l-1 13M140 472l9 12l7 13l9 11M631 750l3 11l3 11l-2 11M708 783l9-2l9-2l9 3M291 613l8 9l9 8l10 5M549 804l14-4l14 0l14-3M129 429l9 10l6 12l0 13M256 471l8-1l8 3l8 1M517 759l7 1l7 0l7 1M388 702l7 3l8 2l8 0M418 709l1 6l3 5l0 6M310 645l-9 7l-10 5l-7 9M602 802l6-9l1-11l1-11M41 406l7 11l6 11l-4 13M513 706l7 2l7-1l7-1M415 764l6 11l2 13l-2 12M186 464l11 4l8 9l9 7M592 801l13 4l9 10l8 11M20 356l10 1l10-2l10-2M1 307l-7 2l-7 1l-2 6M161 473l11 2l10 4l11 2M471 772l9 0l9 0l9 0M42 346l2 7l5 6l4 7M512 794l7-4l7-5l4-7M272 647l3 10l2 11l3 10M621 801l-1 8l-1 8l2 8M1 180l-7 10l-10 8l-7 10M18 366l2 8l2 8l5 6M251 498l10 2l6 9l7 8M30 338l7 11l4 12l5 12M537 776l9 8l9 8l12 4M82 412l4 6l1 7l5 6M665 821l10 3l10 3l10 1M154 382l6 9l2 11l4 10M102 423l0 10l0 10l5 8M412 699l3 5l1 6l1 6M536 774l6-4l1-7l1-7M54 385l5 8l7 7l5 9M50 367l3 6l2 6l3 6M449 742l5-5l5-5l5-5M278 583l2 5l1 6l-5 3M188 484l14 1l14 0l12 7M310 503l10 10l11 8l12 7M13 286l2 6l2 6l2 6M230 569l9 7l7 8l10 4M308 482l12 8l12 8l14 5M523 804l6 10l7 9l6 10M694 805l12 8l13 7l10 10M391 732l11 4l10 7l8 9M352 733l-7 11l-6 11l0 13M41 290l-8 10l-5 11l-5 11M634 764l6 1l5 4l6 1M652 820l4 4l5 3l4 4M295 650l11-1l11 2l11 3M132 450l9 9l5 12l-1 13M220 506l5 7l3 8l3 8M305 651l9-3l7-7l8-5M31 327l-1 15l-2 15l-6 14M188 440l12 8l9 12l9 12M130 468l12 6l13-3l13-1M136 392l-9 9l-12 4l-12 4M21 130l-10 3l-10-2l-11 0M103 460l3 9l3 10l2 10M211 533l4 7l6 6l6 5M120 343l9 8l12 0l11 4M279 505l2 6l1 6l-1 6M316 690l11-4l10-6l7-9M591 791l9 0l9 1l8 5M583 784l12-4l12-3l8-9M214 543l9 9l8 10l7 10M85 289l-9 9l-13 2l-13 2M644 762l14-1l13-3l14-1M655 813l8 0l7 3l8 2M98 428l9 9l8 10l8 10M632 777l7 4l3 8l5 7M447 742l6 2l6 1l6 3M42 391l6 6l3 8l2 8M150 449l-11 9l-10 11l-10 10M231 565l11 7l7 11l11 7M325 698l2 10l-1 10l-2 10M47 420l12 3l12 3l12 2M479 720l5 1l4 4l3 5M17 372l1 8l2 8l0 8M540 750l10-2l8-6l8-5M71 441l5 1l5-3l5-2M218 528l0 11l-4 10l-1 11M31 368l11 9l12 6l11 8M288 657l12 3l12 2l12-1M32 357l-11 6l-12 1l-12 0M17 289l3 12l0 13l6 11M307 564l3 5l3 5l4 5M439 705l13-1l9-9l12-4M460 752l14 2l13 5l14 1M284 663l3 6l6 3l6 4M445 793l8 2l7 5l6 6M43 352l9 0l7-5l6-7M270 535l5 7l5 7l5 7M545 772l11 5l9 8l12 2M106 422l10 1l8-6l8-6M340 600l6 10l1 12l-2 12M279 557l4 4l3 5l3 5M302 544l4 7l4 7l2 8M299 662l-2 7l2 7l2 7M332 675l11 4l10 5l8 8M410 633l-4 11l-4 11l0 12M389 724l12 7l14 0l13 5M387 757l9 6l10 4l10 3M269 604l8 3l5 7l2 8M81 324l-7 9l-5 10l-6 10M22 34l-3 8l-4 7l-4 7M311 552l6 9l8 7l3 11M0 295l-5 10l2 11l2 11M294 586l6 7l6 7l4 8M674 807l10-1l7 7l9 4M79 414l-2 9l-1 10l1 10M695 808l9-1l8-4l9 0M282 642l5 3l4 5l5 3M178 493l4 3l5 3l5-2M555 799l-2-7l-2-7l-2-7M21 54l2 13l0 13l4 13M382 660l7 0l7 0l6 4M338 677l12 2l11 5l12-2M208 495l8 8l9 7l3 11M321 683l5 7l0 8l-1 8M575 745l9-3l7-6l8-5M436 777l6 7l8 4l7 6M125 453l2 6l4 5l3 6M524 803l3 10l7 8l6 9M251 498l6 8l5 9l10 1M274 633l12-3l11-6l12-5M652 796l4 6l5 5l6 4M179 438l6 8l5 9l9 5M67 366l12 5l13-3l13 0M224 510l12 5l13 1l13-1M566 796l8 9l3 11l7 10M269 539l9 10l1 14l0 14M319 651l5 2l5-2l5-2M197 489l-3 7l-3 8l-2 8M11 354l-7 2l-7 2l-6 5M681 779l9 11l10 9l13 4M12 349l0 10l-3 10l-9 6M490 783l13 6l14 3l14-3M5 138l-1 6l2 6l-1 6M263 565l5 6l6 5l6 5M265 553l8 1l7-4l8-3M419 707l10 9l10 9l9 10M229 455l-1 8l-4 7l-1 8M343 717l1 11l0 11l-5 10M250 500l4 13l0 14l-4 13M596 802l8-2l8 0l8-1M10 216l-1 6l2 6l0 6M242 553l6 4l5 5l3 7M19 345l5 9l10-2l9-5M353 709l5 13l5 13l6 13M302 674l-2 14l2 14l-3 14M6 259l-2 6l0 6l2 6M542 778l8-4l8 3l8-4M340 609l1 11l3 11l2 11M298 630l5 8l2 9l4 8M163 470l5 3l4 5l-1 6M120 451l4 5l4 5l4 4M22 180l5 10l0 12l-5 11M414 763l6-3l6-3l6-4M390 622l13 5l9 11l11 9M635 791l-2-8l-2-8l4-8M275 470l7 6l7 6l9 4M374 728l-6 5l-5 6l-7 4M404 739l-2 7l-1 7l-4 6M623 807l4 4l5 3l5 3M81 419l5 8l6 7l4 8M499 788l7 3l7 3l6 4M231 490l-13 4l-13-5l-14-4M66 430l7 0l6 3l6 1M538 728l8 7l10 2l10 0M116 453l7 6l7 5l8 4M331 652l8 5l8 5l7 6M91 436l-8 7l-6 9l-8 7M429 752l2 5l4 4l3 5M358 728l8 1l8 1l8 1M236 574l-4 11l0 12l4 11M377 733l2 5l3 5l5 3M518 758l2-7l2-7l3-7M267 579l8 9l3 11l8 9M290 649l4 9l3 10l3 10M160 362l10 0l10 2l10 2M320 673l7 3l8 1l7 1M36 221l9 10l10 9l13 5M242 500l10-4l7-9l6-9M224 522l-5 3l-5 2l-5 2M508 794l13 0l13-3l12-6M261 562l7 8l8 6l9 5M246 566l2 7l0 7l-2 6M269 498l12 4l11 6l11 6M502 795l11 0l7 8l8 7M591 803l10 0l10-1l10-2M143 474l5 1l5 2l5 2M411 707l13-6l13 4l14 1M388 731l12 7l13 3l12 6M615 785l13-6l14 0l14 3M402 691l1 6l-1 6l2 6M237 459l7 0l6-3l7 0M423 778l-4 13l-9 9l-13 3M191 482l3 10l3 10l0 10M269 455l7 4l5 7l2 8M41 403l0 11l0 11l-5 10M14 366l8 6l8 6l9 4M575 760l-3 12l-1 12l5 11M33 335l-4 6l-3 7l-2 7M370 644l10-5l10-5l10-3M322 627l3 5l4 5l2 6M378 686l7 7l4 9l7 7M129 444l10 7l7 10l2 12M219 470l3 14l6 13l10 10M209 436l5 11l1 12l-6 11M656 743l5-3l5-3l4-4M20 183l-2 6l-3 6l-5 5M192 501l13-4l10-9l13-4M195 412l-1 12l-4 11l-8 9M235 565l7 5l7 4l8 0M250 586l-3 8l-4 8l0 9M477 785l6 1l5 3l3 5M362 705l2 6l5 5l3 6M35 340l10 6l11 5l10 7M106 391l0 12l0 12l0 12M417 768l5 9l11 2l11 0M112 392l8 12l8 11l11 9M168 434l9 2l7 6l7 6M218 500l7 5l8 3l8 0M395 675l0 6l0 6l0 6M446 769l9-4l8-6l9-2M325 542l5 5l0 7l-3 6M592 811l10 1l8 7l8 6M129 410l9-6l10-4l11 0M363 720l-3 14l6 13l4 14M185 430l7-2l5 4l3 6M463 786l8 12l9 11l11 9M134 406l8 4l8 3l8 2M329 656l5 14l-1 15l-7 13M147 430l12-1l12-2l12-3M317 703l5 5l3 7l4 6M328 549l7 2l7 0l7-3M665 779l7 9l7 9l6 10M2 294l-14-1l-13 6l-14 2M459 782l7 2l7 1l6-3M535 748l12-2l13 0l13-2M201 492l3 11l3 11l3 11M146 465l11 4l11-1l12 0M290 463l4 7l5 7l2 8M520 797l5-3l5-2l3-5M26 311l7 12l11 9l12 8M54 399l6 4l7 3l7 1M688 827l10 2l10 3l10 2M283 657l-11 8l-10 9l-11 8M278 652l1 6l3 5l4 5M493 685l11 10l9 12l9 11M18 337l-7 8l-3 10l1 10M472 787l6 2l3 6l-3 6M552 804l8-7l7-8l9-5M417 675l7 4l8 2l4 7M162 441l11 8l10 9l11 8M484 721l8-3l9-1l9-1M130 441l6 6l7 4l5 6M326 667l3 7l2 7l3 7M665 795l5-3l4-3l5-2M256 578l6 5l5 6l4 7M646 773l5-5l6-5l8 1M202 446l10 1l10-2l10-2M302 644l8 11l11 8l8 10M259 500l8 11l7 12l-3 13M72 389l9 2l8-3l8-3M324 703l7 1l7 1l7-1M425 781l4-5l6-3l5-4M696 816l3 5l3 5l3 5M291 633l-4 6l-6 5l-7 1M24 370l-4 8l-3 9l-6 7M544 760l9 6l6 9l4 10M313 673l6-3l7 2l7 0M561 782l11-2l12 2l9 7M312 653l2 14l9 10l3 14M503 774l-5 11l-2 11l-1 12M558 771l10 0l9 3l7 7M41 318l9-2l9 0l8 4M155 429l-12 0l-11 3l-12 0M147 424l9 10l5 13l-2 14M464 789l9 10l6 12l6 11M262 560l6 8l5 8l4 9M90 398l-2 12l7 10l10 7M285 528l-10 8l-11 6l-11 5M458 797l10 1l10-1l10-1M294 541l1 8l0 8l-2 8M65 324l-3 6l-1 7l-2 6M14 356l0 11l-2 11l-7 9M504 780l5 5l5 6l5 5M231 515l2 12l0 12l-3 11M412 771l6 0l6 1l6-1M341 721l0 7l4 6l1 7M117 466l5 5l5 4l5 5M219 482l6 7l5 7l3 8M142 470l9 5l10 3l9 4M296 596l3 8l2 9l3 8M628 810l13 6l12 7l10 10M157 411l-7 9l-10 4l-6 10M563 802l5-5l4-6l4-6M289 637l3 5l3 5l3 5M695 804l6 4l6 4l6 3M453 796l6-6l5-6l6-6M399 709l6 1l6 0l6 1M537 796l5 13l10 10l14 2M172 490l7-3l6-4l5-5M389 736l0-10l-4-9l-6-7M328 677l2 11l6 10l10 6M615 775l14-3l14-5l10-11M234 532l9 3l8 5l9 1M614 797l9-4l9-5l7-7M581 777l13 2l5 12l10 8M127 453l2-6l2-6l1-6M154 449l6 11l8 10l11 7M162 472l14 0l14 2l13 5M11 348l9 7l11 4l11 2M202 438l10-4l10-4l5-10M253 593l4-13l4-13l12-6M329 715l13 4l13 2l13-3M398 721l13 4l13-3l13 4M473 797l4-5l3-6l5-5M203 463l0 7l-2 7l-1 7M305 679l9 5l10-2l10 1M142 470l10 6l10 6l12 1M169 463l-10 10l-10 10l-8 11M638 773l9-6l10-3l11 0M443 780l4-5l3-6l1-6M169 459l7 8l2 10l8 7M597 765l12-4l12-4l12-3M155 467l2 11l6 10l-2 11M40 171l-5 6l-2 8l0 8M250 555l-2 12l1 12l-1 12M501 764l9-1l8-5l8-5M425 668l7 8l8 8l11 1M315 574l-10 8l-12 5l-13 1M3 240l-4 6l-1 7l-2 6M357 735l6 12l4 13l-2 13M601 785l6 1l5 3l5 3M332 710l5 2l6 1l6 0M544 771l6-2l6-1l5 4M461 796l11 3l11 3l7 9M363 737l12-5l12-6l12-4M532 760l7-2l6-3l5-6M275 542l14-1l14 0l11 9M145 368l9-2l8-4l7-6M91 456l10-6l12 0l12 0M269 640l5 8l5 8l8 4M621 807l11-1l11-1l11-1M329 598l4 10l0 11l-1 11M520 790l5 9l2 9l3 9M257 613l3 11l5 10l5 10M87 446l0 14l3 13l6 12M256 521l3 5l0 6l-1 6M517 774l5-2l6 0l6 0M276 589l4 13l-5 12l-2 13M41 385l-3 13l-3 13l-4 13M167 377l0 6l3 5l0 6M12 154l-3 13l-8 11l-11 8M404 640l7 1l7-1l3-6M142 442l8-4l9-2l8-4M30 219l3 7l7 3l6 5M252 537l4 5l3 5l3 5M14 361l3 5l5 4l5 4M362 724l6 7l6 7l3 9M130 373l10 8l4 12l1 13M66 444l5 11l0 12l1 12M228 488l5 3l4 4l6 3M625 815l6 6l7 4l6 6M238 563l13 6l11 8l13 5M661 784l4 5l2 6l0 7M224 517l7 8l5 9l2 10M468 777l11 1l11 1l10 4M290 605l-6 9l-6 9l-7 8M484 770l9 1l8 5l6 6M56 418l12-2l12 1l12 0M99 437l4 13l7 12l0 13M343 701l4 11l3 11l4 11M456 715l11 8l10 9l6 13M344 676l6 3l7-2l7 2M496 740l7-7l4-9l2-10M558 751l10 5l11 2l7 8M111 440l3-6l3-6l3-6M501 771l9 0l9 2l8-3M350 729l8 10l7 10l8 10M588 778l7 4l7 3l8-1M439 671l8 6l4 9l4 9M632 785l9-1l7-6l8-4M267 630l14-4l12-7l14 0M25 94l3 10l7 9l9 6M43 397l6 9l5 9l8 7M298 556l6 10l4 11l3 11M319 692l11 7l9 9l12 6M585 811l8-4l9-4l8-4M269 517l-5 13l-4 13l-7 12M284 633l6-1l6-1l6 1M95 437l4 8l3 8l3 8M2 353l-1 10l-6 9l-3 10M544 806l11 5l10 7l12 2M397 738l8 1l8-3l7-5M280 654l5 2l6 1l5 2M643 745l4 5l5 4l4 5M335 518l3 9l4 9l5 8M419 761l3 8l2 8l-2 8M287 562l5 3l4 5l4 4M35 381l8 2l8 3l8 2M234 506l8-1l8-2l7-3M288 530l9 7l9 7l9 7M418 769l10 10l10 10l12 8M347 680l5 13l7 11l4 13M23 375l5 3l2 6l1 6M286 571l-6 7l-2 9l-1 9M321 552l0 10l6 8l7 8M528 773l6-6l3-8l1-9M692 780l13 6l12 8l14 4M456 744l8-5l9-2l8 5M176 442l6 2l5 2l5 2M534 786l7-3l7-2l7 0M562 787l14 1l13 2l14 1M314 562l-1 7l-1 7l0 7M246 556l-1 13l8 10l8 10M228 502l1 6l-2 6l-5 3M424 732l13 3l13-3l12-6M45 345l-4 7l-3 7l-1 8M14 340l8 10l2 12l2 12M89 378l7 9l6 9l9 6M371 745l6 3l7 1l7 1M358 699l1 7l-1 7l-3 7M171 441l0 7l3 6l2 7M503 772l9 0l8 4l9 0M261 513l-3 7l1 8l2 8M326 707l2 10l7 8l3 10M259 586l9 6l5 10l5 9M532 715l10 0l10 1l10-4M48 420l14 2l13-6l5-13M409 743l13-5l13-4l14-3M352 640l12 0l8 8l1 11M121 403l-7 10l-3 12l-3 12M150 415l3 10l1 11l7 8M212 488l-9 6l-9 5l-8 7M328 580l5 4l5 4l4 5M150 425l5 4l5 5l6 3M161 443l11-9l14-1l11 9M347 550l2 7l7 2l8-1M266 627l-1 14l-1 14l-9 10M233 538l9 1l9 1l9 2M426 781l-5 4l-3 5l0 6M688 812l8 3l5 6l7 4M81 438l4 5l6 2l7 0M212 476l-3 5l-6 3l-6-2M217 498l7-9l10-6l11-2M691 821l8 4l7 6l8 5M469 786l2-5l0-5l2-5M99 383l9 1l9 2l9-2M666 761l4 4l2 5l1 5M340 686l11 0l10 4l10 4M107 382l1 6l1 6l2 6M224 454l7 2l7 1l8 1M14 351l13 4l13 3l13 1M393 673l7 5l2 9l-1 9M328 606l10 3l6 9l8 7M12 82l8 11l7 11l4 13M135 375l3 5l2 5l1 6M429 785l9-3l8-5l8-5M505 802l9 2l9 2l9 2M262 552l-8 2l-8 2l-7 4M332 616l8-2l8 2l7 4M698 800l6-3l4-5l6-3M222 560l-1 14l10 10l0 14M352 553l1 9l-1 9l0 9M154 377l8-2l8-3l8-3M133 412l7 3l6 5l6 5M369 728l8 11l6 12l9 11M183 463l7 4l8-2l8 0M634 771l5-4l6-3l2-6M494 783l11-7l12-4l12-5M359 737l11 1l9 7l9 7M227 536l8-12l4-14l12-9M209 522l5 10l5 10l9 7M502 740l12 7l13 4l14 0M154 452l-1 13l4 12l5 12M393 764l4 8l6 7l6 7M629 794l6-5l8 1l8 2M624 782l5 3l3 5l4 3M407 655l7 8l6 9l6 9M567 754l5-3l5-3l6-1M249 469l4 9l9 4l9-2M278 593l5 2l5 3l4 4M340 636l6 7l0 10l-1 10M385 659l5 11l7 11l1 12M432 755l3 8l3 8l3 9M53 420l13 6l11 9l13 6M419 749l-1 9l0 9l3 8M277 555l0 9l-1 9l-3 9M502 795l9 1l7 7l9 3M302 587l9 8l5 11l4 12M40 394l-6 12l-5 13l2 13M352 721l-1 6l1 6l3 5M321 627l8 10l6 11l1 13M587 811l12 0l12-1l11 2M190 390l6 13l12 8l13 6M299 582l-3 6l1 6l1 6M116 459l12 6l10 9l12 5M700 787l7 0l7 2l7 0M657 815l9-1l8-3l9-3M683 768l6 2l5 3l1 6M128 420l9 0l8-2l8-4M97 341l7 8l6 9l6 9M87 410l-7 12l-12 6l-13 5M322 690l-5 12l-9 10l-12 7M18 366l6-5l8-2l7-4M680 751l4-7l6-6l6-6M233 520l4 4l4 4l4 4M321 705l-6 9l-1 11l-3 10M443 785l10 10l8 12l7 12M307 689l1 11l-1 11l-4 10M178 488l7 4l8 3l6 5M43 336l6-1l6-2l6 0M627 814l1 5l-1 5l-4 4M56 271l-5 3l-1 6l0 6M408 756l6 13l14 5l14-1M5 299l-7 8l-6 8l-6 8M535 796l14 4l13 7l9 12M680 825l7-2l8 1l8 0M75 408l5 8l0 9l-1 9M105 441l0 8l0 8l1 8M111 414l-1 9l4 8l3 9M492 760l5-5l4-5l6-3M229 543l7 3l8 2l6 4M322 708l11-2l11-1l11-4M290 517l3 5l3 5l3 5M628 805l12 0l12 3l8 10M207 478l6 8l5 8l7 7M348 647l8-7l4-9l6-8M294 631l8 1l8 2l8 3M371 733l6 7l4 8l1 9M177 479l13 5l14 1l14 1M15 311l-1 13l-4 13l-8 11M431 721l12 8l9 11l8 11M15 357l10 9l10 8l5 12M324 605l14 1l14 0l14 0M624 813l9-3l10-1l10-2M337 719l5 3l5 4l5 3M350 695l1 9l1 9l-3 8M432 788l6 1l6-2l6-1M387 718l7 5l7 6l9 3M547 801l6 8l5 9l6 9M24 54l3 6l1 6l-2 6M236 480l6 7l5 7l8 3M313 663l15-1l14-4l15 2M558 731l0 13l0 13l3 13M121 353l6 4l5 5l6 4M391 723l13 4l13 2l14 1M55 324l-5 5l-6 4l-7 3M176 451l9 9l11 8l8 10M570 733l6-2l3-6l4-5M537 772l-3 12l-5 11l-2 12M65 281l-2 9l-7 6l-8 3M522 770l7-2l7-2l6-3M495 692l11 5l10 7l7 10M608 771l11-2l12 1l8 9M333 632l-7 2l-7 1l-6 2M267 579l-3 8l-2 8l2 8M663 772l2-7l1-7l-1-7M356 736l9 9l3 12l0 12M34 305l2 10l4 9l2 10M512 769l2 6l2 7l-1 7M22 320l3 9l5 8l3 9M380 631l6-1l6-1l6-2M442 761l10 9l0 14l1 14M144 368l6 0l5-3l4-3M286 522l-1 14l3 14l9 11M133 366l6 2l6 1l4 4M51 375l12-2l12-3l12 5M429 648l6 6l4 8l4 8M390 628l9-1l9-1l9-1M84 445l8-2l6-5l6-5M141 461l-5 5l-5 5l-2 7M85 370l5-2l5 2l4 4M94 438l7 9l5 10l6 10M557 742l-2 5l-2 5l-2 5M624 787l14 3l15-1l13 6M450 658l10 0l9 1l10 1M86 370l-3 6l-3 6l-4 6M460 786l14-1l13 6l10 9M132 451l1 7l0 7l-3 7M569 789l10-2l9-5l8-6M303 579l11 3l10 6l11 1M27 384l6 0l5-3l4-4M57 424l1 9l4 8l7 5M622 791l6-8l9-4l9-3M424 778l2 8l4 7l3 8M511 720l13-3l13-2l12-4M291 654l5 8l9 1l9-2M100 408l8 3l8 2l8 3M671 814l4-10l8-6l2-10M370 742l9 9l7 10l6 11M64 374l0 8l2 8l5 6M464 797l2-14l-1-14l-8-11M183 424l5 6l0 8l-4 7M160 401l4 9l0 10l3 10M143 422l5 4l3 6l4 5M326 670l5 5l5 5l5 5M141 443l4 3l4 3l5 3M524 775l1 11l5 9l8 7M339 652l4 4l5 3l5 3M292 529l6 3l3 6l1 6M379 699l5 13l10 10l11 9M305 616l-1 5l-3 5l-2 5M579 767l1-10l4-10l1-10M302 620l4 6l6 4l6 4M294 583l-2 6l-5 4l-7 0M577 729l6-12l9-9l11-8M164 397l11 1l11 1l11-2M491 768l10-7l12-1l11-5M296 479l1 6l1 6l0 6M23 308l7 12l10 11l12 8M464 765l7-10l6-11l7-9M154 470l8 1l8-2l8-2M166 446l12 7l9 11l3 14M689 812l13 2l13-3l11 7M687 754l7 7l7 7l7 7M344 688l8 7l5 10l6 9M149 445l8 0l7-4l7-3M30 306l-9 7l-10 4l-6 9M243 538l4 8l5 8l4 8M11 110l-2 8l1 8l-2 8M703 757l10-9l13-2l12-6M190 503l5 3l4 4l5 3M348 639l7 13l2 14l-6 13M22 370l5 8l7 6l9 3M336 667l11 4l10 6l12 1M644 802l9-4l8-6l7-7M78 288l-3 11l0 12l-6 10M214 516l1 11l5 10l5 10M27 357l9 11l11 10l12 8M335 719l10 9l11 8l12 6M14 85l-4 8l-3 9l-3 9M702 758l-2 7l-2 7l-3 7M70 422l5 8l6 7l5 9M33 346l1 14l-8 12l-8 12M333 622l3 14l6 13l3 14M570 803l11 1l11-1l11-4M540 764l7-11l6-11l7-11M674 817l3 10l-3 10l-3 10M240 499l7-11l8-11l7-12M256 578l5 2l5-1l5-2M135 403l5 13l2 13l-7 11M378 706l5 6l2 8l1 8M526 765l10 2l10 2l8 6M422 703l7-1l7 0l7 0M486 791l5-5l5-5l5-5M342 638l5 6l4 7l2 8M251 563l-3 8l4 8l6 6M130 465l6 12l1 13l-4 12M691 770l6 4l7 1l7 2M397 749l7 3l7 3l6 4M335 658l6 0l6 1l6-1M590 788l8 10l10 7l12 4" fill="none" stroke="#c81ad0" stroke-width="2.2" stroke-linecap="round" opacity=".85" style="filter:blur(.5px)"/>
<path d="M12 172C26 200 52 216 84 232" stroke="#e830ee" stroke-width="12" fill="none" opacity=".5" stroke-linecap="round" style="filter:blur(3.5px)"/>
<path d="M150 330C180 360 215 380 262 388" stroke="#c81cd0" stroke-width="9" fill="none" opacity=".4" stroke-linecap="round" style="filter:blur(4px)"/>
<path d="M345 428l8 10M70 398l5 4M352 440l8 6M440 412l8-3" stroke="#d020d8" stroke-width="2" fill="none" opacity=".85"/>
</g>
<rect x="357" y="450" width="98" height="6" fill="#fff"/>
</g>
<g transform="translate(1183.5 1333.2)" clip-path="url(#clipd)">
<rect width="463.8" height="463.4" fill="#020202"/>
<defs>
<g id="nuc2" transform="scale(.5)" fill="none" stroke-linecap="round" stroke-width="7.2">
<path stroke="#383838" d="M64 6l1 1m40 39l-1 3m-32 17l2 1m-54 14l-3 2m181-5l-1 1m275 13l0 1m-192 1l0 3m-88 11l-1 1m-175 5l2 1m-15 21l-3 3m40 2l2 3m-37 3l-2 3m13 1l-2 1"/>
<path stroke="#464646" d="M346 0l-3 1m-105 2l1 3m227 2l4 1m23 5l-1 3m56-8l3 0m-481 17l-1 0m7-3l-1 2m8-3l3 2m143 1l3 1m279-5l1 2m-39 6l3 1m17 1l2 1m201-4l-3 1m-599 10l0 2m131-8l3 1m22 3l-4 1m250 4l0 1m-434 6l-2 3m30-2l-1 1m292-6l-2 1m161 3l0 2m-477 6l1 0m426-2l-2 3m-403 1l-2 1m399-2l2 3m-374 4l3 2m200-3l1 1m198-1l0 2m37-2l0 1m-446 10l1 0m84 8l2 2m-116 6l1 4m13-3l1 1m89 0l1 0m258 1l4 1m-270 7l1 2m59-3l3 2m-204 3l-1 1m7-1l3 2m139 1l2 2m49-5l3 1m-142 5l-3 2m96-3l2 3m39 7l-2 0m80 0l-4 0m-119 7l0 4m-104-1l-1 3m116 4l-1 1m-131 21l-1 1m25 3l-1 2m129 8l-2 3m-117 5l-1 2m85 7l-3 0m-104 23l3 1m116 0l1 1m-109 8l-2 3m96 9l1 1m149 11l0 1m1 5l0 2m467 2l-2 2m-513 4l2 0m-240 7l-2 1m288-5l-3 1m103 3l-1 1m-410 5l0 2m255-4l1 2m-41 20l0 2m-137 16l-3 2m-6 49l-1 1m-19 5l-3 2m-37 9l-1 4m43-1l0 2m-42 0l0 2m178 0l0 2m-44 5l-3 1m-151 25l1 1m8-5l-1 2m154 5l-4 2"/>
<path stroke="#545454" d="M447 1l-3 2m93-2l-3 2m297-3l2 1m-773 3l0 3m142 0l1 1m118-3l-2 3m27-4l2 2m46 0l2 0m8 1l-1 1m19-4l-1 3m102 1l-3 1m19-1l2 2m19-4l-2 2m18 0l0 1m163-4l2 1m47-3l1 0m36 1l2 1m45-1l-1 0m-627 8l-1 2m77 0l0 1m31-2l2 0m222 0l-3 1m20 1l-3 1m119-1l1 2m140-3l2 0m-813 7l2 1m5-5l2 1m17-1l1 2m189-1l-2 1m35-2l-1 4m4-5l1 2m19 1l0 2m80-5l-3 1m14 1l2 1m170 1l1 1m53-3l2 2m184-4l0 4m100 0l-1 1m-614 2l3 0m20 1l-2 0m16-1l2 1m141 3l1 1m14-6l-2 1m60 3l-3 1m49-3l3 1m296-2l-3 2m-688 8l1 2m201-6l2 0m37 1l-1 1m79-1l1 0m-235 9l2 0m398-6l-2 3m-645 4l3 1m156-1l-1 3m9-4l1 3m66-1l1 0m22-2l-1 0m63 6l-2 2m42-4l1 1m28-1l3 1m56-3l0 1m65-3l-1 0m4 5l1 1m-517 5l-2 3m261-7l2 3m218-2l-1 3m151-5l-1 2m-575 8l-2 1m140-1l0 2m26-5l0 3m17 1l1 3m565-5l-1 1m-632 3l3 1m27 1l2 1m51-1l-4 1m152 1l1 2m-252 2l-2 1m59 1l1 1m20-3l-1 1m37 1l2 1m23-2l1 2m-271 2l-2 2m54-1l2 0m76 2l0 1m10-2l1 2m108-1l1 2m83-2l1 3m-186 2l0 2m40-1l1 0m196 1l3 2m66-2l-2 3m7-7l-2 0m36 0l-1 4m148-5l0 1m-478 9l-1 2m96-7l-1 1m9 1l-2 2m200-1l1 2m14-2l-1 1m120 2l-3 0m-613 1l0 2m29 1l2 3m70-4l1 0m57-2l0 2m14 0l1 1m103-4l-2 1m133 2l3 1m39-3l-2 3m-354 5l-1 3m65-5l2 3m42 1l1 3m71-3l1 1m146-1l-3 1m11-5l1 2m228 1l-3 3m-608 5l1 2m90-7l0 1m25 3l-2 0m26-5l-1 0m17 5l1 0m5-1l0 2m56-6l2 3m92-1l-1 1m-336 6l-1 0m101 0l3 1m47-2l-2 2m170-1l-3 2m442-3l0 3m103-1l-3 2m-863 4l1 2m28-2l-1 2m87-2l-1 1m28-2l2 2m25-5l1 1m238 0l1 1m91 0l-2 3m-475 5l0 1m25-2l3 0m38 2l-2 3m97-8l-1 1m77 0l-1 0m75 4l2 0m50-2l3 1m105 2l-3 2m166-7l-1 2m125 3l0 2m-682-2l1 3m44 3l-2 0m69-1l-2 1m427-5l-1 1m112 1l-3 0m-517 4l0 1m91-1l-2 0m93 1l2 2m228-4l2 0m30 1l3 1m75-1l-4 1m-564 5l1 2m208-3l-2 0m10 4l1 1m421-5l-1 4m-383 7l3 0m49 0l-1 3m160-5l-3 0m-616 3l1 3m30-1l-1 1m68 3l-1 2m517-5l1 2m-503 6l0 2m4-6l1 1m50 1l0 4m248-1l1 1m64-5l3 0m-495 8l0 1m109-1l2 1m31 1l4 2m39-6l-1 3m36 1l-2 0m375-1l3 0m-500 1l2 1m9 5l2 2m288-6l-1 2m-235 4l-1 2m103-1l-3 0m189-2l3 0m55 1l-1 1m171-3l1 1m-542 9l2 3m25-5l2 1m-8 7l-1 1m253 1l-2 1m333-6l3 1m-734 10l3 2m1-5l3 2m30-3l-2 1m41-1l-3 3m31 0l2 3m4-5l-2 0m25 2l0 3m6-5l1 2m147-4l0 4m81-2l1 3m131-1l-1 1m266-3l-1 1m-619 3l0 1m22 1l2 2m74-4l0 3m-227 3l0 1m73 3l3 1m332-6l-4 0m-302 11l3 1m27-2l-3 0m76 0l0 2m-294 2l-1 1m166 2l-3 1m418-1l2 1m19-5l-1 2m273 2l1 0m-785 3l2 2m77-1l0 2m23 1l3 0m126-4l-1 1m276 3l-2 0m25-3l3 1m73-3l-1 1m-659 9l2 1m36 0l0 3m69-5l-1 2m82-2l1 4m-161 3l0 2m30-2l-1 1m17-5l-2 1m62-2l2 1m21 4l2 2m63-5l-3 1m-244 8l0 2m12-5l2 2m11 0l1 1m35-2l-1 1m8-1l0 4m102-6l0 3m39-2l-1 2m219-2l-1 4m98-3l1 4m151-4l-1 0m-689 5l-2 2m149 1l-2 3m71-6l2 2m-202 3l-2 3m19-1l1 0m103 0l-2 1m32-2l1 1m55 2l-2 0m19 1l1 1m25-3l-3 3m86-2l2 0m69-2l-1 3m-413 3l-2 1m92-1l-1 1m151-4l-3 1m16 0l3 0m618 0l-3 2m31-1l1 0m-896 10l0 2m36-3l1 0m66-3l-1 2m35-3l-1 2m15 1l2 2m71-2l-1 1m101 1l0 1m207-7l-2 1m221 5l2 3m9-5l-2 2m-669 1l-2 0m144 1l3 1m-77 6l0 1m256 1l-4 0m109-2l3 0m339 1l1 4m-813 3l-3 0m162 0l-1 2m244-5l2 2m330-1l1 0m53 0l-2 1m-842 5l2 4m92-5l1 4m21-2l-2 1m44-4l-2 1m57 0l0 4m135 0l-2 2m-316 2l4 0m63-2l-3 2m65-2l0 4m26-5l1 2m37 2l2 3m487-6l-1 1m71 2l-1 0m30-4l-3 2m-686 6l-2 1m49-3l2 0m-62 7l-3 0m9 0l-2 3m552-1l-3 1m-613 7l-2 2m103-4l-2 2m35-6l2 0m263 5l3 1m205-3l1 0m-145 8l0 2m-473-1l2 1m79 2l-1 0m53 0l1 3m68-4l3 0m-232 6l2 1m50-2l3 2m-49 6l2 3m31 0l1 2m431-4l1 2m273-4l1 4m-756 2l2 2m75-2l-2 2m122 8l1 1m6-4l-3 3m16-2l-1 2m449-5l2 3m88-1l0 2m-730 5l0 2m13-2l4 0m781 0l3 2m-727 1l-2 2m-82 3l2 3m659 2l-3 0m244-3l1 4m-814 3l0 3m74-1l2 1m175-2l0 3m28-4l-1 1m-385 6l1 1m55-3l-1 3m29-2l-2 3m65-6l3 1m46 2l2 2m-33 7l1 1m23-5l3 2m432 1l0 3m255-3l0 1m-743 4l-3 1m371-3l1 1m75-2l-2 1m185 3l0 3m8-3l0 3m-736 0l-1 1m32-1l-1 3m680 1l0 3m-715 2l1 1m27-3l3 2m36-2l-1 3m49 2l-2 3m-137 3l-2 2m491 4l-1 1m-352 8l-1 1m2-4l2 1m546-2l1 2m-62 5l0 2m-619 4l-4 1m388-1l-2 1m-262 8l1 1m492-1l3 2m118-5l-1 2m-639 5l1 2m580-3l0 1m-515 12l-3 2m-155 11l-3 1m119-3l2 1m602 1l-1 0m-639 2l0 1m306 1l-2 3m-280 6l2 3m149 8l-2 1m-120 5l-1 0m213 1l-3 3m-231 3l-1 1m56 1l-3 2m123-1l-1 0m-161 5l-1 0m20 5l-2 2m-158 1l0 2m164-2l1 1m154 2l-2 1m-278 4l-1 1m153 15l-3 2m39 3l-1 1m359 3l1 3m-26 13l-3 2m-482 9l1 4m11 5l0 2m312 3l-1 3m-273 3l-3 1m10-5l0 3m252 2l1 3m-277 10l1 3m534 2l-1 4m-388 60l1 1"/>
<path stroke="#626262" d="M283 0l1 3m308-1l-3 1m13-2l-1 1m10 1l1 2m113-4l-1 0m137 0l3 1m40 1l2 2m-676 0l1 3m39-3l-2 2m14 2l-2 1m48-6l3 2m4 1l-3 2m53 0l2 0m46-5l2 0m58 2l-3 2m117-1l2 1m34 0l1 2m39-6l1 1m43-1l2 1m28 0l-1 0m21 0l3 0m35 1l-1 1m23-2l2 0m13-1l-1 1m9-1l2 2m48 1l-2 2m-694 1l-3 1m17 1l-1 0m85 0l0 2m60 0l0 2m8-6l-1 4m123 0l0 4m44-6l0 1m65 0l-1 3m56-3l-3 2m78-1l0 1m53-3l-2 2m31-3l-1 1m7 1l-1 1m34-1l-3 1m7-2l2 1m33 2l-1 3m12-4l3 2m-680 4l3 1m0-3l-3 2m94-3l3 2m30-2l1 1m-1 2l-1 1m47-5l-1 3m12 0l2 0m38 2l1 3m11-7l1 1m57 2l3 1m-1-6l1 1m74 5l1 3m14-8l0 1m33-1l1 2m30 0l2 3m38-5l-3 2m46 3l-1 4m37-8l2 3m-1 0l0 4m47-3l0 3m36-8l-1 3m19-1l0 2m-846 2l3 0m147 0l-2 2m41 1l1 3m77-2l-3 0m19-1l1 1m8-5l1 2m167 0l2 0m33-1l-1 1m30-1l1 2m66 1l0 1m21-3l2 2m4 1l2 0m104-3l0 3m43-2l-1 2m59-3l-2 1m-665 8l0 1m16-4l-1 3m30-3l-3 1m21 2l-1 3m15-3l0 1m29-4l0 1m6 2l0 4m14-7l-3 2m28-1l-4 2m20 0l2 3m14-4l-4 1m88-4l1 3m24 0l3 1m49 0l-3 2m30-5l-1 0m28 2l2 3m16-1l1 2m26-6l-3 1m11 2l1 1m87-1l-1 0m32 0l2 0m59-1l1 4m7-8l-1 3m36 3l-1 4m-691-4l-1 3m66 2l2 3m44-7l-4 0m53 0l1 0m13 4l0 1m5-2l3 0m9-1l0 2m54-2l-1 2m37 1l-2 1m87-4l1 2m20-1l-1 1m16-5l-1 1m78 4l1 0m25-4l-3 0m19 4l-1 1m44-5l-2 1m16 2l0 2m11-3l-1 3m42-5l-2 1m72 3l2 1m-679 3l-1 1m96-4l2 3m3 3l1 1m21-4l4 0m63 1l0 1m41 0l0 2m23-2l-4 0m50-3l-2 3m195 1l-1 4m14-7l0 4m66-4l-1 0m11 1l-1 0m57 2l-1 3m23-8l-4 1m-680 9l-2 1m28-1l-1 3m12-4l0 2m28-2l2 0m65-2l2 2m20-3l-2 4m20-2l0 1m27-3l-1 1m40-1l-3 1m11 0l-3 2m26 2l0 2m22-8l-1 2m4 0l1 4m23 0l1 1m16-5l0 2m106-3l0 2m39 0l-2 2m62-3l-1 1m45 2l4 1m26-6l1 2m24 3l4 2m8-4l-2 1m50-1l-3 0m-847 8l2 1m204-3l-3 1m56 2l1 3m4-8l-2 0m15 3l-1 2m15-2l-1 1m74-3l0 2m14-4l2 1m75 4l-2 2m11-3l-3 2m12-4l-3 1m22 3l3 1m104-1l0 3m26-3l-3 1m30-2l0 2m26-6l-2 0m21 4l3 1m77-4l2 1m41 1l0 1m9 0l-3 0m18 0l1 3m-626 0l2 1m79 0l3 1m27-3l2 2m45-1l2 1m66 1l2 2m32-5l0 2m79-3l1 1m29 5l2 0m47-6l-2 1m13 3l0 2m56-2l-1 1m5-4l2 0m8 4l-2 1m14-5l0 1m101-1l4 0m-686 8l0 1m30-4l3 1m10 2l-1 3m34-2l1 0m17 1l0 2m32-7l-1 4m19-4l-4 0m14 2l-1 2m11-3l-1 0m28 1l2 3m66-1l-1 2m10-3l1 1m8-3l2 3m12 0l-3 1m19-1l-1 0m24 2l-2 3m12-9l-1 2m7 2l1 1m18-2l4 1m25-3l-3 1m72-2l4 0m155 3l0 1m51-1l-2 2m-628 7l0 2m14-7l-2 3m11 1l0 1m16-1l-2 0m14-3l1 0m2-2l2 2m21 4l-3 1m46-6l-3 0m44-1l3 1m19 1l3 1m51 1l3 3m69-2l0 2m23-6l-2 0m83 0l-1 3m15-4l-1 3m43-1l1 2m7-3l1 3m12 0l2 0m75-2l0 3m97-3l-4 0m-626 9l-1 3m93-7l1 1m2 0l0 4m50-5l-1 4m79 1l2 3m7-5l-1 2m74-1l-2 0m130 0l2 1m68-5l-1 2m5 2l-3 2m16-5l0 4m13-2l-3 1m20-1l0 2m14-1l2 1m47-3l0 3m-851 2l1 2m155 0l2 3m36-5l-1 3m71-3l2 0m86 1l0 2m84-4l3 2m86-3l2 3m147 2l-3 1m11 0l0 4m1-9l0 2m42-2l4 1m11 3l-1 2m132-6l2 0m13 1l-2 2m-747 6l0 1m77 1l3 1m10-1l-2 1m29-1l-3 1m13-2l-2 1m10-3l1 4m17-3l3 1m7 0l2 1m37-3l-2 2m14-2l-1 1m26-1l-2 3m103-5l-3 2m7 3l1 2m8-5l1 0m25 0l-4 0m40-2l-2 1m77 1l1 1m7-3l1 3m11-1l2 3m15-1l2 2m171-5l-3 1m-769 6l-2 0m50 2l4 0m33 1l1 0m105-1l2 3m66-5l2 1m26-1l-3 1m108 1l1 2m9-1l-3 3m158-8l-1 3m20-4l0 3m126 0l2 1m38-2l2 3m27-1l1 4m12-6l1 1m12-1l-3 0m12 0l-1 2m-806 7l1 2m35-6l1 1m34-1l0 2m49 0l1 1m34-3l0 2m14-1l-2 1m4 1l1 2m17 0l-3 2m54-8l-3 1m74 5l2 0m17-4l0 1m11 2l2 0m40-4l3 1m12 4l-2 0m18-5l-2 1m138 2l2 0m21 2l2 2m49-6l3 1m138 2l-2 1m-759 4l1 2m38-6l1 3m37 3l-1 2m82-8l2 0m54 3l2 3m76-5l-3 1m73 2l-2 0m10 0l0 2m66-2l2 2m56-5l-1 1m7-2l2 1m87 4l-2 1m18 0l2 1m31-2l2 0m91 0l-1 1m-712 2l-1 0m29 0l-1 1m6 1l2 1m58-4l-2 2m28 3l3 2m12-3l2 0m25-4l-1 1m109-2l1 2m8 2l-2 0m116 2l1 3m9-7l-1 0m15-1l-2 2m117-2l-2 3m78 0l-3 2m5-1l2 2m14-3l-1 1m72-1l2 2m43-1l1 3m53-5l-2 1m-786 6l-4 0m38 1l-2 1m51-3l2 1m75 0l0 2m29-1l1 1m98-1l-2 1m82-1l1 2m8-7l0 2m301-2l-2 2m6-1l-3 1m39 4l-1 3m19-3l-1 1m44-6l2 1m-838 5l-2 1m24 3l-3 2m26-6l3 2m28 1l3 2m51-4l2 3m3 1l-1 2m42-8l2 2m10-2l-1 2m73 4l-1 3m36-9l3 1m110 1l2 2m53-4l0 3m148 0l-2 1m59-3l-1 1m26 4l1 1m49-5l-3 1m-679 8l3 1m23-2l-1 1m28 1l4 1m67-4l-1 1m93-2l2 2m49-3l-2 2m36 2l3 3m23-7l-1 3m27-4l-2 3m23 1l1 4m33-4l2 2m14-5l0 3m7-1l3 1m87 1l3 3m23-6l-1 1m68 1l2 1m8-5l0 3m14-3l1 1m13 4l3 1m3-2l-1 3m32-2l3 1m-743 4l-1 2m38-1l1 2m14-4l0 2m95 1l0 1m39-5l1 1m15-1l-3 2m7 0l3 2m19-3l1 0m34 2l-3 0m29-1l3 0m103-1l2 1m31-2l-2 0m24 2l-1 1m5-3l1 3m32-4l4 2m111 0l-2 2m78-3l1 1m21-1l-1 2m34 1l-1 0m70-2l-1 2m-714 3l2 2m15-3l2 2m25 1l1 1m14 0l0 3m25-5l2 3m16-3l0 4m121-5l-1 1m7 2l1 1m41-1l1 1m26-1l4 1m16-2l0 2m39-3l2 2m98-4l3 1m33 0l3 2m2-1l1 2m52 0l-2 1m45-2l-1 1m23 0l-1 3m34-2l2 1m29-2l0 3m-741 3l-3 2m18-5l3 0m15 2l0 2m31-4l-1 2m20-4l1 1m4 1l-3 0m42 0l2 3m57-3l-3 3m73-2l-3 2m45-4l-1 3m72-4l0 3m24-2l1 3m33-4l-1 1m240 2l1 2m15 1l1 3m48-6l-2 1m-764 4l3 1m22-3l0 2m20-1l-2 0m49 0l-2 0m69 4l0 2m10-3l2 3m43-5l3 1m47-2l3 1m16 0l-2 0m54-1l-2 2m7 3l2 1m8-6l-2 2m31 2l1 3m8-8l0 1m21 5l3 1m10-2l-2 0m18 0l-3 2m70-4l-2 4m61-4l1 1m74-3l-4 1m134 2l2 1m8-1l1 1m38-4l2 3m-792 4l2 1m43 0l1 2m100-2l1 0m98 1l-3 2m10-4l-3 2m8 1l2 2m13-2l0 2m26-1l-1 1m120-4l-1 1m45-4l-1 1m37-1l-1 1m5 3l-2 1m93 0l3 1m48-2l-1 2m77-3l2 1m50 1l1 1m-719 5l-1 1m7-2l2 3m13-2l2 1m31-4l-1 1m66-2l-1 0m16 1l-2 1m46-1l-3 1m13 2l3 2m157-6l2 2m257-1l0 1m12-1l1 2m13 1l-1 2m17-7l-1 3m33 1l-2 3m-733 3l-1 2m27-4l-1 3m99-5l-2 0m54 4l1 1m38-2l-2 3m93-6l0 2m11-2l-2 3m45 2l2 0m19-4l2 1m54 1l4 1m5-3l1 3m123-3l2 0m215 3l-3 3m-801 4l-1 1m28-4l-3 2m12 1l2 1m23-4l-3 3m6-2l0 2m33 0l-3 3m10-4l-4 1m44 1l-1 2m21-5l2 0m4-2l0 2m27 2l2 0m59-1l1 0m86-2l-1 0m62-2l0 2m227 0l-1 0m142 0l2 2m43-2l0 1m6-2l0 2m-812 9l-1 1m35-3l-2 1m4-1l1 0m53 0l0 2m24-2l1 3m6-6l-2 0m41 2l3 1m26 1l1 2m6-6l1 0m12 4l0 4m4-9l1 2m25 3l2 0m12-1l2 0m62-3l-1 1m33 2l2 2m73-3l2 1m138-3l-1 1m16-1l0 2m6 1l0 1m12-1l1 0m103 0l3 1m24-1l0 1m5-4l-1 2m57 2l0 1m9-1l-1 2m-790 5l1 1m59-4l1 3m40-4l-1 1m45 0l1 1m350-1l-2 0m55 0l2 2m6 0l0 4m4-9l-2 2m194 3l2 2m-768 0l-1 1m26 2l-1 2m5-3l1 4m28-6l-1 4m62-3l-2 1m96 1l-1 1m13-1l1 3m13-6l1 1m35 0l-1 0m3 3l3 1m54-3l1 3m15-2l-2 1m20 0l1 3m179-5l2 1m27-4l-1 0m31 4l0 1m89-1l1 2m64-4l0 3m31 0l2 1m37-3l-2 3m-796 5l0 4m42-3l1 3m19-4l-1 1m30-3l-1 1m5 0l1 1m44 0l-1 1m17-4l-3 0m270 2l-2 1m37-1l-1 1m70 1l2 1m19-5l1 2m10-1l2 0m175-1l1 2m11-3l-3 0m17 0l0 2m17 2l1 0m10-1l3 0m-802 6l1 1m32 1l0 1m54-6l-2 2m43 0l-3 0m24 3l0 1m48-6l-1 2m29 0l-1 0m6 1l-1 3m4-6l1 1m290 3l3 2m24-7l-1 1m55 2l1 3m2-6l3 3m8-2l2 3m99-1l1 3m-822 5l2 1m35-6l2 1m36 4l-4 0m6-2l-1 3m8-5l2 1m19 2l0 2m14-5l1 1m73 3l-1 1m10-2l0 3m20-4l-3 1m15-2l-2 0m12 0l2 2m57-3l0 2m121 0l0 3m77-5l-1 0m13 2l1 2m47-2l2 2m25-4l2 3m42-1l2 2m10-1l0 2m12-3l2 3m23-3l-1 4m29-1l1 2m0-5l-1 2m151-4l-2 1m-755 5l0 1m65-1l-1 3m54 1l-1 3m15-3l2 2m50-4l1 2m220-5l1 1m28 3l-3 0m9 0l0 3m88-2l2 1m25-6l2 0m34 4l1 3m87-7l1 1m-773 11l-1 1m12-4l2 3m7-5l-2 2m80 0l-2 3m25-6l-3 1m18 5l-3 0m14-1l-1 1m70-6l1 1m141 5l1 2m29-5l1 3m25-1l0 1m12-3l-2 3m95-2l-1 0m114-4l0 2m14 4l0 3m7-4l1 0m15-1l-2 0m117 1l-1 1m96-1l-1 1m13-1l2 2m-905 4l2 2m61-3l-1 0m64 2l3 1m98-4l0 1m37 2l3 2m23-7l0 1m207-2l2 0m86 0l-2 0m142 2l-2 1m14 2l0 3m-688 3l3 2m99-5l-1 0m53 2l2 2m17-3l1 1m19-1l-1 1m4 2l1 1m40-3l-2 0m44-2l1 1m29 2l1 1m25-1l-1 3m8-4l-1 1m21-1l2 1m27-2l-1 0m103 0l-3 1m134 0l0 1m15-3l-1 1m21 0l-3 2m73-3l1 2m75 1l2 2m9-6l-1 1m46 3l1 2m-893 4l-2 2m80-2l3 1m69 0l0 2m8-4l-1 1m59 0l-2 2m62-1l-2 2m42-4l-2 3m59-6l-2 2m22 2l-1 1m37-3l2 1m51 1l0 1m61-4l4 1m121-1l-2 1m34-1l-1 1m39 2l0 4m111-6l0 2m32 1l2 3m12-7l3 0m-844 5l-1 1m8 3l0 3m1-8l2 1m26 4l-1 3m155-7l2 1m121 3l1 1m75-1l4 1m28-4l-2 0m4 3l4 0m22-4l-2 0m79 1l1 0m13-2l-1 1m196 4l0 1m-766 3l-1 2m7-5l-1 2m15 0l-1 0m10 1l-1 2m27-3l-1 0m69 0l-2 0m110 1l-2 0m25-1l0 2m67-2l-1 1m32 2l-1 1m133-5l-1 3m24-1l1 2m94-3l-1 1m6 3l3 1m2-6l2 1m105 0l1 2m6-1l2 3m87-3l2 2m37-4l-1 3m-901 3l3 2m20 2l1 3m4-4l-2 0m67-1l-3 1m19-1l2 3m43-2l0 2m28-5l-4 0m84 3l3 2m24-6l2 3m7-1l0 2m13 1l-1 1m57-2l0 3m20-1l-1 1m36-6l3 0m67 3l0 3m8-4l-1 2m13-1l-4 0m23 1l-3 3m19-6l-1 0m187-1l2 3m120-3l-1 3m13-3l4 0m13 5l-3 1m24-5l-3 2m11-4l-2 1m-885 9l-2 0m22-1l-1 2m14-5l1 1m27 1l-1 2m35-2l1 2m27 0l-1 0m12-2l-1 0m38 3l-3 2m21-6l-2 0m14 5l2 3m48-8l-1 3m34 0l1 1m70-3l0 2m100-4l-2 2m39-1l-2 2m154 1l-3 2m59-1l1 2m16-5l1 2m136-1l-1 1m8 1l-2 3m-884-2l-1 0m17 1l1 0m20 4l1 1m14 0l-1 2m15-6l-1 1m30-2l-1 1m86 1l1 4m30-4l-3 2m24-5l0 1m59 3l0 2m96 0l3 2m6-8l2 1m6 5l-1 1m25-1l4 0m55-5l-3 2m64-2l-3 3m150-2l1 2m75-2l-2 0m4 2l-4 2m37-3l0 3m91-4l1 3m13-4l1 1m-913 8l3 0m15 1l-2 0m97 0l2 1m42-4l0 2m7-2l0 1m13-3l0 2m32 2l1 3m39-3l0 2m148-3l-2 2m88-2l1 1m66-2l-4 1m178 3l1 0m139-1l0 3m-836 3l1 2m11-2l-1 0m14-4l-1 4m16-1l-3 1m30-2l2 1m34-4l1 4m95-3l-1 2m40 2l-2 3m20-3l1 2m104-5l0 2m8-1l0 2m17-1l-1 3m18-5l-3 1m96 0l1 1m22-1l-1 1m197-1l-1 2m27-4l-2 0m14 4l0 2m59-4l0 2m19 1l-1 1m-848 3l3 1m34-2l4 1m30 0l-3 1m68 0l3 1m3-1l0 1m16-6l-1 1m48 4l-3 1m47-5l0 2m9-1l-2 3m151-4l2 3m-2-1l1 2m63-3l-1 1m20 1l-2 0m21 0l-1 1m57-2l0 1m70 1l2 1m9-1l-1 4m28-4l-2 2m31-1l0 3m97-6l2 1m24-1l-2 3m16-5l0 1m-762 5l2 1m62 4l3 0m28-4l1 0m44 2l-1 3m56-4l1 1m82-4l-1 3m112 3l-1 1m5-7l1 2m51 4l1 2m170-5l-1 2m65-4l-1 2m11 0l2 1m53-3l-4 1m56-1l2 2m-810 4l3 3m13 2l-1 1m43-6l0 1m25-2l2 0m115 1l-2 1m31-2l2 2m33 3l1 2m38-4l1 1m12-1l1 2m5-3l0 2m333 0l-3 0m8-1l3 2m20-4l-1 2m16-1l-3 3m39-3l-1 1m13-2l1 1m-805 10l3 0m12-5l-1 3m40-1l0 1m44-2l1 3m27-4l-1 2m25-2l-1 4m76-2l-3 1m17-3l3 3m19 0l1 3m108-5l-2 1m106-1l-3 1m11 1l2 0m67-1l2 1m123-1l0 1m121-2l0 2m52-1l-1 3m-864 6l3 0m7-1l2 1m-1-6l0 1m14 2l0 3m15-5l-1 1m16 1l1 1m36 1l-2 3m11-2l2 2m35-4l3 2m78-5l2 1m-2 3l0 2m4-3l1 1m44-3l0 1m51-1l-3 2m74-2l1 0m66 3l-2 2m26-6l-3 1m102 2l2 2m35-6l1 4m42 0l-1 3m14-3l1 2m46-3l-1 1m132 2l-2 1m-790 1l2 2m67-3l-1 2m36-3l3 2m23 1l-2 2m46-2l1 1m21-2l0 2m22-2l-3 0m12-1l-2 1m189 1l-2 2m14-4l1 2m39 0l-1 2m28-2l0 3m12-4l1 0m53-1l1 2m10-3l3 3m191-1l1 1m63-1l0 4m-883 2l-1 1m26-2l0 3m13-1l-3 0m18 2l-1 1m21-2l-1 1m20-4l-2 2m86-3l-2 1m29 1l2 2m53 1l-1 2m14-6l1 0m11 2l1 2m149-3l1 2m45 0l1 3m47-4l0 3m13-3l3 1m31-3l-3 2m35-3l1 3m76 1l3 3m64-6l1 1m12 1l1 0m24 0l3 0m30 2l-1 3m-790 0l-2 2m17-3l-3 1m21 2l3 1m120-2l-3 0m35-2l-4 1m31-2l-2 2m133 3l0 1m151-4l1 2m57-3l-1 1m20-1l1 2m254 2l-1 2m-803 3l1 4m29-5l1 0m38-3l3 1m6 5l-3 1m8-5l-1 3m8-5l0 1m11-1l-1 4m41-2l0 4m6-4l1 2m20-3l-1 0m28 0l3 2m0 2l-2 0m48-3l-2 1m134 1l-3 0m17 1l0 3m144-7l-1 1m53 1l3 1m21-1l-1 2m29 1l1 2m130-7l-2 0m57 0l2 3m25-1l-1 1m-879 5l-1 3m8-5l3 1m23-1l3 1m82 1l3 0m25-2l-3 2m8 2l1 2m9-6l2 1m78 3l1 1m18-2l1 0m5 0l-2 1m49 0l2 3m49-2l-4 0m13-3l1 1m193 1l0 3m5-7l0 2m107 0l2 3m60-1l-2 2m30-6l2 0m26 3l-2 0m8 1l-3 1m-815 2l-3 1m52-1l2 1m5-1l0 3m10-2l0 2m27-2l-1 2m24 0l2 0m38-3l1 1m35 2l2 1m54 0l1 0m11 0l-1 3m79-8l1 2m153 3l0 1m26-3l2 2m75-2l1 2m8-5l4 1m18 4l0 1m5-7l-2 3m26-1l0 1m25-1l1 3m106-3l-2 3m55-4l2 3m56-2l1 0m-893 5l3 1m45 2l-2 1m40-1l-1 2m22-3l0 2m50-5l-1 1m9 4l-1 2m9-5l1 2m25-1l0 3m22-2l-2 0m74-3l1 1m62 1l0 1m89-3l1 1m85-1l3 1m-555 6l-2 1m10 1l-1 1m34 0l-1 0m46-2l-3 2m13-3l0 3m36-3l-3 1m41-1l0 4m20-2l2 1m117-4l-1 2m148-1l-3 0m46 1l-1 1m136-2l2 3m32-2l1 1m72 0l-1 2m9-3l-2 3m13-2l3 2m77-5l3 2m70 1l-3 1m-830 4l-2 3m43-2l4 1m2-3l1 1m39 3l-2 2m9-3l1 2m39-6l0 3m42-2l1 2m15-3l2 1m13 3l-2 2m7-7l-3 2m41-2l-3 2m102 4l2 0m86-1l-2 1m8-2l3 1m149 0l4 1m104-2l-4 1m42-2l1 0m17 3l3 0m30-4l1 2m-860 4l-2 2m17 2l0 1m88-3l2 3m4-4l0 2m60-1l-2 2m78 0l1 1m122-1l2 2m28-3l2 0m180-1l1 1m8-2l0 2m13-5l2 2m134-2l4 1m80 3l0 3m20-2l2 2m-816-1l-3 2m232 0l-2 1m3 2l3 1m44-4l-1 1m146 2l-1 1m32-1l0 2m141-4l0 1m64 1l-2 1m2-5l-3 1m41-1l2 1m30-1l-3 2m20 1l0 3m107-4l-4 1m17-1l-2 1m-878 3l1 1m16 2l-1 3m15-4l-4 0m16 1l1 3m14-4l-2 3m14-6l-3 1m53 2l1 3m39-6l2 2m21 0l-2 2m24 0l0 2m217-3l-1 2m26-5l-1 1m197 3l-1 2m-661 5l3 0m9-3l2 0m28-1l1 1m30 1l-1 1m9 1l-1 1m21-1l-1 2m14-5l-1 3m47-2l-1 1m9-3l-2 0m25 0l1 1m32 2l0 3m8-5l-2 0m23 3l-4 1m41-2l2 1m9-2l0 1m58 1l-3 0m36-3l1 1m174 3l1 2m20-3l2 3m18-2l0 1m18-7l0 3m18 1l-1 2m31-1l-1 3m45-6l2 3m164-1l0 1m-892 5l-2 1m19 1l3 1m6-6l1 1m48 3l2 1m4-1l0 3m51-4l2 0m37 2l-2 3m175-9l1 2m107 2l-2 1m205 1l0 3m37-8l0 2m18-1l0 4m114-6l-3 2m11 1l-3 2m27-4l1 1m27-1l1 3m-886 8l2 3m156-7l-2 3m59 0l2 2m57-6l4 1m2 4l4 0m228-5l2 2m61 2l0 3m35-6l0 2m7-3l2 0m28 1l0 2m91-3l-4 1m18 1l2 0m50 0l-2 2m68-3l2 1m-854 8l1 2m50-4l0 3m31-5l1 3m17 2l-1 2m17-3l2 0m82 0l3 2m24-3l0 2m44-5l0 2m30-1l0 1m74 2l0 2m24-4l0 1m93 0l3 2m55-3l2 3m91-6l3 1m12 3l-2 2m68-2l-1 3m17-5l2 2m46 1l-1 1m94-2l-2 2m-842 6l-3 2m10-3l2 1m10-2l-2 1m29-3l-3 1m135-3l-2 0m328 6l2 2m72-6l0 1m6-3l0 1m71 3l-2 1m17-2l1 2m13-1l-2 1m82 0l1 1m81-1l-3 1m-876 4l1 1m13-3l-2 0m6 4l-2 1m54-6l0 1m14 3l-3 3m26-3l0 2m13-6l-2 2m51-1l0 1m110 3l-3 2m162-6l-2 0m117 3l-2 1m46-1l1 1m70-1l2 3m98-3l1 3m90-6l-2 0m29-1l-1 2m-855 6l0 2m24-4l-2 0m60 0l-1 2m427-1l-1 2m89-3l2 1m31 2l-1 0m30-1l0 4m41-3l1 0m29-2l1 0m-729 9l3 2m29-6l3 2m42 1l0 1m299-5l1 3m127-1l-1 1m86 1l2 3m26-4l3 2m66 0l1 3m8-2l1 3m91-7l1 4m-782 4l2 1m15-3l-2 2m15 1l2 0m67-1l1 2m74-3l2 3m4 0l-1 1m21-6l-4 0m17 4l1 1m19 0l-2 0m27-3l0 2m282 1l0 3m8-6l3 1m21 0l2 1m99-1l2 3m8-2l-2 1m108-1l2 3m-845-1l-2 3m16-2l-1 2m22 1l3 2m209-6l1 2m31 3l2 2m65-5l-2 1m24 1l1 2m120-2l2 1m172-4l-2 3m113-4l-3 2m-737 6l0 2m91-2l-3 2m123 0l0 2m40-7l2 0m9 3l0 2m83 0l-2 3m15-3l-1 1m349-5l2 2m7-1l1 1m-741 9l-2 4m85-8l3 1m33 0l2 0m156 0l0 4m133-3l0 1m191-4l3 2m74 3l1 4m60-6l-2 1m87-3l0 2m-663 6l2 1m68 0l1 2m67-2l-1 2m76-1l-2 1m118-6l-1 0m168 2l-2 3m41-4l1 4m140-2l2 3m50-5l-1 1m11 0l-2 2m-911 5l-1 1m48-1l0 2m229-3l2 3m108 0l3 2m9-8l-2 2m21 3l0 3m302-4l-2 1m11-4l2 1m32-1l2 1m124 1l2 1m7-4l-3 1m-876 10l1 4m124-7l-1 4m100-4l1 3m179-4l-2 0m32 4l0 4m60-3l2 1m283-6l2 1m104 0l0 3m-904 3l2 2m31-4l0 1m102 2l-2 2m16 0l2 2m4-6l3 1m16-2l-2 1m84 2l-1 2m80 1l1 0m68-3l-2 2m281-5l0 2m-682 10l1 2m160-6l3 1m569-2l3 0m21 0l0 2m-737 8l-4 0m72-5l2 3m51 1l4 2m31-6l1 0m125 5l-4 1m32-6l-1 1m210 2l2 1m184-3l0 2m-727 7l1 1m38-1l-2 1m40-4l-1 0m98 2l-3 0m164 1l1 0m47 1l1 2m10-4l2 3m4-2l-2 1m45-3l1 0m301 3l2 3m12-5l0 2m104-4l2 1m55-2l2 2m-886 8l-1 2m69-6l2 3m34 0l-2 2m8-2l-2 2m145 0l-1 1m233-2l-1 0m10 0l1 3m214-4l-2 1m-588 6l2 1m89-4l-4 0m221 3l-2 3m25-5l-3 1m101 3l3 2m71-6l2 1m-646 5l2 1m10-3l-2 1m12 0l3 2m45 0l-1 3m8-3l3 2m223 0l-1 3m384-4l0 1m181 0l2 1m31-2l-1 0m-899 6l-1 1m59 1l-1 1m116-3l2 2m88-6l1 1m60 4l-2 2m95-2l-3 0m82-2l-3 0m57 2l0 2m57-5l0 1m248-1l-1 3m32-4l-1 1m-851 5l3 2m509 1l0 1m282-3l-2 2m16-1l2 0m20-1l3 2m-836 7l-2 0m13-3l-1 2m80 0l0 2m19 0l1 2m29-4l0 1m93-2l1 2m24-2l1 1m31-1l0 2m34-4l-3 2m122-1l1 0m87-2l1 4m182-2l1 1m164-2l-3 1m-871 6l0 1m20-1l0 2m29-2l1 0m27 1l0 1m109-1l-2 3m8-4l-2 3m71-3l-2 3m13-4l3 2m177 0l1 4m106-3l-3 2m153-2l-3 1m159-4l1 4m11-3l2 2m-911 4l0 3m183-1l0 1m106-1l1 3m29-1l0 2m103-3l0 1m144-3l-1 1m19-1l0 3m25-3l1 2m2-1l1 2m-600 5l0 4m58-3l-1 3m15-5l4 1m141 1l-1 1m24-4l-1 1m59-3l1 1m314 1l1 0m55-1l-1 2m48 1l-1 2m51-7l1 2m48 3l2 1m-792 1l0 1m86 3l-1 1m19-4l1 4m28-1l3 0m9-1l-3 2m99-1l-2 2m43-4l-2 1m246 2l3 1m25-5l0 1m69 1l-1 0m97 1l2 0m-640 5l1 1m1 0l3 1m40-3l3 0m46 3l-2 2m135-6l-3 2m108-1l-2 2m204-1l-1 1m99-2l1 0m130-2l-1 3m-890 6l-2 2m13-6l-2 2m29 4l-3 2m20-6l2 1m13 3l-1 1m86-5l-3 1m144-2l-3 0m84 0l3 3m33-3l-1 4m111 0l-2 3m62-4l1 3m8-2l1 1m-480 3l-2 2m27-2l1 4m247-4l1 2m187-3l0 2m6 2l0 2m31-7l-3 1m24 2l2 1m275 0l-1 1m-835 5l1 2m17-4l-2 3m9-3l2 2m4-3l0 1m43 0l-1 1m174 2l-1 3m11-8l-3 0m49-1l0 2m97 4l3 0m4-1l-1 2m67-2l0 2m13-4l2 1m44 2l2 1m237-7l-3 2m-728 5l-1 1m13-2l-3 2m20 1l0 3m188-1l-3 3m150-7l1 3m145 2l-1 3m-619 2l-2 1m2-4l1 2m26-1l3 2m5 0l-1 3m124-3l1 1m109-3l1 0m106-2l-1 2m15-2l-4 1m39 2l-1 2m153 0l0 2m-505 0l0 2m60 0l2 1m36-4l3 1m229 2l0 3m8-5l1 3m106-2l-3 1m249-1l1 3m-686 4l2 2m20-5l3 2m14 2l0 4m269-9l3 3m208-2l1 1m13 2l-1 2m27 0l2 3m132-6l-3 3m-700 0l0 3m144 2l3 0m17-1l-4 0m131-2l-2 0m129 2l0 1m53-2l0 2m85-1l1 1m-620 3l1 1m23-3l-3 0m15 6l-3 2m33-7l1 1m9 4l2 3m291-7l0 2m12-1l0 1m5-2l-3 1m8 3l0 3m26-5l2 2m176-1l2 3m32-8l-3 0m-501 11l-2 2m11-2l3 2m74-4l0 2m74-3l3 1m17 0l-2 1m77-1l-2 1m26-1l-1 1m11-2l0 1m38 3l3 1m-307 2l0 1m53 1l3 1m163-4l1 2m109 1l-2 2m52-2l2 3m87-7l0 2m29-3l-1 1m13 3l-1 2m-635 1l2 1m52 2l-2 3m137-7l3 1m109 2l-1 0m254-2l1 1m-574 8l-2 1m32 1l-2 3m105-5l-2 3m540-6l2 1m-673 9l-2 2m89 1l4 0m43-2l1 4m96-4l-1 0m408 7l1 3m-656 5l-1 3m292 7l0 2m-20 6l-2 2m53 28l3 1m-47 18l1 0"/>
<path stroke="#707070" d="M416 2l0 3m100-3l-2 1m52-1l2 3m103-5l-3 1m25-1l0 2m72-2l1 2m5 0l-1 3m32-4l-1 0m20 0l1 2m30-3l-1 1m38 1l-1 0m-668 6l0 2m26-5l1 2m111 2l1 3m89-6l0 2m30 0l2 0m20 0l1 0m11 0l-2 1m79 0l-1 1m85-4l0 1m16-2l0 3m24 0l1 3m33-7l-1 1m50 2l0 4m7-5l0 2m43-4l2 1m45 1l0 3m-683 2l-1 1m11 1l-4 0m73-4l1 1m138 4l1 1m10-4l1 2m71 1l2 1m47-1l1 2m21-2l2 1m17-4l-1 3m31-4l-1 2m67 2l1 2m20-3l0 2m34-3l0 3m17-1l1 1m-567 5l-3 3m18-2l2 2m58-7l-3 2m9 3l1 1m89-2l-3 1m89-6l-2 2m187-1l0 1m106 2l-3 3m13-6l-2 2m21-2l-2 2m59 2l1 2m87-2l-2 1m-663 1l0 1m22 3l-3 0m156-5l1 1m8 2l-2 1m95-3l0 1m121-1l1 4m61-3l1 0m8-1l2 1m49 1l2 3m67-4l-3 2m56 1l0 2m-630 1l-4 1m113 0l2 0m126 1l-2 0m36-3l-1 1m11 0l4 1m14 2l1 4m35-8l0 1m73 3l-2 3m39-3l-3 0m12-5l-3 2m14 3l1 1m46-3l-1 2m18-5l-2 2m15 3l-1 3m26-6l-3 2m63 1l-3 1m12-3l2 1m16 1l2 3m-571 3l-2 2m290-4l1 1m24 2l2 2m31-2l1 0m64-5l4 0m53-1l-3 1m21 4l-1 1m25 0l-1 1m25-2l0 2m-628 1l0 2m71-3l2 0m28 0l2 0m45 5l-2 1m16-4l-2 2m37-4l-1 2m71-1l1 3m5-5l2 1m68 3l1 2m26-2l1 1m30-1l2 0m92-1l-1 2m58-1l-3 1m12-4l1 4m10-3l-2 2m21 0l-3 1m26-1l1 2m-621 4l-2 3m136-4l0 2m27-4l1 2m53 0l2 2m27-1l-1 1m48-2l2 3m30-3l0 1m38 0l-1 2m11-2l3 0m18-2l-1 3m10-1l2 1m34-3l0 3m63 1l-1 1m5-5l-1 2m13-3l-2 1m32-2l-1 3m25-3l3 1m49 3l3 1m23-2l-2 1m-548 8l-1 2m79-5l-2 1m11-1l-1 1m10 1l1 3m12-5l1 1m92 1l-2 3m65-3l0 3m14-6l1 2m75-3l-1 4m91-1l-4 1m17 1l-1 3m44-6l1 2m53-2l-1 2m-591 3l2 1m42-2l-1 1m23 0l-3 2m187-2l0 1m16-2l3 2m33 1l2 3m37-7l3 0m27 4l1 3m-1-5l2 2m29-4l-2 2m10 3l1 1m8-6l0 1m33 0l0 2m67-3l-4 1m29 4l-3 0m28 0l3 1m38 0l-3 1m-549 3l1 0m28-2l0 2m44 0l0 2m39 0l-2 3m85-8l0 1m14 3l-3 0m45-1l4 1m15-3l1 1m31 2l1 1m35-3l2 0m26 0l-2 0m36-2l-3 1m56 4l-1 0m48-2l-1 1m35-3l0 2m10-1l-2 1m-653 6l0 2m69-6l-1 1m10 4l0 2m44-6l-3 3m52-1l-2 1m4-2l3 2m29-1l3 0m117 1l-1 1m6 0l1 3m12-4l1 3m2-6l0 2m32 3l-1 1m31-6l3 1m5 2l1 1m61 1l-2 2m6-6l2 1m40 2l1 1m35-5l0 3m45 1l1 1m15-2l-1 1m24 0l1 4m13-4l1 1m-643 4l0 2m60-2l1 0m17 2l-1 3m16-8l-1 3m3 1l3 2m46-4l-1 1m34-1l-1 2m82 0l2 1m28-3l2 3m29-2l2 1m20-3l0 3m9-3l-1 0m98 2l0 1m6 0l2 4m-522-3l-3 3m42-2l0 4m143-2l3 1m62 2l-3 1m8-5l-3 2m128 0l-1 1m56-3l-2 0m23-1l-1 1m22-1l1 1m67 3l2 3m103-8l2 0m16 2l-1 1m-597 7l-2 2m166-1l-2 0m52 0l2 0m38 1l-2 1m25-7l-4 0m10 3l0 2m13-3l-2 1m27-3l0 4m11-1l-2 0m32-1l-1 3m53-5l-2 1m47 0l-1 1m61 1l0 3m39-1l-1 0m54-2l-3 1m14-2l0 1m11 3l-1 2m-753 2l0 1m161-2l-4 1m100-1l2 3m29-3l1 3m83-3l2 0m73-1l0 2m38 0l1 1m18 0l1 2m18-4l3 1m56 0l-3 2m25-2l-4 1m11-2l0 4m49-6l-1 0m9 2l1 2m48-3l1 3m-760 6l-3 3m162-6l1 1m1 1l3 1m65-1l1 2m31-5l2 0m0 4l-2 3m52-2l3 0m81-2l3 2m41-5l-1 1m15-2l-3 0m7 2l1 0m12 4l-4 0m131-5l1 0m4 2l0 3m36-4l-1 2m12-1l-1 2m27-3l1 2m2 1l3 2m55-5l1 1m-547 5l1 3m13-5l3 1m6 0l0 2m21 0l2 0m67 0l-2 3m88-2l-3 0m69-2l-3 1m42 2l-2 1m13-3l-1 0m14 0l-3 1m7 1l0 4m17-7l1 2m11 1l0 4m34-6l-3 2m26-4l3 0m26 4l-1 3m52-6l-1 1m36-2l-1 2m15 1l2 1m26-1l1 2m4-3l4 1m-602 3l-3 1m33-1l-3 1m21 1l4 0m28 0l2 1m6-2l3 1m25 0l-3 1m22 1l3 0m8-3l0 4m9 0l1 3m8-8l2 0m18 2l2 0m6-1l2 2m60-3l-2 0m24 3l0 1m8-4l3 1m19 3l-2 1m15-2l0 3m49-1l-1 1m14-1l2 0m86-1l2 2m80-3l1 3m7-6l1 0m19 3l-1 0m7 0l0 3m12-4l-1 1m-751 7l-1 3m99-3l-3 2m11-3l-3 1m30-2l3 2m60 1l3 1m50-3l3 2m137 0l-3 1m31-4l-2 0m12 1l0 2m11-2l-2 1m23 1l-1 1m117-3l2 2m14-3l2 2m17-2l-2 3m34-2l-3 1m29-3l3 3m-562 6l-1 1m102-4l-1 2m11-2l-1 2m32 0l0 4m29-4l0 3m75-4l1 1m30 2l-2 0m14-2l-1 2m51-3l1 1m20 0l1 2m16-5l0 3m28 2l-2 0m56-3l-1 1m3 2l0 1m13-6l-2 3m65-2l2 3m40-4l2 1m44 1l-1 0m1 2l-2 1m30-4l-1 1m14-3l1 0m-815 8l0 2m15-4l-3 2m57 2l0 3m48-4l-2 1m24-1l-2 0m75-1l-1 0m68 0l-3 2m35-3l-1 1m17-1l-1 4m74-1l-4 0m18-1l1 0m104 1l4 0m19 0l-1 1m188 1l1 1m33-3l1 2m28-3l0 3m29-5l-2 1m-823 6l-2 2m54-3l0 1m9 4l-2 0m9-2l-1 0m51-2l3 0m32 2l1 1m88-2l0 1m28 1l-2 2m39-3l4 1m7-1l1 2m26-2l0 4m22-4l-2 2m57-3l1 1m71-3l2 3m46-2l0 3m10-2l1 3m24 0l2 0m39-2l1 0m189 1l1 1m8-2l2 1m8-2l1 1m-815 4l-2 0m28 2l-1 1m183-4l2 3m34 0l4 1m28-5l-1 1m49 0l2 0m229 5l-2 1m44-3l-1 1m29-2l0 1m7-2l-3 1m11-1l-1 1m12 1l-2 2m11-5l-1 0m36 3l-1 0m55-3l3 1m28 2l3 0m-788 3l1 3m42 1l-2 2m18-6l-1 3m47-4l2 1m4 5l3 2m123-5l-1 1m31-3l3 1m56 1l-1 1m29-2l-2 1m96-1l1 2m32-2l1 1m17-1l0 1m28-3l1 2m9-1l-3 0m54 3l-3 0m38-3l-2 3m23 1l-1 1m35 0l-3 2m16-5l3 2m85-4l1 2m40 3l-2 1m8-5l-3 1m-790 5l-2 2m88-3l2 2m37 2l-2 1m45-2l3 1m14-3l-2 0m48-1l-3 1m29 1l-1 3m80-5l2 1m58-1l-3 1m16-1l-1 4m43-2l0 1m20 1l1 1m8-4l0 2m27-1l3 2m27-5l-1 2m17 2l2 0m7-2l1 1m23-3l-3 1m48 3l1 3m40-5l0 1m-651 8l1 3m67-2l1 4m38-4l-3 1m19-7l-3 2m30 4l-1 0m8-1l-3 1m10-3l2 1m1-4l1 1m95 3l-3 0m32 2l-1 0m118-3l-1 3m19-4l-3 1m52 2l1 3m101-5l-3 0m53 2l1 2m44-3l0 3m28-6l-1 3m32-1l3 0m24-2l-2 2m13 2l-2 1m-823 5l3 2m24-6l1 0m9 0l2 0m47 2l-3 0m11-1l-3 1m115 2l2 1m64-1l2 1m19 0l2 0m43-3l-1 1m16-2l-2 2m83-2l2 1m35-1l-3 0m15 4l1 1m66-5l-1 2m5-2l1 1m24-1l0 1m15 3l-1 3m22-9l4 1m-1 3l0 1m92-4l3 0m67-1l2 1m-795 7l-1 3m27-3l-2 0m19 1l4 0m111 2l2 0m19-4l3 1m19-1l-2 1m70 0l1 1m9-1l-4 0m57 3l2 2m31-3l1 1m32-4l3 0m9 3l0 1m11-3l0 2m15 0l3 1m41-4l-2 1m40 2l-2 2m38-2l-3 2m20-1l3 0m41-3l-2 3m9-1l0 3m21-6l-3 1m28 2l0 2m13-5l2 3m4-2l0 3m31-5l-2 1m37 0l1 3m34 0l1 0m37-1l-2 2m10-4l1 2m-763 3l1 3m158 0l-1 1m43-1l-3 0m21 0l-2 1m10-4l1 2m9 3l3 0m39-4l-1 3m6-1l4 0m10-1l0 2m44-3l-2 1m34-1l1 2m34 3l1 1m18-2l1 4m11-7l2 1m39 3l-4 0m30-1l3 2m36-1l1 2m63-7l0 3m22-1l0 4m27-3l-1 3m22-5l0 3m49-3l1 1m26 1l-1 1m11 0l-2 1m-759 1l2 2m77 1l-2 1m110 0l0 2m2-7l-3 1m18-1l2 3m17 1l-2 1m38-1l-1 1m44 0l0 2m2-5l-1 1m20 0l-3 0m78-2l4 1m47 3l3 2m13-6l-1 1m69 1l2 1m30 0l2 1m3 0l0 1m21-1l-1 1m109 0l-2 2m65-3l1 1m-824 0l-2 1m165 0l-2 0m37 1l-2 3m19-5l3 3m49-2l2 1m20 0l-1 3m10-1l-1 1m14-5l-1 1m19 2l-1 2m55 0l0 3m62-3l-2 2m29-4l-1 1m14 2l-2 3m31-4l2 3m1-5l1 2m91 0l2 2m3-5l2 2m27-3l-1 4m2 1l-1 1m32-6l0 3m10-3l-1 3m19-1l-1 1m11-3l-3 2m40-1l-3 1m51-1l0 2m21-3l1 2m-756 6l3 2m25-4l1 2m57 1l-1 0m28 1l-2 0m129-4l-2 1m62-1l0 1m48 1l0 3m10-3l-1 2m10-4l1 2m95 2l1 3m45-8l-2 1m134 4l-1 3m11-5l-2 3m23-1l-3 2m63-4l-1 1m10 1l2 3m-679 1l0 2m93-1l1 2m47-1l0 1m80-4l-1 4m9-3l2 1m19 0l2 2m46-4l-1 1m9 3l-1 3m70-7l0 2m36-2l-2 0m107 1l2 0m34 2l2 2m23-4l1 2m53 1l2 2m-753-1l4 1m16-2l1 3m9 3l1 2m110-8l-2 3m33 0l-1 3m12-2l0 2m23-4l1 1m35-1l-1 2m12-3l-2 2m30-2l-3 1m18 0l4 1m-2 3l4 1m14-3l1 3m42-6l1 0m33-1l0 1m11 1l2 1m24 2l-2 2m17-6l0 3m64-3l0 2m63 2l-2 3m26-8l4 1m138 3l3 1m7-2l-1 2m63-5l0 2m-813 10l-2 3m19-3l0 2m192-6l1 1m33 1l-3 0m12 1l-2 1m13-2l1 0m44-2l-3 2m8 2l1 2m34-5l-4 1m16 0l-2 1m5-2l2 3m51 0l0 2m10-7l-1 2m30-2l-3 1m15 1l3 0m16 3l-1 3m24-6l-2 2m15-3l2 2m45-4l-1 3m79-3l1 2m12 2l1 1m43-4l3 1m4-1l-1 2m-801 6l1 4m30-2l-3 2m24-3l-3 2m91-1l-2 3m63-7l-3 1m47-1l-2 0m21 3l1 3m52-5l3 1m12-2l-2 2m24 0l1 1m6-3l3 1m65 2l2 0m10-3l0 4m34 0l0 2m7-6l1 0m33 1l2 2m32 0l-2 2m10-1l1 4m40-6l0 3m66-4l3 2m46 0l-1 0m18 1l3 1m35-2l1 2m59-4l2 2m17 1l-2 0m44-4l3 1m-900 7l0 4m41-2l-1 1m5-6l-3 2m10 1l0 4m76-4l1 0m104 0l0 1m31 0l2 0m10 0l-3 2m28-3l2 2m22-1l4 0m10 0l0 2m6-5l-3 1m13-1l2 0m-1 2l1 2m60-2l-2 1m30 1l2 1m28-1l-2 1m84-4l1 2m20-4l-1 2m47 2l1 2m0-6l-2 2m12 3l2 2m14-2l-2 1m132-1l1 1m37-1l-2 0m37 0l0 2m-859-1l3 3m288-3l-3 2m63 1l1 3m57-5l0 1m55 2l0 2m3-4l-3 2m20 1l1 3m31-5l-1 0m39-3l0 3m42-1l1 3m6-2l2 1m11-4l0 3m217-1l-2 2m70-3l-1 3m-790 5l0 4m29-3l0 4m50-4l0 4m45-7l-2 2m68-1l3 1m35 1l-4 1m17-3l-4 1m80 1l0 1m70-3l-2 0m6 0l-2 2m55-2l-1 1m10 0l0 3m18-6l3 2m26 0l-3 1m25 1l-3 0m8-3l1 1m23 3l-1 1m7-6l-2 0m66 4l-3 1m111-4l-2 2m40 3l-3 1m18-6l2 2m-849 6l0 2m108-3l0 3m40-3l-2 0m94 2l0 2m24-5l-2 3m46-1l-2 1m19-1l1 0m49 1l0 3m14-5l1 1m35 1l-3 0m11-3l2 2m38 1l0 1m183-2l0 4m62-2l0 1m16-5l-1 2m10-3l2 0m65 1l-1 2m6 0l2 2m-829 2l2 1m78 0l3 1m2 3l2 1m54-2l-1 1m27-2l-3 1m30-4l2 1m-1 3l-1 1m29-6l0 4m85-3l3 2m14 2l-2 0m81-2l-4 1m15 0l-1 2m8-1l-3 0m71 1l2 1m60-5l1 2m7-3l2 2m43 2l-1 1m34-4l-3 0m13 2l2 2m23 0l-1 1m49-3l0 2m66-1l1 3m6-6l-1 2m-667 4l0 1m246-3l-1 4m83-2l1 3m8-1l1 1m19-2l-2 3m42-6l3 3m10-2l0 2m50-1l-1 1m76-3l1 1m20 1l0 2m89-2l-1 2m4 1l2 3m59-7l2 2m46 0l0 2m-877 1l-1 3m39-1l2 1m91-1l-1 3m21-4l-2 1m34 1l0 2m136 0l-2 1m37-3l-1 2m23-1l-3 0m21-4l-2 2m12-1l-3 2m6 0l3 2m108 1l3 1m61-3l-3 1m77-5l2 1m37 4l2 3m17-7l-3 1m32 2l1 2m34-5l-2 1m53 0l3 2m25-2l-2 1m-796 9l3 1m113-3l-1 1m161-5l2 1m58 3l-1 1m11-1l1 1m114-1l2 2m13-5l-1 1m84 2l0 1m26 0l-1 3m49-6l-2 2m25 1l-1 3m30-5l-3 1m39-2l1 3m38-4l0 4m13-2l-1 3m43-4l2 0m4-2l-2 1m-835 10l1 4m26-7l2 1m20 1l4 1m51-3l-2 1m119-2l1 2m63 1l-1 2m8-1l2 1m91-6l1 0m4 2l-1 3m78-2l-2 1m28 1l1 1m3 0l4 0m35-6l2 3m11-2l-1 4m41 0l0 4m7-9l-2 2m3 3l2 3m7-4l0 3m13-2l2 2m13-6l-1 1m42 2l3 2m17-1l0 1m11-2l-2 3m44-5l0 3m10-2l2 2m8-4l-1 4m62 0l1 1m-836 4l-1 3m65-4l0 1m102 0l-2 3m54-2l0 4m158-4l0 1m49-3l-2 1m19 1l0 2m17-3l1 2m176-3l2 3m14-3l1 0m83 2l0 1m77-2l2 3m9-4l-2 3m-887 2l1 1m134-1l3 2m86 1l0 2m7-4l-1 0m60 2l2 3m68-8l0 2m81 1l1 3m13-3l-2 3m41-5l2 1m8 1l0 3m19-2l-2 1m20-1l-1 0m93 2l2 1m5-5l3 1m14 1l2 3m57-5l1 1m100 0l0 3m55-1l-4 1m37-2l-1 4m-843-1l3 0m34 0l2 0m87 1l-1 0m45 4l-1 1m72-2l1 3m26-2l3 0m37-6l-2 2m14 1l-3 1m14-2l0 4m40-3l-2 2m3-5l0 2m49 2l-3 3m36-3l-1 2m32-1l0 1m40-6l3 1m13 2l2 3m3-5l-1 1m60-1l0 1m55 2l-2 1m42-4l-1 2m46-2l0 4m36-1l-2 3m70-3l0 2m-869 6l2 2m5-3l0 3m47-5l1 0m30 3l-1 2m61-7l-1 4m92-2l2 1m3-1l-1 2m14-2l1 1m14-1l2 3m48-4l-3 0m78 1l3 1m57-4l2 2m54 0l1 0m4 4l0 4m55-9l1 1m6 0l1 3m67 0l0 1m97-4l-2 1m49-1l0 3m31-1l2 1m12 0l1 1m23-6l-3 2m-875 4l-1 1m8 1l1 3m156-3l-2 1m8 2l2 2m37-5l-2 3m18-1l-2 2m11-5l-2 3m20-1l2 2m27-3l-2 0m19-1l-3 1m30 1l1 0m76-1l-1 1m31-2l0 2m16 3l1 2m9-3l1 1m8 0l0 1m27-4l-1 0m16-3l-3 3m44-1l2 1m6-1l3 1m66-2l-1 2m28-2l0 2m80-3l-1 0m23 0l2 0m10 1l0 3m29 0l1 4m11-8l-2 1m12 0l1 0m9 2l-3 0m8-2l-2 1m-695 10l-2 0m46-4l-4 1m79-1l-1 2m7 0l-2 3m15-5l2 3m14-1l-2 3m14-6l0 3m8 0l-1 2m13-4l-1 2m7 0l-1 2m148-3l1 1m7 0l1 1m10-3l1 3m18-1l-3 1m82 1l0 2m16-4l-1 2m57-1l1 1m11-1l-1 2m10-7l-4 1m22 5l-2 3m15-6l1 1m15 1l1 2m26-2l3 3m37-4l-1 2m12-1l-1 2m11-3l-2 0m28-4l-2 3m32-2l1 0m-813 8l-1 0m9-2l1 1m50 2l-1 2m46-5l3 1m47-1l-2 0m11 4l2 2m87-4l1 4m27-6l-2 0m31 5l0 3m9-7l1 1m23 3l-1 1m31-5l-2 2m69-3l1 2m69-2l2 1m202 4l2 2m57-3l2 1m47-6l-1 0m-868 11l0 1m24-5l-1 2m6 0l1 1m119-4l2 0m2 0l2 0m86 3l2 0m108 2l-1 3m28-4l2 0m16 0l2 0m21-2l-1 3m4 1l0 2m24-6l2 1m38-3l0 1m54 4l-3 0m15-5l1 1m94-1l-1 3m28-3l-2 1m36 4l-2 0m44-2l-2 2m58-3l0 3m26 0l0 3m15-6l1 2m11-1l-2 2m10-1l-3 1m-902 7l-3 3m123-5l-1 1m17-1l-3 1m18-5l-2 1m10 1l-4 1m37-2l1 3m32 1l1 3m34-3l1 2m35-3l-1 1m12-4l0 2m93 1l-1 3m14-2l-2 1m27-1l-3 1m17-3l1 4m38-5l-2 0m97-1l1 1m39 4l-2 2m10-3l-3 0m67-1l-2 2m21-3l1 1m43 0l1 2m38-3l2 1m88-1l2 0m-733 6l-2 2m10-1l-1 0m53-1l3 3m12 0l0 1m53-7l-2 2m38 3l-1 0m78-2l-2 3m21-6l2 3m13 0l-2 1m122-4l-1 1m45 1l1 3m10-2l3 1m55 1l-1 4m9-7l-3 2m32 1l3 1m16-3l-3 1m91 0l-2 1m53-4l1 2m-760 6l2 0m148-1l-1 3m7-5l-2 1m45 0l0 2m7 0l3 2m19-5l1 2m6 1l2 0m46-1l-1 3m41 0l0 1m83-6l1 3m24 2l-2 3m35-8l2 0m31 4l-1 4m9-2l3 0m75-5l-1 1m26 1l2 2m114-2l1 2m36-1l2 0m-871 4l-1 2m10-1l3 1m24 0l3 2m32-3l0 3m28-2l2 0m16-2l-2 3m110-3l-1 4m7-2l3 2m33-2l4 1m32-3l-2 3m65 0l1 2m42-2l-1 2m49-3l1 1m14-1l-1 3m18-4l-1 2m34-1l2 1m7-1l2 2m21-3l-3 0m7 2l1 1m6-6l1 3m58 2l1 2m30-2l-1 0m68-3l2 3m17-4l1 0m98 2l-2 0m13 0l-1 0m37-2l-2 2m15 3l-4 1m17-7l0 3m-832 5l1 1m27-1l1 3m20-1l0 3m14-5l3 2m5 1l1 1m70-5l-2 3m7 1l2 3m13-4l2 0m39 0l2 0m48-2l-2 2m40-3l0 1m6 3l1 1m33-1l2 2m291-2l0 3m12-4l-1 0m34 1l-2 3m9-7l-1 2m84-1l-2 2m26-4l0 3m53 0l-3 3m-890 6l1 1m133-1l-1 2m83-7l-3 1m14 3l2 1m72-5l3 1m3 3l1 1m54-1l1 0m5 0l3 0m13-2l-1 2m26-1l0 3m114-3l-2 1m10-1l1 1m20-4l-1 1m16 0l2 1m78-2l-1 1m64 0l2 0m63 3l2 0m-596 3l0 2m17-4l3 2m2 3l2 2m121-6l2 0m61 1l3 1m6 1l-2 0m23 1l-1 3m14-7l-1 3m32-2l-3 1m123-2l-2 1m8-1l3 3m23-3l-1 3m19-3l0 3m20 2l-1 3m20-4l0 4m27-5l2 1m56-5l1 2m26-1l1 3m17-3l-3 1m27 0l0 2m45-2l-2 2m-807 5l1 2m9-3l0 2m101-2l0 1m18-2l-1 2m26 2l0 2m18-3l-2 1m58-4l0 2m76 1l-1 3m79-4l2 2m9-3l2 1m44-2l-2 2m31 1l-2 2m10-5l-1 2m16 2l-3 1m8-3l1 1m38-2l-3 0m25 3l2 2m2-6l-1 2m17 1l-2 2m61-1l-1 0m131-3l-1 3m22-3l-1 2m11-1l-3 1m10-2l-3 1m-756 7l-3 2m19-6l3 2m70 1l-1 3m49-3l0 2m15 1l1 0m81-4l3 1m113 2l-2 3m35-6l-1 1m30 2l-1 1m9 0l-1 1m9-4l-2 2m58-4l-1 3m53 0l0 1m9-2l-1 1m51-3l-2 0m19 4l-1 3m9-3l-1 1m27-1l1 3m45-8l-1 1m18 1l-4 1m30 1l1 3m8-4l2 1m-722 3l0 2m50-1l3 2m0 1l-4 2m37-1l-1 3m77-7l0 2m23 0l0 2m56-4l1 1m3 1l-2 1m14-4l0 1m12 1l-3 1m9-2l1 0m41 0l-1 1m49-1l1 1m6 2l-2 2m70-1l0 1m12-7l0 4m44 1l1 3m74-7l-1 1m11 3l1 3m36-8l1 1m13-1l-1 3m16-1l-3 3m14 1l1 1m-1-6l-2 1m16 3l-2 0m7 1l3 2m-835 0l-4 1m26 1l4 1m98 1l-2 0m100-5l-2 3m28-1l-1 0m58 0l2 1m72 1l2 0m31-2l3 2m2-4l-1 2m138 1l-2 2m10-4l-1 2m23-4l2 3m83-2l1 1m30 2l2 1m45 1l-2 0m14 0l0 3m82-7l-3 2m14 0l-3 2m55-6l-2 1m-906 10l1 2m112-4l-1 1m27-2l-1 0m41 0l0 2m98 0l1 1m74-3l1 3m30-2l-2 1m11-1l-2 1m110 0l-2 2m55-1l-1 0m28-3l-1 2m92 0l1 1m30-3l-2 2m53-3l3 0m37 1l-2 2m50 0l1 2m18-6l2 3m37 2l-1 0m-792 7l1 2m69-2l1 2m24-4l2 0m8 1l2 2m8-2l-1 3m15-3l-3 0m10-2l2 2m47 0l0 2m60-4l-2 3m44-3l1 3m184-2l0 2m137-3l0 1m5 0l-3 1m68-3l-2 0m4 2l-3 2m91-2l3 1m37-3l-1 3m-912 4l0 2m17-2l2 1m17-3l-3 2m37 3l-3 2m49-4l-2 1m87 1l-3 1m48-6l1 0m48 2l2 3m8-6l-3 0m31 6l-2 1m49-4l0 2m48-3l2 1m6 3l-2 3m91-6l0 1m30-3l1 1m75 0l-1 2m38-2l1 0m21 2l1 0m48-4l-2 3m22-2l-1 0m12 2l-1 2m62 1l-1 1m20-4l0 1m41-3l-1 0m27 4l0 4m-876-1l2 1m57 2l3 3m14-5l0 4m56-3l2 0m76-2l3 0m10 2l-2 3m28-5l-2 0m110 0l4 1m23 1l0 1m49-1l-1 1m16-5l-3 3m7 0l0 2m36 0l-1 4m113-5l-2 1m6-3l1 1m29-3l-1 1m22 2l0 3m18 0l0 2m27-4l1 2m39-1l0 2m-704 3l0 3m112-7l1 1m25 3l-2 1m5-3l3 1m28 0l-2 2m21-4l-3 3m58 2l4 0m68 0l0 1m5-2l3 1m8-4l3 2m27-1l-2 1m24 2l2 3m82-5l0 1m50-4l0 3m72 1l2 3m89-4l2 1m23-5l1 3m-677 7l-1 3m47-1l2 1m12-1l-2 1m26-5l-2 2m32 0l1 1m21 0l-1 3m13-3l2 0m18-4l-2 1m107-1l-4 0m7 3l2 1m37-4l2 2m40 1l-1 3m11-2l1 1m91-6l2 3m34-1l1 2m40 0l-1 2m35-4l-3 0m43 4l-3 0m89-6l-1 1m2 5l-3 1m24-6l-1 0m21-1l1 2m51 4l-3 1m13-5l-1 2m-814 3l-1 2m106-1l-1 2m16 0l-1 1m21-1l3 1m27-3l1 1m106 0l-3 0m63 1l-3 2m28-2l-2 2m31-2l-3 2m32-1l-3 1m12-5l-1 2m41 0l3 2m35-4l2 3m20-1l-1 3m39-1l0 1m4-5l-3 3m29 2l0 2m2-7l-2 1m65 3l-2 1m7-3l-1 2m33-2l-1 4m76-3l0 1m7-3l4 1m29 1l-1 3m-909-1l1 3m30-2l2 1m26 2l2 1m123-2l4 0m17 2l-1 3m35-5l2 0m27 2l2 3m20-3l0 1m7-2l-1 1m25-1l0 2m63-1l-1 2m18-4l1 4m107-1l3 1m45-1l-1 1m25-2l-1 4m5-8l1 0m23-1l-2 1m6 1l1 3m13 0l-2 2m20-7l0 2m6 0l1 2m22-1l-1 4m14-3l0 2m17-6l-4 1m58 4l-2 1m15-6l2 3m23-2l2 0m69 5l1 2m26-4l-2 1m20-5l0 3m-816 5l-3 2m27 2l-3 0m73-5l3 2m71-3l-2 1m104 3l-2 0m8 1l1 3m7-3l1 0m12 1l-1 4m8-4l-3 0m12-3l-3 1m84 2l0 2m19-4l0 2m17-3l-3 0m13 2l0 1m31-1l-2 2m14-3l1 3m31-2l1 2m89-1l-1 2m17-4l-1 0m61-4l2 3m16 1l1 3m40-4l-2 1m23 2l1 4m13-7l2 2m5-5l-2 1m-866 6l-2 3m32-4l3 2m42 4l1 1m24-2l-1 2m72-7l2 2m13-1l-3 1m55 4l-1 2m83-6l0 3m138-5l-3 0m32 3l1 2m53-5l3 1m83 1l0 2m34-1l1 2m153-4l-2 1m68-1l1 1m9 2l2 0m11 2l1 2m-914 3l2 1m58-2l2 1m33-2l2 2m19 0l-2 1m66-5l-1 1m14 1l-1 1m134-4l-1 3m10 2l3 1m48-3l2 0m22-2l4 0m29 4l0 3m69-4l0 1m34-5l2 1m30 2l-1 3m55-5l2 2m10-1l-1 2m32-2l1 1m3-3l0 1m22 3l2 1m24 0l0 1m31-2l1 2m18-1l-2 1m39-4l2 3m50-5l1 2m17 1l2 2m-890 6l2 1m17-3l0 4m84-2l-2 3m65-5l1 0m17-1l-1 1m28 2l1 1m63-2l2 0m42-3l-1 2m20 3l-4 1m11-3l-1 1m14-5l2 1m3 1l-1 0m39-1l-1 2m10-1l3 1m17 2l-1 1m118 0l-1 3m23-8l1 4m40-3l-4 0m15 0l2 3m29 0l1 1m26-2l0 1m35-3l-1 1m1-3l3 1m106 3l2 2m25-4l-3 1m-826 6l1 3m8-2l-1 2m48-5l2 1m107 2l1 3m46-3l1 1m18 0l1 2m66-3l1 1m12 0l1 1m26-5l-4 1m16 4l2 0m4-3l0 4m16-6l1 2m16 1l-1 1m28 0l-3 1m35-4l-1 1m122 1l3 1m31 0l1 0m50-2l2 2m11 0l0 4m92-5l3 2m23-5l2 2m15 2l-3 1m38-1l-2 0m-649 2l-2 1m23 1l1 2m73-4l0 4m59-5l-3 1m90 3l2 1m24-5l4 0m66 0l-2 3m41-2l0 1m53 1l2 0m151 2l2 3m-1-8l-3 0m-791 9l4 0m10-2l-1 1m59-2l1 2m21 3l-1 2m13-3l3 1m10-4l-1 1m8 3l-3 1m17-4l-3 1m33 1l1 1m14-4l1 1m7 0l1 3m40-1l4 0m21-1l1 3m103-5l-1 0m85 3l0 2m59-3l-1 3m14-1l-1 1m26-6l0 3m23 0l2 1m103 1l2 1m42-1l-3 2m29-3l0 4m72-7l-1 2m15 3l2 3m68-5l0 2m21-5l-2 2m-895 7l-2 2m74-2l-1 1m78 1l-2 1m31-3l2 4m34-4l0 3m14-7l4 1m10 3l3 1m9-1l0 2m9-3l1 1m98-2l1 3m163 0l1 2m18-2l-1 1m52-6l-1 2m54 4l2 3m26-6l1 3m85-2l2 2m49-2l3 0m3-2l2 2m41-4l-1 1m-834 11l1 0m32-4l2 1m21-3l-2 1m24 3l1 1m84 0l0 1m29 0l2 3m68-6l2 0m99-3l4 1m3-1l-3 1m15 0l-1 0m77 2l2 1m69 0l-2 2m31-1l-1 1m69 0l1 1m2-5l-3 0m37 4l0 2m128-2l2 2m8-4l2 0m10-3l-3 2m11 0l1 1m3 1l-1 1m24-4l1 3m1-1l0 2m-856 4l2 2m23-2l-1 1m33 0l-3 0m18-3l1 1m50-3l2 0m26 3l0 2m9-4l1 1m15-1l2 1m13-2l-2 1m26-1l2 2m9 4l0 3m11-5l-4 2m69-4l1 1m41-2l1 0m10 2l2 1m7-4l0 2m18-1l2 0m134 0l-1 1m137 3l-1 1m81-1l0 2m33-3l-2 3m45-7l3 1m9 0l2 1m21 2l0 2m17-3l-1 2m11 1l2 1m-852 3l1 1m15 1l1 2m51-2l2 0m30-4l-1 0m34-1l3 0m19 4l1 2m32-1l2 3m28-6l2 1m8 0l-1 2m59-4l1 2m72-1l-1 1m10 1l-2 2m21-6l-3 1m40 0l1 1m18 1l0 2m9-5l-3 1m47 3l3 3m46-3l4 0m8-4l3 1m71 0l3 1m31-1l1 3m58 1l-3 0m41-6l0 4m5-3l-3 3m11-3l-2 2m45-2l-1 2m9 2l1 2m5-4l0 2m-890 2l-1 2m21-1l1 1m17-3l2 1m6 4l2 1m56-4l-1 0m36 0l-1 2m19 1l-1 1m87 0l3 2m6-2l1 0m10-1l1 1m52 0l0 3m9-3l-1 4m7-7l0 1m129 2l-3 2m81-8l0 1m16 4l-2 1m106-2l3 1m-3-5l3 1m17 4l-2 1m19-1l-2 0m31-2l-3 2m41 0l3 2m2-6l-3 0m21 0l-1 3m5-1l1 2m49 0l-1 3m46-2l-2 1m36-3l2 1m-907 3l3 2m17-3l4 0m35 2l1 0m37 0l-3 1m58-2l2 3m71 0l1 3m138-4l-1 1m23-4l-2 0m9 1l1 3m13-5l0 1m5 0l-1 4m106-2l0 1m70-1l1 2m13-4l4 0m50 1l0 1m40 0l-2 3m111 0l-1 2m57-5l-1 2m12-4l4 0m22 2l1 1m-908 6l0 2m32-1l1 3m61-3l2 2m6-4l2 2m79-3l-2 0m30 0l1 3m35-1l1 1m6-4l3 2m19 1l-4 1m15-3l-1 1m31 0l0 3m10-3l-1 2m56-1l-3 2m18 0l2 0m9-4l-1 2m24-4l-1 1m151-1l-1 1m70 2l-2 3m33-5l-1 2m29 2l0 1m32-4l-3 1m64 2l-1 0m31-2l4 2m3-2l2 3m20-3l3 1m48 1l2 0m-897 4l2 1m142-4l1 2m90 0l-2 2m19 0l-1 1m10-2l-1 2m75-3l-3 2m5 1l1 1m13-5l-1 3m61-2l-1 1m29 0l0 1m136 2l-4 0m27-1l3 2m47-4l-1 1m28 0l0 4m35-6l-3 2m28 1l2 2m21-7l-1 1m14 3l1 1m89-1l-3 2m25 0l-3 1m10-4l1 2m-856 7l2 3m47-5l2 2m84-5l-1 3m22-3l-3 2m32-1l-4 2m44 2l-3 0m64-1l-2 0m60 0l3 1m91-3l-1 0m20 1l-1 1m2-5l2 3m11 1l0 2m130-6l2 3m62 2l-1 1m21 0l-3 2m79-4l1 2m-823 2l0 2m19-3l-4 1m85 1l2 2m17-3l1 3m91-2l0 1m39-1l-3 3m5-2l2 2m11-6l3 1m8 5l1 4m48-8l-1 1m155 1l2 3m162-3l-1 1m15-1l-2 3m130-7l-2 2m48 3l3 2m4-6l4 1m6 3l3 1m11-5l-3 0m28 1l-1 1m15 1l4 0m-893 3l1 2m7-2l2 0m8 3l-4 0m11-1l-1 3m20-5l4 0m74 1l2 3m7-2l-2 3m30-4l0 2m33-1l-1 4m6-6l1 1m15-1l-1 2m31-1l0 4m42 0l-1 1m46-4l-2 0m38-3l-2 1m37 0l-2 1m20-2l-1 1m36 3l-4 1m60-5l1 2m14 2l0 3m40-6l0 3m48-1l-3 2m9-2l2 1m10 0l3 0m12 2l-1 1m6-5l-1 0m24 2l1 2m4-3l-1 3m40-6l0 4m8-4l2 3m39 3l3 2m3-5l1 1m23-1l1 4m39-7l1 1m18 2l2 1m3-2l-1 1m24 3l-3 0m13-4l1 3m-836 5l1 1m41-3l0 3m44-3l0 2m13-1l-2 1m15 0l-1 3m3-5l3 0m8-1l0 1m58 2l0 2m90 0l2 3m6-8l-2 1m6-1l-4 1m96 3l0 1m6-6l4 0m3 5l-1 0m37-1l1 2m38 0l-1 1m79-1l-1 2m67-2l-1 1m31-3l-4 1m46-2l3 1m11 1l1 0m77-1l0 4m11-7l-3 1m45 2l0 1m-899 4l-2 1m9-2l2 2m18-1l-2 1m19 0l1 0m38 1l-2 3m5-5l-2 2m194-2l-2 2m5 1l0 2m75-8l-1 2m72 3l0 2m32-2l-2 3m5-3l2 2m6-6l0 1m61 3l2 3m9-2l1 1m110-7l2 1m7 2l3 2m26-3l2 2m39 0l-1 4m5-7l0 2m12 0l1 2m31-1l0 2m3-4l2 2m12 2l3 2m58-5l-2 2m5-1l2 1m-859 2l2 1m17 1l-3 1m38-4l0 1m13 3l3 1m72-3l1 2m63-3l-3 2m20 2l-2 2m13-6l1 3m25-2l2 0m63 2l2 2m16-4l-2 2m26-2l1 1m34 2l0 2m38-6l2 0m65 4l2 2m52-4l-2 2m98-2l-1 2m54-1l-2 0m10-2l3 2m67-4l0 2m51 0l-2 0m17-1l-3 0m19 3l2 2m9-4l2 0m-883 6l-3 1m14-2l-3 0m22 0l0 3m16-1l-2 3m31-4l-2 2m11 2l-2 0m68-3l1 1m46-2l-1 3m10-5l0 3m167 0l0 1m73 0l1 1m102 0l3 0m35-3l1 1m99-1l-1 2m27 1l-1 3m22-6l0 2m45-2l-1 1m10 1l1 3m20-1l3 1m-807 2l2 4m16-3l-3 1m3-4l1 1m38 4l3 1m27-5l-2 0m20 2l-2 1m53-1l3 1m3-3l-1 1m23-1l-2 2m14 1l3 2m4-2l-2 2m66-6l2 3m13-3l-2 1m22 4l-1 2m2-5l1 0m9 1l1 2m20-1l0 2m3-6l4 0m52 0l-1 2m18 1l-1 1m42-4l-4 1m27 3l1 2m79-5l1 1m12-1l2 1m30 3l-3 1m105-5l0 1m34 2l0 3m8-7l-2 1m52 2l-2 2m30-2l-1 3m21-5l3 1m70-1l-2 0m-885 6l0 2m26-1l-3 1m39-1l2 1m146-2l0 3m53-3l-2 1m36-3l-3 1m59-1l3 0m36 1l1 1m18 0l-1 1m30 0l4 0m26 2l2 0m46-1l-1 2m76-1l-1 1m21-4l2 1m160 0l1 3m-807 3l1 0m16-3l-2 3m27 0l3 2m7-3l2 3m81-4l2 0m35 4l-3 2m8-1l-2 1m7-4l1 1m24-2l3 2m8 1l-1 3m8-6l1 2m6-1l-2 3m24-5l-3 2m12 1l-2 1m21-5l1 3m7-3l-3 2m54 2l0 3m19-6l1 2m7-3l-3 3m60 1l-1 3m22-5l0 3m8 0l1 2m39-6l4 1m2 3l1 0m13-1l1 1m29-1l-1 1m25-3l1 0m32 2l-2 2m29-1l0 2m31-5l-1 1m10 2l-2 1m10-4l0 1m6 0l2 2m17-4l1 4m9-4l0 1m40-1l2 3m16 0l-1 1m89-1l-1 2m12-3l1 1m-868 5l-1 3m111-2l3 1m136 0l-2 0m45-2l2 2m31 0l2 1m107-5l-2 0m55 2l-2 0m48 0l1 2m27-2l1 3m28 0l1 1m8-4l2 0m41-1l0 2m82-4l-1 2m16 3l2 1m67-2l-2 2m-793 3l2 0m34 0l-1 1m18-3l-4 1m280 0l1 1m9 1l2 0m16-3l0 1m32-2l0 1m16 1l1 3m11-5l-1 1m7 1l1 2m33-3l3 2m35-2l2 4m0 0l0 2m18-5l0 1m29-1l2 2m21-2l-1 1m79-2l3 1m21-1l2 1m76 2l1 3m34-4l-3 0m24-2l-2 0m20 1l-2 0m14-1l-2 1m-829 5l-1 4m36-4l-2 2m46 1l3 2m51-4l2 3m2-2l2 2m32-4l1 1m6 1l0 2m21-5l-1 1m12 1l-2 2m68-2l0 2m39-2l-2 1m9-2l-2 1m15 0l0 4m26-3l2 0m7 0l-1 1m52-1l1 2m16-4l1 2m23 0l-2 0m29 2l2 1m33-4l2 1m21 2l2 3m7-6l-2 2m19 1l1 2m18-6l2 0m18 3l0 2m74-1l2 3m47-3l-1 1m60-1l1 0m-804 6l2 1m13-2l-2 0m14 2l2 2m24-3l-1 0m36 0l0 3m40-4l0 1m15-2l0 4m96-6l-1 1m61-1l3 1m5 0l1 2m22-2l2 3m14 0l3 3m69-5l0 4m18-3l1 1m25 0l2 1m19 0l3 1m56-3l1 0m18 1l1 2m18-2l2 2m6-5l1 0m32 3l2 2m43-6l-4 0m41 5l0 1m94-4l-3 1m-753 5l1 0m20-2l1 0m-1 3l-1 1m51 0l0 3m138-7l-1 3m36-4l2 1m-1 3l2 2m6-1l1 2m102-6l1 1m39 3l4 1m2-5l2 3m24-4l2 2m48 4l-2 2m29-2l-1 2m12-4l0 3m31-3l3 0m11 1l1 4m8-3l0 1m27-3l-1 1m39-4l0 3m3 1l-1 1m108-5l2 2m-795 5l3 1m36 0l1 1m19-3l0 2m27-3l1 2m59 0l2 1m18 0l-1 3m12-4l-1 1m20-2l-1 1m10 0l-1 3m74-2l1 2m42-1l2 1m33-1l1 0m64 0l-4 0m17-4l-2 0m35 2l-1 2m18-3l2 2m14 2l2 3m10-8l2 1m0 5l-1 0m62-6l-4 0m87 1l-3 0m23 0l-3 1m-678 5l1 0m41 5l2 2m24-7l-2 3m9 1l2 2m18-5l-1 2m17 0l-2 3m15-6l-1 3m81-2l1 1m26-2l4 1m76 1l1 1m28-4l2 3m36-2l-3 1m82 3l-2 2m31-2l-1 2m51-3l1 3m18-3l1 0m23 0l1 1m4-4l0 2m11 1l1 1m31-4l-2 0m48 3l-1 2m12-6l3 2m46 3l2 1m-721 4l0 2m78-3l3 1m24-4l1 2m163-1l0 4m0-5l-3 1m13 4l-2 2m30-3l2 1m34-1l2 2m0-6l2 1m25-1l1 1m9 3l3 0m11 1l4 2m30-6l-3 1m39 1l-2 0m17-3l1 1m53-1l-2 0m53 1l-2 2m92-2l-1 3m17 2l-3 3m-653-1l-4 0m22 1l0 3m15-4l3 1m12 3l-3 1m20-2l2 2m30-5l-1 1m49 1l1 4m9-3l-2 2m23-1l1 3m11-4l2 1m62-1l0 3m4-7l-2 0m8-1l-2 1m8 5l3 2m67-3l-2 2m273-7l2 1m15 5l1 1m-631 1l0 4m87-2l0 2m117-4l2 0m55 1l-3 2m4 0l-1 4m38-7l-2 1m17-2l-2 2m14 0l3 3m60-5l-1 2m87-3l-2 1m38 3l-3 1m16-4l-2 1m55 0l1 2m-548 2l1 2m45 4l-1 3m9-5l3 2m65-2l-1 2m76-1l0 1m15-5l0 2m6-1l-3 1m45-2l-2 3m135 0l1 1m37-3l-1 2m84 0l0 1m20-3l-2 2m44-1l2 4m7-1l1 1m15-5l-1 1m11-2l1 1m8 0l-2 1m10 1l1 2m-644 1l0 1m1 3l0 2m4-1l0 1m10-1l0 2m31-4l3 0m3 0l3 1m51-3l2 0m10-1l1 2m59 1l4 1m6-2l-2 2m283-4l2 1m21-2l1 1m3 3l-1 1m38-2l-1 1m32 1l3 0m-327 7l0 1m1-3l1 0m13 2l-1 2m255-7l3 0m5 1l2 2m67-2l2 2m43-2l-2 1m-660 8l-3 1m26-5l-1 2m70-2l1 1m17 2l1 0m144 1l1 2m77-6l0 2m124-1l-1 1m49 2l-1 1m-449 3l0 1m94-3l-1 1m25 2l1 2m95-1l-2 1m30-5l1 2m18 2l-2 0m-188 3l1 1m64-2l1 2m46-3l1 2m7 2l1 1m56-1l1 1m-131 8l1 2m12 0l0 2m44-4l-3 2m43-1l-3 0m21 0l1 1m142 3l-1 2m-402-2l-3 2m232 3l-3 1m10-1l-2 0m227-1l-2 2m-492 6l-1 2m245-6l0 2m41 1l0 1m-36 3l-2 1m77 0l1 0m8-3l0 2m82 0l1 2m-158 3l1 1m9 0l-2 0m48 1l1 1m-330 7l-3 0m59 3l0 1m159-3l1 0m19 3l-2 1m117-2l-2 2m65-4l2 3m-209 6l0 3m15-1l-1 1m-140 5l0 2m15-6l-2 3m182-5l-2 1m170 1l3 1m-398 4l2 2m168 2l0 2m21-6l-3 1m42 1l-1 4m20-5l1 1m161-1l1 2m-471 3l2 1m264-1l1 1m7 2l1 1m30-4l1 2m26-2l1 1m29 2l1 2m117-4l-4 1m-259 7l2 2m22-4l-2 0m53 2l-3 0m11-1l2 1m-132 6l-2 0m138 2l-4 1m-95 2l0 2m7 1l-1 1m118-4l1 1m145-4l-1 3m-395 3l4 0m205 3l-1 1m49-3l-1 2m-25 14l0 3m37 11l1 0m-25 28l-2 1"/>
<path stroke="#7e7e7e" d="M295 3l3 3m417-5l1 1m-409 3l1 1m348-1l-2 1m43-1l0 2m20 2l1 1m202-4l-3 1m-650 5l-3 1m34-1l2 2m336-3l0 2m42-3l-1 3m-335 2l0 1m280 3l1 3m-203 4l-3 2m197-5l-2 0m19 2l2 3m6-5l2 1m62 2l1 1m53-1l-4 0m117 0l-4 0m-517 4l1 2m105 1l3 1m73-1l-1 2m120-5l0 2m231 0l-1 0m-638 5l-4 0m268 1l-1 2m119-1l-2 3m4-8l0 3m85-1l2 1m200-3l0 2m1 1l-2 3m7-3l3 1m-375 2l-1 1m44 3l1 3m26-6l-2 2m38-1l2 0m89 3l-2 3m28-7l-2 0m122 3l-3 2m-315 0l3 3m33-3l0 1m76 0l0 1m23-2l0 2m113 0l-1 2m49 0l0 3m50-4l-1 2m10-3l0 1m-459 4l1 2m104 1l2 0m27-5l1 2m9 0l-1 1m178 0l-3 2m5-4l0 1m113 4l0 1m-488 4l-1 4m184-7l-1 3m195-1l-1 4m-364 0l3 2m191 2l-1 3m83-9l-3 3m36 0l1 1m45-4l2 1m18 3l2 2m49-4l-3 2m45-3l4 1m-490 9l-1 2m148-4l2 3m16-4l1 3m115-1l2 3m66-4l-2 1m8 0l3 2m125-3l3 1m-461 5l-2 1m321 1l-1 2m19-3l0 2m27-6l-1 4m52 0l0 2m-441 3l1 2m222-3l0 2m109-3l3 1m154 1l-2 0m-546 5l-4 1m6-2l0 2m9 2l4 1m53-6l1 2m13 3l0 3m167-6l-2 3m27-5l0 1m13 3l1 2m134-4l-1 2m18-2l0 2m15 0l-1 1m24-1l2 1m15-5l0 2m8-2l-2 0m-518 10l2 0m18 2l-3 3m24-4l0 1m227-3l-1 1m134 0l1 3m51-4l-2 2m65-2l3 0m32-3l-4 1m-400 9l-2 0m150-2l3 0m7-2l-1 3m5 2l-2 2m117-2l1 1m-44 2l-3 2m62 1l4 0m97-1l-4 2m33-5l0 2m7-2l0 4m-495 7l0 1m77-4l2 0m126-2l0 3m9-2l3 1m162 1l1 2m105-3l3 1m-527 5l-1 2m256-2l1 2m12-1l2 3m20-1l1 1m104-6l4 0m-4 1l-1 3m85-2l-3 1m34 0l1 2m2 0l3 2m26-4l2 2m4-6l0 2m-626 9l-3 1m132-6l0 1m32 2l2 1m56-2l-2 0m91-1l-1 3m46-3l0 2m161 2l-1 2m38-2l-2 2m-722 0l-1 2m181 0l-3 1m23-1l2 0m34 0l3 2m219 0l1 0m10 1l-3 1m8-7l0 4m33-1l2 1m31-4l1 2m229 0l2 2m12 0l-2 2m-780 1l0 3m295-3l-1 3m158-3l-3 2m23 1l-2 1m17-4l1 2m77-1l-3 1m109 0l-2 3m32-5l4 2m63 1l0 4m-564 4l1 1m0-7l-3 3m247 3l-1 3m13-4l2 0m18-4l-2 0m69 2l-1 4m198-5l1 3m27 1l2 0m4-1l-1 3m17-3l-1 1m-617 4l-2 2m22-5l1 3m94-1l1 2m140-2l-1 4m53-6l2 2m6-1l2 2m26-4l3 0m144 6l0 3m21-3l1 1m-693 2l0 3m28-4l-1 2m119 0l1 2m107-6l1 0m159 2l1 2m113-2l-1 3m14-4l2 1m17 2l2 0m42 0l1 1m98 1l2 1m40-2l-2 1m7-2l1 2m7-2l-2 1m31-3l-2 1m-563 3l-4 0m41 0l2 1m7 3l2 2m215-4l2 1m16-3l1 1m55 4l4 2m210-1l-2 3m11-9l-3 1m-277 10l1 2m10-1l1 3m91-6l-2 0m113-3l-3 1m14 0l1 0m41 5l2 0m-597 1l-3 2m34 1l3 2m226-5l4 1m55 3l-2 1m66-4l2 3m58-4l2 0m52 1l1 1m60 2l2 0m5-2l1 0m-592 5l-1 0m202 2l-1 1m25-2l3 2m53 0l-1 0m67-4l0 2m66 2l0 1m15-5l-3 1m27 1l3 2m11-3l0 3m-458 5l3 1m46-2l2 1m89-3l-2 2m105-2l3 0m55-1l0 2m50 3l2 1m132-2l2 1m1-3l-2 1m69 1l0 2m-692 1l1 1m150 4l-2 2m207-5l1 2m12-2l2 3m37-4l1 0m8-1l-3 0m11 2l0 1m38-4l0 1m45 3l1 3m33-2l-2 2m31-4l2 1m196-1l-2 1m-644 3l1 3m121-2l2 0m86 3l0 2m22-5l-3 3m48-2l-1 3m24-3l0 2m42 0l1 1m101-3l-1 2m12-4l2 0m33 2l1 3m21-6l-3 3m17 2l-2 0m40-3l-1 1m-672 7l-2 3m133-2l3 2m94-4l1 1m38-1l0 1m13 2l-1 4m4-6l-1 1m54-3l0 2m7 2l0 3m257-7l-1 1m25 0l2 1m20-3l3 0m39 3l2 3m-463 4l0 2m2-1l2 2m18-6l1 3m43 0l-1 2m58-2l-2 1m50-2l0 3m29-6l1 1m156-1l0 1m44 4l-2 2m48-6l4 1m63 3l1 1m9-3l-2 3m-743 0l-1 1m170-2l2 0m69 4l-2 1m339-2l-3 1m30-2l-2 2m30-1l-1 4m43-5l1 3m82-1l-1 1m-599 3l-3 1m80-3l-1 4m6 2l-2 1m32-4l-1 3m9-5l-1 0m37 3l-3 1m8-1l0 2m32-2l-1 2m228-3l1 1m33-1l-3 1m67-4l3 1m13 0l3 3m47-1l1 1m-514 5l-1 1m75-2l2 3m27 0l0 1m61-1l-1 2m76-2l3 3m77-5l-1 3m4-2l1 1m73-1l1 4m33-3l1 3m27-4l2 2m-645 2l1 0m177 4l1 4m144-5l1 1m4-5l1 3m162-1l-1 0m16 2l-2 0m14-5l-1 1m30 2l2 0m20-3l1 3m-360 7l-2 1m68 0l-1 2m38-7l-1 3m59-2l3 0m15 2l-2 1m9-4l1 1m25 3l0 1m25-1l2 1m72 0l2 3m51-5l-2 3m31-4l3 1m99 2l-3 1m-542 2l2 0m41 4l-1 1m40-4l1 2m117-3l-2 0m75 0l1 2m20 0l2 3m25-3l0 3m27-2l3 2m80-4l0 3m45-5l-1 1m78 0l0 1m-377 3l3 2m5-1l1 2m33 1l1 1m10 0l2 2m17-2l2 1m140-5l-4 0m48 2l0 2m6-3l-1 1m19-2l1 1m23 2l-1 2m-557 1l2 2m311 0l-2 1m37-1l-1 1m46-3l-2 2m176-1l1 4m37-3l2 0m-376 5l1 1m67-3l-1 4m21 1l-1 1m28 0l0 1m30-6l-2 3m16-1l2 1m15 1l2 1m104-3l1 3m36-3l-3 2m12 1l-3 2m-769 1l0 2m130-5l2 0m370 4l1 1m10-1l0 1m27 1l0 2m27-4l0 1m68-2l-1 3m99-3l-3 0m11 2l-1 4m-402-2l0 3m117-2l-1 2m64-3l1 2m1 1l2 1m39 0l1 2m15-6l3 1m-300 6l2 3m61-2l1 1m27-1l-2 0m116 1l0 2m35 0l0 3m23-8l-1 4m42-1l-2 0m90 1l-1 1m96-5l1 0m82 1l0 2m-841 5l-2 3m284-5l-1 0m131 1l-1 1m70-2l0 3m50-3l3 2m14-2l0 1m5 1l3 2m47-4l0 2m51-1l1 1m157-1l-2 3m9 1l-3 2m-827 4l-1 1m371-7l-1 0m110 5l-1 0m37-3l0 3m22 0l-2 0m67 1l0 3m120-9l-1 4m27-1l-2 3m-480 2l-1 1m19-2l3 2m26-2l-2 2m76 0l3 1m79-1l-2 2m81 0l-1 3m16-2l-3 1m115-1l-1 2m154-5l-3 2m6-5l3 2m13 3l0 4m-543 3l0 2m72-7l-3 2m73-2l1 2m34-3l0 2m11 2l0 1m42 0l-2 0m12-3l-2 2m26 0l3 1m7-1l1 1m27-4l-1 2m110 0l-2 1m118 0l0 2m-494 2l0 2m1-3l2 1m26 1l-3 0m154 2l-2 3m50-4l-1 1m25-2l-3 2m101-3l0 1m18 3l1 1m97-3l-2 2m-833 5l-1 1m342 0l1 4m5-4l3 1m35-3l-2 3m38-6l1 3m111 0l-1 2m9-4l-3 2m92 0l-1 1m24 1l-2 2m18-4l0 3m19-4l1 0m47 3l-2 1m107-2l-2 0m38-2l1 0m-590 3l0 1m6-1l1 1m26 2l1 0m39-1l-2 1m213 2l-2 1m43-2l2 1m27 0l1 3m53-6l0 3m11-3l-1 1m20-2l-3 2m24 2l-1 0m10-1l3 0m-680 7l1 1m5-2l2 1m210-3l0 2m9 0l3 1m10-5l1 3m6 0l-3 3m13 0l-2 1m134-1l1 3m52-6l2 3m63-2l2 0m35-3l2 0m40 3l2 0m13-3l0 1m128-1l-2 0m20 1l0 1m31 2l-1 1m-614 5l1 1m44-6l1 0m44 6l2 0m41-2l3 0m92-1l-3 2m31-5l2 0m114 1l-1 1m6 1l-1 1m92 1l0 4m1-8l-3 1m104 2l1 2m70-1l-1 4m-802 3l0 3m24-4l2 1m290-1l-2 3m84-7l4 0m30 0l3 0m139 4l-4 0m19-2l2 1m16 0l-2 3m19-2l1 1m126-3l-1 1m29-2l3 0m-545 7l-1 3m14-2l0 2m13-4l1 1m435 1l1 2m58 0l3 0m-661 2l0 2m83-1l-1 3m63-4l1 2m7 0l-1 1m58-2l2 1m7-2l-2 3m18 0l0 2m141-4l-1 1m91-1l1 1m21 0l-2 1m34-3l1 1m72-1l2 3m9-1l3 3m14-5l-2 2m51 0l3 1m21-3l-1 3m-608 5l-3 3m26-6l-3 2m84-1l-1 0m119 4l3 2m13-7l0 3m11 0l-2 1m12-3l0 1m13-1l-1 1m126 2l-3 1m12-1l1 2m11-2l-1 1m80-1l-1 3m30-4l-3 2m51-5l0 1m-590 7l2 2m30-3l2 0m47 2l1 3m151-7l-3 3m24-2l1 2m44-3l3 1m10 3l-3 1m280-4l3 1m1 0l1 2m11-2l1 1m-880 5l-2 0m10 3l3 3m282-8l-4 1m38 0l0 2m8-2l0 1m69 3l3 2m85-2l-3 1m42-5l2 3m5-2l3 1m46 1l2 2m6-6l0 1m31 5l-2 2m80-5l3 1m52-1l-2 3m43-2l3 0m92-4l-1 2m10-1l-1 0m-672 10l-2 3m54-4l0 3m159-5l0 1m17 2l-1 1m33-3l-3 3m13-2l-2 2m26-2l0 2m40 0l-2 2m78-4l-1 1m211 0l1 1m50-4l2 3m-764 4l0 1m179-3l3 3m43 1l-2 0m16-3l3 0m193 0l2 1m57 1l-1 2m179-5l1 2m-726 3l0 2m167-2l-2 2m37 2l-3 1m62-1l4 1m5-4l2 2m68 1l-2 0m72 0l3 2m31-1l3 1m95-4l0 1m74-3l-1 2m13 0l0 3m6-4l-2 1m69-1l3 1m65 1l-2 0m47-2l1 3m8-3l1 1m-655 5l0 2m20 0l0 2m27-3l1 1m20 1l-4 1m79 0l0 2m20-6l-1 1m61 3l2 1m13-1l0 1m41-5l2 3m113 2l1 3m79-7l-2 1m41-2l-1 1m40 0l-1 2m-620 5l-2 3m131-5l-1 1m1 1l0 1m47-3l2 0m30 1l-3 2m20-3l-2 1m27-2l-2 0m22 2l1 0m97 3l2 0m-1-4l-1 1m242 0l-1 1m2 3l1 3m13-4l1 1m79-3l1 3m-587 4l0 1m6 1l2 1m16-6l1 3m71-3l3 0m40 3l0 1m30-2l1 2m4-1l-2 0m29-1l1 1m25-1l-3 2m10-4l1 3m49-3l-2 0m239 2l-2 0m10-2l-2 1m35 3l1 1m8-5l-2 1m17 3l2 1m-597 4l-1 1m47-1l2 0m6-2l0 2m12-1l2 0m4 0l2 0m37 2l0 4m26-6l3 0m8 1l1 2m11-3l-1 2m51-3l2 1m8 1l-2 1m18 1l1 3m48-8l1 1m138-1l-2 3m37 0l-4 2m10-1l2 0m19-3l1 1m30-2l-2 1m18 0l1 3m10-4l-2 2m10-3l1 2m-657 6l-3 1m33-1l1 3m13-3l-3 2m23 1l-3 1m25-4l1 1m48-1l-1 3m28-3l0 3m14 1l0 1m105-5l3 2m23-2l-3 2m17-2l-1 0m11 4l-2 3m20-9l-1 1m41 1l-2 1m29-2l-1 3m44 1l1 2m44-7l2 1m32 1l2 3m54-2l-2 3m43-2l2 1m26-1l-2 1m19 1l3 0m-601 4l0 3m30-1l3 1m-3-5l-4 2m22-1l1 4m25-5l-3 0m65 3l-3 2m15-5l-2 2m63 0l0 1m38 1l2 1m4-5l-2 0m47 0l-3 2m134-3l-2 2m55 0l4 0m66 1l-1 2m21-6l2 2m-762 10l1 2m93-8l0 2m17 0l-3 2m104-1l-2 2m16-2l1 1m53-1l4 0m16-1l2 1m13 2l3 2m23-2l1 0m9-2l0 3m100-3l1 1m22 2l3 2m12-3l-1 0m13 1l3 2m211-6l2 3m8-4l0 2m32 1l-1 2m5-5l1 2m61 1l-3 1m-827 5l0 2m122-6l2 2m7 1l-2 2m91-5l-2 3m46 0l2 2m21 0l0 4m36-7l1 2m20-2l-1 3m13-4l0 3m7 2l-3 2m52-2l3 0m22-4l0 1m9-2l3 0m172 0l-2 0m102 3l-1 3m40-1l0 2m10-8l-1 1m26 0l-2 2m23 1l-2 2m-840 3l2 1m155 0l0 2m38-4l3 3m13-1l2 1m15-2l2 3m126-2l0 1m46-4l-3 1m325 1l-2 3m17 0l-1 2m11-3l2 2m99-2l-3 0m-733 7l0 1m33-6l-2 1m25 3l2 2m70-4l-2 2m6 1l0 1m131-4l-1 2m8-5l-2 1m30-1l-1 2m98 0l-3 0m79-1l1 1m120-1l-1 0m23 4l-1 1m40-1l-1 1m47-3l0 1m2 2l0 2m15-4l0 4m-810 4l1 4m127-6l0 2m11-1l-1 1m98-3l1 2m27-4l2 0m57 4l-1 3m20-3l2 1m2-1l1 0m44-4l-1 2m8 3l-4 0m22-2l-1 2m18-4l3 2m8 1l-1 2m30-5l2 2m93 1l0 4m38-5l1 3m147-6l-3 0m12 0l1 1m-723 6l-1 3m76-3l2 1m16-1l0 2m11 1l-2 2m8-5l-2 1m13 0l-2 0m21 1l-1 3m29-1l0 1m13-5l2 3m63-4l-2 3m112 1l-2 1m33-3l2 0m21 0l3 3m35-4l2 3m22-3l-3 2m65 1l1 2m212-3l1 1m12 0l-1 4m23-9l-1 0m5 2l-2 2m10-2l1 2m-875 3l-2 1m17 2l-2 3m33-3l-2 2m366-2l-1 2m39-3l1 3m19-3l-1 1m12-2l2 0m23 4l-2 1m12-2l-1 2m75-6l3 1m20 2l0 1m11-3l1 2m126-2l0 1m6 2l3 2m46-6l1 3m15-2l-2 1m-860 4l-1 1m80 1l-1 4m181-4l2 0m25-1l-4 1m48 3l0 2m6-4l2 2m80-4l2 3m58-2l2 1m22-4l1 1m88 2l0 1m56-1l-1 1m1 2l2 2m156-6l0 1m21 0l-3 0m14 1l0 2m-801 3l0 3m164-1l-2 2m10-2l3 1m80-2l3 1m4-4l2 2m9-2l-2 2m16 2l-1 1m39-2l2 2m94-5l0 2m6 2l2 1m57-2l-4 1m35-2l-3 1m19 0l1 2m22-3l2 3m21-1l0 2m24-3l2 2m19-6l-1 2m24-2l1 1m29 3l0 1m59-1l2 1m39 0l2 3m16-8l1 0m19 3l1 2m2-2l2 1m8-3l2 1m-813 5l2 1m-1 1l1 1m16 1l-3 1m114-2l-1 2m36-1l0 2m77-3l1 1m20 0l0 1m38-3l-1 1m77-3l-2 1m5 1l-2 1m20 1l2 2m20-6l3 0m16 2l0 2m16-1l0 3m11-3l-2 3m14-2l2 1m32-1l-3 1m12-4l3 2m19-4l3 2m29-1l3 1m10 0l2 2m38 1l-2 2m-476 0l-1 4m162-4l1 1m43 3l1 4m34-7l1 1m20 0l-2 1m81-2l3 0m42-2l3 1m7 1l1 1m13-3l3 1m4 4l-1 1m13-5l3 2m60 2l2 2m110-5l0 2m9-2l3 1m7 2l-3 1m49-5l-1 3m12-3l0 2m30 0l3 1m-840 6l1 1m210-2l-3 0m30 1l-1 4m22-3l2 0m14 0l2 1m9-2l2 2m6-4l1 2m62 0l-2 0m9 1l-2 1m16-1l1 1m14-5l2 0m18 3l2 1m9-2l-4 0m11-3l-1 0m15 3l3 2m18-2l-2 2m42-5l2 1m12-1l-2 4m18-3l-1 0m66 1l-2 2m84 1l-3 0m8 0l2 1m30-3l-2 1m20-1l-1 3m29 0l-2 1m80-4l-1 2m-833 2l-1 3m33 1l-1 1m70-1l0 2m17-4l3 0m18 1l-2 1m12-4l1 0m70 2l1 1m59-1l0 2m126-4l-3 2m33-1l1 3m7-4l3 1m19 2l-1 3m21-4l-3 1m12 0l-2 0m8-3l-2 3m37-3l2 0m15 1l-1 1m12-1l-3 3m151-1l0 1m48-3l0 3m19-2l3 1m-873 7l-2 0m56-3l1 0m1 1l2 3m123-6l-3 0m166 0l-2 0m32 3l0 1m35-3l-3 1m65-2l-4 1m138-1l-1 1m72 1l2 0m84 2l2 2m76-2l-3 1m17-2l-1 1m12 0l3 0m41-2l4 1m-901 5l-1 0m55 1l0 3m44-4l-3 1m87-2l0 3m11-3l-1 1m24 0l3 0m78-2l1 2m37 0l-2 3m14-5l-2 1m7 4l-1 4m18-3l1 0m50 0l-2 3m11-7l-1 1m59-2l-1 1m12-1l0 2m80-1l-4 0m48 1l-3 2m13-3l-2 3m29 0l0 2m7-3l-1 4m14-6l1 1m32-2l2 1m62 1l1 1m16-3l0 3m19-2l1 1m61 2l1 3m19-6l2 1m-844 5l-2 2m12-2l-3 0m47-1l1 3m17-3l-2 3m17-3l2 3m31-2l-2 1m46 2l0 4m111-6l2 1m31-3l1 3m73-1l0 2m57-1l0 4m30-6l-4 1m19 0l-2 3m8-1l2 2m8-5l2 0m12-1l-4 1m29 1l-3 0m29 3l3 1m16-5l0 3m88-2l-3 3m36-3l-3 0m11 0l1 1m13-1l2 1m11-4l3 1m26 3l-2 3m-688 4l-2 1m70-6l-3 0m21 2l0 4m20 0l-1 2m53-4l-1 3m6-3l2 2m94-6l-2 1m9 3l-2 1m38-2l-2 4m23-6l1 0m20 0l3 1m41 3l0 2m9-5l0 2m6 0l0 2m24-3l-2 2m39 0l-1 1m30-4l1 4m46-2l-1 1m12-2l3 3m26 0l-3 0m30-1l-1 0m56 0l-1 0m41-3l1 2m-761 2l0 2m22-2l-1 1m29 1l2 1m20-2l-2 2m228 2l-1 2m74-5l-2 1m26-3l0 1m16 3l3 1m80-4l3 2m32 0l-2 2m36-1l2 3m33-1l-1 3m109-9l2 1m21 3l-2 2m8-6l0 2m54 3l-2 3m49-6l1 1m-850 5l-1 4m12-1l-1 1m7-3l3 1m52-2l0 2m28 0l-2 2m27-3l-2 1m42-1l2 1m148-2l1 0m32-1l1 3m15-3l-1 2m24-1l-2 1m14 1l-2 1m36-5l-2 0m61 3l1 1m54 2l-2 2m11-6l1 1m64 2l2 1m11-6l-1 3m10 2l2 0m21-1l2 1m58-3l-2 1m7-2l1 1m108 0l-1 0m-912 5l-2 3m80 0l1 4m29-6l-1 1m168 2l0 3m51-5l1 1m42-2l1 1m37-2l-1 3m68-4l1 1m23 3l-3 0m15-3l-3 2m61 2l1 4m17-7l-2 0m11 2l-1 1m81 1l0 3m31-5l2 1m3-2l-2 0m12 1l1 0m50 0l3 2m56-5l0 2m-777 7l1 1m7-2l1 1m59 0l2 0m87 0l-3 2m11-1l0 3m143-6l0 3m28-4l-2 1m8-1l-1 1m83 2l3 2m9 0l2 2m33-4l2 1m24-5l-3 1m6 3l-1 1m13 1l-2 2m10-5l-2 2m231-1l1 1m36-3l-1 0m44 3l-3 3m7-8l0 2m-737 7l-2 1m233-1l0 1m10 2l-2 3m2-8l2 1m20-1l1 1m11 1l4 0m5 2l0 3m75-6l1 3m138 0l2 2m19-5l-2 0m47 1l0 1m47 2l1 0m61-4l0 1m14-2l-2 4m84-1l3 0m-884 7l3 1m67-4l-3 1m14 0l0 2m95 1l-2 1m37-2l3 1m23-6l0 2m32-2l3 1m9 0l-3 2m44-2l-1 0m21 0l1 0m19 0l-1 0m80 0l1 1m22-2l0 1m16 0l1 2m30 1l-4 1m26-1l1 3m65-2l1 1m49-4l-3 0m21 0l-2 1m121 1l2 3m70-2l1 3m22-5l-2 2m-911 5l3 1m105-1l2 3m142-2l2 2m8-3l1 2m65-3l-3 2m19-2l0 3m83-2l2 1m69-2l2 1m20-2l-1 2m12-4l-2 3m9 0l-1 2m119-3l0 1m16-2l-1 1m25 0l1 1m55 2l-2 1m49-4l0 2m13-4l-2 1m19 0l-3 2m10 1l3 1m26-3l-2 3m24-1l-1 1m13-5l-4 1m10 5l1 1m-859-1l0 1m55-1l-2 2m116 3l-1 1m34-1l-1 2m32-2l-3 2m41-7l-1 1m70 1l0 1m11 1l1 3m77-7l0 1m33 1l-3 2m86-3l3 1m74 4l2 0m17-2l3 1m6 0l1 0m20-3l3 0m63 1l2 4m66-3l-2 1m7-5l3 0m-815 11l-2 0m44-3l-2 1m93-1l0 3m10-5l1 1m3 4l1 3m72-7l1 1m18-2l2 1m64 3l-1 1m62 1l0 3m46-8l-1 1m27 3l-1 1m26-2l0 2m7-3l-3 1m46 0l3 0m87 0l2 2m30-3l-3 2m33-2l-1 2m8-4l-1 4m12-3l0 1m16 1l3 3m18-5l0 2m69 0l-1 0m25 0l-1 3m36-4l1 2m-872 1l-1 2m41 2l-3 2m183-4l-1 2m27 1l2 3m29-3l-1 4m47-7l0 4m43-5l1 1m131 1l3 0m5-1l0 1m116 0l4 0m80 1l0 1m50 1l-2 1m45-4l-2 1m55-1l1 0m-848 7l1 4m43-2l1 1m86-7l-1 0m21 3l-4 1m45 2l3 3m48-5l-4 0m39 1l1 1m8-1l-3 1m137-3l-1 3m50-1l2 1m115-1l2 1m58-4l-3 2m22-3l2 0m0 4l2 3m60-4l2 0m64 0l-1 0m7-4l-2 2m-770 10l-2 2m129-5l4 1m9-2l1 0m9 1l-1 1m31 1l2 3m14-6l-1 1m29 2l0 4m3-5l1 0m23 1l0 1m8-1l0 4m43-4l2 1m2-1l-1 4m154-7l-1 2m116-2l0 3m17 0l-2 2m5-5l4 2m52-3l3 2m37-3l-1 2m16-1l1 1m22-1l4 1m27 3l-1 0m-790 3l-3 1m4-1l2 0m205 0l1 3m13-1l1 1m19-4l1 0m30 2l2 2m144-4l0 2m36-2l1 2m70-2l-1 2m63-1l1 1m21 1l1 2m30-6l-1 0m28 2l2 3m18-4l-1 0m17 5l1 3m-704 3l-1 0m114-3l-2 1m34 0l3 0m2-2l1 3m11-4l-2 0m25 5l0 2m68-5l-2 1m220-1l1 1m10-3l0 2m145-1l0 3m37-5l-3 2m11-1l3 1m16-1l3 1m16 0l-1 2m14-3l-1 3m8 2l-3 1m11-1l2 2m-718 1l-2 3m63-5l-1 3m31-1l1 1m59-3l0 2m122-3l1 4m49-3l-2 1m168-2l1 3m16-2l1 2m107 3l0 3m68-6l0 3m47-2l1 0m-626 2l0 2m31-1l-1 1m29 3l1 1m32-4l1 3m23-4l2 2m66 1l-2 0m14-2l1 1m19 1l2 1m100-3l-2 1m29 2l3 0m33-1l-1 2m41-5l3 1m130 1l0 3m14-5l3 2m20 0l0 2m27-1l-3 1m-753 3l0 3m40-1l3 1m92 0l-1 0m10 1l1 0m30-5l4 1m46 3l2 2m17-5l-1 2m10-2l2 3m12-2l4 1m56-1l-1 3m185-3l-2 0m36 0l2 3m52-4l-1 3m46 1l-1 1m30-2l-3 2m21-3l0 4m11-2l-1 2m22-6l-3 1m33-3l0 3m-659 8l-4 1m15-1l1 1m16-3l3 1m26-2l-3 2m92-2l-1 1m15 2l-2 0m105-3l-3 0m15 1l-1 1m41 0l1 1m21-3l1 3m47 1l-2 1m11-1l2 0m10-1l-1 2m35-3l-2 1m9-2l2 3m10-3l0 1m52 2l1 2m23-4l0 2m27-2l0 2m20-2l-1 2m32-2l1 1m26-1l-1 1m-729 7l3 1m3-6l-3 2m47-1l0 1m38 1l-1 2m87-5l3 2m37-3l-2 2m9-1l-1 2m24-1l-1 1m65 3l-1 1m9-3l1 1m4-4l-4 1m105 3l-1 1m12-3l-2 1m15-2l3 2m73 1l2 2m33-4l-1 1m27-1l1 3m30 0l0 2m6-8l1 1m23 4l0 2m27-1l-1 3m23-5l-2 1m24-3l1 1m-738 7l-2 1m30 0l2 1m11-6l-1 2m33-1l3 2m52-2l-1 1m26-1l3 1m5-1l0 2m11 0l2 2m7-1l1 1m28-3l-1 3m83-3l0 1m56 3l1 3m56-7l1 3m9 0l-1 1m14-1l-3 1m26-4l1 2m11-3l-1 3m12-3l-1 2m18 2l1 0m14-3l0 1m22 0l-1 2m12-2l-1 1m43 1l0 3m8-5l-3 0m62-2l-1 0m5 0l3 1m48-1l2 1m-610 7l0 2m47-4l0 2m47-1l3 1m22 2l0 2m102-3l1 1m2-2l-1 3m23-2l0 4m39-3l1 3m21-6l0 3m6-4l0 1m10 0l2 0m6-2l0 2m71 3l-1 3m44-5l-1 3m92-3l-3 1m15 0l-1 1m-619 2l3 3m-2-1l3 1m5-3l0 2m18 2l-4 2m52-4l-2 1m191 1l-2 1m93-3l2 2m61-4l-2 1m14-1l3 1m16 1l-1 2m22-1l1 2m78-6l2 1m64 2l-2 1m28 0l1 1m-599 7l1 1m22-4l3 0m18 2l-2 3m65-5l-3 0m27 0l3 1m30 1l0 3m41-5l-1 3m48 0l2 2m8-7l-2 2m18 0l0 1m25-2l-2 2m102 1l-1 2m-463 3l3 1m3-4l1 1m32 1l1 2m28-2l2 1m18-2l0 1m58 1l2 2m42-4l2 3m52-2l-1 3m26-5l1 1m58 3l1 2m10-2l-3 0m36-2l1 3m39-1l-2 0m14-3l1 2m92-4l-1 2m110 0l1 1m26-2l0 1m-604 6l3 0m24 2l-1 4m47-4l-2 0m20-1l3 1m95-2l-3 2m13 1l1 3m8-2l-1 3m49-6l-1 2m8-2l0 4m41-2l0 3m17-5l1 3m36-2l2 2m14-1l4 1m51-1l1 1m-482 2l1 2m19 1l1 1m8-3l1 3m14-4l1 2m2 0l-3 0m27 1l-4 1m83-1l-2 3m13-7l3 2m21-1l-3 2m7 1l-3 2m39-1l4 0m7-1l-2 2m171-5l1 0m30 3l1 0m15-4l-1 0m53 1l1 0m17 1l-3 3m-516 1l-3 0m10 4l2 0m80-2l1 1m3-4l3 2m8 0l1 1m62-2l0 2m36 1l0 2m90-5l-2 1m5-2l-1 0m14 3l-4 1m33-2l1 1m46-2l-1 2m54-1l3 1m4 2l-2 3m16-5l-1 3m-463 1l-3 2m119-1l-1 3m18 1l3 2m112-6l-2 0m66 3l-4 0m27 1l1 1m9-1l-4 0m16-3l1 2m8 0l2 2m18-5l0 3m46-1l3 2m59-1l0 1m25-4l2 2m9 1l-3 1m-515 0l1 2m14-2l2 3m80 1l0 1m22-2l-2 1m17-3l1 1m33-2l-1 3m49 2l-1 1m42-6l-3 1m60 4l-1 4m26-5l3 0m6 0l2 3m14-5l1 3m154-2l3 1m-530 4l3 1m4 3l2 1m1-5l-2 3m16-2l-2 0m11-1l2 0m13 0l1 2m9-3l1 1m11 1l2 0m79 3l2 2m50-5l-2 2m33-3l0 1m66-2l-2 3m13-3l-1 2m10 2l4 0m182 1l0 3m-469 0l0 2m44 0l1 1m43-6l-3 0m38 2l0 2m15-3l3 1m12 3l2 3m42-6l0 2m16-2l-1 3m8-1l-2 1m30-1l-3 1m13-1l-2 1m19-2l2 0m69 0l0 3m19-1l-1 2m9-1l-2 1m10-6l2 1m26-2l0 1m50 1l-2 0m31 4l-2 1m-519 1l0 1m104 0l3 0m24 2l4 0m85 1l-4 1m43-1l1 0m34-5l0 4m9-4l1 1m42 2l2 1m89-3l0 2m38 2l1 0m-443 1l2 3m81 0l0 2m132-6l-3 1m44 3l-1 3m24-4l0 4m14-6l0 2m33 1l1 1m32-4l2 3m93 1l-1 3m23-8l2 3m-515 4l1 1m17 1l0 2m30-1l-2 0m51-4l-3 2m39 4l1 1m8-6l2 0m98 0l3 1m10-1l2 1m3 4l2 2m22-8l-1 2m74 4l1 0m78-4l-2 4m31-5l1 0m14 2l-1 0m20-2l-3 0m-407 6l-1 1m66 2l-2 2m51-1l-2 0m27-4l2 0m11 3l-2 1m11 0l-2 2m38-3l1 4m30-5l-1 1m8 0l3 1m8-5l1 2m83 3l-4 1m18-5l0 1m39-2l3 2m29 4l-1 2m-431 1l3 1m44-2l-1 3m20-4l1 4m10-4l2 3m14 0l-4 1m103-2l4 1m3 0l2 1m27-5l4 1m51 2l0 2m15-1l4 1m68 0l-2 1m-431 6l3 0m54-4l0 2m70 2l-1 2m21-4l-1 1m42-3l-1 1m10 1l1 3m21-6l0 1m8-2l-3 1m9 4l-2 3m43-7l2 1m171-1l-3 2m-452 6l2 1m39 1l2 0m4-1l-1 3m24-7l1 3m15 1l-3 2m16-1l-1 0m87-1l-3 2m71-5l-1 1m39 1l0 3m82-4l-1 4m63-2l-2 3m8-7l-3 3m17-1l-1 3m30-4l-1 1m10 2l-3 1m-464 5l2 1m48-3l-1 1m123-2l-3 0m21 2l-3 2m46-3l-4 1m21 2l1 1m104-3l-2 2m40-2l1 1m21 1l-4 1m28-4l3 1m-457 4l1 1m58 1l3 0m190 1l-2 2m61-6l-1 1m34 4l0 2m17-6l1 1m4 2l-4 1m13-1l2 1m58-5l1 1m28-1l-1 1m8 3l-3 2m9-1l1 2m-489 5l0 1m40-6l1 4m19-5l0 1m35 0l3 2m10-2l-1 3m18-2l0 3m31-1l1 3m83-6l1 3m25-4l1 1m26 1l-4 1m18-3l-1 1m8 0l1 0m19 1l1 4m63-3l-1 0m5 0l0 1m43-3l-2 1m-377 5l-2 3m19-1l-1 1m26-4l2 1m40 2l-2 2m52-1l-1 3m27-7l1 2m87 1l4 2m24-1l2 1m5 0l4 1m87-2l0 1m-346 4l4 0m213-1l-1 2m82-1l-2 1m62-2l-2 1m-151 4l0 2m13 2l-1 2m12-1l2 2m1-6l-1 2m-129 3l-1 3m136-1l3 1m8 0l0 2m-158 1l0 1m5-1l1 1m50 2l2 3m115-5l-1 2m76 0l0 1m-126 2l1 0m4 4l1 3m33-4l-2 0m-35 8l3 3m11-9l1 2m-323 5l2 2m286 0l-3 0m50-1l1 0m31 0l-2 3m18-5l3 0m-211 11l2 0m60 0l-1 2m15-4l2 3m69 1l2 3m-74 3l2 2m-258 4l1 2m165 8l2 1m33-3l0 2m-26 2l2 1"/>
<path stroke="#8c8c8c" d="M595 40l-3 0m159 3l-2 2m-154 17l2 1m10 1l2 1m228 9l3 2m-233 3l1 1m201-3l-1 3m-172 2l2 0m90 7l-1 0m23 3l-1 0m-160 6l-4 1m332 1l1 0m-557 11l4 2m421-7l-1 2m-458 17l1 3m553 3l-1 2m-523 9l0 3m506-2l2 0m-602 8l1 1m162 14l0 2m166 2l0 2m114-6l-2 1m54 1l-4 0m2 10l1 1m109 0l1 2m11 9l-2 0m-496 7l-1 2m15-1l2 2m22-5l1 1m347 2l-1 1m-198 4l1 3m244 0l3 2m12-6l-1 1m-338 8l-2 0m310-3l-1 1m-304 6l2 2m253 0l0 3m57-2l-2 1m-47 2l2 2m26 1l-2 2m25-7l0 2m23 3l1 1m-434 4l3 2m413-2l0 1m8-4l-2 1m106-2l-1 1m-293 23l1 0m180-4l2 3m40-2l-1 1m-203 3l0 1m16-2l0 2m84 3l-3 1m-268 0l0 2m119 6l1 1m19-1l-1 1m32 0l-3 2m-181 2l-1 0m142 5l0 3m-107 1l0 4m117-3l-2 1m54-3l2 3m-40 6l-1 1m21-6l2 3m-62 7l1 1m-233 16l3 1m69 4l-1 1m-270 6l-1 3m535-6l-2 0m121 1l-2 0m-569 10l0 2m157 2l0 1m131-4l-2 0m-159 12l3 3m56 2l1 3m90-4l2 2m34-5l-2 0m-219 7l-3 1m262-3l0 3m297-1l2 0m-487 6l1 2m499 1l-2 3m-269-1l-2 1m241 2l3 2m-358 3l-1 1m66-2l-1 1m-228 12l1 2m21-1l-2 3m98-5l-3 1m32-4l-1 2m230 1l0 2m-322 6l-1 4m394-4l-2 2m-468-1l1 1m9 3l1 2m4 0l1 1m198-1l1 3m-79 3l2 0m64-3l2 2m390-2l3 1m-731 6l0 2m20-6l3 2m54 1l1 3m92 2l2 2m115-1l3 1m-134 6l1 1m241-2l-2 0m291 1l-3 2m36-2l1 2m-558 2l1 3m120-2l3 1m29-2l1 1m-205 5l2 1m20-3l-3 1m575 3l0 3m-553 3l2 1m8-1l-1 1m15-1l-1 1m362-3l2 0m-393 7l-4 1m36 0l0 2m107-3l-1 4m9-4l0 4m335-5l-1 2m12-1l0 3m-505 5l1 2m31-4l-2 1m81-2l1 4m82-1l0 4m339-6l2 0m-401 4l2 2m86-1l-1 2m29 1l2 2m94-1l1 1m-619 3l1 3m26-6l-1 3m376 0l-2 1m14 0l1 1m164-5l-1 1m173 1l-1 2m9-2l2 0m45-1l-1 2m-820 7l2 2m18-5l-4 0m270 1l4 0m112 3l4 0m48-1l-1 1m401-5l2 2m-678 8l0 1m295-4l-1 1m110 1l-1 2m200-5l-1 2m-533 7l1 1m85 1l2 3m46-7l3 2m40-3l1 1m67-1l0 2m80 2l0 1m256-2l1 1m-790 1l3 0m266 4l2 2m143-4l1 0m59 3l-1 3m41-2l-3 1m23 3l3 1m179 0l1 3m-762-1l0 2m307-2l2 1m11-1l4 2m121-2l1 3m4-1l4 0m145-1l3 1m171-2l1 2m-749 7l1 2m250-2l3 1m137-4l1 0m72 0l-2 1m113 0l-1 1m11 1l-1 1m16-3l0 4m133-2l-3 1m-314 4l0 3m182-5l3 1m32 2l-3 1m122-1l0 2m-586 5l-1 3m236-8l0 3m112 1l0 2m46 0l2 1m-408 0l0 2m260-2l-3 2m26 1l1 1m86-2l-1 2m237-3l-4 0m-612 9l0 1m102-5l1 2m170-1l1 2m22 0l4 1m19-3l-3 1m11 1l0 1m85 1l0 2m111-5l1 3m-595 3l-1 1m344 2l2 1m13-4l0 1m163 1l3 1m-428 2l-1 1m160-2l1 1m202 1l1 2m97 1l0 2m-535 2l-1 1m221-1l0 2m60-5l0 2m17 0l1 1m73-1l3 2m56-3l-2 1m47 0l-2 2m-145 7l0 2m49-2l0 1m29-3l2 1m238-4l-1 2m-711 4l2 1m204 3l2 1m106 0l0 1m-162 1l1 1m131-3l-1 1m174 1l3 2m149 1l1 2m119-7l0 3m-648 5l4 2m8-2l-1 1m296 1l0 1m18-3l3 3m315 1l-2 0m58-5l-3 2m-365 5l-1 4m143-4l-4 0m15 2l0 2m229-4l0 2m-703 7l1 4m37-8l3 1m20 0l-2 1m250-3l3 2m94-1l-3 2m296 2l0 2m33-2l-1 3m-643-1l-2 3m88 0l-1 3m29-4l1 3m282-4l1 2m98 2l3 2m48 1l-1 1m32 0l-1 3m-782 2l2 4m183-4l-1 2m-75 4l0 1m65-4l0 3m230-1l0 3m85-2l-2 1m115 1l2 1m27 0l-1 2m49-3l2 1m3-2l1 2m32-4l0 3m-572 3l3 1m330 0l-2 3m195-1l-1 1m58-1l1 1m13-2l2 1m-561 3l2 3m276 1l-2 1m-390 3l1 1m41-4l-3 2m53-2l-2 0m51 0l-3 1m195 4l0 3m208-9l-4 1m36 5l-1 1m19-1l2 0m-389 2l-2 1m423-1l0 3m8-3l1 2m-591 7l2 1m14-6l1 3m62 3l-1 0m77-4l2 3m141 0l2 1m-421 3l3 2m127 0l-1 1m11-3l3 3m171-6l1 1m77 4l0 1m97 1l-2 1m62 2l1 4m-540 3l0 1m309-6l1 0m131 1l-1 0m75 2l0 1m41-2l2 0m-408 5l2 1m14 3l-3 1m139-2l2 3m25-7l-1 2m129 4l2 0m3-5l1 1m98 0l0 2m45 0l-2 3m-515 3l-2 0m9 0l-3 2m13-3l-1 0m232 0l0 3m14 0l2 1m26-2l2 0m8-3l-3 1m6 3l0 2m23-7l-3 1m28 2l0 2m11-1l-1 1m22 0l-1 2m74-7l-3 0m-590 7l1 0m121 0l-1 3m39 0l1 2m10-6l1 1m34 4l-2 0m63-3l-3 1m44-1l2 1m33 2l0 2m5-8l-1 3m67 0l1 2m59-3l-3 3m39-4l-3 1m17 0l2 3m47-3l3 1m-402 6l1 1m47-1l1 0m136 0l-2 0m34 0l-1 2m10 0l2 3m23-3l2 3m17-5l-3 1m45-4l0 3m17-1l-1 1m131-1l3 0m-636 7l-1 2m58-1l1 1m30-1l1 2m9-2l-1 1m27-4l2 3m73 1l1 1m19-1l3 2m101-5l0 2m89-1l-3 1m21 1l1 0m16-3l1 3m42 0l-3 2m34-4l-1 2m-413 1l1 3m1 2l-2 3m11-3l-1 1m60-5l2 2m89-2l1 3m42 2l0 3m63-7l-2 1m30 2l-1 1m47-1l-4 0m34-2l0 1m31-3l1 3m-471 5l2 1m11 1l-2 0m20-3l-2 2m61 0l1 2m18-2l-1 2m18-3l2 0m40 0l-2 1m21 2l2 3m7-8l2 2m35-3l0 2m118-2l1 0m17 3l3 0m4 1l-3 0m52-1l1 3m22-5l2 1m8 2l-4 1m11 0l1 0m21-4l-2 2m-450 5l1 0m39 4l0 3m30-6l-3 1m8 1l2 3m9-8l2 2m49 2l-2 1m182 0l-4 0m27-4l3 3m55-1l1 1m-407 2l-2 2m19 4l-3 0m8-6l1 2m4 4l-1 2m22-3l-2 3m50-4l-4 1m6-1l0 2m218-3l-1 3m20-5l-2 1m7 4l0 1m18-2l2 1m9-3l3 0m14 2l0 1m7-5l-3 0m11 4l-3 0m11 0l2 0m4-2l1 4m9-7l-2 1m-505 8l3 1m78 0l1 4m38-4l1 3m23-5l1 2m17-2l-3 1m33-2l-2 0m15 0l-2 1m17-2l1 2m156 3l0 4m34-8l0 1m23 1l2 1m3 1l3 0m22-4l-3 0m68 0l-1 3m-497 5l1 4m39-5l4 0m29-1l1 4m8-1l-1 1m100 0l-3 2m18-3l-2 0m8-4l2 2m107-1l0 3m122-3l-1 4m12-2l-1 1m-454 6l2 2m18-3l-3 2m33 1l0 2m26-5l2 1m28 1l-1 2m13-3l0 3m16-6l0 1m60 1l1 2m32-4l1 3m193 0l1 2m29-3l0 3m28-5l2 3m12-2l1 4m-459 2l3 1m7 3l-1 1m15-5l4 1m41 2l-2 1m59-2l1 1m8-1l-1 2m19-1l1 2m30-2l-2 0m3-4l2 1m35 3l-2 2m124-3l-2 2m73-3l-1 4m-447 5l-2 1m64-5l-2 2m89 0l0 1m11 0l-2 2m18-4l-1 3m120-5l-1 3m25-2l4 2m10-4l-2 2m30 1l0 3m7-3l-1 1m66-2l0 4m-445 0l1 3m30 2l-2 2m41-7l-1 2m42 2l-3 2m9-4l0 1m8 1l2 1m17-1l1 1m18-3l-2 1m33 1l1 1m171-5l-1 1m27 0l-1 0m53 0l2 3m15 0l1 1m26-3l-1 2m-490 5l1 0m14 1l0 3m13-3l-1 1m86-1l-1 1m61-1l-1 1m9 1l-2 0m32-2l-2 1m46-3l2 2m38-2l2 1m19 2l-4 1m14-4l-1 2m66-1l0 2m11-3l2 1m6 0l-2 1m11-1l2 2m2-4l4 0m2 1l0 3m49-3l-2 1m-468 5l1 3m41-4l-1 1m77 3l-2 0m39 0l1 0m13-1l-1 2m16-3l-3 0m123 3l3 1m30-3l1 2m37-4l1 1m29 2l0 2m87-5l-1 1m-417 5l0 1m28 1l-4 1m213-3l-1 0m73-2l1 4m12-2l2 1m20 1l2 0m35 2l-1 3m-425 1l0 2m12-3l1 3m3-4l1 1m54-1l-2 2m18 1l-2 1m14-1l-2 1m7-3l-3 1m24-3l-1 2m10 0l0 2m13-1l2 1m3 1l-1 2m57-5l0 3m65-1l-1 2m40-6l-2 0m9 2l-1 3m44-4l-2 0m-393 10l1 1m4-6l-4 1m76 0l1 3m58-2l2 1m3 0l2 1m3-4l-3 0m47 2l-2 3m23-3l0 2m11-5l0 1m5 2l2 2m46-1l-1 1m40-5l1 2m107 4l-2 3m-337-3l1 3m69-1l-1 2m24-1l-3 2m46-3l-1 2m14 1l0 3m129-6l1 4m21 0l-1 1m48-6l1 1m17 2l-2 3m6-4l-1 3m12-1l3 2m-432 3l-2 2m13-5l-1 1m9 3l1 2m67-7l-1 1m59-1l0 1m76 3l-2 1m19-1l2 1m20-2l-1 2m78 1l-2 2m44-5l3 1m11 2l0 1m29-5l-2 3m-334 7l1 2m54-4l-2 2m21-1l-1 3m173-6l2 3m57 0l-1 0m5-2l1 1m-421 3l1 1m75-1l1 1m64 0l4 2m44-2l4 1m5 3l2 3m48-8l-1 2m17 1l0 1m78 0l0 1m7-5l0 1m10 3l-1 1m6-4l1 2m31-1l-2 1m13 0l-2 2m28-4l-1 2m4 2l-1 2m-412 4l-3 2m108-6l-1 2m105-2l0 2m9-1l4 1m28-2l4 1m2 2l1 0m73-2l1 2m45-1l-3 2m23-6l-1 1m-436 6l1 2m11-2l-3 0m153-1l2 2m53 1l0 2m41-3l1 0m27 3l4 0m8-3l2 1m42-1l0 2m29-2l0 3m16-1l-3 1m17 0l0 2m9-2l-1 2m14-4l-3 1m12-2l-3 1m-425 5l1 2m268 1l1 1m92-3l-2 2m23 0l1 0m17-2l-1 1m-392 4l-1 2m19 1l1 2m80-5l0 3m45-4l0 3m30-2l-2 2m12 0l2 0m80-3l3 0m17 1l3 1m-288 6l2 1m26-1l0 2m144-2l-2 0m5-1l0 2m104 1l-3 1m47-6l1 3m-338 6l2 3m52-2l-1 1m33 1l3 1m44-2l-2 3m7-3l3 2m16-6l1 3m59 2l1 3m7-6l-3 2m101 0l1 2m-306 1l-2 0m157 3l-2 1m83-5l-1 1m48 0l3 1m3-2l3 1m-197 7l-1 3m34-5l0 2m144 0l3 2m-255 6l-3 3m91-5l3 2m13-4l1 3m29-2l-3 0m8-1l0 1m75-1l1 2m20 2l0 2m-247 2l-2 0m43 0l-1 2m49-1l-1 1m-60 5l-2 2m135-1l1 3m-180 3l-1 1m15-5l3 0m134 2l1 1m19 0l-2 1m-123 4l2 3m124-4l-1 0m-170 4l0 2m133-1l1 3"/>
<path stroke="#9a9a9a" d="M620 95l2 2m-245 271l0 3m109 25l0 4m40-1l-1 2m-61 61l2 1m328-3l1 2m-589 13l-2 1m278 23l1 3m186-4l-2 1m-210 18l2 1m-341 9l-3 1m565 74l2 0m-336 6l1 4m-116-2l2 3m-25 24l-1 3m285 13l-1 1m-257 5l-2 3m139-4l2 2m66 3l-2 2m29-4l-2 1m-267 3l1 1m212-2l0 2m-368 4l-1 2m98 1l-3 1m25-1l-1 1m25-1l0 1m207-4l1 0m87 0l-2 1m33 2l-1 1m-138 5l-1 1m125-1l1 2m-102 2l0 1m84-1l-1 1m-102 5l-2 2m9-3l1 1m-311 6l-1 3m39-5l-1 2m88-2l0 1m246 1l2 0m-290 9l0 4m83-9l-1 1m110 1l-1 4m53-5l-3 0m-246 9l1 3m97-4l-1 2m-106 3l0 4m38-3l1 0m219-2l-2 1m93-1l2 2m34-3l0 3m-441 9l1 1m18-2l1 2m58-6l0 2m16 3l-2 0m13-1l1 1m8-2l3 1m192-1l1 1m20-2l1 2m9-1l0 1m52 1l-2 1m-431 3l-1 2m125-4l3 1m209-2l0 4m28 0l4 1m3-2l-3 2m14-5l3 1m91 2l3 0m-385 3l-2 2m21-3l-1 1m58 1l-1 0m173 2l-2 3m51-6l0 3m78-4l1 2m-483 5l-1 1m15-1l-2 2m28-2l-4 1m38 3l-2 1m85-3l0 3m163-2l3 1m56 0l-2 1m54-4l-2 0m26-2l1 1m-429 5l1 2m37 0l0 2m-62 7l4 0m299-5l1 1m6 2l0 4m-314 3l2 3m92-4l2 2m27-3l-1 2m90-2l-1 1m131-3l-2 2m35 3l2 1m-338 2l1 1m50-2l-1 2m252 3l-2 1m27-3l-1 3m26-6l-3 1m-383 9l4 1m386-1l-4 1m15-5l-1 2m-405 5l-3 1m94-3l2 1m-90 10l2 1m67-2l1 1m96-3l-1 3m26-2l3 2m46-1l-1 3m40-2l-3 2m21-2l0 1m38-3l-1 3m38-2l1 2m10-1l-1 2m-408-1l-2 4m7-4l2 0m21 5l0 2m42-4l-1 1m11 0l-2 1m65-4l0 3m18 0l1 0m22 1l-2 2m43-6l1 3m6 0l0 2m16-6l1 1m28 1l-1 3m45-1l1 2m17-3l1 1m43 1l1 2m31-5l2 3m-413 6l-1 0m34 0l1 1m9-4l0 1m13-2l-2 2m76 2l-3 0m50 0l2 1m39-1l-3 1m20-4l0 1m112-2l-2 2m-354 8l3 0m58-3l2 3m10-3l3 1m15-3l1 3m11-1l2 3m66 0l0 1m24-5l-1 1m47 1l-2 2m31-3l1 1m126-2l-3 2m-364 5l-2 1m27 3l-1 1m33-2l-4 1m8-2l-3 2m25-1l-3 2m31-1l2 2m88-7l-3 1m76 2l2 1m23-1l3 1m-267 2l2 0m0 2l-2 1m66 0l-4 1m38 0l3 1m83-1l-2 1m127-1l-1 3m14-7l0 1m9 1l-1 0m-369 4l-1 2m17-2l-1 2m1 2l0 2m33-3l0 3m38-6l-3 3m36 0l-2 3m25-4l3 1m31-4l-2 1m30 2l0 2m5 0l-1 2m22-5l1 4m96-5l3 1m6 2l1 2m-368 2l-1 3m57-1l0 2m27-2l1 1m13-2l-1 2m12 0l-3 1m23-5l-3 2m16 2l2 0m18-1l1 2m51-2l-1 0m5-3l-1 3m11 1l1 1m40-4l3 2m116 0l-1 1m-221 7l-1 1m34-6l-2 3m10-2l4 0m25 0l2 2m59-1l-1 2m-293 7l-1 0m15-2l2 2m9-5l-2 2m10 0l2 3m-1-4l-1 1m33 1l3 2m11-5l-2 1m18-2l1 2m11-1l0 2m65-2l4 0m6 5l-3 1m11-2l1 2m4-2l2 1m33-2l-3 2m6-2l1 4m-226-1l1 0m84 3l-2 1m5 0l-1 3m66-8l1 2m52 3l0 3m-206-2l-2 2m41 0l1 2m21-2l1 1m15 1l2 3m26-4l1 3m72-1l0 4m5-6l-1 1m-156 4l-1 2m10-4l-1 1m35-1l3 1m44 4l0 4m27-6l-2 1m7-3l-2 1m52 3l2 3m-203 0l-4 1m31 1l-2 3m30-2l0 3m18-3l1 1m50-5l2 1m29 1l1 1m24-2l0 1m-176 7l2 2m54-1l2 0m23 0l-1 1m18-4l0 3m18 0l2 0m18-1l0 3m-126 5l0 2m11-3l-3 2m37-6l-2 3m63 2l-3 1m11-3l-1 1m-124 4l0 4m42-4l0 4m62-7l0 3m-92 4l1 2m51 0l-1 3"/>
<path stroke="#a8a8a8" d="M570 498l-1 2m-166 37l-2 3m-8 123l-4 0m-173 1l-1 0m188 42l-2 1m111 0l1 2m-31 4l2 3m-150 11l1 2m59 13l-2 0m-251 5l-3 0m229 3l-1 2m128 9l-1 2m-356 19l0 1m8-2l4 1m250 0l-1 2m-369 2l2 3m94-3l2 0m19 0l4 1m109 0l-2 2m20-1l-3 2m-222 3l-1 3m21-2l0 3m46-4l3 1m44-1l3 1m-133 2l-2 3m69-1l0 1m284-2l0 3m19-1l0 1m-301 6l-2 3m26-2l0 2m26-4l-2 0m23-2l0 2m3 0l2 1m60-2l-1 4m37-3l2 1m-200 6l4 1m8-2l3 2m6-3l-1 3m55-2l-3 3m-97 1l-1 3m68 1l-4 2m23-5l-2 0m80 0l-2 0m46 3l-1 3m16-4l-2 2m-206 3l3 2m65-2l2 2m111-4l1 3m-207 5l2 2m15-3l1 1m12 2l2 1m196-6l3 0m13 4l0 1m-230 4l-1 4m67-3l-2 1m92-3l-1 3m35-1l3 2m-220 2l0 1m14-3l2 3m35 0l-3 1m7-1l-1 0m26 3l-2 3m-3 5l-4 0m-82 5l-3 1m36-1l-2 1m5-1l3 1m21-3l-2 2m13-1l-3 2m55-1l-1 2m-95 5l-1 3m99-3l-3 2m65-2l-4 0m-161 5l-1 3m7-4l-2 2m41 1l-1 2m-81 4l-1 3m78-5l-1 1m12 1l-2 2"/>
<path stroke="#b6b6b6" d="M110 782l1 2m4 1l-2 2m18 8l0 2m-54 9l3 1m52-4l2 1m-73 10l-3 0m45 26l2 1m-41 8l-1 3m41 8l-2 1m-5 8l-1 3"/>
<path stroke="#c4c4c4" d="M148 844l-4 1"/>
</g>
</defs>
<use href="#nuc2" opacity=".8" style="filter:blur(2.5px)"/>
<use href="#nuc2" style="filter:blur(.7px)"/>
<path transform="scale(.5)" fill="none" stroke="#e0e0e0" stroke-linecap="round" stroke-width="3" d="M638 18l0 0m-483 33l0 0m52 2l0 0m578 5l0 0m-173 46l0 0m106 24l0 0m-102 23l0 0m-205 25l0 0m9-4l0 0m-82 6l0 0m-193 9l0 0m38 3l0 0m524 36l0 0m85 29l0 0m11-1l0 0m-628 25l0 0m370-1l0 0m-449 26l0 0m316 25l0 0m385 1l0 0m-84 13l0 0m-149 3l0 0m145 1l0 0m41 3l0 0m-386 4l0 0m-174 6l0 0m387 4l0 0m-371 11l0 0m-57 53l0 0m661 6l0 0m-635 9l0 0m378 6l0 0m242 5l0 0m-317 9l0 0m-462 3l0 0m420 18l0 0m-14 48l0 0m-130 14l0 0m-82 7l0 0m139 2l0 0m203 7l0 0m-215 8l0 0m-309 23l0 0m29 24l0 0m574 32l0 0m-419 19l0 0m23 20l0 0m-191 28l0 0m289 18l0 0m39 1l0 0m-266 37l0 0m115 16l0 0m-31 21l0 0m23 43l0 0" style="filter:blur(.4px)"/>
<path d="M30 8l3 2M32 16l2 1" stroke="#c020c8" stroke-width="2" fill="none"/>
<rect x="383.6" y="444.2" width="72" height="9.2" fill="#fff"/>
</g>
<circle cx="1680.6" cy="1138.1" r="9.9" fill="#dd12ec"/>
<circle cx="1680.6" cy="1265.8" r="9.9" fill="#1e9fe6"/>
<ellipse cx="1680.3" cy="1410.6" rx="8.4" ry="9.9" fill="#808080"/>
<text x="0" y="0" font-size="32.4" textLength="95.6" lengthAdjust="spacingAndGlyphs" transform="translate(1668.8 1150.2) rotate(90)">α-SMA</text>
<text x="0" y="0" font-size="32.4" textLength="103.4" lengthAdjust="spacingAndGlyphs" transform="translate(1668.8 1285.2) rotate(90)">POSTN</text>
<text x="0" y="0" font-size="32.4" textLength="67.4" lengthAdjust="spacingAndGlyphs" transform="translate(1668.8 1428.8) rotate(90)">DAPI</text>
</g>
<g id="labels">
<text x="-2.8" y="27.8" font-size="37.6" font-weight="bold" fill="#262626">a</text>
<text x="750.1" y="27.8" font-size="37.6" font-weight="bold" fill="#262626">b</text>
<text x="9.6" y="768.7" font-size="37.6" font-weight="bold" fill="#262626">c</text>
<text x="1018.8" y="765.9" font-size="37.6" font-weight="bold" fill="#262626">d</text>
<text x="101.5" y="2004.7" font-size="37.6" font-weight="bold" fill="#262626">e</text>
<text x="948.3" y="2004.3" font-size="37.6" font-weight="bold" fill="#262626">f</text>
</g>
</svg>
</body></html>
